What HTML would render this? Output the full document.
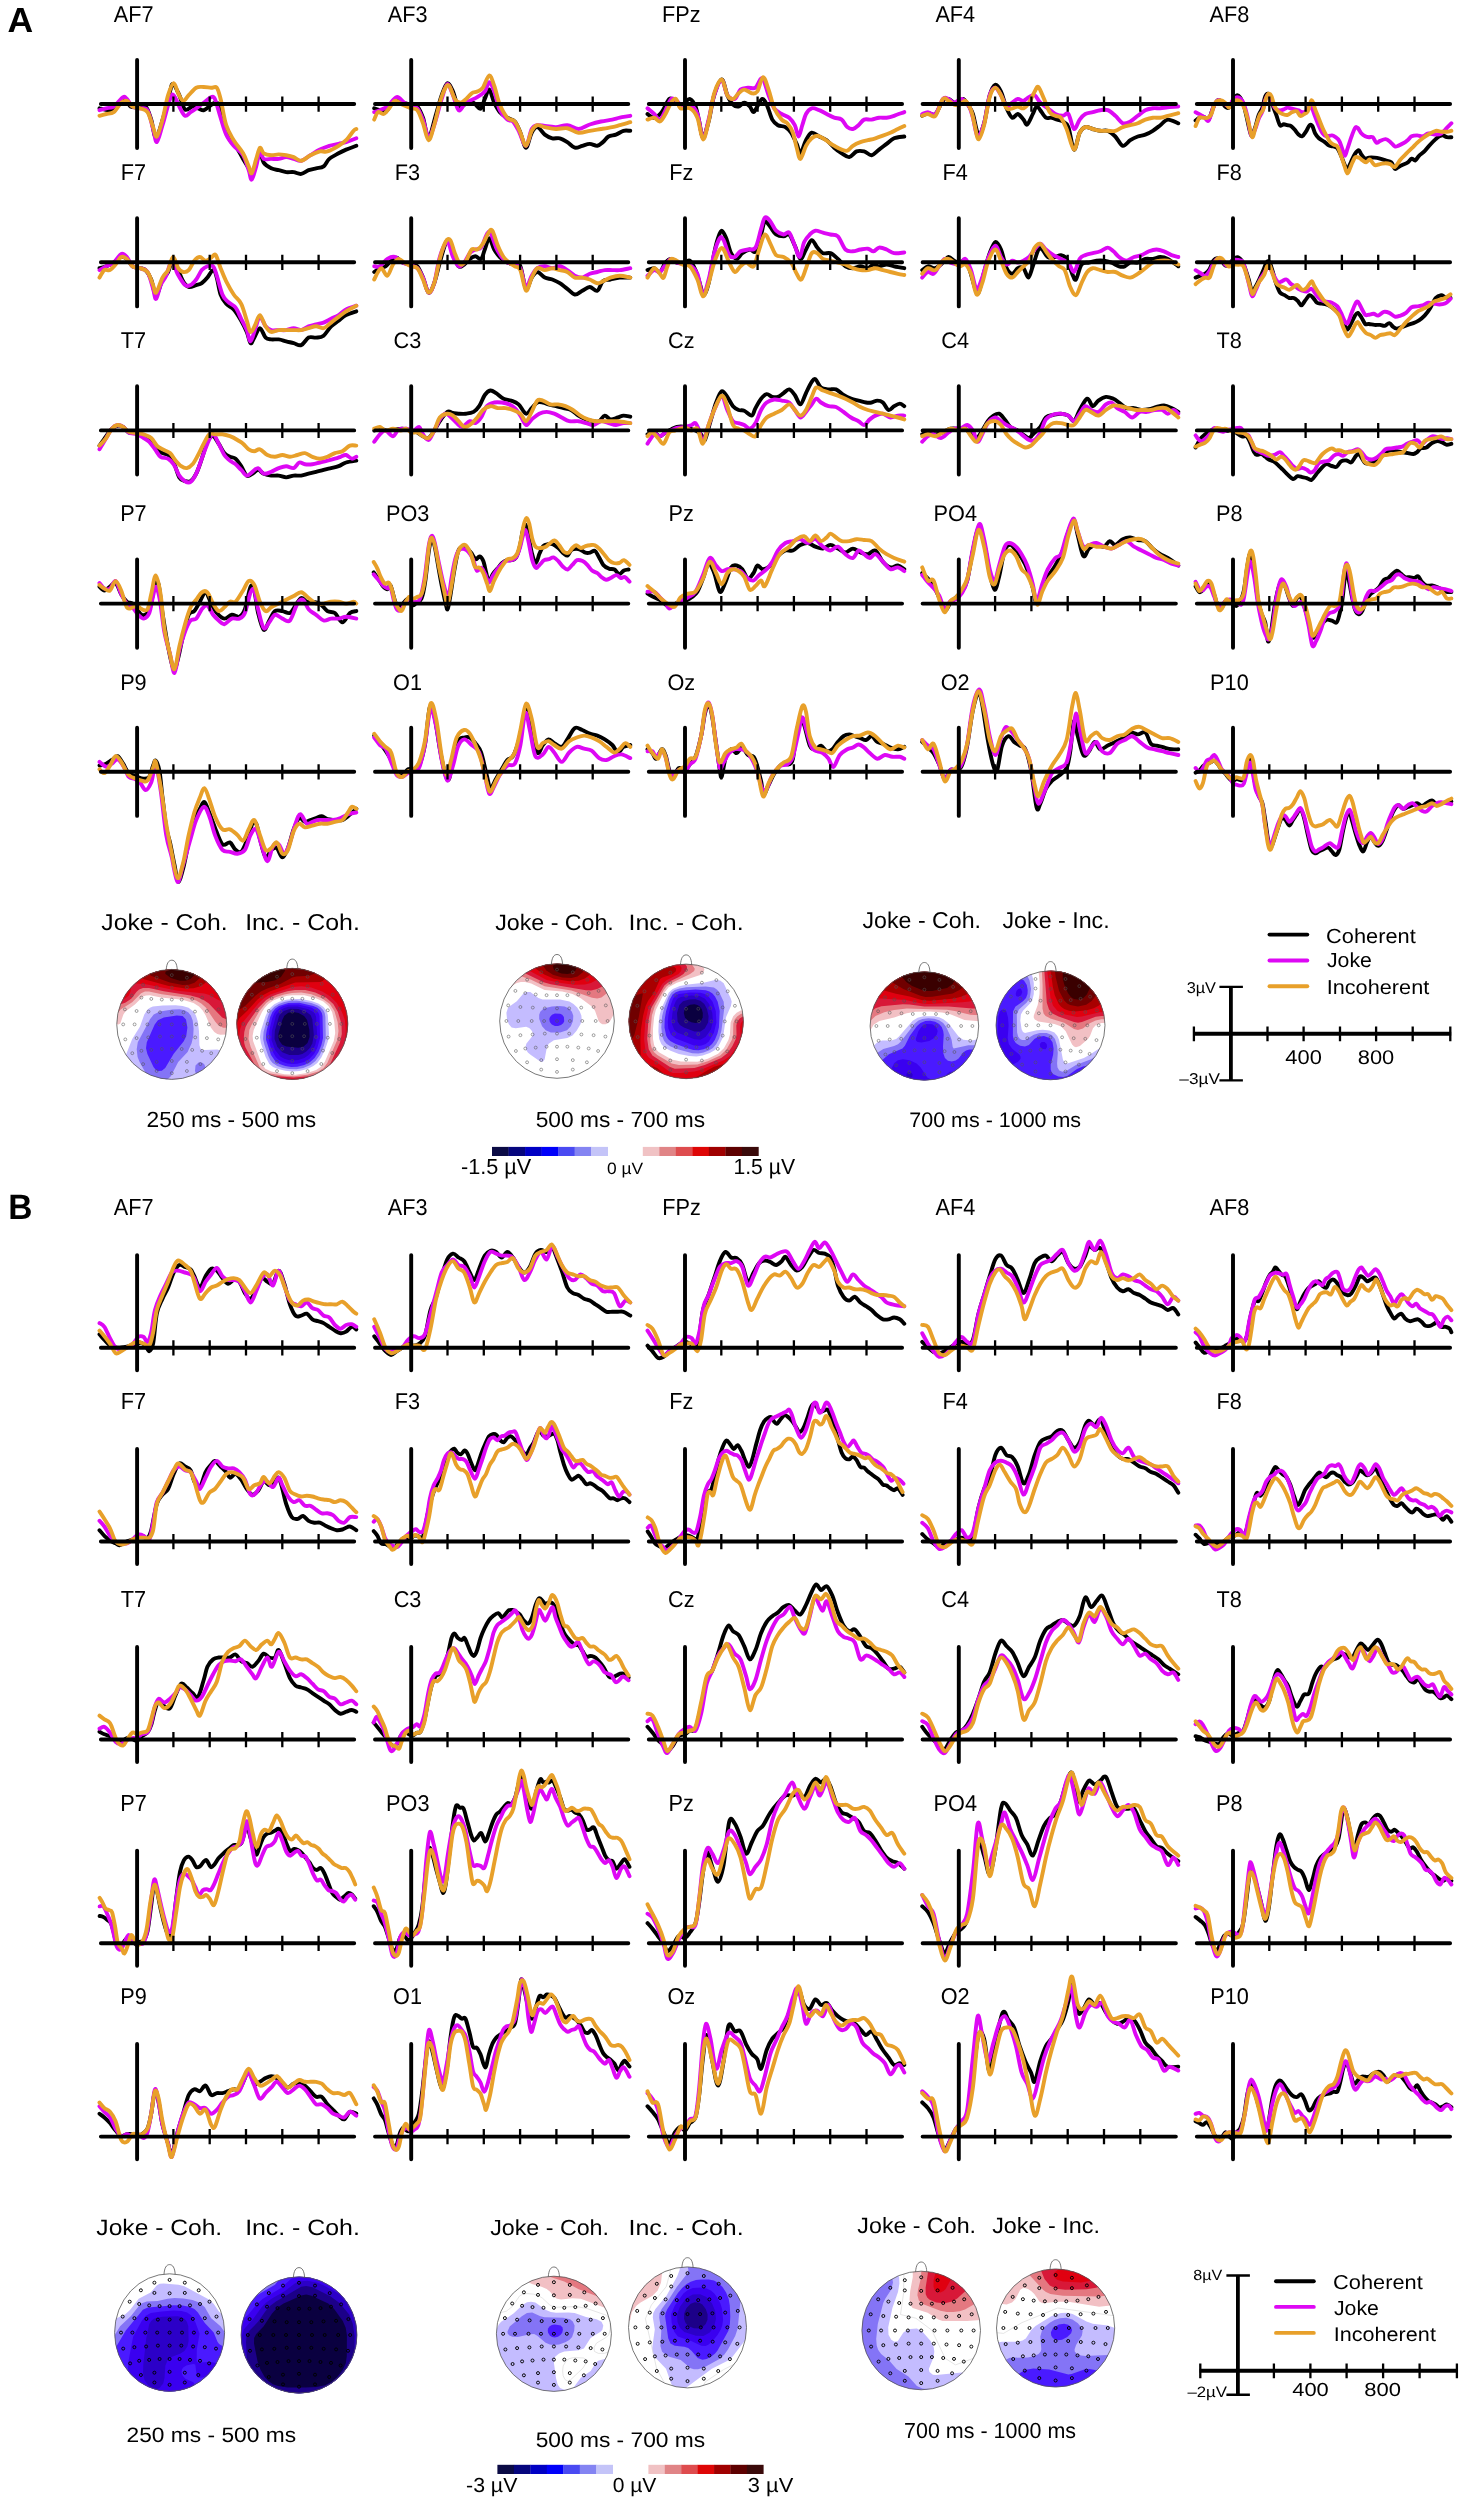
<!DOCTYPE html>
<html><head><meta charset="utf-8"><style>
html,body{margin:0;padding:0;background:#fff;}
svg{display:block;font-family:"Liberation Sans",sans-serif;}
svg{will-change:transform;}
text{text-rendering:geometricPrecision;}
</style></head><body>
<svg xmlns="http://www.w3.org/2000/svg" width="1462" height="2500" viewBox="0 0 1462 2500">
<text transform="matrix(0.3559 0 0 0.3478 7.48 32.00)" font-size="100" font-weight="bold">A</text><text transform="matrix(0.3345 0 0 0.3511 8.34 1219.42)" font-size="100" font-weight="bold">B</text><g fill="none" stroke-linejoin="round" stroke-linecap="round" stroke-width="3.9"><path d="M99.5,108.3c1.7,.4 7.5,2.4 10.5,1.9s5-2.8 7.5-4.5s5.3-5.7 7.5-5.6s3.6,5.2 5.6,6.4s3.9,.7 6.4,.7s6.2-2.8 8.6-.7s3.9,8 5.6,13.1s2.7,18.5 4.9,17.6s5.9-15.6 8.2-23.2s4.2-17.5 5.7-22.5s1.4-8.1 3-7.5s4.3,7 6.3,11.2s3.5,12.4 5.7,14.3s5.3-2.8 7.5-3s3.7,1.2 5.6,1.8s3.7,2.2 5.6,1.9s3.7-2.5 5.6-3.7s4-3.7 5.6-3.8s3-.7 4.5,3s3.2,13.8 4.9,19.5s3.8,11.6 5.6,15s3.5,2.5 5.7,5.6s5.3,9.4 7.5,13.1s4.1,6.9 5.6,9.4s1.7,6.6 3,5.6s3.1-7.5 4.5-11.2s2.5-11.3 3.7-11.3s1.9,8.5 3.8,11.3s5,4.4 7.5,5.6s5,1.3 7.5,1.9s5,1.5 7.5,1.9s5-.4 7.5,0s5,2.2 7.5,1.8s5-2.8 7.4-3.7s5-1.3 7.5-1.9s5.4-.3 7.5-1.9s3.2-5.3 5.7-7.5s6.5-4 9.3-5.6s4.6-2.5 7.5-3.7s8.5-3.1 10.2-3.8" stroke="#000000" /><path d="M99.5,110.2c1.1-.3 4.4-1.2 6.7-1.9s4.7,0 7.5-1.8s7.2-8.2 9.4-9.4s2.2,.3 3.8,1.9s3.4,5.9 5.6,7.5s5,1.2 7.5,1.8s5.3-1.5 7.5,1.9s4,13.5 5.6,18.8s2.2,13.7 3.7,13.1s3.5-9.7 5.7-16.9s5.6-21.2 7.5-26.2s2.1-5 3.7-3.8s3.8,7.8 5.6,11.3s3.8,8.4 5.7,9.3s3.7-2.5 5.6-3.7s3.4-2.2 5.6-3.8s5-3.7 7.5-5.6s5.6-5 7.5-5.6s2.2-1.6 3.7,1.9s3.8,12.8 5.7,18.7s3.4,12.2 5.6,16.9s4.7,7.8 7.5,11.2s6.9,5.3 9.4,9.4s4.1,10.9 5.6,15s1.7,10 3,9.4s3.1-8.5 4.5-13.2s2.5-13.7 3.7-15s1.9,6.3 3.8,7.5s5,0 7.5,0s5,.4 7.5,0s5-1.8 7.5-1.8s5,1.2 7.5,1.8s4.6,2.5 7.5,1.9s6.2-3.7 9.3-5.6s6.3-4.1 9.4-5.6s6.2-2.8 9.4-3.8s6.5-1.2 9.3-1.9s4.6-.9 7.5-1.8s8.5-3.1 10.2-3.8" stroke="#dd08f4" /><path d="M99.5,115.8c1.1-.3 4.4-1.2 6.7-1.8s5,0 7.5-1.9s5.4-7.5 7.5-9.4s3.8-2.5 5.7-1.9s3.4,4.4 5.6,5.7s5,.9 7.5,1.8s5.3,.7 7.5,3.8s4,10.9 5.6,15s2.2,10.6 3.7,9.4s3.8-10 5.7-16.9s3.7-18.3 5.6-24.4s3.9-11.7 5.6-12s2.9,7.2 4.5,10.1s3.1,7.2 4.9,7.5s3.4-3.4 5.6-5.6s5-6.1 7.5-7.5s5-.7 7.5-.7s5.3,.6 7.5,.7s4.1-1.8 5.6,0s2.2,5 3.8,11.3s3.4,19.3 5.6,26.2s4.7,10.3 7.5,15s6.9,8.7 9.4,13.1s4.1,9.8 5.6,13.1s1.7,8 3,6.8s3.1-10 4.5-14.3s2.5-10.3 3.7-11.2s1.9,4.4 3.8,5.6s5,1.7 7.5,1.9s5-.8 7.5-.8s5,.4 7.5,.8s5,.9 7.5,1.9s4.6,4 7.5,3.7s6.2-4 9.3-5.6s6.6-3.1 9.4-3.8s4.4,1 7.5,0s8.1-3.7 11.2-5.6s5-3.1 7.5-5.6s5.8-7.5 7.5-9.4s2.2-1.5 2.7-1.8" stroke="#e8a02a" /><path d="M374.2,108.3c1,.4 3.8,1.3 5.7,1.9s3.7,2.8 5.6,1.9s3.7-5.3 5.6-7.5s3.8-5.3 5.6-5.6s3.3,2.8 5.7,3.7s6.1,1.3 8.6,1.9s4.4-.3 6.4,1.9s3.7,6.1 5.6,11.2s3.4,20.1 5.6,19.5s5.3-16.2 7.5-23.2s3.7-13.7 5.6-18.8s3.8-11.3 5.6-12s3.8,4.1 5.7,8.3s3.7,14.7 5.6,16.8s3.7-2.9 5.6-3.7s4.1-.8 5.6-1.1s2.5-1.3 3.8-.8s2.5,2.8 3.7,3.8s2.5,3.1 3.8,1.8s2.3-6.2 3.7-9.3s3-10 4.5-9.4s3.1,9.4 4.9,13.1s3.4,6.9 5.6,9.4s5,4 7.5,5.6s5.3,1.3 7.5,3.8s3.8,6.8 5.6,11.2s3.8,15 5.6,15s3.8-11.6 5.7-15s3.4-5.9 5.6-5.6s5,5.6 7.5,7.5s5,3.1 7.5,3.7s5-.6 7.5,0s5,2.2 7.5,3.8s5,5 7.5,5.6s5-1.2 7.5-1.9s5-1.9 7.5-1.9s5.3,2.2 7.5,1.9s3.7-2.2 5.6-3.7s3.4-4.4 5.6-5.6s5-1 7.5-1.9s5.1-3.1 7.5-3.8s5.6,0 6.8,0" stroke="#000000" /><path d="M374.2,112.1c1-.3 3.5-.9 5.7-1.9s4.7-1.5 7.5-3.7s6.5-8.8 9.3-9.4s5.2,4.1 7.5,5.6s4.6,2.8 6.8,3.8s4.4-.3 6.4,1.8s3.7,6.5 5.6,11.3s3.7,16.7 5.6,17.6s3.4-5.6 5.6-12s5.3-19.4 7.5-26.2s3.8-14.4 5.6-15s3.8,6.8 5.7,11.2s3.7,13.5 5.6,15s3.7-4 5.6-5.6s3.4-2.5 5.6-3.8s5-2.1 7.5-3.7s5.5-3.1 7.5-5.6s3-9.4 4.5-9.4s3.1,4.7 4.9,9.4s3.4,14 5.6,18.7s5.3,7.5 7.5,9.4s3.8,0 5.6,1.9s3.5,5.3 5.7,9.3s5.3,15.3 7.4,15s3.8-13.4 5.7-16.8s3.4-3.3 5.6-3.8s4.4,.4 7.5,.8s7.5,1.2 11.2,1.1s7.5-2.2 11.3-1.9s7.5,3.9 11.2,3.8s7.5-3.3 11.3-4.5s7.5-2.2 11.2-3s8.1-1.3 11.3-1.9s4.5-1.3 7.5-1.9s8.7-1.5 10.5-1.9" stroke="#dd08f4" /><path d="M374.2,119.6c.7-1.3 2.2-6.6 3.8-7.5s3.7,2.5 5.6,1.9s3.8-3.5 5.6-5.7s3.5-6.8 5.7-7.5s4.8,2.6 7.5,3.8s6.1,2.8 8.6,3.7s4.4-.6 6.4,1.9s3.7,8.1 5.6,13.1s3.7,16.6 5.6,16.9s3.7-8.7 5.6-15s3.8-16.2 5.6-22.5s4.1-12.2 5.7-15s2.1-3.7 3.7-1.9s3.8,10.4 5.6,13.2s3.8,3.7 5.7,3.7s3.7-2.2 5.6-3.7s3.7-4.4 5.6-5.7s3.8-.9 5.6-1.8s3.7-1.1 5.6-3.8s4.5-12 6.4-12.3s3.1,5.6 4.9,10.4s3.4,13.5 5.6,18.8s5,10.3 7.5,13.1s5.3,1.3 7.5,3.8s3.8,7.1 5.6,11.2s3.8,13.4 5.6,13.1s3.8-11.5 5.7-15s3.4-5 5.6-5.6s4.4,1.3 7.5,1.9s7.5,1.7 11.2,1.9s7.5-1.4 11.3-.8s7.5,4.1 11.2,4.5s7.5-1.2 11.3-1.9s7.5-1.2 11.2-1.8s8.1-1.3 11.3-1.9s4.5-1.1 7.5-1.9s8.7-2.5 10.5-3" stroke="#e8a02a" /><path d="M647.5,114c1.1,.6 4.4,4 6.7,3.7s5-2.5 7.5-5.6s5.4-11.3 7.5-13.1s3.8,.6 5.7,1.8s3.9,5.4 5.6,5.7s2.9-2.5 4.5-3.8s3.1-4.4 4.9-3.7s4,3.7 5.6,7.5s2.5,9.8 3.7,15s2.2,15.7 3.8,15.7s3.7-8.7 5.6-15.7s3.4-19.3 5.6-26.3s5.3-15.7 7.5-15.7s3.8,11.5 5.6,15.7s3.8,7.5 5.7,9.4s3.7,2.2 5.6,1.9s3.7-3.8 5.6-3.8s4.1,2.2 5.6,3.8s2.5,5.6 3.8,5.6s2.3-3.4 3.7-5.6s3.3-7.2 4.9-7.5s2.8,2.2 4.5,5.6s3.7,11.6 5.6,15s3.5,4.4 5.6,5.6s5.4,.6 7.5,1.9s3.8,2.8 5.7,5.6s4,7.8 5.6,11.2s2.2,10 3.7,9.4s3.8-9.7 5.6-13.1s3.5-6.9 5.7-7.5s5,2.5 7.5,3.8s5,1.8 7.5,3.7s5,5.3 7.5,7.5s5,4.1 7.5,5.6s5,4.1 7.5,3.8s5-4.7 7.4-5.7s5-.6 7.5,0s5.1,4.1 7.5,3.8s5-3.8 7.5-5.6s5-3.8 7.5-5.7s4.6-4.3 7.5-5.6s8.5-1.5 10.2-1.8" stroke="#000000" /><path d="M647.5,108.3c1.1,1 4.7,3.8 6.7,5.7s3.8,6.2 5.7,5.6s3.7-5.9 5.6-9.4s3.7-9.7 5.6-11.2s3.8,.6 5.6,1.8s3.5,5 5.7,5.7s5-3.2 7.5-1.9s5.3,3.7 7.5,9.4s3.7,23.4 5.6,24.3s3.7-11.5 5.6-18.7s3.4-17.8 5.6-24.4s5.3-15 7.5-15s3.5,11.9 5.6,15s5.3,4.7 7.5,3.8s3.5-7.5 5.7-9.4s5-1.6 7.5-1.9s5.1,1.6 7.5,0s4.5-10.6 6.7-9.3s4.4,11.8 6.4,16.8s3.4,10 5.6,13.1s5,4.1 7.5,5.7s5.3,1.8 7.5,3.7s4,4.4 5.6,7.5s2.5,11.3 3.7,11.3s2.5-7.5 3.8-11.3s2.2-8.4 3.7-11.2s3.5-5 5.7-5.7s5,1 7.5,1.9s5,2.5 7.5,3.8s5,2.8 7.5,3.7s5.3,.3 7.5,1.9s3.7,5.9 5.6,7.5s3.7,2.2 5.6,1.9s3.8-2.2 5.6-3.8s3.5-4.7 5.6-5.6s5.1,.3 7.5,0s5-1.6 7.5-1.9s5,.3 7.5,0s4.6-.9 7.5-1.9s8.5-3.1 10.2-3.7" stroke="#dd08f4" /><path d="M647.5,119.6c1.1-.3 4.7-2.2 6.7-1.9s3.8,4.4 5.7,3.8s3.7-4.4 5.6-7.5s3.9-8.8 5.6-11.3s3.3-4.7 4.9-3.7s2.2,7.8 4.5,9.3s6.5-1.5 9.4,0s5.3,4.2 7.5,9.4s3.7,21.1 5.6,21.7s3.7-10.3 5.6-17.9s3.4-21.2 5.6-28.2s5.3-14.1 7.5-13.8s3.8,12.5 5.6,15.7s3.8,4.1 5.7,3.8s3.7-4.1 5.6-5.7s3.4-3.7 5.6-3.7s5.3,3.4 7.5,3.7s3.7,.9 5.6-1.8s3.8-14 5.7-14.3s3.7,7.2 5.6,12.4s3.4,13.7 5.6,18.7s5.3,8.8 7.5,11.3s3.7,1.6 5.6,3.7s4.1,5.4 5.6,9.4s2.5,10.6 3.8,15s2.2,11.6 3.7,11.2s3.8-9.6 5.6-13.1s3.8-5.8 5.7-7.5s3.7-2.6 5.6-2.6s3.7,1.6 5.6,2.6s3.8,2.5 5.6,3.8s3.5,2.5 5.7,3.7s5.3,3 7.5,3.8s3.7,1.7 5.6,1.1s3.4-3.4 5.6-4.9s5-2.8 7.5-3.7s5-1.3 7.5-1.9s5-1.1 7.5-1.9s5-1.7 7.5-2.6s5-1.9 7.5-3s5.2-2.6 7.5-3.7s5.3-2.5 6.4-3" stroke="#e8a02a" /><path d="M922.2,115.8c1-.4 3.5-2.3 5.7-2.6s5,2.8 7.5,.8s5.3-10.7 7.5-13.2s3.7-2.1 5.6-1.8s3.9,3.1 5.6,3.7s3.3,.6 4.9,0s2.8-4.4 4.5-3.7s4,5 5.6,7.5s2.2,2.8 3.8,7.5s3.7,19 5.6,20.6s3.7-4.7 5.6-11.3s3.7-21.6 5.6-28.1s3.8-9.8 5.6-10.5s3.8,2.8 5.7,6.8s3.7,12.5 5.6,16.8s3.7,8.5 5.6,9.4s3.8-4 5.6-3.7s4.1,3.8 5.7,5.6s2.1,5.8 3.7,4.9s4.1-7.5 5.6-10.5s2.5-6.9 3.8-7.5s2.2,1.8 3.7,3.7s3.8,6.3 5.6,7.5s3.8-.3 5.7,0s3.7,1.3 5.6,1.9s3.7,.6 5.6,1.9s3.8,.9 5.6,5.6s3.8,21.5 5.6,22.5s3.8-13.1 5.7-16.9s3.4-5 5.6-5.6s5,1.2 7.5,1.9s5,1.5 7.5,1.8s5-.9 7.5,0s5,3.2 7.5,5.7s5,8.7 7.5,9.3s5-4 7.5-5.6s5-2.8 7.5-3.7s5-1 7.5-1.9s5-2.2 7.5-3.8s5-3.7 7.5-5.6s4.5-5.3 7.5-5.6s8.7,3.1 10.5,3.7" stroke="#000000" /><path d="M922.2,114c1-.3 3.5-1.9 5.7-1.9s5,4.1 7.5,1.9s5.3-12.5 7.5-15s3.7-.7 5.6,0s3.4,3.7 5.6,3.7s5-4.4 7.5-3.7s5.6,4.3 7.5,7.5s2.3,6.2 3.8,11.2s2.9,17.8 4.8,18.8s4.4-6.3 6.4-13.2s3.7-22.1 5.6-28.1s3.8-7.5 5.6-7.5s3.8,4.4 5.7,7.5s3.7,10 5.6,11.3s3.7-2.5 5.6-3.8s3.8-3.4 5.6-3.7s3.8,2.2 5.7,1.8s3.7-2.8 5.6-3.7s3.7-2.8 5.6-1.9s3.4,5.3 5.6,7.5s5,3.8 7.5,5.6s5,4.4 7.5,5.7s5.3,1.8 7.5,1.8s3.8-4 5.6-1.8s3.8,14 5.6,15s3.8-6.9 5.7-9.4s3.4-4.4 5.6-5.6s5-1.3 7.5-1.9s5-1.6 7.5-1.9s5-.9 7.5,0s5,3.5 7.5,5.6s5,6.6 7.5,7.5s5-.6 7.5-1.8s5-3.8 7.5-5.7s5-4.3 7.5-5.6s5-1.5 7.5-1.9s5,.2 7.5,0s4.5-.8 7.5-1.1s8.7-.6 10.5-.7" stroke="#dd08f4" /><path d="M922.2,115.8c1-.3 3.5-1.8 5.7-1.8s5,4.3 7.5,1.8s5.3-14.3 7.5-16.8s3.7,.9 5.6,1.8s3.7,3.2 5.6,3.8s3.8,.6 5.6,0s3.8-4.7 5.7-3.8s4,5.4 5.6,9.4s2.5,10.1 3.7,15s2.2,14.2 3.8,14.2s3.7-7.1 5.6-14.2s3.7-21.9 5.6-28.1s3.8-9.1 5.6-9.4s3.8,4.1 5.7,7.5s3.7,11 5.6,13.1s3.7,.4 5.6,0s3.8-1.8 5.6-1.8s3.8,2.5 5.7,1.8s3.7-2.8 5.6-5.6s4-8.6 5.6-11.2s2.2-5.8 3.7-4.5s3.8,7.8 5.7,12s3.7,10.3 5.6,13.1s3.7,2.8 5.6,3.7s3.8-.3 5.6,1.9s3.5,6 5.7,11.3s5.3,19.9 7.4,20.6s3.8-13.1 5.7-16.9s3.4-5 5.6-5.6s5,1.2 7.5,1.9s5,1.5 7.5,1.8s5,0 7.5,0s5,.7 7.5,0s5-2.8 7.5-3.7s5-1.3 7.5-1.9s5-.9 7.5-1.9s5-2.8 7.5-3.7s5-1.6 7.5-1.9s5,.3 7.5,0s4.5-1.1 7.5-1.9s8.7-2.1 10.5-2.6" stroke="#e8a02a" /><path d="M1195.6,120.6c.6-.5 2.3-2.2 3.7-2.8s3.1-1.3 4.7-1s3.1,4.4 4.6,2.8s3.1-8.8 4.6-12s3.3-6.5 4.7-7.4s2.4,.7 3.7,1.8s2.5,3.7 3.7,4.7s2.5,1.7 3.7,.9s2.5-3.6 3.7-5.6s2.5-5.7 3.7-6.5s2.5,.2 3.7,1.9s2.6,5.1 3.7,8.3s1.6,6.2 2.8,11.1s3.2,16.7 4.6,18.6s2.5-4 3.8-7.4s2.4-9.6 3.7-13s2.6-4.3 3.7-7.4s1.8-8.8 2.8-11.1s1.8-3.1 2.7-2.8s1.9,2.3 2.8,4.6s1.9,6.5 2.8,9.3s1.7,4.5 2.8,7.4s2.4,8.6 3.7,10.2s2.4-.9 3.7-.9s2.5,.6 3.7,.9s2.5,.1 3.7,.9s2.5,2.3 3.7,3.7s2.5,3.6 3.7,4.7s2.5,2.3 3.7,1.8s2.5-2.8 3.7-4.6s2.6-5.6 3.7-6.5s1.9-.5 2.8,.9s1.7,5.4 2.8,7.4s2.2,3.3 3.7,4.7s3.9,2.4 5.6,3.7s3.1,2.9 4.6,3.7s3.2,.4 4.6,.9s2.5,.3 3.7,1.9s2.5,4.6 3.7,7.4s2.7,7.1 3.7,9.3s1.7,4.3 2.8,3.7s2.5-5 3.7-7.5s2.5-5.5 3.7-7.4s2.7-3.8 3.8-3.7s1.6,3.3 2.7,4.6s2.5,3.3 3.7,3.8s2.2-.8 3.8-1s3.7-.1 5.5,0s3.7,.5 5.6,1s3.7,1.2 5.5,1.8s4,.5 5.6,1.9s2.5,5.7 3.7,6.5s2.5-1.3 3.7-1.9s2.2-1.1 3.7-1.8s4-1.7 5.6-2.8s2.4-3.4 3.7-3.7s2.5,2.3 3.7,1.8s2.2-3.1 3.7-4.6s3.7-2.8 5.6-4.7s3.7-4.4 5.5-6.4s4-4.2 5.6-5.6s2.5-2.2 3.7-2.8s2.5-1.1 3.7-.9s2.3,1.5 3.7,1.8s3.9,0 4.6,0" stroke="#000000" /><path d="M1195.6,112.2c.6,.3 2.3,1.1 3.7,1.9s3.1,1.7 4.7,2.7s3.1,5.3 4.6,3.8s3.1-9.6 4.6-13s3.1-6.5 4.7-7.4s3.1,.9 4.6,1.8s3.4,3.1 4.7,3.7s1.8,1 2.7,0s1.7-4.1 2.8-5.5s2.5-2.5 3.7-2.8s2.5-.2 3.7,.9s2.5,2.5 3.7,5.6s2.5,7.7 3.7,12.9s2.5,16.4 3.7,18.6s2.5-2.8 3.8-5.6s2.4-8 3.7-11.1s2.6-4.3 3.7-7.4s1.8-8.3 2.8-11.1s1.8-5.1 2.7-5.6s1.9,.9 2.8,2.8s1.9,6.3 2.8,8.3s1.7,3 2.8,3.7s2.4,1 3.7,1s2.4-.5 3.7-1s2.5-1.7 3.7-1.8s2.5,.6 3.7,.9s2.5,.6 3.7,.9s2.5,.5 3.7,1s2.5,1.7 3.7,1.8s2.5,0 3.7-.9s2.6-4.3 3.7-4.6s1.9,1 2.8,2.7s1.7,4.7 2.8,7.4s2.5,6.5 3.7,9.3s2.5,5.7 3.7,7.4s2.2,2.5 3.7,2.8s4-1.1 5.6-.9s2.4,.9 3.7,1.8s2.6,1.9 3.7,3.7s1.8,5 2.8,7.5s1.8,7.4 2.7,7.4s1.7-4.3 2.8-7.4s2.5-7.8 3.7-11.2s2.7-7.7 3.7-9.2s1.8-1 2.8,0s2.5,4.1 3.7,5.5s2.5,2.2 3.7,2.8s2.5,.8 3.8,.9s2.4-.9 3.7,0s2.4,5 3.7,5.6s2.1-1.2 3.7-1.9s3.8-2 5.5-1.8s3.1,1.5 4.7,2.8s3.2,4 4.6,4.6s2.2-.3 3.7-.9s4-1.9 5.6-2.8s2.4-1.7 3.7-2.8s2.1-2.9 3.7-3.7s3.7-.9 5.5-.9s3.7,1.2 5.6,.9s3.4-2.5 5.6-2.8s5.2,1 7.4,1s3.7,.1 5.5-1s3.9-3.8 5.6-5.5s3.9-3.9 4.6-4.7" stroke="#dd08f4" /><path d="M1195.6,126.1c.6-1.4 2.5-6.9 3.7-8.3s2.4,0 3.7,0s3.3,.6 4.7,0s2.5-1.3 3.7-3.7s2.2-8.8 3.7-11.1s3.9-2.8 5.6-2.8s3.2,1.5 4.6,2.8s2.5,4.4 3.7,4.6s2.5-2.5 3.7-3.7s2.3-3.4 3.7-3.7s3.3,.3 4.6,1.8s2.5,4 3.8,7.4s2.4,8.4 3.7,13s2.4,14.2 3.7,14.8s2.4-7.4 3.7-11.1s2.4-8.3 3.7-11.1s2.6-2.8 3.7-5.6s1.8-8.5 2.8-11.1s1.8-4.3 2.7-4.6s1.9,.8 2.8,2.8s1.7,6.8 2.8,9.2s2.3,4.2 3.7,5.6s3.1,2.2 4.7,2.8s3,1.2 4.6,.9s3.1-2.2 4.6-2.8s3.3-1.5 4.7-.9s2.4,4.2 3.7,4.6s2.4-1.1 3.7-1.8s2.4-.5 3.7-2.8s2.5-10.8 3.7-11.1s2.5,6.1 3.7,9.2s2.5,6.2 3.7,9.3s2.5,6.5 3.7,9.3s2.5,5.1 3.7,7.4s2.5,4.9 3.7,6.5s2.5,2 3.7,2.8s2.5,0 3.7,1.8s2.5,5.9 3.7,9.3s2.7,8.2 3.7,11.1s1.7,6.8 2.8,6.5s2.5-5.7 3.7-8.3s2.5-6.2 3.7-7.5s2.5-.4 3.8,0s2.4,2 3.7,2.8s2.4,2 3.7,1.9s2.3-3.3 3.7-2.8s2.9,4.8 4.6,5.6s3.7-.7 5.6-1s3.8-.9 5.5-.9s3.1,.3 4.7,.9s2.9,3.6 4.6,2.8s3.7-5.2 5.6-7.4s3.7-3.7 5.5-5.6s3.7-3.7 5.6-5.5s3.7-3.9 5.5-5.6s3.7-3.2 5.6-4.6s3.4-2.5 5.6-3.7s5.2-3.3 7.4-3.7s3.7,.7 5.5,.9s3.9,.1 5.6,0s3.9-.8 4.6-.9" stroke="#e8a02a" /><path d="M99.5,268.2c1.1-.3 4.4-.9 6.7-1.9s5-2.1 7.5-3.7s5.4-5 7.5-5.6s3.8,.3 5.7,1.9s3.4,5.9 5.6,7.4s5.3,1.3 7.5,1.9s3.7,0 5.6,1.9s3.9,5.2 5.6,9.4s3,15.7 4.9,15.7s4.4-11.9 6.4-15.7s3.8-4.1 5.6-7.5s3.3-12.5 4.9-13.1s2.8,5.6 4.5,9.3s3.7,10 5.6,13.1s3.4,5 5.6,5.7s5.3-1.3 7.5-1.9s3.8-.6 5.6-1.9s3.8-3.4 5.6-5.6s4.1-7.5 5.7-7.5s2.5,3.4 3.7,7.5s2.2,12.5 3.8,16.9s3.4,6.8 5.6,9.3s5,2.8 7.5,5.6s5.3,7.5 7.5,11.3s4,7.5 5.6,11.2s2.5,10.3 3.8,11.3s2.1-3.1 3.7-5.6s3.7-9.4 5.6-9.4s3.8,7.5 5.7,9.4s3.4,1.5 5.6,1.8s5-.3 7.5,0s5,1.3 7.5,1.9s5,1.3 7.5,1.9s5,2.8 7.5,1.9s5-6.3 7.4-7.5s5,.3 7.5,0s5.1,0 7.5-1.9s5-6.9 7.5-9.4s5-3.7 7.5-5.6s4.6-4.1 7.5-5.6s8.5-3.2 10.2-3.8" stroke="#000000" /><path d="M99.5,270.1c1.1-.6 4.4-2.5 6.7-3.8s5-1.6 7.5-3.7s5.4-7.7 7.5-8.6s3.8,.9 5.7,3s3.4,7.5 5.6,9.3s5,1 7.5,1.9s5.3,.3 7.5,3.8s4.2,12.3 5.6,16.8s1.7,10.8 3,10.1s2.8-9.9 4.5-13.8s3.7-5.3 5.6-9.4s3.8-14.7 5.6-15s3.5,9.1 5.7,13.1s5.3,9.4 7.5,11.3s3.7,.9 5.6,0s3.7-3.1 5.6-5.6s3.8-7.2 5.6-9.4s3.8-3.1 5.6-3.8s4.1-1.5 5.7,0s2.2,4.7 3.7,9.4s3.8,14.4 5.6,18.8s3.5,5.3 5.7,7.4s5.3,2.9 7.5,5.7s3.7,7.5 5.6,11.2s4,7.5 5.6,11.3s2.3,11.5 3.8,11.2s3.3-9.1 4.8-13.1s2.8-10.9 4.5-11.3s3.8,7.2 5.7,9.4s3.4,3.1 5.6,3.8s5,0 7.5,0s5,.3 7.5,0s5-1.9 7.5-1.9s5,2.2 7.5,1.9s5-2.8 7.4-3.8s5-1.2 7.5-1.9s5.1-.9 7.5-1.8s5-2.5 7.5-3.8s5-2.2 7.5-3.7s4.6-4.1 7.5-5.7s8.5-3.1 10.2-3.7" stroke="#dd08f4" /><path d="M99.5,277.6c.8-1.3 3.1-6.3 4.9-7.5s3.7,.9 5.6,0s3.7-3.4 5.6-5.6s3.8-6.6 5.6-7.5s3.8,.3 5.7,1.9s3.4,5.9 5.6,7.4s5,1 7.5,1.9s5.3,1 7.5,3.8s4.2,9.6 5.6,13.1s1.4,8.7 3,7.5s4.4-11.3 6.4-15s3.8-4.1 5.6-7.5s3.2-12.8 4.9-13.1s3.5,8.7 5.2,11.2s3.1,3.5 4.9,3.8s3.7,0 5.6-1.9s3.8-7.2 5.6-9.4s3.8-3.7 5.6-3.7s3.8,3.6 5.7,3.7s3.9-2 5.6-3s2.9-4.4 4.5-2.6s3.1,8.7 4.9,13.1s3.4,8.8 5.6,13.1s5,9.4 7.5,13.2s5.3,5 7.5,9.3s4,12.2 5.6,16.9s2.3,10.6 3.8,11.2s3.3-4.6 4.8-7.5s2.8-9.6 4.5-9.3s3.8,8.4 5.7,11.2s3.4,5 5.6,5.6s5-1.5 7.5-1.8s5,0 7.5,0s5,0 7.5,0s5,.3 7.5,0s5-1.3 7.4-1.9s5-1.9 7.5-1.9s5.1,2.5 7.5,1.9s5-3.8 7.5-5.6s5-3.8 7.5-5.7s4.6-3.7 7.5-5.6s8.5-4.7 10.2-5.6" stroke="#e8a02a" /><path d="M374.2,272c1-.7 3.8-2.8 5.7-3.8s3.7-.6 5.6-1.9s3.7-4.1 5.6-5.6s3.8-3.3 5.6-3s3.3,3.8 5.7,4.9s6.1,1.2 8.6,1.9s4.4-.3 6.4,1.8s3.7,6.9 5.6,11.3s3.7,14 5.6,15s3.7-4.4 5.6-9.4s3.5-13.4 5.6-20.6s5.4-20.9 7.5-22.5s3.8,8.7 5.7,13.1s3.7,11.3 5.6,13.1s3.7-.6 5.6-1.8s3.8-4.3 5.6-5.6s3.8-2.7 5.6-2.7s4.1,3.8 5.7,2.7s2.3-6 3.7-9.4s3-11.3 4.5-11.3s3.1,8.2 4.9,11.3s3.4,5.3 5.6,7.5s5,4.4 7.5,5.6s5.3,1.2 7.5,1.9s3.8-2.2 5.6,1.8s3.8,20.7 5.6,22.5s3.8-8.4 5.7-11.2s3.4-5.6 5.6-5.6s5,4.3 7.5,5.6s5,.9 7.5,1.9s5,2.1 7.5,3.7s5,3.8 7.5,5.6s5,5.3 7.5,5.7s5-2.5 7.5-3.8s5-3.7 7.5-3.7s5.3,4.6 7.5,3.7s3.4-7.5 5.6-9.4s4.7-1.2 7.5-1.8s6-1.6 9.4-1.9s8.7,0 10.5,0" stroke="#000000" /><path d="M374.2,266.3c1,0 3.5,1.3 5.7,0s5-5.9 7.5-7.4s5-2.6 7.5-1.9s4.8,4.2 7.5,5.6s6.1,1.7 8.6,2.6s4.4,1 6.4,3s3.7,5.3 5.6,9.4s3.7,14 5.6,15s3.7-3.5 5.6-9.4s3.5-19.4 5.6-26.2s5.4-15 7.5-15s3.8,10.9 5.7,15s3.7,8.4 5.6,9.3s3.7-1.5 5.6-3.7s3.8-7.2 5.6-9.4s3.8-2.8 5.6-3.7s3.8,.6 5.7-1.9s4-10.6 5.6-13.1s2.2-4.1 3.7-1.9s3.8,10.9 5.7,15s3.7,6.9 5.6,9.4s3.4,4.4 5.6,5.6s5.3,.9 7.5,1.9s3.8,0 5.6,3.7s3.8,17.5 5.6,18.8s3.8-8.2 5.7-11.3s3.4-5.9 5.6-7.5s5-1.9 7.5-1.9s5,1.9 7.5,1.9s5-2.2 7.5-1.9s5,2.2 7.5,3.8s5,4.4 7.5,5.6s5,2.2 7.5,1.9s5-2.8 7.5-3.8s5-1.2 7.5-1.8s5-1.6 7.5-1.9s5,0 7.5,0s4.5,.3 7.5,0s8.7-1.6 10.5-1.9" stroke="#dd08f4" /><path d="M374.2,279.5c.7-1.3 2.6-5.7 3.8-7.5s2.2-4.4 3.7-3.8s3.8,8.1 5.7,7.5s3.7-8.4 5.6-11.2s3.7-5.3 5.6-5.6s3.6,2.5 5.6,3.7s4.6,2.8 6.8,3.7s4.4-.3 6.4,1.9s3.7,7.2 5.6,11.3s3.7,12.5 5.6,13.1s3.7-3.8 5.6-9.4s3.8-17.5 5.6-24.3s3.9-13.8 5.7-16.9s3.3-3.8 4.8-1.9s2.9,9.1 4.5,13.1s3.8,10 5.7,11.3s3.7-1.3 5.6-3.8s3.7-9.3 5.6-11.2s3.8,.9 5.6,0s3.8-2.8 5.6-5.7s4.1-9 5.7-11.2s2.2-4.1 3.7-1.9s3.8,10.7 5.6,15s3.8,8.5 5.7,11.3s3.7,4 5.6,5.6s3.7,2.5 5.6,3.7s3.8-.3 5.6,3.8s3.8,19.4 5.6,20.6s3.8-9.4 5.7-13.1s3.4-8.1 5.6-9.4s5,1.9 7.5,1.9s5-1.9 7.5-1.9s5,1.3 7.5,1.9s5,.6 7.5,1.9s5,4.7 7.5,5.6s5-.3 7.5,0s5,.9 7.5,1.9s5.3,3.4 7.5,3.7s3.4-.9 5.6-1.9s4.7-2.8 7.5-3.7s6-1.9 9.4-1.9s8.7,1.6 10.5,1.9" stroke="#e8a02a" /><path d="M647.5,270.1c1.1-.3 4.7-2.2 6.7-1.9s3.8,4.7 5.7,3.8s3.7-7.2 5.6-9.4s3.7-3.7 5.6-3.7s3.3,3.1 5.6,3.7s6.1,.3 8.3,0s3.1-3.1 4.9-1.9s4,6 5.6,9.4s2.3,7.1 3.7,11.2s3,13.6 4.5,13.9s3.2-5 4.9-12s4.1-22.5 5.6-30s2.5-11.2 3.8-15s2.3-7.5 3.7-7.5s2.9,3.8 4.5,7.5s3.1,11.6 4.9,15s3.7,5.7 5.6,5.7s3.4-4.1 5.6-5.7s5.3-3.4 7.5-3.7s3.8,4.3 5.7,1.8s4-11.8 5.6-16.8s2.2-11.9 3.7-13.1s3.8,3.4 5.6,5.6s3.5,5.9 5.7,7.5s5.3,1.9 7.5,1.9s3.7-3.5 5.6-1.9s3.7,7.2 5.6,11.2s3.8,12.5 5.6,13.2s3.8-6.3 5.6-9.4s3.8-9.1 5.7-9.4s3.7,5.3 5.6,7.5s3.4,4.7 5.6,5.6s5-.9 7.5,0s5,3.5 7.5,5.7s5,5.9 7.5,7.4s5,1.9 7.5,1.9s5-1.9 7.5-1.9s5.3,2.2 7.5,1.9s3.7-3.4 5.6-3.7s3.5,1.8 5.6,1.8s5-1.8 7.5-1.8s4.6,1.2 7.5,1.8s8.5,1.6 10.2,1.9" stroke="#000000" /><path d="M647.5,275.7c1.1-.9 4.7-5 6.7-5.6s3.8,2.8 5.7,1.9s3.7-5.3 5.6-7.5s3.7-5.3 5.6-5.6s3.3,2.8 5.6,3.7s5.8,1.2 8.3,1.9s4.7,.3 6.7,1.8s3.8,2.9 5.7,7.5s3.7,19.7 5.6,20.7s3.7-8.2 5.6-15s3.7-19.4 5.6-26.3s4.1-12.8 5.6-15s2.2-.9 3.8,1.9s3.7,12.2 5.6,15s3.8,2.5 5.6,1.9s3.5-4.4 5.7-5.7s5-1.2 7.5-1.8s5.3,1.5 7.5-1.9s4-13.7 5.6-18.7s2.2-10 3.7-11.3s3.8,1.6 5.6,3.8s3.5,7.1 5.7,9.3s5.3,3.5 7.5,3.8s3.7-3.8 5.6-1.9s3.9,9.1 5.6,13.1s3.3,11.9 4.9,11.3s2.8-11.3 4.5-15s3.7-5.6 5.6-7.5s3.4-3.5 5.6-3.8s5,1.3 7.5,1.9s5,1.3 7.5,1.9s5-.6 7.5,1.9s5,10.6 7.5,13.1s5,1.8 7.5,1.8s5-1.4 7.5-1.8s5.3-1.1 7.5-.8s3.7,2.8 5.6,2.6s3.5-3.4 5.6-3.7s5,.9 7.5,1.9s4.6,3.2 7.5,3.7s8.5-.6 10.2-.7" stroke="#dd08f4" /><path d="M647.5,277.6c1.1-1.6 4.7-8.8 6.7-9.4s4.1,4.1 5.7,5.6s2.5,5 3.7,3.8s2.5-8.1 3.8-11.3s2.1-6.5 3.7-7.4s3.8,.9 5.6,1.8s3.5,2.8 5.7,3.8s5-.7 7.5,1.8s5.3,8.2 7.5,13.2s3.7,16.2 5.6,16.8s3.7-7.5 5.6-13.1s3.7-15 5.6-20.6s4.1-10.9 5.6-13.1s2.2-2.2 3.8,0s3.7,9.4 5.6,13.1s3.8,8.7 5.6,9.4s3.8-4.1 5.7-5.7s3.4-3.7 5.6-3.7s5.3,5.9 7.5,3.7s3.7-11.5 5.6-16.8s3.7-14.1 5.6-15s3.8,5.9 5.6,9.3s3.5,9.1 5.7,11.3s5,.6 7.5,1.9s5.3,2.8 7.5,5.6s3.9,8.4 5.6,11.2s2.9,6.6 4.5,5.7s3.1-6.9 4.8-11.3s3.8-12.5 5.7-15s3.7-.9 5.6,0s3.4,4.4 5.6,5.7s5,1.2 7.5,1.8s5,1.3 7.5,1.9s5,.9 7.5,1.9s5,2.8 7.5,3.7s5,1.6 7.5,1.9s5,.3 7.5,0s5-1.9 7.5-1.9s5,1.3 7.5,1.9s5,1.2 7.5,1.9s5.2,1.3 7.5,1.8s5.3,1 6.4,1.2" stroke="#e8a02a" /><path d="M922.2,270.1c1-.6 3.5-3.4 5.7-3.8s5,2.5 7.5,1.9s5.3-3.7 7.5-5.6s3.7-5.3 5.6-5.6s3.9,2.8 5.6,3.7s3.1,1.9 4.9,1.9s3.9-2.8 5.6-1.9s2.8,3.1 4.5,7.5s4.1,14.7 5.6,18.8s2.2,8.1 3.8,5.6s3.7-14.1 5.6-20.6s3.7-13.8 5.6-18.8s3.8-10.6 5.6-11.2s3.8,3.1 5.7,7.5s3.7,14.7 5.6,18.7s3.7,5.6 5.6,5.6s3.8-4.6 5.6-5.6s3.9-1.5 5.7,0s3.3,9.7 4.8,9.4s2.8-6.6 4.5-11.3s4.1-14 5.6-16.8s2.2-1.3 3.8,0s3.4,6.2 5.6,7.5s5.3,.3 7.5,0s3.8-2.2 5.6-1.9s3.8,.6 5.7,3.8s4,11.5 5.6,14.9s2.2,7.2 3.7,5.7s3.5-12.2 5.6-15s5.1-1.3 7.5-1.9s5-1.6 7.5-1.9s5-.3 7.5,0s5,1 7.5,1.9s5.3,3.1 7.5,3.7s3.8,.7 5.7,0s3.4-3.1 5.6-3.7s5,.6 7.5,0s5-3.1 7.5-3.7s5,.3 7.5,0s5-1.9 7.5-1.9s4.5,.3 7.5,1.9s8.7,6.2 10.5,7.4" stroke="#000000" /><path d="M922.2,277.6c1-.9 3.8-5 5.7-5.6s3.7,2.8 5.6,1.8s3.7-5 5.6-7.5s3.8-6.8 5.6-7.4s3.3,2.8 5.7,3.7s6.1,2.5 8.6,1.9s4.4-6.6 6.4-5.6s3.7,6.2 5.6,11.2s3.7,17.5 5.6,18.7s3.7-6.2 5.6-11.2s3.5-13.4 5.6-18.7s5.4-12.9 7.5-13.2s3.8,8.1 5.7,11.3s3.7,6.8 5.6,7.5s3.7-3.5 5.6-3.8s3.8,1.9 5.6,1.9s3.8-.9 5.7-1.9s3.7-1.9 5.6-3.7s3.7-5.3 5.6-7.5s3.7-5.7 5.6-5.7s3.5,3.8 5.6,5.7s5,4 7.5,5.6s5,2.5 7.5,3.8s5.3,1.5 7.5,3.7s3.8,10 5.6,9.4s3.8-10.3 5.7-13.1s3.4-2.9 5.6-3.8s5-1.3 7.5-1.9s5-.9 7.5-1.9s5.3-3.7 7.5-3.7s3.7,2.2 5.6,3.7s3.4,4.1 5.6,5.7s5,3.7 7.5,3.7s5-2.8 7.5-3.7s5-1 7.5-1.9s5-2.8 7.5-3.8s5-1.8 7.5-1.8s5,.9 7.5,1.8s5.1,2.9 7.5,3.8s5.6,1.6 6.8,1.9" stroke="#dd08f4" /><path d="M922.2,273.8c1-.9 3.5-5 5.7-5.6s5,3.1 7.5,1.9s5.3-7.5 7.5-9.4s3.7-2.2 5.6-1.8s3.7,2.5 5.6,3.7s3.8,3.4 5.6,3.7s3.8-3.1 5.7-1.8s3.7,4.3 5.6,9.3s3.7,19.1 5.6,20.7s3.7-6 5.6-11.3s3.5-15 5.6-20.6s5.4-12.8 7.5-13.1s3.8,7.2 5.7,11.2s3.7,10.3 5.6,13.1s3.7,4.1 5.6,3.8s3.8-3.8 5.6-5.6s3.8-3.8 5.7-5.7s3.7-2.5 5.6-5.6s3.7-10.3 5.6-13.1s3.7-4.4 5.6-3.8s3.8,5 5.6,7.5s3.5,5.1 5.7,7.6s5.3,5.6 7.5,7.4s3.7,.4 5.6,3.8s3.7,12.7 5.6,16.9s3.8,8.8 5.6,8.2s3.8-8.1 5.6-12s3.8-8.7 5.7-11.2s3.4-3.5 5.6-3.8s5,1.3 7.5,1.9s5,1.6 7.5,1.9s5-.7 7.5,0s5,2.8 7.5,3.7s5,2.2 7.5,1.9s5-2.2 7.5-3.8s5-3.7 7.5-5.6s5-4.3 7.5-5.6s5-1.6 7.5-1.9s4.5-.6 7.5,0s8.7,3.1 10.5,3.8" stroke="#e8a02a" /><path d="M1195.6,277.6c.8-.3 3.1-1.2 4.7-1.8s3.1-.8 4.6-1.9s3.3-2.4 4.6-4.6s2.3-6.5 3.7-8.4s3.3-2.7 4.7-2.7s2.4,1.5 3.7,2.7s2.5,4.1 3.7,4.7s2.5,0 3.7-.9s2.3-3.4 3.7-4.7s3.1-2.9 4.6-2.8s3.4,2 4.7,3.7s1.7,3.6 2.8,6.5s2.4,7.1 3.7,11.2s2.4,11.7 3.7,12.9s2.4-3.4 3.7-5.5s2.4-4.8 3.7-7.4s2.5-5.6 3.7-8.4s2.6-7.1 3.7-8.3s1.9-.6 2.8,.9s1.7,4.8 2.8,8.3s2.4,9.5 3.7,13s2.3,6.5 3.7,8.4s3.1,1.8 4.6,2.7s3.1,2.4 4.6,2.8s3.3-.4 4.7,0s2.4,1.6 3.7,2.8s2.5,4.6 3.7,4.6s2.3-2.9 3.7-4.6s3.2-5.1 4.6-5.6s2.5,1.6 3.7,2.8s2.4,3.7 3.7,4.7s3.1,.6 4.7,.9s2.9,.3 4.6,.9s3.7,1.6 5.6,2.8s4,3.2 5.5,4.6s2.5,1.6 3.7,3.7s2.7,7 3.7,9.3s1.7,4.9 2.8,4.6s2.5-4.1 3.7-6.4s2.7-5.8 3.7-7.5s1.8-3.1 2.8-2.7s2.5,2.7 3.7,4.6s2.5,5.4 3.7,6.5s2.2-.2 3.8,0s3.7,.7 5.5,.9s3.9-.2 5.6,0s3.1,1.2 4.6,.9s3.2-2.9 4.6-2.7s2.5,2.7 3.7,3.7s2.2,1.8 3.8,1.8s3.7-1.2 5.5-1.8s3.7-1.3 5.6-1.9s3.7-1.1 5.5-1.8s3.7-1.6 5.6-2.8s3.7-2.7 5.6-4.7s3.7-4.4 5.5-7.4s3.7-8 5.6-10.2s4-2.6 5.5-2.8s2.2,1.4 3.8,1.9s4.6,.8 5.5,.9" stroke="#000000" /><path d="M1195.6,270.2c.8,.5 3.1,1.9 4.7,2.8s3.1,3.1 4.6,2.8s3.3-2.6 4.6-4.7s2.5-5.4 3.7-7.4s2.4-4 3.8-4.6s3.2,0 4.6,.9s2.5,3.7 3.7,4.7s2.3,1.7 3.7,.9s3.1-4.7 4.6-5.6s3.1-.3 4.7,0s3.4,0 4.6,1.9s1.7,5.2 2.8,9.2s2.6,10.7 3.7,14.9s1.7,9.6 2.8,10.2s2.3-3.6 3.7-6.5s3.2-8.4 4.6-11.1s2.5-3.6 3.7-5.6s2.6-5.9 3.7-6.5s1.7,1.1 2.8,2.8s2.5,5.2 3.7,7.4s2.5,4.8 3.7,5.6s2.3-.5 3.7-1s3.1-2.3 4.7-1.8s3.2,3.5 4.6,4.6s2.5,1.1 3.7,1.9s2.5,2 3.7,2.8s2.3,1.3 3.7,1.8s3.1,1.2 4.6,.9s3.3-3.1 4.7-2.7s2.5,3 3.7,4.6s2.5,3.4 3.7,4.6s2.5,2.2 3.7,2.8s2.2,.6 3.7,.9s3.7,.2 5.6,1s4,2 5.5,3.7s2.5,4 3.7,6.5s2.7,6.6 3.7,8.3s1.7,3.1 2.8,1.9s2.5-6.2 3.7-9.3s2.7-7.3 3.7-9.3s1.8-3.4 2.8-2.8s2.5,4.4 3.7,6.5s2.5,5.4 3.7,6.5s2.4,.2 3.8,0s3-1.1 4.6-.9s2.9,2.1 4.6,1.8s3.7-3.2 5.6-3.7s3.7,.2 5.5,1s3.7,3.2 5.6,3.7s3.7-.4 5.6-1s3.7-1.4 5.5-2.7s3.7-4.5 5.6-5.6s3.7-.6 5.5-.9s3.7-.3 5.6-1s3.7-2.4 5.6-2.7s3.7,.6 5.5,.9s3.7,.9 5.6,.9s3.7,0 5.6-.9s4.6-3.9 5.5-4.7" stroke="#dd08f4" /><path d="M1195.6,284.1c.8-.6 3.1-2.6 4.7-3.7s3.1-2.3 4.6-2.8s3.3,1.7 4.6,0s2.5-7.1 3.7-10.2s2.4-6.8 3.8-8.3s3.2-1.5 4.6-.9s2.5,3.2 3.7,4.6s2.3,3.4 3.7,3.7s3.1-1.5 4.6-1.8s3.1-.2 4.7,0s3.2-.8 4.6,.9s2.5,5.5 3.7,9.3s2.7,9.7 3.7,12.9s1.5,6.5 2.4,6.5s2-4.3 3.2-6.5s2.3-4.3 3.7-6.5s3.4-4 4.6-6.4s1.9-6.8 2.8-8.4s1.9-2.2 2.8-.9s1.7,5.4 2.8,8.3s2.4,7.3 3.7,9.3s2.3,2 3.7,2.8s3.1,1.2 4.6,1.8s3.1,2 4.6,1.9s3.3-2 4.7-2.8s2.3-2.3 3.7-1.8s3.1,4.1 4.6,4.6s3.1-.5 4.6-1.9s3.5-6.2 4.7-6.5s1.5,2.7 2.8,4.7s3.1,5.1 4.6,7.4s3.1,4.6 4.6,6.5s3,3.1 4.7,4.6s3.7,2.8 5.5,4.6s4,3.6 5.6,6.5s2.3,7.8 3.7,11.2s3.2,8.3 4.6,9.2s2.5-1.8 3.7-3.7s2.7-5.7 3.7-7.4s1.8-3.2 2.8-2.8s2.3,3.7 3.7,5.6s3.1,4.3 4.7,5.5s3.1,1.1 4.6,1.9s3.1,2.8 4.6,2.8s3-2.2 4.7-2.8s3.8-.6 5.5-.9s3.1-1.1 4.7-1s2.9,2.7 4.6,1.9s3.7-4.3 5.6-6.5s3.7-4.5 5.5-6.5s3.7-3.8 5.6-5.5s3.7-3.4 5.5-4.7s3.7-1.8 5.6-2.8s3.7-1.5 5.6-2.7s3.7-3.6 5.5-4.7s3.7-1.2 5.6-1.8s3.7-1 5.6-1.9s4.6-3.1 5.5-3.7" stroke="#e8a02a" /><path d="M99.5,445.6c1.1-1.6 4.7-6.6 6.7-9.4s3.8-5.7 5.7-7.5s3.7-2.7 5.6-3s3.7,0 5.6,1.2s3.3,4.5 5.6,5.6s5.8,.1 8.3,.7s4.4,1.6 6.7,3s5.3,3.5 7.5,5.6s3.8,5.7 5.6,7.5s3.8,2.8 5.7,3.8s3.7,.3 5.6,1.9s3.7,3.7 5.6,7.5s3.8,11.8 5.6,14.9s3.8,3.2 5.7,3.8s3.7,1.2 5.6,0s3.7-3.8 5.6-7.5s3.8-9.7 5.6-15s3.8-13.1 5.6-16.9s3.8-5.9 5.7-5.6s3.7,4.7 5.6,7.5s3.7,7.2 5.6,9.4s3.8,2.8 5.6,3.7s3.8,.3 5.7,1.9s3.7,4.7 5.6,7.5s3.7,8.1 5.6,9.4s3.8-1 5.6-1.9s3.8-3.8 5.7-3.8s3.4,2.9 5.6,3.8s5,1.6 7.5,1.9s5-.3 7.5,0s5,1.8 7.5,1.8s5-1.5 7.5-1.8s5,.3 7.5,0s5-1.3 7.4-1.9s5-1.2 7.5-1.9s5.1-1.2 7.5-1.9s5-1.2 7.5-1.8s5-1 7.5-1.9s4.6-2.8 7.5-3.7s8.5-1.6 10.2-1.9" stroke="#000000" /><path d="M99.5,449.3c1.1-1.8 4.7-7.8 6.7-11.2s3.8-7.2 5.7-9.4s3.7-3.4 5.6-3.7s3.7,.6 5.6,1.9s3.3,4.3 5.6,5.6s5.8,.9 8.3,1.8s4.7,2.5 6.7,3.8s3.8,1.9 5.6,3.7s3.8,5 5.7,7.5s3.4,6 5.6,7.5s5.3,.7 7.5,1.9s3.7,2.8 5.6,5.6s3.8,8.5 5.6,11.3s3.8,4.5 5.7,5.6s3.7,2 5.6,.7s3.7-4.3 5.6-8.2s3.8-10 5.6-15s3.8-10.9 5.6-15s3.8-9.4 5.7-9.4s3.7,6 5.6,9.4s3.7,8.4 5.6,11.3s3.8,4 5.6,5.6s3.8,2.2 5.7,3.7s3.7,3.8 5.6,5.6s3.7,5.4 5.6,5.7s3.8-2.5 5.6-3.8s3.8-4 5.7-3.7s3.4,5 5.6,5.6s5-.9 7.5-1.9s5-2.8 7.5-3.7s5-1.9 7.5-1.9s5.3,2.5 7.5,1.9s3.7-5 5.6-5.6s3.4,1.5 5.6,1.8s5,.3 7.5,0s5-1.2 7.5-1.8s5-1.3 7.5-1.9s5.3-1.3 7.5-1.9s3.7-1.2 5.6-1.9s3.8-2.2 5.6-1.8s4,3.4 5.7,3.7s3.7-1.6 4.5-1.9" stroke="#dd08f4" /><path d="M99.5,445.6c1.1-1.3 4.7-4.7 6.7-7.5s3.8-7.2 5.7-9.4s3.7-3.4 5.6-3.7s3.7,.7 5.6,1.9s3.3,3.8 5.6,4.8s5.8,1.1 8.3,1.5s4.4,.3 6.7,1.1s5.3,1.9 7.5,3.8s3.8,5.6 5.6,7.5s3.5,2.5 5.7,3.7s5.3,1.9 7.5,3.8s3.7,5.3 5.6,7.5s3.7,4.3 5.6,5.6s3.8,2.2 5.6,1.9s3.8-1.6 5.7-3.8s3.7-5.9 5.6-9.3s3.7-7.9 5.6-11.3s3.7-7.8 5.6-9.4s3.5,0 5.6,0s5-.3 7.5,0s5,1 7.5,1.9s5.4,2.5 7.5,3.8s3.8,2.1 5.7,3.7s3.7,4.4 5.6,5.6s3.7,1.9 5.6,1.9s3.4-2.5 5.6-1.9s5,4.4 7.5,5.7s5,1.8 7.5,1.8s5-1.8 7.5-1.8s5,1.8 7.5,1.8s5-1.2 7.5-1.8s5-2.2 7.5-1.9s5,2.8 7.5,3.7s5,1.9 7.5,1.9s5-.9 7.5-1.9s5-2.8 7.5-3.7s5-.6 7.5-1.9s5.2-4.7 7.5-5.6s5.3,0 6.4,0" stroke="#e8a02a" /><path d="M374.2,430.6c1-.3 3.5-1.9 5.7-1.9s5,1.8 7.5,1.9s5-.8 7.5-1.1s4.8-1 7.5-.8s6.1,1.3 8.6,1.9s4.4,.9 6.4,1.9s3.7,2.8 5.6,3.7s3.7,2.8 5.6,1.9s3.7-4.7 5.6-7.5s3.5-6.3 5.6-9.4s5.4-8 7.5-9.3s3.8,.8 5.7,1.1s3.4,.6 5.6,.7s5,.3 7.5,0s5.3-.6 7.5-1.8s3.7-2.9 5.6-5.7s3.7-8.6 5.6-11.2s3.8-4.2 5.6-4.5s3.5,1.2 5.7,2.6s5,4.4 7.5,5.6s5,1 7.5,1.9s5,1.6 7.5,3.8s5.3,8.7 7.4,9.3s3.8-3.7 5.7-5.6s3.7-4.7 5.6-5.6s3.7-.3 5.6,0s3.5,1.2 5.6,1.9s5,1.2 7.5,1.8s5,1.3 7.5,1.9s5,.6 7.5,1.9s5,4 7.5,5.6s5,2.8 7.5,3.8s5.3,1.5 7.5,1.8s3.8,1 5.6,0s3.8-5.3 5.7-5.6s3.4,3.4 5.6,3.8s5.3-1.3 7.5-1.9s3.5-1.8 5.6-1.9s5.6,.9 6.8,1.1" stroke="#000000" /><path d="M374.2,441.8c1-1.2 3.8-5.6 5.7-7.5s3.4-4 5.6-3.7s5.3,5.8 7.5,5.6s3.4-5.5 5.6-6.7s5-1 7.5-.8s5.3,2.2 7.5,1.9s4.1-4.4 5.6-3.7s2.2,5.3 3.8,7.4s3.7,6.3 5.6,5.7s3.7-6 5.6-9.4s3.8-8.4 5.6-11.2s3.8-5.4 5.7-5.7s3.7,2.2 5.6,3.8s3.7,4 5.6,5.6s3.4,4.1 5.6,3.8s5.3-5.1 7.5-5.7s3.8,2.5 5.6,1.9s3.8-2.8 5.7-5.6s3.4-8.8 5.6-11.3s5-3.1 7.5-3.7s5-.3 7.5,0s5.3,.9 7.5,1.9s3.7,1.8 5.6,3.7s3.8,4.7 5.6,7.5s3.8,8.7 5.6,9.4s3.5-3.8 5.7-5.6s5-4.4 7.5-5.7s5-1.8 7.5-1.8s5,.9 7.5,1.8s5,2.5 7.5,3.8s4.6,3.1 7.5,3.7s6.5-.3 9.3,0s5,1.3 7.5,1.9s5,2.2 7.5,1.9s5-3.5 7.5-3.8s5,1.3 7.5,1.9s5,1.9 7.5,1.9s5.1-1.6 7.5-1.9s5.6,0 6.8,0" stroke="#dd08f4" /><path d="M374.2,428.7c1-.3 3.8-2.2 5.7-1.8s3.4,3.4 5.6,3.7s5-1.9 7.5-1.9s5.3,1.9 7.5,1.9s3.9-2.2 5.6-1.9s3,3.1 4.9,3.8s4.4-.7 6.4,0s3.7,2.8 5.6,3.7s3.7,2.8 5.6,1.9s3.7-4.1 5.6-7.5s3.5-10.3 5.6-13.1s5.4-3.5 7.5-3.8s3.8,.7 5.7,1.9s3.7,3.7 5.6,5.6s3.7,5 5.6,5.7s3.4-.4 5.6-1.9s5.3-5 7.5-7.5s3.5-5.6 5.6-7.5s5-3.5 7.5-3.8s5,1.6 7.5,1.9s5-.3 7.5,0s5,.9 7.5,1.9s5.3,1.9 7.5,3.7s3.8,7.8 5.6,7.5s3.8-5.9 5.7-9.3s3.7-9.4 5.6-11.3s3.4-.6 5.6,0s5,3.1 7.5,3.8s5-.4 7.5,0s5,.9 7.5,1.8s5,2.2 7.5,3.8s5,4 7.5,5.6s5,2.8 7.5,3.8s5,1.5 7.5,1.8s5,0 7.5,0s5,0 7.5,0s4.2-.3 7.5,0s10.3,1.6 12.4,1.9" stroke="#e8a02a" /><path d="M647.5,434.3c1.1-.3 4.7-2.1 6.7-1.8s3.8,3.7 5.7,3.7s3.7-2.6 5.6-3.7s3.7-2.1 5.6-3s3.3-2.2 5.6-2.6s6.1-.4 8.3,0s3.1,1.2 4.9,1.8s3.7,1 5.6,1.9s4,2.2 5.6,3.7s2.2,7.9 3.8,5.7s3.7-12.5 5.6-18.8s3.7-13.7 5.6-18.7s3.7-10.3 5.6-11.3s3.8,3.2 5.6,5.7s3.8,7.1 5.7,9.3s3.7,3 5.6,3.8s3.4-.2 5.6,.7s5.6,5.3 7.5,4.9s2.2-4.7 3.8-7.5s3.7-7.1 5.6-9.4s3.7-4.1 5.6-4.5s3.7,2.2 5.6,2.7s3.8,.6 5.6,0s3.8-2.5 5.7-3.8s3.7-4.1 5.6-3.7s3.7,3.1 5.6,5.6s3.8,9.7 5.6,9.4s3.8-7.5 5.6-11.3s4.1-8.9 5.7-11.2s2.2-3.6 3.7-2.7s3.5,6.6 5.6,8.3s5,1.5 7.5,1.9s5-1 7.5,0s5,4 7.5,5.6s5,2.8 7.5,3.7s5,1.3 7.5,1.9s5.3,1.6 7.5,1.9s3.8,.3 5.6,0s3.8-1.9 5.7-1.9s3.7,.3 5.6,1.9s3.7,6.9 5.6,7.5s3.8-2.7 5.6-3.8s4-2.6 5.7-2.6s3.7,2.2 4.5,2.6" stroke="#000000" /><path d="M647.5,443.7c1.1-1.6 4.7-8.1 6.7-9.4s3.8,2.2 5.7,1.9s3.7-2.8 5.6-3.7s3.7-1.1 5.6-1.9s3.3-2 5.6-2.6s5.8-.6 8.3-1.1s5-1.3 6.7-1.9s2.5-2.8 3.8-1.9s2.5,4.4 3.7,7.5s2.2,12.2 3.8,11.2s3.7-11.5 5.6-16.8s3.4-10.3 5.6-15s5.3-13.1 7.5-13.1s3.8,9 5.6,13.1s3.8,9 5.7,11.2s3.7,1.3 5.6,1.9s3.7,.9 5.6,1.9s3.8,4 5.6,3.7s3.8-2.5 5.7-5.6s3.7-9.7 5.6-13.1s3.4-5.8 5.6-7.5s5-2.7 7.5-3s5,.6 7.5,1.1s5.3,.3 7.5,1.9s3.7,5 5.6,7.5s3.8,7.2 5.6,7.5s3.8-3.5 5.6-5.6s4-5.4 5.7-7.5s2.9-5.4 4.5-5.7s2.8,2.5 4.8,3.8s5,3 7.5,3.7s5-.2 7.5,.8s5,3.1 7.5,4.9s5,4 7.5,5.6s5.3,2.5 7.5,3.7s3.8,4.1 5.6,3.8s3.8-4.1 5.7-5.6s3.4-2.9 5.6-3.8s5-2.2 7.5-1.9s5,3.5 7.5,3.8s5.2-1.6 7.5-1.9s5.3,0 6.4,0" stroke="#dd08f4" /><path d="M647.5,436.2c.8-.6 3.1-4 4.9-3.7s3.7,3.7 5.6,5.6s3.7,6.5 5.6,5.6s3.8-9 5.6-11.2s3.8-1.3 5.7-1.9s3.7-1.4 5.6-1.9s3.7-1 5.6-.7s3.8,2.5 5.6,2.6s3.8-4.1 5.7-1.9s3.7,15.6 5.6,15s3.7-13.1 5.6-18.7s3.4-10.1 5.6-15s5.3-13.6 7.5-14.3s3.8,5.7 5.6,10.5s3.8,15 5.7,18.8s3.7,2.8 5.6,3.7s3.7,1 5.6,1.9s3.8,2.8 5.6,3.7s3.8,3.5 5.7,1.9s3.7-8.1 5.6-11.2s3.4-5.6 5.6-7.5s5-2.5 7.5-3.8s5-2.2 7.5-3.7s5.3-5.6 7.5-5.6s3.7,3.7 5.6,5.6s3.8,5.6 5.6,5.6s3.8-2.5 5.6-5.6s4-9.4 5.7-13.1s2.6-8.3 4.5-9.4s4.3,2.1 6.7,3s5,1.7 7.5,2.6s5,1.7 7.5,2.6s5,1.9 7.5,3s5,2.4 7.5,3.8s5,3.2 7.5,4.5s5,2.2 7.5,3s5,1.2 7.5,1.9s5,1.2 7.5,1.8s5,1.3 7.5,1.9s5.2,1.3 7.5,1.9s5.3,1.5 6.4,1.9" stroke="#e8a02a" /><path d="M922.2,434.3c1-.3 3.5-1.8 5.7-1.8s5,1.8 7.5,1.8s5-.9 7.5-1.8s4.8-3.2 7.5-3.8s6.1,0 8.6,0s4.4-.9 6.4,0s3.7,4.1 5.6,5.6s3.7,4.4 5.6,3.8s3.7-4.7 5.6-7.5s3.8-6.9 5.6-9.4s3.8-4.4 5.7-5.6s3.7-2.5 5.6-1.9s3.7,3.5 5.6,5.7s3.4,5.6 5.6,7.5s5,2.1 7.5,3.7s5.7,4.4 7.5,5.6s2.2,2.5 3.8,1.9s3.7-3.8 5.6-5.6s3.7-3.2 5.6-5.6s3.5-7.4 5.6-9.4s5-2 7.5-2.6s5-1.3 7.5-1.2s5.3,.7 7.5,1.9s3.8,6.6 5.6,5.6s3.5-7.5 5.7-11.2s5.3-10.6 7.5-11.3s3.7,7.2 5.6,7.5s3.4-4 5.6-5.6s5-3.4 7.5-3.7s5.3,.9 7.5,1.8s3.4,2.2 5.6,3.8s5,4.7 7.5,5.6s5-.3 7.5,0s5,1.7 7.5,1.9s5-.3 7.5-.8s5-1.6 7.5-2.2s5-1.7 7.5-1.5s5.1,1.5 7.5,2.6s5.6,3.1 6.8,3.8" stroke="#000000" /><path d="M922.2,441.8c1-.9 3.8-4.3 5.7-5.6s3.4-2.2 5.6-1.9s5,4.1 7.5,3.8s5.3-4.1 7.5-5.6s3.4-3 5.6-3.8s5.3-.1 7.5-.7s3.8-3.5 5.6-3s3.9,2.8 5.7,5.6s3.3,10.6 4.8,11.2s2.8-4.3 4.5-7.5s3.5-8.4 5.6-11.2s5.4-5.3 7.5-5.6s3.8,2.5 5.7,3.7s3.4,2.5 5.6,3.8s5,2.2 7.5,3.7s5,3.8 7.5,5.6s5.3,4.7 7.5,5.7s3.7,1.2 5.6,0s3.7-4.1 5.6-7.5s3.5-10.2 5.6-13.1s5-4 7.5-4.9s5-1 7.5-.8s5.3,.7 7.5,1.9s3.8,5.9 5.6,5.6s3.8-5 5.7-7.5s3.7-6.8 5.6-7.5s3.4,2.8 5.6,3.8s5,2.8 7.5,1.9s5.3-6 7.5-7.5s3.8-2.5 5.6-1.9s3.5,4 5.7,5.6s5,2.2 7.5,3.8s5,5.6 7.5,5.6s5-4.7 7.5-5.6s5,.3 7.5,0s4.9-1.6 7.4-1.9s5.4-.6 7.5,0s3.8,3.7 5.7,3.7s3.8-3.7 5.6-3.7s4,3.1 4.9,3.7" stroke="#dd08f4" /><path d="M922.2,436.2c1-.3 3.5-1.9 5.7-1.9s5,2.2 7.5,1.9s5-2.5 7.5-3.7s4.8-3.5 7.5-3.8s6.1,1.9 8.6,1.9s4.4-2.8 6.4-1.9s3.7,5.3 5.6,7.5s3.7,6.3 5.6,5.6s3.7-6.2 5.6-9.3s3.5-7.5 5.6-9.4s5.4-2.2 7.5-1.9s3.8,1.6 5.7,3.8s3.7,6.8 5.6,9.3s3.7,4.1 5.6,5.7s3.4,2.5 5.6,3.7s5.3,3.4 7.5,3.8s3.8-.7 5.7-1.9s3.7-3.8 5.6-5.6s3.7-3.5 5.6-5.7s3.7-5.6 5.6-7.4s3.5-3.2 5.6-3.8s5-.3 7.5,0s5.3,1.6 7.5,1.9s3.8,1.2 5.6,0s3.8-5 5.7-7.5s3.7-6.6 5.6-7.5s3.4,.9 5.6,1.9s5,4 7.5,3.7s5-3.9 7.5-5.6s5-3.9 7.5-4.5s5,.3 7.5,.7s5,1.3 7.5,1.9s5,1.6 7.5,1.9s5,0 7.5,0s5,.3 7.5,0s5-1.6 7.5-1.9s5.3-.6 7.5,0s3.5,2.2 5.6,3.8s5.6,4.6 6.8,5.6" stroke="#e8a02a" /><path d="M1195.6,447.5c.8-1.4 3.1-6.2 4.7-8.4s3.1-3.4 4.6-4.6s3.1-1.8 4.6-2.8s3.1-2.4 4.7-2.8s3.1,.7 4.6,1s3.1,.7 4.6,.9s3.1,.2 4.7,0s3.1-1.4 4.6-.9s3.1,2.6 4.6,3.7s3.1,2.3 4.7,2.8s3.2-1.1 4.6,0s2.5,3.8 3.7,6.5s2.6,7.2 3.7,9.2s1.6,2.5 2.8,2.8s3.2-1.2 4.6-.9s2.5,1.8 3.8,2.8s2.3,2 3.6,2.7s3.1,1 4.7,1.9s3.1,2.3 4.6,3.7s3.1,3.1 4.7,4.6s2.9,3.1 4.6,4.7s3.9,4.3 5.6,4.6s3-2.5 4.6-2.8s3.1,.6 4.6,.9s3.1,.5 4.6,1s3.1,2.4 4.7,1.8s3.1-3.7 4.6-5.5s3-3.9 4.7-5.6s3.7-4.2 5.5-4.6s3.9,1.4 5.6,1.8s3.1,1.7 4.6,.9s2.9-4.4 4.6-5.5s3.9-1.1 5.6-.9s3.1,2.6 4.6,1.8s3.4-5.1 4.7-6.5s1.8-2.1 2.8-1.8s1.6,2.1 2.7,3.7s2.3,4.6 3.7,5.5s3.1,.2 4.7,0s2.9,0 4.6-.9s3.7-2.9 5.6-4.6s3.7-4.3 5.5-5.6s3.7-1.7 5.6-1.8s3.7,.6 5.6,.9s3.7,.6 5.5,.9s3.7,.6 5.6,1s4,1 5.5,.9s2.5-1 3.7-1.9s2.2-2.9 3.7-3.7s3.8,0 5.6-.9s3.7-3.6 5.6-4.6s3.7-1.9 5.5-1.9s4,1.2 5.6,1.9s2.3,1.7 3.7,1.8s3.9-.8 4.6-.9" stroke="#000000" /><path d="M1195.6,435.4c.8,1 3.1,5 4.7,5.6s3.1-.8 4.6-1.9s3.1-2.7 4.6-4.6s3.1-5.9 4.7-6.5s3.1,2.2 4.6,2.8s3.1,1.1 4.6,.9s3.1-1.4 4.7-1.8s3.1-.6 4.6-1s3.2-.7 4.6-.9s2.5-.9 3.7,0s2.5,4.3 3.8,5.6s2.6,.6 3.7,1.8s1.7,3.3 2.7,5.6s2.4,6.5 3.8,8.3s3,2 4.6,2.8s3.1,1.3 4.6,1.9s3,1.7 4.6,1.8s3.8-.3 5.6-.9s4-2.9 5.6-2.8s2.4,2.5 3.7,3.7s2.3,2.2 3.7,3.7s3.1,4.1 4.6,5.6s3,3.2 4.7,3.7s3.8-1.1 5.5-.9s3.3,1.1 4.6,1.8s2.5,2.7 3.8,2.8s2.3-.3 3.7-1.8s2.9-5.9 4.6-7.5s3.9-1.3 5.6-1.8s3.1,0 4.6-.9s3.1-3.6 4.6-4.7s3.1-1.8 4.7-1.8s3.1,2.1 4.6,1.8s3.1-2.9 4.6-3.7s3-.4 4.7-.9s4-2 5.5-1.9s2.3,1.4 3.7,2.8s3,4.3 4.7,5.6s3.8,1.8 5.5,1.8s3.1-.9 4.7-1.8s3.1-2.3 4.6-3.7s2.9-3.7 4.6-4.7s3.7-.6 5.6-.9s3.7-.6 5.6-.9s3.8-.3 5.5-.9s3.1-2 4.7-2.8s2.9-1.3 4.6-1.9s3.8-2.1 5.5-1.8s3.1,3.7 4.7,3.7s2.9-2.5 4.6-3.7s3.7-3.3 5.6-3.7s3.7,.4 5.5,.9s4,1.7 5.6,1.8s2.3-.9 3.7-.9s3.9,.8 4.6,.9" stroke="#dd08f4" /><path d="M1195.6,446.6c.8-.3 3.1-1.3 4.7-1.9s3.1-.8 4.6-1.8s3.3-2.7 4.6-4.7s2.5-5.7 3.7-7.4s2.4-2.5 3.8-2.8s3,.8 4.6,.9s3.1-.3 4.6,0s3.1,1.4 4.6,1.9s3.1,.6 4.7,.9s3.1,.7 4.6,1s3.3,.3 4.7,.9s2.4,1.2 3.7,2.8s2.6,4.4 3.7,6.5s1.5,4.3 2.8,5.5s3.2,1.4 4.6,1.9s2.5,.4 3.7,.9s2.3,1.1 3.7,1.9s3.1,1.7 4.6,2.7s3.1,3.6 4.7,3.7s3.2-2.6 4.6-2.7s2.5,.7 3.7,1.8s2.5,3.1 3.7,4.6s2.5,3.6 3.7,4.7s2.5,2.1 3.7,1.8s2.5-2.1 3.7-3.7s2.5-4.6 3.7-5.5s2.4-.4 3.7,0s3.3,1.4 4.7,1.8s2.5,1.6 3.7,.9s2.5-3 3.7-4.6s2.3-3.2 3.7-4.6s3.1-2.8 4.6-3.7s3.3-1.9 4.7-1.9s2.3,1.6 3.7,1.9s3.1-.3 4.6,0s3,1.5 4.6,1.8s3.9,.2 5.6,0s3.3-.6 4.6-.9s2.7-1.4 3.8-.9s1.8,1.8 2.7,3.7s1.6,5.7 2.8,7.4s2.9,2.2 4.7,2.8s4,1.2 5.5,.9s2.3-1.2 3.7-2.8s3.1-5.2 4.6-6.5s3-.6 4.7-.9s3.7-.6 5.5-.9s3.9-.6 5.6-.9s3.2,.1 4.6-1s2.5-4 3.8-5.5s2.3-3.3 3.7-3.7s3,.1 4.6,.9s3.1,4.2 4.6,3.7s3-5.1 4.7-6.5s3.7-1.4 5.5-1.9s3.7-.4 5.6-.9s3.7-2 5.5-1.8s3.9,2.3 5.6,2.7s3.9,0 4.6,0" stroke="#e8a02a" /><path d="M99.5,586.7c.8,.6 3.1,3.8 4.9,3.8s3.7-2.5 5.6-3.8s3.7-5 5.6-3.7s3.8,8.1 5.6,11.2s3.8,5.9 5.7,7.5s3.9,.6 5.6,1.9s2.9,3.7 4.5,5.6s3.1,5 4.8,5.6s4.1,0 5.7-1.8s2.5-4.4 3.7-9.4s2.5-17.5 3.8-20.6s2.5-3.1 3.7,1.9s2.2,17.8 3.8,28.1s3.7,24.3 5.6,33.7s3.9,20.6 5.6,22.5s2.9-5.6 4.5-11.3s3.1-15.3 4.9-22.4s3.7-16.6 5.6-20.7s3.8-1.5 5.6-3.7s3.8-6.3 5.6-9.4s3.8-9.7 5.7-9.4s3.7,7.9 5.6,11.3s3.4,6.9 5.6,9.4s5,5.3 7.5,5.6s5-3.5 7.5-3.8s5.3,2.8 7.5,1.9s3.8-2.5 5.6-7.5s4.1-19.4 5.7-22.5s2.5-.6 3.7,3.8s2.2,15.9 3.8,22.5s3.7,15.6 5.6,16.8s3.7-6.2 5.6-9.3s3.4-7.9 5.6-9.4s5-.3 7.5,0s5.3,2.8 7.5,1.9s3.8-5 5.6-7.5s3.8-6.9 5.7-7.5s3.7,3.1 5.6,3.7s3.4-.3 5.6,0s5,.3 7.5,1.9s5,5.9 7.5,7.5s5,0 7.5,1.9s5,9.3 7.5,9.3s5.2-7.5 7.5-9.3s5.3-1.6 6.4-1.9" stroke="#000000" /><path d="M99.5,583c.8,.9 3.1,4.7 4.9,5.6s3.7,1.3 5.6,0s3.7-8.4 5.6-7.5s3.8,9.4 5.6,13.1s3.8,7.2 5.7,9.4s3.7,1.9 5.6,3.7s3.7,5.7 5.6,7.5s3.8,4.1 5.6,3.8s4.1-1.9 5.6-5.6s2.7-12.5 3.8-16.9s1.6-9.7 2.6-9.4s2.3,3.8 3.8,11.3s3.1,24.3 4.8,33.7s4,15.6 5.7,22.5s2.9,19.4 4.5,18.7s3.1-15.6 4.8-22.5s3.8-13.7 5.7-18.7s3.7-9.1 5.6-11.2s3.7,0 5.6-1.9s3.8-7.2 5.6-9.4s3.8-4.7 5.6-3.7s3.8,6.8 5.7,9.3s3.7,4.1 5.6,5.7s3.4,4 5.6,3.7s5-4.7 7.5-5.6s5.3,.9 7.5,0s3.8-1.3 5.6-5.6s4.1-16.9 5.7-20.7s2.5-4.6 3.7-1.8s2.2,12.5 3.8,18.7s3.7,16.6 5.6,18.8s3.7-3.5 5.6-5.7s3.4-6.8 5.6-7.5s5,2.8 7.5,3.8s5,4.4 7.5,1.9s5.3-13.5 7.5-16.9s3.8-4.7 5.6-3.8s3.5,6.9 5.6,9.4s5,3.8 7.5,5.6s5.1,5 7.5,5.7s5-1.6 7.5-1.9s5,.3 7.5,0s4.6-1.9 7.5-1.9s8.5,1.6 10.2,1.9" stroke="#dd08f4" /><path d="M99.5,584.9c.8,.6 3.1,2.8 4.9,3.7s3.7,3.1 5.6,1.9s3.7-9.4 5.6-9.4s3.8,5 5.6,9.4s3.8,14 5.7,16.8s3.9,.4 5.6,0s2.9-2.2 4.5-1.8s3.1,3.1 4.8,3.7s4.1,2.5 5.7,0s2.3-9.4 3.7-15s3-18.7 4.5-18.7s3.5,10 4.9,18.7s2.2,23.8 3.7,33.8s4,19.3 5.7,26.2s2.9,16.2 4.5,15s3.1-15 4.8-22.5s3.8-15.9 5.7-22.5s3.7-12.8 5.6-16.9s3.7-5 5.6-7.5s3.8-6.2 5.6-7.5s3.8-1.8 5.6,0s3.8,8.2 5.7,11.3s3.7,6.9 5.6,7.5s3.7-2.2 5.6-3.8s3.8-4.7 5.6-5.6s3.5,1.9 5.7,0s5.3-7.8 7.5-11.2s3.7-8.5 5.6-9.4s3.7,.3 5.6,3.8s3.7,12.4 5.6,16.8s3.8,8.4 5.7,9.4s3.4-2.5 5.6-3.8s5-2.5 7.5-3.7s5-2.5 7.5-3.8s5-2.5 7.5-3.7s5-4.1 7.5-3.8s5,3.8 7.4,5.7s5,4.7 7.5,5.6s5.1,.3 7.5,0s5-1.6 7.5-1.9s5-.3 7.5,0s5,1.9 7.5,1.9s5.8-1.9 7.5-1.9s2.2,1.6 2.7,1.9" stroke="#e8a02a" /><path d="M373.7,572.3c.8,1.1 3.1,4.3 4.7,6.6s3.1,5.8 4.7,7.5s3.4,3 4.6,2.8s1.8-5.3 2.9-3.7s2.5,9.3 3.7,13.1s2.5,8.3 3.8,9.4s2.5-1.6 3.7-2.9s2.5-3.5 3.8-4.6s2.4-2.7 3.7-1.9s2.5,5.9 3.7,6.5s2.4-1.7 3.8-2.8s3.3-.3 4.7-3.7s2.5-8.8 3.7-16.9s2.7-24.8 3.8-31.8s1.8-9.7 2.8-10.4s1.7,2.1 2.8,6.6s2.5,13.7 3.7,20.6s2.5,14.4 3.8,20.6s2.8,13.3 3.7,16.9s1.1,6.3 1.9,4.7s1.7-7.7 2.8-14.1s2.5-17.1 3.8-24.3s2.5-14.9 3.7-18.8s2.4-4 3.8-4.7s3.1,0 4.7,1s3.1,2.8 4.6,4.7s3.3,5.9 4.7,6.5s2.5-3.1 3.8-2.8s2.6,2 3.7,4.7s1.9,7.8 2.8,11.2s1.8,9.1 2.8,9.4s2.4-5.3 3.8-7.5s3.1-3.7 4.7-5.6s3.1-4.2 4.7-5.6s3.1-2.4 4.7-2.8s3.1,.4 4.6,0s3.3-.5 4.7-2.8s2.7-6.9 3.8-11.3s1.8-11.4 2.8-15s1.9-7.2 2.8-6.6s1.7,5.5 2.8,10.4s2.5,14 3.7,18.7s2.5,9.4 3.8,9.4s2.5-6.6 3.7-9.4s2.4-5.9 3.8-7.5s3.1-1.6 4.7-1.9s3-.6 4.7,0s3.7,2.2 5.6,3.8s4,4.4 5.6,5.6s2.5,2.5 3.8,1.9s2.3-4.6 3.7-5.6s3.1-1 4.7-1s3.1,.3 4.7,1s3.1,2.3 4.7,2.8s3.1,.3 4.6,0s3.3-2.5 4.7-1.9s2.4,3.3 3.8,5.6s3,6.4 4.7,8.5s3.7,2.9 5.6,3.7s3.9,0 5.6,.9s3.1,4.6 4.7,4.7s3.1-2.9 4.7-3.7s3.9-.8 4.7-1" stroke="#000000" /><path d="M373.7,574.2c.8,1 3.1,3.8 4.7,5.6s3.1,4.3 4.7,5.7s3.4,2.5 4.6,2.8s1.8-3.3 2.9-1s2.6,11.3 3.7,15s1.7,6.3 2.8,7.5s2.4,1.3 3.8,0s3.1-5.6 4.7-7.5s3.1-3.6 4.6-3.7s3.2,2.6 4.7,2.8s3.1,1.7 4.7-1.9s3.1-10.4 4.7-19.7s3.3-28.2 4.7-35.6s2.3-8.7 3.4-8.4s2,5.5 3.1,10.3s2.5,12.8 3.8,18.8s2.5,11.8 3.7,16.8s2.8,10.3 3.8,13.1s1.1,6.6 1.8,3.8s1.8-14.1 2.9-20.6s2.5-14.1 3.7-18.8s2.4-7.6 3.8-9.3s3.1-1.3 4.6-1s3.2,1.1 4.7,2.8s3.3,4.4 4.7,7.5s2.4,9.9 3.8,11.3s3.2-3.5 4.6-2.8s2.5,4 3.8,6.5s2.5,8.1 3.7,8.4s2.5-4.5 3.8-6.5s2.3-3.8 3.7-5.6s3.2-4.1 4.7-5.6s3-3 4.7-3.8s3.9-.3 5.6-.9s3.3-.8 4.7-2.8s2.7-6 3.8-9.4s1.8-8.3 2.8-11.3s1.9-7.1 2.8-6.5s1.7,5.4 2.8,10.3s2.5,14.2 3.7,18.7s2.5,7.5 3.8,8.5s2.3-1.6 3.7-2.8s3.2-3.8 4.7-4.7s3.2-.5 4.7-1s3.1-2.2 4.7-1.8s3.1,2.1 4.7,3.7s3.1,4.2 4.7,5.6s3.1,3.1 4.7,2.8s3.1-3.1 4.6-4.6s3-4.1 4.7-4.7s3.9,.1 5.6,.9s3.2,2.2 4.7,3.8s3,4.2 4.7,5.6s4.1,1.7 5.6,2.8s2.4,2.6 3.8,3.7s3.1,2.7 4.7,2.8s2.9-1 4.7-1.8s3.9-2.9 5.6-2.9s3.3,2.6 4.7,2.9s2.3-1.6 3.7-1s3.9,3.9 4.7,4.7" stroke="#dd08f4" /><path d="M373.7,562c.6,1.1 2.5,3.9 3.7,6.6s2.5,6.9 3.8,9.4s2.5,4.8 3.7,5.6s2.7-1.7 3.8-1s1.7,2.4 2.8,5.7s2.6,10.8 3.7,14s1.8,4.2 2.9,5.7s2.5,3.7 3.7,2.8s2.5-6.1 3.8-8.5s2.4-5 3.7-5.6s2.3,1.9 3.7,1.9s3.3-1.1 4.7-1.9s2.5,.3 3.8-2.8s2.5-8 3.7-15.9s2.7-25.2 3.8-31.9s1.7-8.7 2.8-8.4s2.5,5.1 3.7,10.3s2.5,14.4 3.8,20.6s2.6,11.9 3.7,16.9s2.1,10 2.8,13.1s1,7.8 1.9,5.6s2.5-11.9 3.8-18.7s2.5-16.6 3.7-22.5s2.5-10.2 3.8-13.1s2.5-4.1 3.7-4.7s2.4-.7 3.8,.9s3.2,5 4.6,8.4s2.4,10 3.8,12.2s3.3-.1 4.7,1s2.5,2.9 3.7,5.6s2.7,7.3 3.8,10.3s1.7,7.8 2.8,7.5s2.3-6.3 3.7-9.4s3.2-6.5 4.7-9.4s3.1-5.3 4.7-7.4s3.1-4.6 4.7-5.7s3.1,0 4.7-.9s3.3-1.7 4.7-4.7s2.6-8.4 3.7-13.1s1.9-11.3 2.8-15s1.9-7.2 2.8-7.5s1.9,2.3 2.8,5.6s1.8,10.2 2.8,14.1s2.4,7.6 3.8,9.3s3.1,1 4.7,1s3.1-.2 4.7-1s3.1-2.6 4.7-3.7s3.1-3.1 4.6-2.8s3.2,2.8 4.7,4.7s3.1,5.3 4.7,6.5s3.3,1.6 4.7,1s2.5-3.5 3.7-4.7s2.4-2.8 3.8-2.8s3.1,2.6 4.7,2.8s3.1-1.4 4.7-1.9s3.1-.8 4.6-.9s3.2-.7 4.7,0s3.2,2.2 4.7,3.7s3.1,3.8 4.7,5.6s3.1,4.3 4.7,5.7s3,2.3 4.7,2.8s3.9,.4 5.6,0s3-3.2 4.7-2.8s4.7,3.9 5.6,4.7" stroke="#e8a02a" /><path d="M647.5,593.6c1.1,.6 4.4,2.5 6.7,3.7s5,2.2 7.5,3.8s5,5.3 7.5,5.6s4.9-2.8 7.5-3.7s5.8-1 8.3-1.9s4.7-2.2 6.7-3.8s3.8-2.5 5.7-5.6s3.7-8.4 5.6-13.1s3.7-14.1 5.6-15s3.7,4.7 5.6,9.4s3.8,17.1 5.6,18.7s3.8-5.3 5.7-9.4s3.7-12.1 5.6-14.9s3.7-2.2 5.6-1.9s3.8,1.5 5.6,3.7s3.8,8.8 5.7,9.4s4-3.4 5.6-5.6s2.2-6.9 3.7-7.5s3.5,3.7 5.7,3.7s4.9-1.5 7.4-3.7s5-6.9 7.5-9.4s5-4.7 7.5-5.6s5,.9 7.5,0s5-4.4 7.5-5.6s5-2.2 7.5-1.9s5,2.8 7.5,3.7s5,2.2 7.5,1.9s5-3.7 7.5-3.7s5,2.5 7.5,3.7s5,3.8 7.5,3.8s5-3.8 7.5-3.8s5,2.8 7.5,3.8s5,2.1 7.5,1.8s5-5 7.5-3.7s5,8.4 7.5,11.2s5,5 7.5,5.7s5.2-2.2 7.5-1.9s5.3,3.1 6.4,3.7" stroke="#000000" /><path d="M647.5,591.7c1.1,0 4.7-.9 6.7,0s3.8,3.8 5.7,5.6s4,3.8 5.6,5.7s2.2,5.3 3.7,5.6s3.8-2.5 5.7-3.8s3.4-2.5 5.6-3.7s5-2.2 7.5-3.8s5-1.8 7.5-5.6s5.1-11.2 7.5-16.8s4.5-15.4 6.7-16.9s4.4,5.3 6.4,7.5s3.7,5 5.6,5.6s3.8-1.6 5.6-1.9s3.5-.3 5.7,0s5,.3 7.5,1.9s5.3,5.9 7.5,7.5s3.7,2.5 5.6,1.9s3.4-3.8 5.6-5.6s5.3-3.5 7.5-5.7s3.7-4.3 5.6-7.5s3.5-8.1 5.6-11.2s5-5.9 7.5-7.5s5-1.3 7.5-1.9s5-2.2 7.5-1.9s5,3.8 7.5,3.8s5-4.4 7.5-3.8s5,5.7 7.5,7.5s5,3.8 7.5,3.8s5-4.4 7.5-3.8s5,5.7 7.5,7.5s5.3,4.4 7.5,3.8s3.8-6.9 5.6-7.5s3.8,2.5 5.6,3.7s3.8,3.8 5.7,3.8s3.4-4.4 5.6-3.8s5,5 7.5,7.5s5,6.6 7.5,7.5s5.2-2.2 7.5-1.8s5.3,3.1 6.4,3.7" stroke="#dd08f4" /><path d="M647.5,586.1c1.1,.9 4.4,3.4 6.7,5.6s5,5.3 7.5,7.5s5.4,4.4 7.5,5.6s3.8,3.2 5.7,1.9s3.4-7.2 5.6-9.4s5-2.8 7.5-3.7s5,.6 7.5-1.9s5.1-8.1 7.5-13.1s4.5-15.9 6.7-16.9s4.4,7.5 6.4,11.3s3.7,11.2 5.6,11.2s3.8-8.7 5.6-11.2s3.8-3.5 5.7-3.8s3.7,.7 5.6,1.9s3.7,2.5 5.6,5.6s3.8,11.6 5.6,13.1s3.8-2.1 5.7-3.7s4-5.6 5.6-5.6s1.8,7.5 3.7,5.6s5-11.6 7.5-16.9s4.7-11.2 7.5-15s6.6-5 9.4-7.5s5-5.7 7.5-7.5s5.3-3.3 7.5-3s3.7,5 5.6,4.9s3.7-5.6 5.6-5.6s3.8,5.3 5.6,5.6s4.1-2.5 5.7-3.7s2.1-3.8 3.7-3.8s3.8,2.5 5.6,3.8s3.5,3.1 5.7,3.7s5,.3 7.5,0s5-1.7 7.4-1.9s5,.5 7.5,.8s5.1-.3 7.5,1.1s5,5.3 7.5,7.5s5,4.1 7.5,5.6s4.6,2.5 7.5,3.8s8.5,3.1 10.2,3.7" stroke="#e8a02a" /><path d="M922.2,573c1,.9 3.8,3.4 5.7,5.6s3.7,4.4 5.6,7.5s3.7,7.2 5.6,11.2s3.8,12.2 5.6,13.2s3.8-5.4 5.7-7.5s3.7-3.8 5.6-5.7s3.7-2.8 5.6-5.6s3.8-4.4 5.6-11.2s3.8-21.3 5.7-30s3.7-21.3 5.6-22.5s3.7,7.5 5.6,15s3.9,22.2 5.6,30s3.3,16.2 4.9,16.8s2.8-6.5 4.5-13.1s3.7-20.9 5.6-26.2s3.8-5.6 5.6-5.6s3.8,3.4 5.7,5.6s3.7,4.4 5.6,7.5s3.7,6.2 5.6,11.2s4.1,13.1 5.6,18.8s2.2,15 3.8,15s3.7-10.7 5.6-15s3.4-7.5 5.6-11.3s5-6.8 7.5-11.2s5.3-9.4 7.5-15s3.8-13.8 5.6-18.8s4.1-11.8 5.6-11.2s2.2,9.1 3.8,15s3.7,18.4 5.6,20.6s3.5-5.6 5.6-7.5s5-3.4 7.5-3.7s5.4,2.5 7.5,1.8s3.8-5.3 5.7-5.6s3.4,4.1 5.6,3.8s5-4.4 7.5-5.7s5-2 7.5-1.8s5,2 7.5,2.6s5-.3 7.5,1.1s5,5.3 7.5,7.5s5,4.1 7.5,5.6s4.5,1.9 7.5,3.8s8.7,6.2 10.5,7.5" stroke="#000000" /><path d="M922.2,574.9c1,1.2 3.8,5.3 5.7,7.4s3.7,3.5 5.6,5.7s3.7,4 5.6,7.5s3.8,12.1 5.6,13.1s3.8-6 5.7-7.5s3.7-.6 5.6-1.9s3.7-2.5 5.6-5.6s3.8-5.6 5.6-13.1s3.7-22.5 5.7-31.9s4.4-22.8 6.3-24.4s3.1,7.5 4.9,15s3.9,23.1 5.6,30s3.3,11.9 4.9,11.3s2.8-9.4 4.5-15s3.9-15 5.6-18.8s3-3.7 4.9-3.7s4.4,1.9 6.4,3.7s3.7,4.4 5.6,7.5s3.7,6.3 5.6,11.3s4.1,12.8 5.6,18.7s2.2,16.9 3.8,16.9s3.7-11.6 5.6-16.9s3.4-10.6 5.6-15s5.3-8.7 7.5-11.2s3.8,0 5.6-3.8s3.6-12.8 5.7-18.7s4.8-16.3 6.7-16.9s2.8,8.5 4.5,13.1s3.7,12.8 5.6,15s3.5-1.2 5.6-1.8s5-2.2 7.5-1.9s5,2.8 7.5,3.7s5,2.2 7.5,1.9s5-2.5 7.5-3.7s5-4.1 7.5-3.8s5,4.1 7.5,5.6s5,2.5 7.5,3.8s5,2.5 7.5,3.7s5,2.8 7.5,3.8s5,.9 7.5,1.9s5.1,2.8 7.5,3.7s5.6,1.6 6.8,1.9" stroke="#dd08f4" /><path d="M922.2,567.4c1,2.1 3.8,10.9 5.7,13.1s3.7-3.2 5.6,0s3.7,13.4 5.6,18.7s3.8,12.8 5.6,13.1s3.8-8.7 5.7-11.2s3.7-1.9 5.6-3.8s3.7-4.3 5.6-7.5s3.8-5.3 5.6-11.2s3.8-16.2 5.7-24.4s3.7-23.1 5.6-24.3s3.7,9 5.6,16.8s3.9,23.8 5.6,30s3.3,8.8 4.9,7.5s2.8-10 4.5-15s3.7-11.8 5.6-15s3.8-4 5.6-3.7s3.8,2.5 5.7,5.6s3.7,10 5.6,13.1s3.7,2.5 5.6,5.7s3.9,8.1 5.6,13.1s3,16.2 4.5,16.8s3.1-9 4.9-13.1s3.4-7.8 5.6-11.2s5-5.7 7.5-9.4s5.3-7.2 7.5-13.1s3.8-16.3 5.6-22.5s4.1-14.4 5.6-15s2.2,6.6 3.8,11.2s3.7,14.7 5.6,16.9s3.5-3.4 5.6-3.7s5,1.5 7.5,1.8s5-.3 7.5,0s5,2.2 7.5,1.9s5-2.5 7.5-3.7s5-2.9 7.5-3.8s5-1.5 7.5-1.9s5.3-.6 7.5,0s3.8,2.2 5.7,3.8s3.7,3.7 5.6,5.6s3.7,4.1 5.6,5.6s3.4,2.5 5.6,3.8s5.1,2.8 7.5,3.7s5.6,1.6 6.8,1.9" stroke="#e8a02a" /><path d="M1195.6,586.4c.6,.9 2.5,4.9 3.7,5.6s2.5-.5 3.7-1.9s2.5-5.7 3.8-6.5s2.4,0 3.7,1.9s2.4,5.8 3.7,9.2s2.4,9 3.7,11.2s2.4,2.6 3.7,1.8s2.5-5.2 3.7-6.5s2.5-1.4 3.7-.9s2.5,2.8 3.7,3.7s2.5,2.3 3.7,1.9s2.5-2.2 3.7-4.7s2.5-4.2 3.7-10.2s2.7-19.8 3.7-25.9s1.7-11.8 2.8-11.1s2.5,7.4 3.7,14.8s2.5,22.2 3.7,29.6s2.5,10.9 3.7,14.9s2.7,4.6 3.8,9.2s1.8,16.7 2.7,18.6s1.7-1.9 2.8-7.4s2.5-18.6 3.7-26s2.5-14.1 3.7-18.5s2.5-8.1 3.7-8.4s2.5,3.6 3.7,6.5s2.5,8.1 3.7,11.1s2.5,7.5 3.8,7.5s2.4-5.9 3.7-7.5s2.4-3.1 3.7-1.8s2.4,5.5 3.7,9.3s2.4,8 3.7,12.9s2.6,13.6 3.7,16.7s1.7,2.5 2.8,1.9s2.4-3.4 3.7-5.6s2.3-5.4 3.7-7.4s2.9-4 4.6-4.6s3.9,.4 5.6,.9s3.4,2.8 4.6,1.8s1.9-4 2.8-7.4s1.8-6.8 2.8-13s2-19.1 2.7-24.1s1.1-6.4 1.9-5.5s1.9,6.8 2.8,11.1s1.8,10.5 2.8,14.8s1.7,8.5 2.7,11.2s2.5,4.4 3.8,4.6s2.4-1.4 3.7-3.7s2.4-7.6 3.7-10.2s2.3-4 3.7-5.6s3.1-2.4 4.6-3.7s3.1-1.8 4.6-3.7s3.1-5.9 4.7-7.4s3.2-.9 4.6-1.9s2.3-2.4 3.7-3.7s3.3-3.5 4.7-3.7s2.3,1.7 3.7,2.8s3,3.1 4.6,3.7s3.1-.1 4.6,0s3.3,1.1 4.7,.9s2.4-2.4 3.7-1.8s2.3,4 3.7,5.6s2.9,3 4.6,3.7s3.7-.3 5.6,0s3.7,1 5.5,1.8s4,2 5.6,2.8s2.3,1.5 3.7,1.9s3.9,0 4.6,0" stroke="#000000" /><path d="M1195.6,581.8c.6,1.2 2.5,6 3.7,7.4s2.5,1.4 3.7,.9s2.5-3.2 3.8-3.7s2.4-.8 3.7,.9s2.4,6.2 3.7,9.3s2.4,7.7 3.7,9.3s2.4,.7 3.7,0s2.3-3.6 3.7-4.7s2.9-1.8 4.6-1.8s3.7,.9 5.6,1.8s4.2,4.2 5.5,3.7s1.7-1.4 2.8-6.5s2.7-17.9 3.7-24.1s1.7-13.2 2.8-12.9s2.5,8 3.7,14.8s2.5,18.5 3.7,25.9s2.5,13.3 3.7,18.6s2.5,9.9 3.8,13s2.4,6.8 3.6,5.5s2.5-6.2 3.8-13s2.4-20.3 3.7-27.8s2.6-13.5 3.7-16.6s1.7-2.8 2.8-1.9s2.4,4 3.7,7.4s2.4,9.9 3.7,13s2.4,4.9 3.7,5.6s2.4-1.3 3.7-1.9s2.5-2.8 3.7-1.9s2.5,3.4 3.7,7.5s2.5,10.6 3.7,16.6s2.5,17 3.7,19.5s2.3-2 3.7-4.6s3.3-7.4 4.7-11.1s2.3-8.4 3.7-11.2s2.9-4.3 4.6-5.5s3.9-.7 5.6-1.9s3.4-2.5 4.6-5.5s2-7.8 2.8-13s1.1-13.6 1.8-18.6s1.7-10.5 2.4-11.1s1.4,3.1 2.3,7.4s1.8,12.7 2.7,18.6s1.7,12.8 2.8,16.7s2.5,5.8 3.7,6.4s2.3-.1 3.7-2.7s3.3-9.9 4.7-13s2.3-4.7 3.7-5.6s3.2,.3 4.6,0s2.3-.9 3.7-1.8s3.1-2.5 4.6-3.7s3.1-2.8 4.7-3.7s3.2-.8 4.6-1.9s2.5-3.7 3.7-4.6s2.3-1.4 3.7-1s3.1,2.8 4.7,3.7s3.1,1.4 4.6,1.9s2.9,.6 4.6,.9s3.9,.2 5.6,1s3.1,2.4 4.6,3.7s3,3.4 4.7,3.7s3.7-1.7 5.5-1.9s3.7,.6 5.6,.9s3.5,.5 5.6,1s5.4,1.5 6.4,1.8" stroke="#dd08f4" /><path d="M1195.6,583.6c.6,1.2 2.5,6.8 3.7,7.4s2.4-2 3.7-3.7s3.3-5.9 4.7-6.5s2.5,.2 3.7,2.8s2.5,8.7 3.7,13s2.5,11.1 3.7,13s2.5-.2 3.7-1.9s2.5-7.3 3.7-8.3s2.2,1.7 3.7,1.8s3.9-.6 5.6-.9s3.2,.3 4.6-.9s2.6-1.4 3.7-6.5s1.7-17.2 2.8-24.1s2.6-15.5 3.7-17.6s1.9,.4 2.8,4.6s1.9,12.7 2.8,20.4s1.7,19.5 2.8,25.9s2.4,8.7 3.7,13s2.4,9 3.7,13s2.6,10.5 3.7,11.1s1.7-2.5 2.8-7.4s2.4-15.4 3.7-22.2s2.6-14.3 3.7-18.6s1.8-6.8 2.8-7.4s1.6,1.6 2.7,3.7s2.5,6.8 3.7,9.3s2.5,5.4 3.8,5.5s2.4-3.4 3.7-4.6s2.6-2.9 3.7-2.8s1.8,1.6 2.7,3.7s1.7,5.3 2.8,9.3s2.6,10.2 3.7,14.8s1.7,11.5 2.8,13s2.3-1.5 3.7-3.7s3.1-6.2 4.7-9.3s3-6.5 4.6-9.2s3.1-6.2 4.6-7.4s3.1,.6 4.7,0s3.4-.4 4.6-3.8s1.8-11.1 2.8-16.6s1.8-13.3 2.7-16.7s1.9-4.7 2.8-3.7s1.9,4.9 2.8,9.2s1.9,11.8 2.8,16.7s1.7,9.9 2.8,13s2.4,4.9 3.7,5.6s2.5-.5 3.7-1.9s2.3-5.1 3.7-6.5s3.1-1.4 4.6-1.8s3.3,0 4.7-1s2.3-3.5 3.7-4.6s3.1-1.4 4.6-1.8s3.1-.2 4.6-1s3.1-3.1 4.7-3.7s3.1,.2 4.6,0s3.1-.4 4.6-.9s3.1-1.4 4.7-1.9s3.1-.9 4.6-.9s2.9,.3 4.6,.9s3.7,2.4 5.6,2.8s3.9-.6 5.6,0s3.1,2.6 4.6,3.7s3.1,2.6 4.6,2.8s3.1-2.6 4.7-1.8s3.1,5.4 4.6,6.4s3.9,0 4.6,0" stroke="#e8a02a" /><path d="M99.5,765.6c1.1-.3 4.7-.9 6.7-1.9s3.8-2.5 5.7-3.7s3.7-4.4 5.6-3.8s3.7,4.7 5.6,7.5s3.3,7.2 5.6,9.4s5.8,2.8 8.3,3.7s4.7,1.9 6.7,1.9s4.1,.3 5.6-1.9s2.7-8.5 3.8-11.2s1.6-5.8 2.6-4.9s2.6,4.4 3.8,10.5s1.8,16.9 3,26.3s2.5,22.4 3.7,29.9s2.4,8.8 3.8,15s3.1,16 4.5,22.5s2.3,16.3 3.7,16.9s3.1-6.6 4.9-13.1s3.7-18.1 5.6-26.3s3.8-16.8 5.6-22.4s4-8.3 5.6-11.3s3-7.4 4.5-6.7s3.2,6.2 4.9,10.5s3.5,9.6 5.6,14.9s5,14.4 7.5,16.9s5.4-2.8 7.5-1.9s3.8,6 5.7,7.5s3.7,3.5 5.6,1.9s3.7-6.6 5.6-11.2s4.1-14.1 5.6-16.9s2.5-2.5 3.8,0s2.2,9.4 3.7,15s3.8,16.9 5.7,18.7s3.7-5.9 5.6-7.5s3.7-3.1 5.6-1.8s3.7,9.3 5.6,9.3s3.8-4.7 5.6-9.3s3.8-13.8 5.7-18.8s3.7-10 5.6-11.2s3.7,3.4 5.6,3.7s3.8-1.2 5.6-1.8s3.8-1.3 5.6-1.9s3.8-2.1 5.7-1.9s3.4,2.4 5.6,3s5,.6 7.5,.8s5.3,.6 7.5,0s3.3-1.9 5.6-3.8s6.9-6.2 8.3-7.5" stroke="#000000" /><path d="M99.5,761.9c1.1,.8 4.7,4.5 6.7,4.8s3.8-1.7 5.7-3s3.7-4.8 5.6-4.5s3.7,3.5 5.6,6.4s3.8,9.1 5.6,11.2s3.8,1 5.7,1.9s3.7,1.9 5.6,3.8s3.7,7.5 5.6,7.5s3.9-3.5 5.6-7.5s3-18.1 4.5-16.9s3.1,12.8 4.9,24.4s3.7,33.7 5.6,44.9s3.8,14.7 5.6,22.5s3.8,23.1 5.7,24.4s3.4-9.7 5.6-16.9s5.3-18.7 7.5-26.2s3.4-13.4 5.6-18.7s5.3-12.5 7.5-13.2s3.7,4.7 5.6,9.4s3.5,13.1 5.6,18.7s5,12.2 7.5,15s5,1.3 7.5,1.9s5,2.2 7.5,1.9s5.3-.6 7.5-3.8s3.8-11.5 5.7-15s3.7-7.5 5.6-5.6s3.7,11.6 5.6,16.9s3.7,15 5.6,15s3.8-12.2 5.6-15s3.8-3.1 5.7-1.9s3.7,9.7 5.6,9.4s3.7-6.3 5.6-11.3s3.9-14 5.6-18.7s3-9.4 4.9-9.4s4.4,8.1 6.4,9.4s3.7-1.3 5.6-1.9s3.4-1.5 5.6-1.8s5,0 7.5,0s5,.3 7.5,0s5-1 7.5-1.9s4.9-2.8 7.5-3.8s6.9-1.5 8.3-1.8" stroke="#dd08f4" /><path d="M99.5,769.3c.8,.7 3.1,4.4 4.9,3.8s3.7-4.7 5.6-7.5s3.7-8.8 5.6-9.4s3.5,2.5 5.6,5.7s5,10.3 7.5,13.1s5.3,2.8 7.5,3.7s3.8,1.6 5.6,1.9s3.8,2.2 5.7,0s4.2-10 5.6-13.1s1.4-8.8 2.6-5.6s3.1,14 4.9,24.3s3.7,26.2 5.6,37.5s3.8,20.9 5.6,30s3.8,22.8 5.7,24.3s3.7-7.8 5.6-15s3.7-19.6 5.6-28.1s3.8-16.2 5.6-22.4s4-11 5.6-15s3-9.7 4.5-9.4s3.2,6.5 4.9,11.2s3.5,11.9 5.6,16.9s5,10.9 7.5,13.1s5-.9 7.5,0s5.4,3.8 7.5,5.6s3.8,6.6 5.7,5.7s3.7-7.8 5.6-11.3s3.7-10.3 5.6-9.3s3.7,9.9 5.6,14.9s3.8,12.8 5.7,15s3.7-.6 5.6-1.8s3.7-6.6 5.6-5.7s3.7,10 5.6,11.3s3.8,0 5.6-3.8s3.8-14.3 5.7-18.7s3.7-6.9 5.6-7.5s3.4,3.4 5.6,3.7s5-1.2 7.5-1.8s5-1.6 7.5-1.9s5,.3 7.5,0s5-1.3 7.5-1.9s5.3-.3 7.5-1.8s4-5.4 5.6-7.5s2.4-5 3.8-5.7s3.7,1.6 4.5,1.9" stroke="#e8a02a" /><path d="M374.2,735.6c1,1.3 3.8,5 5.7,7.5s3.7,4.7 5.6,7.5s3.7,5.6 5.6,9.4s3.8,10.6 5.6,13.1s3.8,2.5 5.7,1.9s3.7-4.7 5.6-5.7s3.7,.7 5.6,0s3.8,.4 5.6-3.7s3.9-10.9 5.7-20.6s3.3-32.5 4.8-37.5s2.8,.6 4.5,7.5s3.8,23.7 5.6,33.7s4.1,21.3 5.7,26.3s2.5,6.2 3.7,3.7s2.3-12.5 3.8-18.7s3-15 4.8-18.8s4.4-3.1 6.4-3.7s3.8-1 5.6,0s3.8,3.1 5.6,5.6s3.8,4.1 5.7,9.4s4,16.5 5.6,22.5s2.2,12.5 3.7,13.1s3.8-6.3 5.7-9.4s3.7-6.2 5.6-9.4s3.7-7.1 5.6-9.3s3.8-.7 5.6-3.8s3.8-8.1 5.7-15s4.2-20.3 5.6-26.2s1.3-11.3 2.6-9.4s3.1,12.8 4.9,20.6s3.7,23.2 5.6,26.3s3.7-5.3 5.6-7.5s3.8-5.3 5.6-5.6s3.5,2.5 5.7,3.7s5.3,4.4 7.5,3.8s3.4-4.4 5.6-7.5s5-9.7 7.5-11.3s5,1 7.5,1.9s5,2.8 7.5,3.7s5,1 7.5,1.9s5,2.2 7.5,3.8s5.3,3.4 7.5,5.6s3.7,7.2 5.6,7.5s3.5-4.4 5.6-5.6s5.6-1.6 6.8-1.9" stroke="#000000" /><path d="M374.2,737.5c1,1.2 3.8,5.6 5.7,7.5s3.7,.9 5.6,3.7s3.7,8.8 5.6,13.2s3.8,10.6 5.6,13.1s3.8,2.2 5.7,1.8s3.7-2.8 5.6-3.7s3.7-.9 5.6-1.9s3.8,.6 5.6-3.7s3.8-12.8 5.7-22.5s3.7-32.5 5.6-35.6s3.7,8.4 5.6,16.8s3.7,24.7 5.6,33.8s3.8,19.7 5.6,20.6s3.9-9.4 5.7-15s3-14.4 4.8-18.7s4.1-7.2 6.4-7.5s5,3.4 7.5,5.6s5.3,2.5 7.5,7.5s3.9,15.6 5.6,22.5s3,16.8 4.5,18.7s3.1-4.4 4.9-7.5s3.4-7.8 5.6-11.2s5-7.5 7.5-9.4s5.3,1.6 7.5-1.9s3.9-10.3 5.6-18.7s3.3-29.4 4.9-31.9s2.8,9.7 4.5,16.9s3.4,22.2 5.6,26.2s5.3-.3 7.5-1.8s3.8-7.2 5.6-7.5s3.5,3.1 5.7,5.6s5,9.4 7.5,9.4s5-6.9 7.5-9.4s5-5 7.5-5.6s5,1.2 7.4,1.8s5,.3 7.5,1.9s5.1,5.9 7.5,7.5s5,2.2 7.5,1.9s5-2.8 7.5-3.8s4.8-2.2 7.5-1.8s7.2,3.1 8.7,3.7" stroke="#dd08f4" /><path d="M374.2,733.7c1,1.3 3.8,5.3 5.7,7.5s3.7,3.8 5.6,5.7s3.7,1.2 5.6,5.6s3.8,16.5 5.6,20.6s3.8,4.1 5.7,3.7s3.7-4.3 5.6-5.6s3.7-.3 5.6-1.9s3.8-2.8 5.6-7.4s3.8-11 5.7-20.7s3.7-33.7 5.6-37.4s3.7,6.2 5.6,14.9s3.9,28.1 5.6,37.5s3.3,18.1 4.9,18.8s2.8-8.8 4.5-15s3.4-17.5 5.6-22.5s5.3-6.9 7.5-7.5s3.8,1.2 5.6,3.7s3.8,6.9 5.6,11.3s3.8,8.7 5.7,15s4,17.2 5.6,22.5s2.2,9.6 3.7,9.3s3.8-7.8 5.7-11.2s3.7-6.3 5.6-9.4s3.4-6.2 5.6-9.3s5.3-4.1 7.5-9.4s3.8-14.4 5.6-22.5s3.8-24.4 5.6-26.2s3.8,7.8 5.7,14.9s3.7,24.1 5.6,28.2s3.7-2.9 5.6-3.8s3.8-2.2 5.6-1.9s3.5,2.5 5.7,3.8s5,4.4 7.5,3.7s5-5.6 7.5-7.5s5-2.8 7.5-3.7s5-1.9 7.4-1.9s5,.9 7.5,1.9s5.1,2.2 7.5,3.7s5,3.8 7.5,5.7s5.4,5.3 7.5,5.6s3.8-2.2 5.7-3.8s3.8-5.3 5.6-5.6s4,3.1 4.9,3.8" stroke="#e8a02a" /><path d="M647.5,749.3c.8,.7 3.4,2.2 4.9,3.8s2.2,6.2 3.7,5.6s4.1-8.7 5.6-9.4s2.5,2.2 3.8,5.7s2.5,11.2 3.7,15s2.2,7.8 3.8,7.5s3.6-8.2 5.6-9.4s4.5,2.5 6.4,1.9s3.1-3.5 4.9-5.7s3.7-2.8 5.6-7.5s4-13.4 5.6-20.6s2.5-17.2 3.8-22.5s2.5-10 3.7-9.3s2.5,6.5 3.7,13.1s2.5,17.5 3.8,26.2s2.8,20.8 3.7,26.3s1,8.6 1.9,6.7s2.2-13.4 3.8-18s3.7-8.4 5.6-9.4s3.7,4.1 5.6,3.8s3.8-5.9 5.6-5.6s3.8,5.9 5.7,7.5s4,0 5.6,1.8s2.5,5.4 3.7,9.4s2.7,10.3 3.8,15s1.3,12.5 2.6,13.1s3.1-5.9 4.9-9.3s3.4-7.9 5.6-11.3s5-7.8 7.5-9.4s5.6,1 7.5,0s2.5-.3 3.7-5.6s2.5-19.3 3.8-26.2s2.5-13.8 3.7-15s2.2,2.8 3.8,7.5s3.7,16.5 5.6,20.6s3.7,3.7 5.6,3.7s3.8-4 5.6-3.7s3.8,5 5.7,5.6s3.7-.3 5.6-1.9s3.7-5.3 5.6-7.4s3.8-4.4 5.6-5.7s3.8-1.8 5.7-1.8s3.7,1.2 5.6,1.8s3.7,1.3 5.6,1.9s3.7,2.2 5.6,1.9s3.8-4.1 5.6-3.8s3.8,4.4 5.7,5.7s3.4,.9 5.6,1.8s5,2.8 7.5,3.8s5.2,2 7.5,1.8s5.3-2.1 6.4-2.6" stroke="#000000" /><path d="M647.5,751.2c.8,0 3.4-.9 4.9,0s2.2,5.6 3.7,5.6s4.1-5.6 5.6-5.6s2.5,2.2 3.8,5.6s2.5,11.9 3.7,15s2.2,4.1 3.8,3.8s3.6-5 5.6-5.6s4.5,2.8 6.4,1.8s3.1-5.3 4.9-7.5s3.7-.9 5.6-5.6s4-14.7 5.6-22.5s2.5-18.7 3.8-24.3s2.5-10 3.7-9.4s2.5,6.2 3.7,13.1s2.5,19.4 3.8,28.1s2.5,21.3 3.7,24.4s2.2-3.1 3.8-5.6s3.7-7.2 5.6-9.4s3.8-3.1 5.6-3.8s3.8-.3 5.7,0s3.7,.4 5.6,1.9s3.7,4.1 5.6,7.5s3.9,8.1 5.6,13.1s3.3,14.1 4.9,16.9s2.8,2.2 4.5,0s3.4-9.4 5.6-13.1s5-7.5 7.5-9.4s5.3-.3 7.5-1.9s3.8-2.1 5.6-7.5s4.1-17.8 5.6-24.3s2.5-14.4 3.8-15s2.2,6.2 3.7,11.2s3.8,15 5.7,18.8s3.7,2.8 5.6,3.7s3.7,.6 5.6,1.9s3.9,3.3 5.6,5.6s3,8.9 4.9,8.3s4.1-9.1 6.4-12s5.3-4.4 7.5-5.7s3.7-1 5.6-1.8s3.8-3 5.6-3s3.8,1.5 5.6,3s3.5,3.7 5.7,5.6s5,5.3 7.5,5.6s5-3.4 7.5-3.7s5,1.5 7.5,1.8s5.5-.3 7.5,0s3.7,1.6 4.5,1.9" stroke="#dd08f4" /><path d="M647.5,745.6c.8,1.2 3.1,5.3 4.9,7.5s4,6.2 5.6,5.6s2.5-9 3.7-9.4s2.5,3.5 3.8,7.5s2.5,13.2 3.7,16.9s2.2,6.3 3.8,5.6s3.6-7.2 5.6-9.3s4.5-1.9 6.4-3.8s3.1-5.9 4.9-7.5s3.7,1.9 5.6-1.9s4-12.8 5.6-20.6s2.5-20.7 3.8-26.2s2.5-7.7 3.7-6.8s2.5,5.3 3.7,12.4s2.5,22.2 3.8,30s2.2,15.6 3.7,16.9s3.8-7.2 5.7-9.4s3.7-2.8 5.6-3.8s3.9-.9 5.6-1.8s2.9-4.4 4.5-3.8s3.1,5.3 4.9,7.5s3.7,2.5 5.6,5.6s3.7,6.6 5.6,13.2s3.8,24 5.7,26.2s3.4-8.7 5.6-13.1s5-9.7 7.5-13.1s5-5.4 7.5-7.5s5.3,0 7.5-5.7s3.7-19.6 5.6-28.1s4-19.6 5.6-22.5s2.5,.7 3.7,5.7s2.2,18.4 3.8,24.3s3.7,9.1 5.6,11.3s3.8,1.2 5.6,1.8s3.8,1.3 5.7,1.9s3.7,2.8 5.6,1.9s3.4-5.3 5.6-7.5s5-4.1 7.5-5.6s5-3 7.5-3.8s5-.1 7.5-.7s5-3.1 7.5-3s5,1.8 7.5,3.7s5,5.3 7.5,7.5s5,5.3 7.5,5.6s5.2-3.4 7.5-3.7s5.3,1.6 6.4,1.9" stroke="#e8a02a" /><path d="M922.2,741.9c1,.9 3.8,3.7 5.7,5.6s3.7,2.8 5.6,5.6s3.7,6.9 5.6,11.2s3.8,14.1 5.6,15s3.8-7.8 5.7-9.3s3.7,.6 5.6,0s3.7,.3 5.6-3.8s3.8-11.2 5.6-20.6s3.8-26.9 5.7-35.6s4-15.9 5.6-16.9s2.2,3.5 3.7,11.3s3.8,25.3 5.6,35.6s4.1,21.2 5.7,26.2s2.3,7.2 3.7,3.8s3-18.8 4.9-24.4s4.4-8.8 6.4-9.4s3.7,4.1 5.6,5.7s3.7,2.5 5.6,3.7s3.8-.3 5.6,3.7s3.8,11 5.7,20.7s4,31.8 5.6,37.4s2.2-.6 3.7-3.7s3.8-11.3 5.6-15s3.5-5.3 5.7-7.5s5-3.4 7.5-5.6s5.6-3.5 7.5-7.5s2.5-9.1 3.7-16.9s2.5-27.5 3.7-30s2.2,9.4 3.8,15s3.7,16.3 5.6,18.8s3.8-1.6 5.6-3.8s3.8-9 5.7-9.3s3.4,6.8 5.6,7.4s5-2.5 7.5-3.7s5-2.5 7.5-3.7s5-2.2 7.5-3.8s5-5 7.5-5.6s5,1.9 7.5,1.9s5.3-3.5 7.5-1.9s3.7,9 5.6,11.2s3.4,1.3 5.6,1.9s5,1.2 7.5,1.9s5.1,1.5 7.5,1.8s5.6,0 6.8,0" stroke="#000000" /><path d="M922.2,740c1,.9 3.8,4 5.7,5.6s3.7,.6 5.6,3.7s3.7,10 5.6,15s3.8,14.1 5.6,15s3.8-7.8 5.7-9.3s3.7,.9 5.6,0s3.7-1.3 5.6-5.7s3.8-10.9 5.6-20.6s3.7-28.4 5.7-37.5s4.4-16.8 6.3-16.8s3.1,9 4.9,16.8s3.7,21.9 5.6,30s3.8,18.5 5.6,18.8s3.9-12.2 5.7-16.9s3-10.3 4.8-11.2s4.4,3.4 6.4,5.6s3.8,5 5.6,7.5s3.8,4.3 5.7,7.5s3.7,4.3 5.6,11.2s4,22.5 5.6,30s2.2,14.4 3.7,15s3.5-6.3 5.7-11.2s5-14.7 7.5-18.8s5-3.7 7.5-5.6s5.3-.3 7.5-5.6s4-18.2 5.6-26.3s2.5-21.2 3.7-22.5s2.2,8.5 3.8,15s3.7,21.3 5.6,24.4s3.7-3.8 5.6-5.6s3.8-6.3 5.6-5.6s3.5,7.4 5.7,9.3s5,3.1 7.5,1.9s5-7.2 7.5-9.4s5-2.5 7.5-3.7s5-4.1 7.5-3.8s5,3.8 7.5,5.7s5,4.3 7.5,5.6s4.9,1.2 7.4,1.8s5,1.3 7.5,1.9s4.8,1.3 7.5,1.9s7.2,1.6 8.7,1.9" stroke="#dd08f4" /><path d="M922.2,740c1,1.5 3.8,8.7 5.7,9.3s3.7-7.5 5.6-5.6s3.7,10.6 5.6,16.9s3.8,18.7 5.6,20.6s3.8-7.2 5.7-9.4s3.7-1.8 5.6-3.7s3.7-3.4 5.6-7.5s3.8-8.4 5.6-16.9s3.8-25 5.7-33.7s3.7-18.8 5.6-18.8s3.7,10.7 5.6,18.8s3.7,23.1 5.6,30s3.8,11.8 5.6,11.2s3.8-11.5 5.7-15s3.7-4.4 5.6-5.6s3.7-3.4 5.6-1.9s3.8,8.1 5.6,11.3s3.8,4.3 5.7,7.5s3.7,5 5.6,11.2s4,20 5.6,26.3s2.2,11.8 3.7,11.2s3.5-10 5.7-15s5-10.6 7.5-15s5-6.9 7.5-11.2s5.3-6.9 7.5-15s4-26 5.6-33.8s2.5-13.7 3.7-13.1s2.2,9.1 3.8,16.9s3.7,25.6 5.6,30s3.7-2.5 5.6-3.8s3.8-4 5.6-3.7s3.5,4.4 5.7,5.6s5,2.2 7.5,1.9s5-2.8 7.5-3.8s5-.6 7.5-1.8s5-4.4 7.5-5.7s5-2.2 7.5-1.8s5,2.5 7.5,3.7s4.9,2.5 7.4,3.8s5,3.1 7.5,3.7s4.8-.6 7.5,0s7.2,3.1 8.7,3.8" stroke="#e8a02a" /><path d="M1195.6,772.7c.6-.4 2.5-.8 3.7-1.9s2.5-3.4 3.7-4.6s2.5-2.2 3.8-2.8s2.4-.5 3.7-.9s2.4-2.2 3.7-1.9s2.4,2.2 3.7,3.7s2.4,4 3.7,5.6s2.5,2.3 3.7,3.7s2.5,3.4 3.7,4.6s2.5,2.6 3.7,2.8s2.5-1.7 3.7-1.9s2.5,1 3.7,1s2.6,1.1 3.7-1s1.9-7.7 2.8-11.1s1.9-8.6 2.8-9.2s1.8,1.5 2.8,5.5s1.7,13.3 2.8,18.6s2.4,9.5 3.7,12.9s2.6,3.4 3.7,7.4s1.8,10.8 2.8,16.7s1.8,13.9 2.7,18.6s1.7,9.2 2.8,9.2s2.5-5.8 3.7-9.2s2.5-7.8 3.7-11.2s2.5-8 3.7-9.2s2.5,.6 3.7,1.8s2.5,5.6 3.7,5.6s2.5-3.7 3.8-5.6s2.4-3.7 3.7-5.5s2.4-6.2 3.7-5.6s2.4,4.9 3.7,9.3s2.4,11.4 3.7,16.7s2.5,11.7 3.7,14.8s2.5,3.4 3.7,3.7s2.5-1.2 3.7-1.9s2.2-1.2 3.7-1.8s4-2.2 5.6-1.9s2.4,2.5 3.7,3.7s2.4,4.1 3.7,3.7s2.5-1.5 3.7-5.5s2.5-13 3.7-18.6s2.6-11.7 3.7-14.8s1.9-4.6 2.8-3.7s1.7,5.6 2.8,9.3s2.4,8.9 3.7,13s2.4,8.3 3.7,11.1s2.5,6.2 3.7,5.5s2.5-6.8 3.7-9.2s2.5-5.6 3.7-5.6s2.5,4 3.7,5.6s2.3,4 3.7,3.7s3.1-2.5 4.6-5.6s3.3-8.9 4.7-13s2.5-8 3.7-11.1s2.5-5.5 3.7-7.4s2.3-3.7 3.7-3.7s3.1,3.4 4.6,3.7s3.1-1.2 4.7-1.8s3.1-1.3 4.6-1.9s3.1-2 4.6-1.9s3.1,2.8 4.7,2.8s2.9-1.8 4.6-2.8s3.9-2.9 5.6-2.7s3.1,3.2 4.6,3.7s3.1-.7 4.6-1s3-.6 4.7-.9s4.6-.8 5.5-.9" stroke="#000000" /><path d="M1195.6,768c.6,.6 2.5,3.7 3.7,3.7s2.5-1.8 3.7-3.7s2.5-5.8 3.8-7.4s2.4-.9 3.7-1.8s2.4-4.1 3.7-3.8s2.4,3.3 3.7,5.6s2.4,6.3 3.7,8.4s2.5,2.4 3.7,3.7s2.5,2 3.7,3.7s2.5,5.1 3.7,6.5s2.5,1.3 3.7,1.8s2.5,1.1 3.7,.9s2.5,.8 3.7-1.8s2.7-10.4 3.7-13.9s1.9-8.4 2.8-7.4s1.9,8.3 2.8,12.9s1.7,11.2 2.8,14.9s2.6,4.9 3.7,7.4s1.8,2.8 2.8,7.4s1.8,14.5 2.8,20.4s1.8,11.4 2.7,14.8s1.7,6.5 2.8,5.6s2.5-7.4 3.7-11.1s2.5-8.1 3.7-11.2s2.5-6.1 3.7-7.4s2.5-.9 3.7,0s2.5,5.3 3.7,5.6s2.5-2.2 3.8-3.7s2.4-3.9 3.7-5.6s2.4-5.2 3.7-4.6s2.4,4.5 3.7,8.3s2.4,9.9 3.7,14.8s2.5,11.5 3.7,14.9s2.5,4.9 3.7,5.5s2.5-1.2 3.7-1.8s2.5-1.1 3.7-1.9s2.5-2 3.7-2.7s2.5-2.1 3.7-1.9s2.3,2.2 3.7,2.8s3.3,3.4 4.7,.9s2.4-10.7 3.7-15.8s2.4-11.2 3.7-14.8s2.6-6.5 3.7-6.5s1.7,3 2.8,6.5s2.4,10.8 3.7,14.8s2.4,7.3 3.7,9.3s2.5,3.4 3.7,2.8s2.5-4.8 3.7-6.5s2.5-3.9 3.7-3.7s2.5,2.8 3.7,4.6s2.3,6.4 3.7,6.5s3.1-2.1 4.6-5.5s3.3-10.9 4.7-14.9s2.5-6.5 3.7-9.2s2.5-5.9 3.7-7.4s2.3-2.2 3.7-1.9s3.1,3.7 4.6,3.7s3.1-2.8 4.7-3.7s3.1-2.2 4.6-1.9s3.1,2.5 4.6,3.8s3.1,2.9 4.7,3.7s2.9,1.7 4.6,.9s3.9-4.2 5.6-5.6s3.1-2.1 4.6-2.8s3.1-.9 4.6-.9s3,.6 4.7,.9s4.6,.8 5.5,1" stroke="#dd08f4" /><path d="M1195.6,781c.6,1.2 2.5,7.1 3.7,7.4s2.5-1.8 3.7-5.5s2.5-13.3 3.8-16.7s2.4-2.8 3.7-3.7s2.4-2.2 3.7-1.9s2.4,2.2 3.7,3.7s2.4,4.2 3.7,5.6s2.5,1.5 3.7,2.8s2.5,3.5 3.7,4.6s2.5,1.8 3.7,1.8s2.5-1.7 3.7-1.8s2.5,.9 3.7,.9s2.6,1.7 3.7-.9s1.8-11.1 2.8-14.8s2.3-7.1 3.4-7.5s2.1,1.6 3.1,5.6s1.7,13 2.8,18.5s2.6,10.5 3.7,14.9s1.8,5.8 2.8,11.1s1.8,13.9 2.8,20.4s1.8,14.5 2.7,18.5s1.7,6.5 2.8,5.6s2.5-7.4 3.7-11.1s2.5-7.1 3.7-11.2s2.5-9.8 3.7-12.9s2.5-4.5 3.7-5.6s2.5-.1 3.7-.9s2.5-2 3.8-3.7s2.4-4.4 3.7-6.5s2.4-6.5 3.7-6.5s2.4,2.9 3.7,6.5s2.4,10.5 3.7,14.8s2.5,8.8 3.7,11.1s2.5,2.5 3.7,2.8s2.5-.6 3.7-.9s2.5-.3 3.7-.9s2.5-2 3.7-2.8s2.5-2.2 3.7-1.9s2.5,2.6 3.7,3.7s2.5,4 3.7,2.8s2.4-6 3.7-10.2s3.3-11.4 4.7-14.8s2.6-5.6 3.7-5.6s1.7,2.2 2.8,5.6s2.4,9.9 3.7,14.8s2.4,10.5 3.7,14.8s2.5,9.6 3.7,11.2s2.5-1 3.7-1.9s2.5-4 3.7-3.7s2.5,4.5 3.7,5.6s2.3,2.1 3.7,.9s3.1-5.7 4.6-8.3s3.3-5.3 4.7-7.5s2.5-4 3.7-5.5s2.5-2.8 3.7-3.7s2.3-1.3 3.7-1.9s3.1-1.2 4.6-1.8s3.1-1.3 4.7-1.9s3.1-1.2 4.6-1.8s3.1-1.3 4.6-1.9s3.1-1.4 4.7-1.8s2.9-.4 4.6-1s3.9-2.8 5.6-2.8s3.1,2.7 4.6,2.8s3.1-1.1 4.6-1.8s3-1.9 4.7-2.8s4.6-2.3 5.5-2.8" stroke="#e8a02a" /></g><g stroke="#000" fill="none"><path d="M100.9,104.0H354.2M137.1,59.9V148.1" stroke-width="3.9" stroke-linecap="round"/><path d="M173.4,96.5V111.7M209.7,96.5V111.7M246.0,96.5V111.7M282.3,96.5V111.7M318.6,96.5V111.7" stroke-width="2.3"/><path d="M375.0,104.0H628.3M411.2,59.9V148.1" stroke-width="3.9" stroke-linecap="round"/><path d="M447.5,96.5V111.7M483.8,96.5V111.7M520.1,96.5V111.7M556.4,96.5V111.7M592.7,96.5V111.7" stroke-width="2.3"/><path d="M648.8,104.0H902.1M685.0,59.9V148.1" stroke-width="3.9" stroke-linecap="round"/><path d="M721.3,96.5V111.7M757.6,96.5V111.7M793.9,96.5V111.7M830.2,96.5V111.7M866.5,96.5V111.7" stroke-width="2.3"/><path d="M922.6,104.0H1175.9M958.8,59.9V148.1" stroke-width="3.9" stroke-linecap="round"/><path d="M995.1,96.5V111.7M1031.4,96.5V111.7M1067.7,96.5V111.7M1104.0,96.5V111.7M1140.3,96.5V111.7" stroke-width="2.3"/><path d="M1196.8,104.0H1450.1M1233.0,59.9V148.1" stroke-width="3.9" stroke-linecap="round"/><path d="M1269.3,96.5V111.7M1305.6,96.5V111.7M1341.9,96.5V111.7M1378.2,96.5V111.7M1414.5,96.5V111.7" stroke-width="2.3"/><path d="M100.9,262.3H354.2M137.1,218.2V306.4" stroke-width="3.9" stroke-linecap="round"/><path d="M173.4,254.8V270.0M209.7,254.8V270.0M246.0,254.8V270.0M282.3,254.8V270.0M318.6,254.8V270.0" stroke-width="2.3"/><path d="M375.0,262.3H628.3M411.2,218.2V306.4" stroke-width="3.9" stroke-linecap="round"/><path d="M447.5,254.8V270.0M483.8,254.8V270.0M520.1,254.8V270.0M556.4,254.8V270.0M592.7,254.8V270.0" stroke-width="2.3"/><path d="M648.8,262.3H902.1M685.0,218.2V306.4" stroke-width="3.9" stroke-linecap="round"/><path d="M721.3,254.8V270.0M757.6,254.8V270.0M793.9,254.8V270.0M830.2,254.8V270.0M866.5,254.8V270.0" stroke-width="2.3"/><path d="M922.6,262.3H1175.9M958.8,218.2V306.4" stroke-width="3.9" stroke-linecap="round"/><path d="M995.1,254.8V270.0M1031.4,254.8V270.0M1067.7,254.8V270.0M1104.0,254.8V270.0M1140.3,254.8V270.0" stroke-width="2.3"/><path d="M1196.8,262.3H1450.1M1233.0,218.2V306.4" stroke-width="3.9" stroke-linecap="round"/><path d="M1269.3,254.8V270.0M1305.6,254.8V270.0M1341.9,254.8V270.0M1378.2,254.8V270.0M1414.5,254.8V270.0" stroke-width="2.3"/><path d="M100.9,430.4H354.2M137.1,386.3V474.5" stroke-width="3.9" stroke-linecap="round"/><path d="M173.4,422.9V438.1M209.7,422.9V438.1M246.0,422.9V438.1M282.3,422.9V438.1M318.6,422.9V438.1" stroke-width="2.3"/><path d="M375.0,430.4H628.3M411.2,386.3V474.5" stroke-width="3.9" stroke-linecap="round"/><path d="M447.5,422.9V438.1M483.8,422.9V438.1M520.1,422.9V438.1M556.4,422.9V438.1M592.7,422.9V438.1" stroke-width="2.3"/><path d="M648.8,430.4H902.1M685.0,386.3V474.5" stroke-width="3.9" stroke-linecap="round"/><path d="M721.3,422.9V438.1M757.6,422.9V438.1M793.9,422.9V438.1M830.2,422.9V438.1M866.5,422.9V438.1" stroke-width="2.3"/><path d="M922.6,430.4H1175.9M958.8,386.3V474.5" stroke-width="3.9" stroke-linecap="round"/><path d="M995.1,422.9V438.1M1031.4,422.9V438.1M1067.7,422.9V438.1M1104.0,422.9V438.1M1140.3,422.9V438.1" stroke-width="2.3"/><path d="M1196.8,430.4H1450.1M1233.0,386.3V474.5" stroke-width="3.9" stroke-linecap="round"/><path d="M1269.3,422.9V438.1M1305.6,422.9V438.1M1341.9,422.9V438.1M1378.2,422.9V438.1M1414.5,422.9V438.1" stroke-width="2.3"/><path d="M100.9,603.6H354.2M137.1,559.5V647.7" stroke-width="3.9" stroke-linecap="round"/><path d="M173.4,596.1V611.3M209.7,596.1V611.3M246.0,596.1V611.3M282.3,596.1V611.3M318.6,596.1V611.3" stroke-width="2.3"/><path d="M375.0,603.6H628.3M411.2,559.5V647.7" stroke-width="3.9" stroke-linecap="round"/><path d="M447.5,596.1V611.3M483.8,596.1V611.3M520.1,596.1V611.3M556.4,596.1V611.3M592.7,596.1V611.3" stroke-width="2.3"/><path d="M648.8,603.6H902.1M685.0,559.5V647.7" stroke-width="3.9" stroke-linecap="round"/><path d="M721.3,596.1V611.3M757.6,596.1V611.3M793.9,596.1V611.3M830.2,596.1V611.3M866.5,596.1V611.3" stroke-width="2.3"/><path d="M922.6,603.6H1175.9M958.8,559.5V647.7" stroke-width="3.9" stroke-linecap="round"/><path d="M995.1,596.1V611.3M1031.4,596.1V611.3M1067.7,596.1V611.3M1104.0,596.1V611.3M1140.3,596.1V611.3" stroke-width="2.3"/><path d="M1196.8,603.6H1450.1M1233.0,559.5V647.7" stroke-width="3.9" stroke-linecap="round"/><path d="M1269.3,596.1V611.3M1305.6,596.1V611.3M1341.9,596.1V611.3M1378.2,596.1V611.3M1414.5,596.1V611.3" stroke-width="2.3"/><path d="M100.9,771.8H354.2M137.1,727.7V815.9" stroke-width="3.9" stroke-linecap="round"/><path d="M173.4,764.3V779.5M209.7,764.3V779.5M246.0,764.3V779.5M282.3,764.3V779.5M318.6,764.3V779.5" stroke-width="2.3"/><path d="M375.0,771.8H628.3M411.2,727.7V815.9" stroke-width="3.9" stroke-linecap="round"/><path d="M447.5,764.3V779.5M483.8,764.3V779.5M520.1,764.3V779.5M556.4,764.3V779.5M592.7,764.3V779.5" stroke-width="2.3"/><path d="M648.8,771.8H902.1M685.0,727.7V815.9" stroke-width="3.9" stroke-linecap="round"/><path d="M721.3,764.3V779.5M757.6,764.3V779.5M793.9,764.3V779.5M830.2,764.3V779.5M866.5,764.3V779.5" stroke-width="2.3"/><path d="M922.6,771.8H1175.9M958.8,727.7V815.9" stroke-width="3.9" stroke-linecap="round"/><path d="M995.1,764.3V779.5M1031.4,764.3V779.5M1067.7,764.3V779.5M1104.0,764.3V779.5M1140.3,764.3V779.5" stroke-width="2.3"/><path d="M1196.8,771.8H1450.1M1233.0,727.7V815.9" stroke-width="3.9" stroke-linecap="round"/><path d="M1269.3,764.3V779.5M1305.6,764.3V779.5M1341.9,764.3V779.5M1378.2,764.3V779.5M1414.5,764.3V779.5" stroke-width="2.3"/></g><text transform="matrix(0.2169 0 0 0.2277 113.68 21.88)" font-size="100">AF7</text><text transform="matrix(0.2169 0 0 0.2244 387.78 21.88)" font-size="100">AF3</text><text transform="matrix(0.2169 0 0 0.2277 662.11 21.88)" font-size="100">FPz</text><text transform="matrix(0.2169 0 0 0.2277 935.38 21.88)" font-size="100">AF4</text><text transform="matrix(0.2169 0 0 0.2244 1209.58 21.88)" font-size="100">AF8</text><text transform="matrix(0.2169 0 0 0.2277 120.68 180.18)" font-size="100">F7</text><text transform="matrix(0.2169 0 0 0.2244 394.78 180.18)" font-size="100">F3</text><text transform="matrix(0.2169 0 0 0.2277 669.22 180.18)" font-size="100">Fz</text><text transform="matrix(0.2169 0 0 0.2277 942.38 180.18)" font-size="100">F4</text><text transform="matrix(0.2169 0 0 0.2244 1216.58 180.18)" font-size="100">F8</text><text transform="matrix(0.2169 0 0 0.2277 120.68 348.28)" font-size="100">T7</text><text transform="matrix(0.2169 0 0 0.2244 393.62 348.28)" font-size="100">C3</text><text transform="matrix(0.2169 0 0 0.2244 668.05 348.28)" font-size="100">Cz</text><text transform="matrix(0.2169 0 0 0.2244 941.22 348.28)" font-size="100">C4</text><text transform="matrix(0.2169 0 0 0.2244 1216.58 348.28)" font-size="100">T8</text><text transform="matrix(0.2169 0 0 0.2277 120.15 521.48)" font-size="100">P7</text><text transform="matrix(0.2169 0 0 0.2244 385.98 521.48)" font-size="100">PO3</text><text transform="matrix(0.2169 0 0 0.2277 668.58 521.48)" font-size="100">Pz</text><text transform="matrix(0.2169 0 0 0.2244 933.58 521.48)" font-size="100">PO4</text><text transform="matrix(0.2169 0 0 0.2244 1216.05 521.48)" font-size="100">P8</text><text transform="matrix(0.2169 0 0 0.2244 120.15 689.68)" font-size="100">P9</text><text transform="matrix(0.2169 0 0 0.2244 393.09 689.68)" font-size="100">O1</text><text transform="matrix(0.2169 0 0 0.2244 667.42 689.68)" font-size="100">Oz</text><text transform="matrix(0.2169 0 0 0.2244 940.69 689.68)" font-size="100">O2</text><text transform="matrix(0.2169 0 0 0.2244 1210.11 689.68)" font-size="100">P10</text><g fill="none" stroke-linejoin="round" stroke-linecap="round" stroke-width="3.9"><path d="M99.5,1334.3c.8,1 3.1,3.8 4.9,5.7s3.7,4.3 5.6,5.6s3.7,1.5 5.6,1.9s3.8,.1 5.6,0s3.8-.4 5.7-.8s3.9-1.4 5.6-1.9s2.9-.8 4.5-1.1s3.4-1.1 4.8-.7s2.5,1.2 3.8,2.6s2.5,5.9 3.7,5.6s2.5-1.3 3.8-7.5s2.2-22.5 3.7-30s3.8-10.6 5.7-15s3.7-6.8 5.6-11.2s3.7-11.3 5.6-15s3.8-6.6 5.6-7.5s3.8,1.1 5.7,1.9s4,1 5.6,2.6s2.2,3.7 3.7,6.7s3.8,11.3 5.6,11.3s3.8-8.1 5.7-11.3s3.7-6.5 5.6-7.5s3.7,.3 5.6,1.9s3.8,5.3 5.6,7.5s3.8,5.3 5.7,5.6s3.7-3.4 5.6-3.7s3.7-.3 5.6,1.8s3.8,8.5 5.6,11.3s3.8,6.2 5.7,5.6s3.7-5.9 5.6-9.4s3.7-9.9 5.6-11.2s3.7,2.8 5.6,3.7s3.8,3.8 5.6,1.9s3.8-13.1 5.7-13.1s3.7,7.5 5.6,13.1s3.7,15.3 5.6,20.6s3.8,9.4 5.6,11.3s3.8,.3 5.7,0s3.7-2.5 5.6-1.9s3.7,4.4 5.6,5.6s3.7,1.3 5.6,1.9s3.8,.9 5.6,1.9s3.8,2.5 5.7,3.7s3.7,2.7 5.6,3.8s3.7,2.4 5.6,2.6s3.8-.4 5.6-1.5s4-4.5 5.7-4.9s3.7,2.2 4.5,2.7" stroke="#000000" /><path d="M99.5,1323.1c.8,.6 3.1,1.2 4.9,3.7s3.7,7.8 5.6,11.3s3.7,7.5 5.6,9.4s3.8,1.8 5.6,1.8s3.8-1.1 5.7-1.8s3.7-.9 5.6-2.7s3.7-6.5 5.6-7.8s4.1-.9 5.6,0s2.5,5.6 3.8,4.8s2.5-4 3.7-9.3s2.2-16.3 3.8-22.5s3.7-10.7 5.6-15s3.7-7.5 5.6-11.3s3.8-9 5.6-11.2s3.5-1.9 5.7-1.9s5.3,1.3 7.5,1.9s4,.9 5.6,1.9s2.2,.9 3.7,3.7s3.8,12.5 5.6,13.1s3.8-6.5 5.7-9.4s3.7-5.1 5.6-7.4s3.7-6.7 5.6-6.4s3.8,6.2 5.6,8.2s3.8,3.2 5.7,3.8s3.7-.3 5.6,0s3.7,0 5.6,1.8s3.8,6 5.6,9.4s3.8,11.3 5.7,11.3s3.7-7.2 5.6-11.3s3.7-10.3 5.6-13.1s3.7-5 5.6-3.7s3.8,11.8 5.6,11.2s3.8-15 5.7-15s3.7,10 5.6,15s3.7,11.9 5.6,15s3.8,2.8 5.6,3.7s3.8,2.2 5.7,1.9s3.7-4 5.6-3.7s3.7,4.3 5.6,5.6s3.7,.6 5.6,1.9s3.8,4.3 5.6,5.6s3.8,.3 5.7,1.9s3.7,5.6 5.6,7.5s3.7,3.7 5.6,3.7s3.8-3 5.6-3.7s4-1.1 5.7-.8s3.7,2.2 4.5,2.6" stroke="#dd08f4" /><path d="M99.5,1330.6c.8,.9 3.1,3.4 4.9,5.6s3.7,4.7 5.6,7.5s3.7,8.1 5.6,9.4s3.8-1 5.6-1.9s3.8-2.5 5.7-3.7s3.7-2.9 5.6-3.8s3.7-1.9 5.6-1.9s3.8,1.3 5.6,1.9s4.1,3.7 5.6,1.9s2.5-7.2 3.8-13.1s2.2-16.3 3.7-22.5s3.8-10.3 5.7-15s3.7-8.5 5.6-13.2s3.9-11.4 5.6-14.9s2.6-6.1 4.5-6.4s4.7,2.8 6.8,4.5s4,2.8 5.6,5.6s2.2,6.6 3.7,11.2s3.8,15 5.6,16.9s3.8-3.7 5.7-5.6s3.7-4.4 5.6-5.6s3.7-1 5.6-1.9s3.8-2.7 5.6-3.8s3.8-1.9 5.7-2.6s3.7-1.2 5.6-1.1s3.7,.3 5.6,1.9s3.8,5.3 5.6,7.5s3.8,5.9 5.7,5.6s3.4-4.1 5.6-7.5s5.3-11.6 7.5-13.1s3.7,4 5.6,3.7s3.7-5.6 5.6-5.6s3.8,2.2 5.6,5.6s3.8,10.6 5.7,15s3.7,8.9 5.6,11.3s3.7,3.3 5.6,3s3.8-3.9 5.6-4.9s3.8-1.3 5.6-1.1s3.8,1.6 5.7,2.2s3.7,1.1 5.6,1.5s3.7,1 5.6,1.1s3.8,0 5.6,0s3.8,.5 5.7,0s3.7-2.9 5.6-2.6s3.7,2.8 5.6,4.5s4.3,4.4 5.6,5.6s2.2,1.6 2.7,1.9" stroke="#e8a02a" /><path d="M374.2,1336.2c1,1.3 3.8,5 5.7,7.5s3.7,5.6 5.6,7.5s3.7,3.8 5.6,3.8s3.8-2.5 5.6-3.8s3.8-2.5 5.7-3.7s3.7-3.5 5.6-3.8s3.7,1.9 5.6,1.9s3.8-.3 5.6-1.9s3.8-1.9 5.7-7.5s3.7-19.7 5.6-26.2s3.7-7.5 5.6-13.2s3.7-14.3 5.6-20.6s3.8-13.1 5.6-16.8s3.8-5.3 5.7-5.7s3.7,2.5 5.6,3.8s3.7,1.2 5.6,3.7s3.9,8.2 5.6,11.3s3,8.1 4.5,7.5s3.2-7.2 4.9-11.3s3.7-10.1 5.6-13.1s3.8-4.2 5.6-4.9s3.8,0 5.7,1.2s3.7,5.6 5.6,5.6s3.7-5.6 5.6-5.6s3.8,3.1 5.6,5.6s3.8,6.9 5.7,9.4s3.7,5.6 5.6,5.6s3.7-2.5 5.6-5.6s3.7-10.3 5.6-13.2s3.8-3.4 5.6-3.7s3.9,2.6 5.7,1.9s3.3-7 4.8-6.4s2.9,5.9 4.5,10.1s3.8,9.7 5.7,15s3.7,13.1 5.6,16.9s3.7,4.4 5.6,5.6s3.8,.9 5.6,1.9s3.8,2.8 5.6,3.7s3.8,1 5.7,1.9s3.7,2.5 5.6,3.7s3.7,2.5 5.6,3.8s3.8,3.1 5.6,3.7s3.8,0 5.7,0s3.7,0 5.6,0s3.5-.6 5.6,0s5.6,3.2 6.8,3.8" stroke="#000000" /><path d="M374.2,1326.8c1,1.9 3.8,7.5 5.7,11.3s3.7,9 5.6,11.2s3.7,1.9 5.6,1.9s3.8-1.3 5.6-1.9s3.8-.3 5.7-1.8s3.7-5.7 5.6-7.5s3.7-3.5 5.6-3.8s3.8,2.2 5.6,1.9s3.8,.3 5.7-3.8s3.7-13.7 5.6-20.6s3.7-13.7 5.6-20.6s3.7-15.9 5.6-20.6s3.8-5.3 5.6-7.5s3.8-5.6 5.7-5.6s3.7,4.3 5.6,5.6s3.7,0 5.6,1.9s3.9,5.9 5.6,9.3s3,11.3 4.5,11.3s3.2-6.9 4.9-11.3s3.7-10.9 5.6-15s3.8-8.1 5.6-9.3s3.8,1.2 5.7,1.8s3.7,1.6 5.6,1.9s3.7-.3 5.6,0s3.8,0 5.6,1.9s3.8,5.6 5.7,9.4s3.7,12.1 5.6,13.1s3.7-4.1 5.6-7.5s3.7-9.7 5.6-13.1s3.8-7.5 5.6-7.5s3.8,8.4 5.7,7.5s3.7-12.8 5.6-13.2s3.7,7.5 5.6,11.3s3.8,7.8 5.6,11.2s3.8,7.5 5.7,9.4s3.7,2.5 5.6,1.9s3.7-5.3 5.6-5.6s3.8,2.1 5.6,3.7s3.8,4.4 5.6,5.6s3.8,.7 5.7,1.9s3.7,4.7 5.6,5.6s3.7-.3 5.6,0s3.8-.6 5.6,1.9s3.8,11.9 5.7,13.1s3.8-5 5.6-5.6s4,1.6 4.9,1.9" stroke="#dd08f4" /><path d="M374.2,1319.3c1,2.2 3.8,8.5 5.7,13.2s3.7,11.5 5.6,15s3.7,4.9 5.6,5.6s3.8-1 5.6-1.9s3.8-2.6 5.7-3.7s3.7-2.7 5.6-3s3.7,.9 5.6,1.1s3.8-.7 5.6,0s3.8,6.5 5.7,3.7s3.7-12.2 5.6-20.6s3.7-21.9 5.6-30s3.7-13.4 5.6-18.7s3.8-10 5.6-13.1s3.8-6 5.7-5.7s3.7,5.7 5.6,7.5s3.7,.7 5.6,3.8s3.9,10 5.6,15s3,14 4.5,15s3.2-6 4.9-9.4s3.7-7.8 5.6-11.3s3.8-6.5 5.6-9.3s3.8-5.9 5.7-7.5s3.7-1.4 5.6-1.9s3.7-.3 5.6-1.1s3.8-4.9 5.6-3.8s3.8,8.2 5.7,10.5s3.7,3.8 5.6,3.8s3.7-1 5.6-3.8s3.7-10.3 5.6-13.1s3.8-2.8 5.6-3.7s3.9-.7 5.7-1.9s3.3-5.9 4.8-5.6s2.9,4 4.5,7.5s3.8,9.7 5.7,13.1s3.7,5.9 5.6,7.5s3.7,1.2 5.6,1.9s3.8,1.5 5.6,1.8s3.8-.6 5.6,0s3.8,2.8 5.7,3.8s3.7,.9 5.6,1.8s3.7,2.9 5.6,3.8s3.8,1.6 5.6,1.9s3.8,0 5.7,0s3.7-1.3 5.6,0s3.5,5 5.6,7.5s5.6,6.2 6.8,7.5" stroke="#e8a02a" /><path d="M647.5,1345.6c.8,.9 3.1,3.5 4.9,5.6s3.7,5.8 5.6,6.7s3.7,0 5.6-1.1s3.8-4 5.6-5.6s3.8-2.5 5.7-3.7s3.9-2.9 5.6-3.8s2.9-1.9 4.5-1.9s3.1,1.3 4.9,1.9s4,3.1 5.6,1.9s2.5-3.5 3.7-9.4s2.2-19.4 3.8-26.2s3.7-9.7 5.6-15s3.7-11.3 5.6-16.9s3.8-12.5 5.6-16.9s3.8-8.7 5.7-9.3s3.7,4.5 5.6,5.6s3.7-.5 5.6,.7s3.8,2.9 5.6,6.8s3.8,15.6 5.7,16.8s3.7-6.2 5.6-9.3s3.7-7.4 5.6-9.4s3.7-2.4 5.6-2.6s3.8,.7 5.6,1.5s3.8,3.1 5.7,3s4-2.4 5.6-3.8s2.2-5.1 3.7-4.5s3.8,6 5.7,8.3s3.7,5.3 5.6,5.6s3.7-1.6 5.6-3.7s3.7-6.6 5.6-9.4s3.8-6.8 5.6-7.5s3.8,2.4 5.7,3s3.7,0 5.6,.7s4,1.3 5.6,3.8s2.5,6.5 3.8,11.2s2.1,12.2 3.7,16.9s3.8,8.7 5.6,11.2s3.8,3.8 5.7,3.8s3.7-4.1 5.6-3.8s3.7,4.1 5.6,5.7s3.7,2.5 5.6,3.7s3.8,2.2 5.6,3.8s3.8,4 5.7,5.6s3.7,3.1 5.6,3.7s3.7,.4 5.6,0s3.8-1.8 5.6-1.8s4,.8 5.7,1.8s3.7,3.8 4.5,4.5" stroke="#000000" /><path d="M647.5,1330.6c.8,1.2 3.1,4.7 4.9,7.5s3.7,6.5 5.6,9.4s3.7,6.8 5.6,7.5s3.8-2.5 5.6-3.8s3.8-2.5 5.7-3.7s3.7-2 5.6-3.8s3.7-5.8 5.6-6.7s4.1,0 5.6,1.1s2.5,6.5 3.8,5.6s2.3-5 3.7-11.2s3-20 4.5-26.3s3.2-6.9 4.9-11.2s3.7-10.3 5.6-15s3.8-10.3 5.6-13.1s3.8-3.2 5.7-3.8s3.7,.3 5.6,0s3.7-2.5 5.6-1.9s3.8,1.6 5.6,5.7s3.8,17.1 5.7,18.7s3.7-5.6 5.6-9.4s3.7-9.8 5.6-13.1s3.7-5.4 5.6-6.4s3.8,1.2 5.6,.8s3.8-2.1 5.7-3s3.7-2.2 5.6-2.6s3.7-1.6 5.6,0s3.8,6.5 5.6,9.3s3.8,7.5 5.6,7.5s3.8-4.3 5.7-7.5s3.9-8 5.6-11.2s3.3-7.9 4.9-8.2s2.8,6.2 4.5,6.3s3.7-5.9 5.6-5.6s3.7,4.4 5.6,7.5s3.8,7.5 5.6,11.2s3.8,7.8 5.7,11.3s3.7,9 5.6,9.3s3.7-7.1 5.6-7.4s3.8,3.7 5.6,5.6s3.8,4 5.6,5.6s3.8,2.5 5.7,3.7s3.7,2.5 5.6,3.8s3.7,2.2 5.6,3.7s3.8,4.4 5.6,5.7s3.8,1.3 5.7,1.8s3.6,.9 5.6,1.2s5.3,.6 6.4,.7" stroke="#dd08f4" /><path d="M647.5,1325c.8,.6 3.1,1.2 4.9,3.7s3.7,6.9 5.6,11.3s3.7,12.8 5.6,15s3.8-1 5.6-1.9s3.8-2.3 5.7-3.8s3.7-3.9 5.6-4.8s3.7-.7 5.6-.8s3.8-1.2 5.6,0s4.1,8.1 5.7,7.5s2.5-5 3.7-11.2s2.2-19.7 3.8-26.3s3.7-8.7 5.6-13.1s3.7-8.1 5.6-13.1s3.9-13 5.6-16.9s2.9-6 4.5-6.4s3.1,3.7 4.9,4.5s3.7-1.4 5.6,.8s3.8,6.9 5.6,12.3s4.1,16 5.7,20.7s2.1,8.1 3.7,7.5s3.7-7.5 5.6-11.3s3.8-8 5.7-11.2s3.7-6.1 5.6-8.3s3.7-4.2 5.6-4.8s3.7,1.5 5.6,1.1s3.8-4.2 5.6-3.8s3.8,3.8 5.7,6.4s3.7,8.4 5.6,9.4s3.7-1.3 5.6-3.8s3.7-8.1 5.6-11.2s3.8-6.6 5.6-7.5s3.8,2.5 5.7,1.9s4-4.4 5.6-5.7s2.2-3.4 3.7-1.8s4.1,7.5 5.7,11.2s2.1,8.4 3.7,11.2s3.8,4.7 5.6,5.7s3.8-.3 5.7,0s3.7,1.5 5.6,1.8s3.7-.1 5.6,0s3.7,.5 5.6,1.2s3.8,1.8 5.6,2.6s3.8,1.6 5.7,1.9s3.7-.2 5.6,0s3.7,.4 5.6,.7s3.8,0 5.6,1.1s4,4.1 5.7,5.7s3.7,3.1 4.5,3.7" stroke="#e8a02a" /><path d="M922.2,1341.8c1,1 3.8,4 5.7,5.7s3.7,3.5 5.6,4.5s3.7,1.2 5.6,1.1s3.8-1 5.6-1.9s3.8-2.5 5.7-3.7s3.7-2.9 5.6-3.8s3.7-1.9 5.6-1.9s3.8,2.2 5.6,1.9s3.8,1.2 5.7-3.7s3.7-18.8 5.6-26.3s3.7-12.5 5.6-18.7s3.7-12.8 5.6-18.8s3.8-13.4 5.6-16.8s3.8-4.7 5.7-3.8s3.7,7.2 5.6,9.4s3.7,1.2 5.6,3.7s3.8,7.2 5.6,11.3s3.8,13.1 5.7,13.1s3.7-8.1 5.6-13.1s3.7-13.1 5.6-16.9s3.7-4.4 5.6-5.6s3.8-2.5 5.6-1.9s3.8,5.6 5.7,5.6s3.7-4 5.6-5.6s3.7-5 5.6-3.7s3.8,8.4 5.6,11.2s3.8,5 5.6,5.6s3.8,.3 5.7-1.8s4-7.8 5.6-11.3s2.2-8.4 3.7-9.4s3.8,3.5 5.7,3.8s3.7-3.8 5.6-1.9s3.7,8.1 5.6,13.1s3.8,12.5 5.6,16.9s3.8,7.2 5.7,9.4s3.7,3.4 5.6,3.7s3.7-2.2 5.6-1.9s3.8,2.9 5.6,3.8s3.8,.9 5.7,1.9s3.7,2.5 5.6,3.7s3.7,2.8 5.6,3.8s3.7,1.2 5.6,1.8s3.8,1 5.6,1.9s3.8,3.5 5.7,3.8s3.8-2.7 5.6-1.9s4,5.3 4.9,6.4" stroke="#000000" /><path d="M922.2,1333.2c1,1.8 3.8,7.5 5.7,10.5s3.7,5.3 5.6,7.5s3.7,5 5.6,5.6s3.8-.6 5.6-1.8s3.8-3.5 5.7-5.7s3.7-5.4 5.6-7.5s3.7-4.8 5.6-4.8s3.8,4 5.6,4.8s3.8,4.7 5.7,0s3.7-20.3 5.6-28.1s3.7-12.8 5.6-18.7s3.7-12.8 5.6-16.9s3.8-5.9 5.6-7.5s3.8-2.2 5.7-1.9s3.7,2.5 5.6,3.8s3.7,1.2 5.6,3.7s3.8,6.9 5.6,11.3s3.8,14.3 5.7,15s3.7-6.9 5.6-11.3s3.7-10.6 5.6-15s3.7-8.8 5.6-11.2s3.8-2.1 5.6-3s3.8-1.3 5.7-2.6s3.7-4.1 5.6-5.7s3.7-5.3 5.6-3.7s3.8,9.7 5.6,13.1s3.8,6.9 5.6,7.5s3.8-.6 5.7-3.7s4-10.8 5.6-15s2.2-9.8 3.7-10.1s3.8,8.4 5.7,8.2s3.7-10 5.6-9.4s3.7,7.8 5.6,13.1s3.8,14.7 5.6,18.8s3.8,5.3 5.7,5.6s3.7-3.4 5.6-3.7s3.7,.9 5.6,1.8s3.8,2.8 5.6,3.8s3.8,.9 5.7,1.8s3.7,2.5 5.6,3.8s3.7,2.8 5.6,3.7s3.7,.7 5.6,1.9s3.8,3.5 5.6,5.6s3.8,7.5 5.7,7.5s3.8-6.8 5.6-7.5s4,3.2 4.9,3.8" stroke="#dd08f4" /><path d="M922.2,1325c1,.3 3.8-.7 5.7,1.8s3.7,8.8 5.6,13.2s3.7,10.6 5.6,13.1s3.8,2.2 5.6,1.9s3.8-2.5 5.7-3.8s3.7-2.8 5.6-3.7s3.7-1.9 5.6-1.9s3.8,1.2 5.6,1.9s3.8,5.6 5.7,1.8s3.7-16.5 5.6-24.3s3.7-15.7 5.6-22.5s3.7-13.8 5.6-18.8s4-8.8 5.6-11.2s3-3.6 4.5-3s3.2,4.7 4.9,6.7s3.8,3.2 5.6,5.6s3.8,5.4 5.7,9.4s4.1,10.3 5.6,15s1.7,12.5 3,13.1s2.8-5.3 4.5-9.3s3.7-10.7 5.6-15s3.7-8.1 5.6-11.3s3.8-5.6 5.6-7.5s3.8-2.8 5.7-3.7s3.7-1.3 5.6-1.9s3.7-3.4 5.6-1.9s3.8,8.2 5.6,11.3s3.8,6.9 5.6,7.5s3.8-.6 5.7-3.8s3.7-11.2 5.6-15s3.7-6.5 5.6-7.5s4,3.5 5.6,1.9s3-11.2 4.5-11.2s3.2,7.1 4.9,11.2s3.8,10.3 5.6,13.1s3.8,3.5 5.7,3.8s3.7-1.9 5.6-1.9s3.7,1.9 5.6,1.9s3.8-1 5.6-1.9s3.8-4.1 5.7-3.7s3.7,4 5.6,5.6s3.7,2.2 5.6,3.7s3.7,5.3 5.6,5.6s3.8-3.7 5.6-3.7s3.8,1.9 5.7,3.7s3.8,5.7 5.6,7.5s4,3.2 4.9,3.8" stroke="#e8a02a" /><path d="M1195.6,1342.5c.6,.8 2.3,2.9 3.7,4.6s3,5 4.7,5.6s3.7-1.4 5.5-1.9s3.7-.4 5.6-.9s3.7-1.1 5.6-1.8s3.8-1.9 5.5-2.8s3.1-1.7 4.6-2.8s3.3-3.1 4.7-3.7s2.5-.5 3.7,0s2.5,3.1 3.7,2.8s2.6-1.4 3.7-4.6s1.9-10.2 2.8-14.9s1.8-9.4 2.8-12.9s1.7-7 2.8-8.4s2.4,1.4 3.7,0s2.4-5.3 3.7-8.3s2.4-7.3 3.7-10.2s2.6-5.8 3.7-7.5s1.8-1.5 2.8-2.7s1.8-4.4 2.7-4.7s1.7,1.6 2.8,2.8s2.5,3.6 3.7,4.6s2.5-.1 3.7,1.9s2.5,6.5 3.7,10.2s2.5,8.3 3.8,12.1s2.4,9.7 3.7,10.2s2.4-5 3.7-7.5s2.4-5.2 3.7-7.4s2.4-4.1 3.7-5.5s2.5-2.1 3.7-2.8s2.5-1.1 3.7-1.9s2.5-3.1 3.7-2.8s2.5,3.6 3.7,4.7s2.6,2.4 3.7,1.8s1.7-4.1 2.8-5.5s2.5-2.8 3.7-2.8s2.6,1.5 3.7,2.8s1.7,2.9 2.8,4.6s2.3,4.2 3.7,5.6s3.2,2.6 4.6,2.7s2.3-.1 3.7-1.8s3.3-5.6 4.7-8.4s2.4-7.1 3.7-8.3s2.5,.2 3.7,.9s2.5,3.4 3.7,3.7s2.3-1.2 3.7-1.8s3.2-2.6 4.6-1.9s2.5,3.7 3.7,6.5s2.5,6.7 3.7,10.2s2.5,8.1 3.8,11.1s2.4,5.3 3.7,7.4s2.4,5.1 3.7,5.6s2.4-2 3.7-2.8s2.5-2.3 3.7-1.8s2.3,3.4 3.7,4.6s3.2,2.5 4.6,2.8s2.4-.6 3.7-.9s3.3-1.3 4.7-1s2.4,1.7 3.7,2.8s2.3,3.1 3.7,3.7s3.2,.3 4.6,0s2.5-1.2 3.7-1.8s2.5-2.3 3.7-1.9s2.3,3.9 3.7,4.7s3.3-.4 4.7,0s2.8,.9 3.7,1.8s1.5,3.1 1.8,3.7" stroke="#000000" /><path d="M1195.6,1332.3c.6,.6 2.3,1.4 3.7,3.7s3,7.4 4.7,10.2s3.7,5 5.5,6.5s3.7,2.8 5.6,2.8s3.9-1.9 5.6-2.8s3.2-1.5 4.6-2.8s2.6-2.6 3.7-4.6s1.5-5.7 2.8-7.4s3.2-2.6 4.6-2.8s2.5,.6 3.7,1.9s2.6,5.7 3.7,5.5s1.9-2.8 2.8-6.5s1.9-11.3 2.8-15.7s1.8-7.6 2.8-11.1s1.7-8.2 2.8-10.2s2.4-.5 3.7-1.9s2.4-4.2 3.7-6.5s2.4-4.9 3.7-7.4s2.3-5.7 3.7-7.4s3.2-2.3 4.6-2.8s2.3-.3 3.7,0s3.3,1.7 4.7,1.8s2.6-2.3 3.7-.9s1.7,5.6 2.7,9.3s2.5,9 3.8,13s2.4,9.7 3.7,11.1s2.4-1.4 3.7-2.8s2.4-3.2 3.7-5.5s2.4-5.9 3.7-8.4s2.5-4.9 3.7-6.5s2.5-2.6 3.7-2.8s2.5,1.3 3.7,1.9s2.6,2.5 3.7,1.8s1.7-4.1 2.8-5.5s2.5-1.7 3.7-2.8s2.3-2.9 3.7-3.7s3.4-2 4.6-.9s1.9,4.6 2.8,7.4s1.6,7.4 2.8,9.3s3.2,2.1 4.6,1.8s2.5-1.5 3.7-3.7s2.5-6.3 3.7-9.3s2.7-6.6 3.8-8.3s1.8-2.2 2.7-1.9s1.7,2.4 2.8,3.8s2.5,4.3 3.7,4.6s2.5-1.7 3.7-2.8s2.5-3.7 3.7-3.7s2.5,1.7 3.7,3.7s2.5,5.4 3.7,8.3s2.5,6.8 3.8,9.3s2.4,3.4 3.7,5.6s2.4,7.1 3.7,7.4s2.4-4 3.7-5.6s2.5-3.7 3.7-3.7s2.5,2.2 3.7,3.7s2.5,4.2 3.7,5.6s2.5,2.8 3.7,2.8s2.5-3.1 3.7-2.8s2.3,3.4 3.7,4.6s3.1,1.9 4.7,2.8s3.2,2.2 4.6,2.8s2.5-.2 3.7,.9s2.5,3.6 3.7,5.6s2.5,6.6 3.7,6.5s2.5-5.8 3.7-7.5s2.5-2.9 3.7-2.7s3.1,3.1 3.7,3.7" stroke="#dd08f4" /><path d="M1195.6,1328.6c.6,.6 2.3,2 3.7,3.7s3,3.9 4.7,6.5s3.7,7.1 5.5,9.3s3.7,3.2 5.6,3.7s3.7-.3 5.6-1s3.8-1.6 5.5-2.7s3.3-2.8 4.6-3.7s2.5-1.4 3.8-1.9s2.4-.6 3.7-.9s2.4-2.2 3.7-.9s2.6,7.4 3.7,8.3s1.8,.2 2.8-2.8s1.8-9.2 2.7-14.8s1.9-14.5 2.8-18.6s1.7-4.7 2.8-5.5s2.5,2.3 3.7,.9s2.5-6.3 3.7-9.2s2.5-5.6 3.7-8.4s2.5-6 3.7-8.3s2.7-5.1 3.7-5.6s1.9,1.4 2.8,2.8s1.7,3.7 2.8,5.5s2.5,4.1 3.7,5.6s2.5,1.2 3.7,3.7s2.5,6.8 3.7,11.1s2.6,11.2 3.7,14.9s1.9,7.1 2.8,7.4s1.7-3.4 2.8-5.6s2.5-5.1 3.7-7.4s2.5-4.8 3.7-6.5s2.5-2.5 3.7-3.7s2.5-2 3.7-3.7s2.5-5.1 3.7-6.5s2.5-1.5 3.7-1.8s2.5-.3 3.7,0s2.5,2.7 3.8,1.8s2.4-6.8 3.7-7.4s2.4,1.9 3.7,3.7s2.3,4.9 3.7,7.4s3.2,6.8 4.6,7.4s2.5-2.6 3.7-3.7s2.5-1.1 3.7-2.7s2.5-5.1 3.7-7.5s2.5-6 3.7-6.5s2.5,2.8 3.7,3.8s2.5,2.3 3.8,1.8s2.5-2.8 3.7-4.6s2.2-6.4 3.3-6.5s2,3.1 3.1,5.5s2.5,6.5 3.7,9.3s2.5,5.6 3.8,7.4s2.4,3.3 3.7,3.7s2.4-1 3.7-.9s2.4,2.6 3.7,1.9s2.5-5.1 3.7-6.5s2.5-1.7 3.7-1.9s2.3,1.9 3.7,1s3.2-5 4.6-6.5s2.5-2.7 3.7-2.8s2.5,1.1 3.7,1.8s2.5,2.4 3.8,2.8s2.4-.9 3.7,0s2.4,5.3 3.7,5.6s2.4-3.3 3.7-3.7s2.5,.4 3.7,.9s2.5,.6 3.7,1.9s2.3,3.7 3.7,5.5s3.9,4.6 4.6,5.6" stroke="#e8a02a" /><path d="M99.5,1530.2c.8,.9 3.1,3.9 4.9,5.6s3.7,3.7 5.6,4.9s4.1,1.9 5.6,2.6s2.2,2.1 3.8,1.9s3.4-2.1 5.6-3s5.5-1.9 7.5-2.6s2.9-1.3 4.5-1.9s3.1-1.9 4.8-1.9s4.1,2.8 5.7,1.9s2.2-1.9 3.7-7.5s3.8-20.3 5.6-26.2s3.8-6.9 5.7-9.4s3.7-2.2 5.6-5.6s3.7-10.8 5.6-15s3.8-9.3 5.6-10.5s3.8,1.9 5.7,3s4,1.2 5.6,3.7s2.2,8.5 3.7,11.3s3.8,7.2 5.6,5.6s3.8-11.2 5.7-15s4-5.6 5.6-7.5s2.2-4.1 3.7-3.7s3.8,3.7 5.7,5.6s4,3.7 5.6,5.6s2.2,5.3 3.7,5.6s3.8-4 5.7-3.7s3.7,3.1 5.6,5.6s3.7,6.9 5.6,9.4s3.8,5.3 5.6,5.6s3.8-1.6 5.7-3.8s3.7-8.4 5.6-9.3s3.7,3.7 5.6,3.7s4.1-2.5 5.6-3.7s2.5-5 3.8-3.8s2.5,6.9 3.7,11.3s2.2,10.3 3.8,15s3.7,10.6 5.6,13.1s3.7,2 5.6,1.9s3.8-3.4 5.6-3s3.8,3.7 5.6,4.8s3.8,1.6 5.7,1.9s3.7-.5 5.6,0s3.7,2.1 5.6,3s3.8,1.9 5.6,2.6s3.8,1.7 5.7,1.9s3.4-.1 5.6-.7s5.2-3.2 7.5-3s5.3,3.1 6.4,3.7" stroke="#000000" /><path d="M99.5,1520.8c.8,1 3.1,3.2 4.9,5.7s3.7,6.8 5.6,9.3s3.7,4.4 5.6,5.7s3.8,1.5 5.6,1.8s3.8,.6 5.7,0s3.7-2.3 5.6-3.7s3.7-4.3 5.6-4.9s3.8,.3 5.6,1.1s4.1,6 5.6,3.8s2.5-10.6 3.8-16.9s2.2-15.6 3.7-20.6s3.8-5.9 5.7-9.4s3.7-7.5 5.6-11.2s3.7-8.8 5.6-11.3s3.8-3.7 5.6-3.7s3.8,2.8 5.7,3.7s3.7,0 5.6,1.9s4,6.6 5.6,9.4s2.2,8.1 3.7,7.5s3.8-7.5 5.7-11.3s3.7-8.4 5.6-11.2s3.7-5.6 5.6-5.6s3.8,4.3 5.6,5.6s3.8,1.5 5.7,1.9s3.7-.7 5.6,0s3.7,1.8 5.6,3.7s3.8,3.8 5.6,7.5s3.8,12.8 5.7,15s3.7,0 5.6-1.9s3.7-7.5 5.6-9.4s3.7-2.4 5.6-1.8s3.8,6.2 5.6,5.6s4.1-9.1 5.7-9.4s2.1,4.4 3.7,7.5s3.8,8.5 5.6,11.3s3.8,5 5.7,5.6s3.7-2.5 5.6-1.9s3.7,4.7 5.6,5.6s3.8-.6 5.6,0s3.8,2.5 5.6,3.8s3.8,3.1 5.7,3.7s3.7-.3 5.6,0s3.7,.7 5.6,1.9s3.8,4.4 5.6,5.6s3.8,2.5 5.7,1.9s3.6-4.7 5.6-5.6s5.3,0 6.4,0" stroke="#dd08f4" /><path d="M99.5,1511.5c.8,1.2 3.1,4.6 4.9,7.5s3.7,5.6 5.6,9.3s3.7,10.5 5.6,13.2s3.8,2.6 5.6,3s3.8-.4 5.7-1.2s3.7-2.8 5.6-3.7s3.7-1.6 5.6-1.9s3.8,0 5.6,0s4.1,1.3 5.6,0s2.5-1.9 3.8-7.5s2.2-20 3.7-26.2s3.8-7.5 5.7-11.3s3.7-7.5 5.6-11.2s3.9-8.3 5.6-11.3s2.6-6.6 4.5-6.7s4.7,4.5 6.8,6s4,.6 5.6,2.6s2.2,4.7 3.7,9.4s4.1,15.3 5.6,18.7s2.2,3.1 3.8,1.9s3.7-7.2 5.6-9.4s3.8-1.9 5.6-3.7s3.8-5 5.7-7.5s3.7-6 5.6-7.5s3.7-1.9 5.6-1.9s3.8,.9 5.6,1.9s3.8,1.2 5.7,3.7s3.7,10 5.6,11.3s3.7-2.8 5.6-3.8s4.1-.5 5.6-1.9s2.2-6.3 3.8-6.3s3.7,6.5 5.6,6.3s4.1-5.6 5.6-7.5s2.2-4 3.8-3.7s3.7,2.5 5.6,5.6s3.7,10.3 5.6,13.1s3.8,2.9 5.6,3.8s3.8,1.7 5.7,1.9s3.7-.8 5.6-.8s3.7,.3 5.6,.8s3.7,1.3 5.6,1.8s3.8,.9 5.6,1.2s3.8,.3 5.7,.7s3.7,1.9 5.6,1.9s3.7-1.9 5.6-1.9s3.8,.6 5.6,1.9s4,3.9 5.7,5.6s3.7,3.8 4.5,4.5" stroke="#e8a02a" /><path d="M373.7,1531.1c.6,.8 2.5,2.7 3.7,4.7s2.4,6.1 3.8,7.5s3.1,.3 4.7,.9s3.2,2.2 4.7,2.9s2.5,1.5 3.7,.9s2.3-3.1 3.8-4.7s3.2-3.7 4.6-4.7s2.5-.9 3.8-.9s2.5,1.2 3.7,.9s2.5-2.3 3.8-2.8s2.3-.3 3.7,0s3.5,3.5 4.7,1.9s1.7-6.3 2.8-11.2s2.5-13.5 3.8-18.8s2.5-9.4 3.7-13.1s2.5-6.6 3.8-9.4s2.5-4.4 3.7-7.5s2.5-7.5 3.8-11.2s2.5-8.6 3.7-11.3s2.7-3.6 3.8-4.7s1.8-2.1 2.8-1.8s1.7,2.8 2.8,3.7s2.5,2.2 3.7,1.9s2.7-3.6 3.8-3.8s1.7,.8 2.8,2.9s2.5,6.5 3.7,9.3s2.7,7.2 3.8,7.5s1.7-2.8 2.8-5.6s2.5-7.8 3.7-11.2s2.5-6.6 3.8-9.4s2.5-5.9 3.7-7.5s2.5-2 3.8-2.3s2.5-.2 3.7,.8s2.5,4.1 3.8,5.2s2.5,2.4 3.7,1.9s2.5-3.7 3.8-4.7s2.5-1.4 3.7-.9s2.5,2.2 3.8,3.7s2.5,3.8 3.7,5.7s2.5,4.2 3.8,5.6s2.5,3.4 3.7,2.8s2.5-4.5 3.8-6.6s2.5-3.1 3.7-5.6s2.7-7.6 3.8-9.4s1.8-1.4 2.8-.9s1.7,3 2.8,3.7s2.5,1.1 3.7,1s2.5-1.4 3.8-1.9s2.6-1.9 3.7-.9s1.9,3.6 2.9,6.5s1.7,7.2 2.8,11.3s2.5,9.4 3.7,13.1s2.5,6.9 3.8,9.4s2.5,5 3.7,5.6s2.5-1.3 3.8-1.9s2.5-2.2 3.7-1.9s2.5,2.4 3.7,3.8s2.5,4.1 3.8,4.7s2.5-1.1 3.7-1s2.5,1.1 3.8,1.9s2.3,1.9 3.7,2.8s3.3,1.7 4.7,2.8s2.5,2.5 3.8,3.8s2.5,3.1 3.7,3.7s2.5-.3 3.8,0s2.5,1.9 3.7,1.9s2.5-1.5 3.8-1.9s2.3-.6 3.7,0s3.9,3.2 4.7,3.8" stroke="#000000" /><path d="M373.7,1521.8c.6-.5 2.5-3.6 3.7-2.8s2.5,4.3 3.8,7.5s2.5,8.4 3.7,11.2s2.4,4.2 3.8,5.6s3.3,2.2 4.7,2.8s2.5,1.4 3.7,1s2.5-2.2 3.8-3.8s2.5-4 3.7-5.6s2.5-2.7 3.8-3.7s2.5-2.1 3.7-2.9s2.5-2 3.8-1.8s2.5,2.6 3.7,2.8s2.5,.9 3.8-1.9s2.6-9.7 3.7-15s1.7-11.9 2.8-16.9s2.5-9.8 3.8-13.1s2.5-4 3.7-6.5s2.7-5.4 3.7-8.5s1.8-7.5 2.9-10.3s2.5-5.3 3.7-6.5s2.5-1.4 3.8-1s2.5,2.7 3.7,3.8s2.5,2.3 3.8,2.8s2.5-.5 3.7,0s2.5,.9 3.8,2.8s2.3,5.6 3.7,8.4s3.3,8.5 4.7,8.5s2.5-5.2 3.7-8.5s2.5-7.5 3.8-11.2s2.5-8 3.7-11.3s2.5-6.7 3.8-8.4s2.5-2 3.7-1.9s2.5,3 3.8,2.8s2.5-2.9 3.7-3.7s2.5-.3 3.8-1s2.5-2.1 3.7-2.8s2.7-.7 3.8-.9s1.8-1.1 2.8,0s1.7,3.7 2.8,6.6s2.3,6.7 3.7,10.3s3.3,10.3 4.7,11.2s2.5-3 3.8-5.6s2.5-6.7 3.7-10.3s2.7-8.6 3.8-11.3s1.8-5 2.8-4.6s1.9,4.8 2.8,6.5s1.9,3.8 2.8,3.8s1.9-1.8 2.8-3.8s1.9-7.8 2.8-8.4s1.7,2.3 2.8,4.7s2.5,6.2 3.8,9.3s2.5,7.1 3.7,9.4s2.5,2.8 3.8,4.7s2.5,4.4 3.7,6.5s2.5,6.1 3.8,6.6s2.5-3.1 3.7-3.7s2.5-.8 3.8,0s2.5,3.2 3.7,4.6s2.4,3.3 3.8,3.8s3.3-1.6 4.7-.9s2.5,3.4 3.7,4.6s2.5,1.9 3.8,2.9s2.5,1.8 3.7,2.8s2.5,2.6 3.8,2.8s2.5-3 3.7-1.9s2.5,6.1 3.8,8.4s2.5,5.5 3.7,5.7s2.5-3.9 3.8-4.7s2.6-.5 3.7,0s2.3,2.3 2.8,2.8" stroke="#dd08f4" /><path d="M373.7,1516.1c.6,.5 2.5,1.1 3.7,2.9s2.5,4 3.8,7.5s2.5,9.9 3.7,13.1s2.5,3.9 3.8,5.6s2.5,4.4 3.7,4.7s2.5-1.4 3.8-2.8s2.5-4.1 3.7-5.7s2.5-2.8 3.8-3.7s2.5-1.9 3.7-1.9s2.5,2 3.8,1.9s2.5-2.7 3.7-2.8s2.5,.6 3.8,1.9s2.6,6 3.7,5.6s1.7-4.2 2.8-8.4s2.5-10.4 3.8-16.9s2.6-17.8 3.7-22.5s1.7-4.8 2.8-5.6s2.5,2.8 3.8,.9s2.5-8 3.7-12.2s2.5-9 3.8-13.1s2.6-10 3.7-11.2s1.9,1.8 2.8,3.7s1.8,5.5 2.8,7.5s2.6,3.8 3.8,4.7s2.5,.1 3.7,.9s2.5,1.3 3.8,3.8s2.5,7.5 3.7,11.2s2.5,10.6 3.8,11.3s2.5-4.7 3.7-7.5s2.5-6.9 3.8-9.4s2.5-3.1 3.7-5.6s2.5-6.9 3.8-9.4s2.5-3.4 3.7-5.6s2.5-6 3.8-7.5s2.5-1.4 3.7-1.9s2.5-.5 3.8-.9s2.5-1.1 3.7-1.9s2.5-2.5 3.8-2.8s2.5,.1 3.7,.9s2.5,2.1 3.8,3.8s2.6,4.8 3.7,6.5s1.7,3.9 2.8,3.8s2.5-2.5 3.8-4.7s2.5-5 3.7-8.4s2.8-9.3 3.8-12.2s1.4-5 2.2-5.6s1.6,1.1 2.5,1.8s1.8,3.3 2.8,2.8s1.8-3.9 2.8-5.6s1.9-4 2.8-4.7s1.9-.1 2.8,1s1.7,3.1 2.8,5.6s2.5,6.2 3.8,9.4s2.5,7.1 3.7,9.3s2.5,2.4 3.8,3.8s2.5,3.1 3.7,4.7s2.5,3.9 3.8,4.6s2.5,.2 3.7,0s2.5-1.3 3.7-.9s2.5,2.8 3.8,3.8s2.5,1.1 3.7,1.8s2.5,1.9 3.8,2.8s2.5,1.8 3.7,2.9s2.5,2.9 3.8,3.7s2.5,.5 3.7,.9s2.5,1.6 3.8,1.9s2.5,.2 3.7,0s2.5-1.5 3.8-.9s2.5,3 3.7,4.7s2.2,3.4 3.8,5.6s4.7,6.2 5.6,7.5" stroke="#e8a02a" /><path d="M647.7,1531.4c.6,1 2.5,3.6 3.7,5.7s2.4,5 3.8,6.5s3.1,2.1 4.7,2.8s3.1,2.2 4.6,1.9s3.2-2.5 4.7-3.7s3.2-2.7 4.7-3.8s3.3-2 4.7-2.8s2.5-1.4 3.8-1.9s2.5-.9 3.7-.9s2.5,.5 3.8,.9s2.5,1.4 3.7,1.9s2.7,3.3 3.8,.9s1.7-8.7 2.8-14.9s2.5-17.2 3.7-22.5s2.5-7.4 3.8-9.4s2.5,0 3.7-2.8s2.5-8.9 3.7-14.1s2.5-12.2 3.8-16.9s2.5-8.2 3.7-11.2s2.5-6.1 3.8-6.6s2.5,2.4 3.7,3.8s2.6,4.5 3.8,4.7s2.5-4.1 3.7-3.8s2.5,3.2 3.8,5.6s2.5,6.8 3.7,9.4s2.5,6.9 3.8,6.6s2.5-4.5 3.7-8.5s2.5-10.3 3.8-14.9s2.5-9.6 3.7-13.2s2.5-6.4 3.8-8.4s2.5-3 3.7-3.7s2.7-1.6 3.8-1s1.9,3.6 2.8,4.7s1.7,2.3 2.8,1.9s2.5-3.3 3.8-4.7s2.4-3.4 3.7-3.8s2.5,1 3.7,1.9s2.5,2.2 3.8,3.8s2.5,3.7 3.7,5.6s2.5,5.3 3.8,5.6s2.5-1.6 3.7-3.7s2.5-6 3.8-9.4s2.6-8.8 3.7-11.2s1.9-3.6 2.8-3.8s1.8,1.6 2.9,2.8s2.5,4.1 3.7,4.7s2.5-.6 3.8-.9s2.6-1.8 3.7-1s1.7,2.8 2.8,5.6s2.5,7.2 3.8,11.3s2.5,8.7 3.7,13.1s2.5,10 3.8,13.1s2.5,4.6 3.7,5.6s2.5,1.3 3.8,1s2.5-3 3.7-2.8s2.5,2 3.7,3.7s2.5,5.3 3.8,6.6s2.5,.1 3.7,.9s2.5,2.7 3.8,3.8s2.5,1.8 3.7,2.8s2.5,1.9 3.8,2.8s2.5,1.6 3.7,2.8s2.5,3.8 3.8,4.7s2.5,.3 3.7,.9s2.5,2.1 3.8,2.8s2.5,1.9 3.7,1.9s2.4-2.6 3.8-1.9s3.9,5.5 4.7,6.6" stroke="#000000" /><path d="M647.7,1527.7c.6-.3 2.5-3.1 3.7-1.9s2.5,6.6 3.8,9.4s2.5,5.6 3.7,7.5s2.5,2.5 3.8,3.7s2.5,3.5 3.7,3.8s2.5-1 3.8-1.9s2.5-2.5 3.7-3.7s2.5-2.2 3.8-3.8s2.5-3.9 3.7-5.6s2.5-3.8 3.8-4.7s2.5-1.2 3.7-.9s2.5,2.5 3.8,2.8s2.5,1.7 3.7-1s2.5-9 3.8-14.9s2.5-15.4 3.7-20.7s2.5-8.4 3.8-11.2s2.5-3.1 3.7-5.6s2.5-6 3.7-9.4s2.5-8.4 3.8-11.3s2.5-4.3 3.7-5.6s2.5-1.9 3.8-1.9s2.5,1.3 3.7,1.9s2.6,1.4 3.8,1.9s2.5,0 3.7,.9s2.5,2.2 3.8,4.7s2.5,7 3.7,10.3s2.5,9.2 3.8,9.4s2.5-4.8 3.7-8.4s2.5-9.1 3.8-13.2s2.5-7.4 3.7-11.2s2.5-7.6 3.8-11.2s2.5-7.5 3.7-10.4s2.5-5.1 3.8-6.5s2.5-1.3 3.7-1.9s2.5-1.2 3.8-1.9s2.5-1.2 3.7-1.8s2.7-1.3 3.8-1.9s1.8-2.5 2.8-1.9s1.9,3.1 2.8,5.6s1.7,6.3 2.8,9.4s2.7,7.2 3.7,9.4s1.8,4 2.9,3.7s2.5-2.8 3.7-5.6s2.7-7.6 3.8-11.2s2-7.5 2.8-10.3s1.1-5.4 1.8-6.6s1.9-2.3 2.9-.9s1.7,8.2 2.8,9.3s2.6-1.2 3.7-2.8s1.9-5.6 2.8-6.5s1.7-.7 2.8,.9s2.5,5.3 3.8,8.4s2.5,7.1 3.7,10.3s2.5,6.3 3.8,9.4s2.5,6.9 3.7,9.4s2.5,5.3 3.8,5.6s2.6-2.6 3.7-3.7s1.7-3.5 2.8-2.9s2.5,4.6 3.8,6.6s2.5,4.5 3.7,5.6s2.5,.5 3.8,1s2.5,.9 3.7,1.8s2.5,2.9 3.8,3.8s2.5,1.1 3.7,1.9s2.5,1.7 3.8,2.8s2.5,1.8 3.7,3.7s2.5,5.3 3.8,7.5s2.5,5.2 3.7,5.6s2.4-2.6 3.8-2.8s3.3,1 4.7,1.9s3.1,3.1 3.7,3.8" stroke="#dd08f4" /><path d="M647.7,1517.4c.6,.5 2.5,1.1 3.7,2.8s2.5,4.1 3.8,7.5s2.6,9.7 3.7,13.1s1.7,5.5 2.8,7.5s2.5,4.4 3.8,4.7s2.5-1.7 3.7-2.8s2.5-2.4 3.8-3.8s2.5-3.2 3.7-4.6s2.5-3 3.8-3.8s2.5-.8 3.7-.9s2.5-.2 3.8,0s2.5,.3 3.7,.9s2.7,1.6 3.8,2.8s1.9,5.6 2.8,4.7s1.7-4.8 2.8-10.3s2.7-15.6 3.8-22.5s1.8-15.3 2.8-18.7s1.8-2.1 2.8-1.9s1.7,5 2.8,2.8s2.3-10.5 3.7-15.9s3.3-13 4.7-16.9s2.5-7.2 3.8-6.6s2.5,6.8 3.7,10.3s2.5,8.8 3.8,11.3s2.5,2.5 3.7,3.7s2.5,1.3 3.8,3.8s2.5,7.5 3.7,11.2s2.7,9.1 3.8,11.3s1.7,3.7 2.8,1.9s2.5-9.1 3.7-13.2s2.5-7.8 3.8-11.2s2.5-6.3 3.7-9.4s2.5-6.5 3.8-9.4s2.5-5 3.7-7.5s2.5-5.9 3.7-7.5s2.6-1 3.8-1.8s2.5-1.6 3.8-2.8s2.4-3.5 3.7-4.7s2.5-2.5 3.7-2.8s2.5,0 3.8,.9s2.5,2.5 3.7,4.7s2.7,6.9 3.8,8.4s1.7,1.6 2.8,1s2.5-2.1 3.7-4.7s2.5-6.9 3.8-11.3s2.7-12.2 3.7-15s1.8-2.1 2.9-1.8s2.6,3.4 3.7,3.7s1.9-.5 2.8-1.9s1.9-5.9 2.8-6.5s1.9,1.1 2.8,2.8s1.8,5 2.9,7.5s2.5,4.8 3.7,7.5s2.5,6.5 3.8,8.4s2.5,1.7 3.7,2.8s2.5,2.5 3.7,3.8s2.5,3 3.8,3.7s2.5,.6 3.7,1s2.5,.4 3.8,.9s2.5,1.3 3.7,1.9s2.5,1.7 3.8,1.8s2.5-1.5 3.7-.9s2.5,3.3 3.8,4.7s2.5,2.8 3.7,3.7s2.5,1.1 3.8,1.9s2.5,1.9 3.7,2.8s2.5,2.2 3.8,2.8s2.5,.2 3.7,1s2.5,2 3.8,3.7s2.5,4.2 3.7,6.6s3.1,6.2 3.8,7.5" stroke="#e8a02a" /><path d="M922.2,1534c1,.9 3.8,4 5.7,5.6s3.7,2.5 5.6,3.7s3.7,3.8 5.6,3.8s3.8-2.8 5.6-3.8s3.8-1.2 5.7-1.9s3.7-1.2 5.6-1.8s3.7-1.9 5.6-1.9s3.8,2.2 5.6,1.9s3.8,1.5 5.7-3.8s3.7-20.3 5.6-28.1s3.7-13.7 5.6-18.7s3.7-5.7 5.6-11.3s3.8-17.5 5.6-22.5s3.8-7.5 5.7-7.5s3.7,6 5.6,7.5s3.7,0 5.6,1.9s3.8,5 5.6,9.4s3.8,15.6 5.7,16.8s3.7-4.6 5.6-9.3s3.7-13.5 5.6-18.8s3.7-10.3 5.6-13.1s3.8-2.8 5.6-3.7s3.8-.7 5.7-1.9s3.7-4.7 5.6-5.6s3.7-1.6 5.6,0s3.8,6.5 5.6,9.3s3.8,7.2 5.6,7.5s3.8-1.8 5.7-5.6s4-13.3 5.6-16.9s2.2-4.4 3.7-4.4s3.8,4.6 5.7,4.4s3.7-6.8 5.6-5.6s3.7,8.5 5.6,13.1s3.8,11.3 5.6,15s3.8,5.7 5.7,7.5s3.7,3.2 5.6,3.8s3.7-.6 5.6,0s3.8,2.5 5.6,3.7s3.8,2.8 5.7,3.8s3.7,.9 5.6,1.8s3.7,2.9 5.6,3.8s3.7,.9 5.6,1.9s3.8,2.5 5.6,3.7s3.8,2.5 5.7,3.8s3.8,1.8 5.6,3.7s4,6.3 4.9,7.5" stroke="#000000" /><path d="M922.2,1522.7c1,.9 3.8,2.5 5.7,5.6s3.7,9.7 5.6,13.1s3.7,6.6 5.6,7.5s3.8-.6 5.6-1.8s3.8-3.5 5.7-5.7s3.7-5.6 5.6-7.4s3.7-4.4 5.6-3.8s3.8,7.2 5.6,7.5s3.8-.6 5.7-5.6s3.7-17.2 5.6-24.4s3.7-12.5 5.6-18.7s3.7-14.4 5.6-18.8s3.8-5.9 5.6-7.5s3.8-1.9 5.7-1.9s3.7,1 5.6,1.9s3.7,1.3 5.6,3.8s3.8,6.5 5.6,11.2s3.8,16.3 5.7,16.9s3.7-8.4 5.6-13.1s3.7-9.4 5.6-15s3.7-15 5.6-18.8s3.8-2.5 5.6-3.7s3.8-2.2 5.7-3.8s3.7-4.3 5.6-5.6s3.7-2.8 5.6-1.9s3.8,4.4 5.6,7.5s3.8,10.3 5.6,11.3s3.8-1.9 5.7-5.6s3.7-13.2 5.6-16.9s3.7-5.3 5.6-5.6s4,4.7 5.6,3.7s3-9 4.5-9.3s3.2,3.7 4.9,7.4s3.8,11 5.6,15s3.8,7.2 5.7,9.4s3.7,4.1 5.6,3.8s3.7-6.3 5.6-5.7s3.8,7.2 5.6,9.4s3.8,2.8 5.7,3.7s3.7,1.3 5.6,1.9s3.7,1 5.6,1.9s3.7,2.5 5.6,3.7s3.8,2.5 5.6,3.8s3.8,2.5 5.7,3.7s3.8,2.6 5.6,3.8s4,3.1 4.9,3.7" stroke="#dd08f4" /><path d="M922.2,1515.2c1,.6 3.8,1.3 5.7,3.8s3.7,6.8 5.6,11.2s3.7,12.2 5.6,15s3.8,2.2 5.6,1.9s3.8-2.5 5.7-3.8s3.7-3.1 5.6-3.7s3.7-.3 5.6,0s3.8,1.2 5.6,1.8s3.8,5.7 5.7,1.9s3.7-16.5 5.6-24.3s3.7-16.9 5.6-22.5s3.7-6.9 5.6-11.3s4-11.5 5.6-15s3-5.9 4.5-5.6s3.2,4.7 4.9,7.5s3.8,6.6 5.6,9.4s4.1,3.7 5.7,7.5s2.3,11.1 3.7,15s3.3,7.9 4.9,8.2s2.8-2.5 4.5-6.4s3.7-11.5 5.6-16.8s3.7-10.7 5.6-15s3.8-8.8 5.6-11.3s3.8-2.5 5.7-3.7s3.7-1.9 5.6-3.8s3.7-7.5 5.6-7.5s3.8,4.4 5.6,7.5s3.8,10.7 5.6,11.3s3.8-3.1 5.7-7.5s3.7-15 5.6-18.8s3.7-2.8 5.6-3.7s4.1-.6 5.6-1.9s2.2-6.2 3.8-5.6s3.7,5.9 5.6,9.4s3.8,8.4 5.6,11.2s3.8,4.1 5.7,5.6s3.7,2.8 5.6,3.8s3.7,1.8 5.6,1.8s3.8-1.2 5.6-1.8s3.8-2.2 5.7-1.9s3.7,2.5 5.6,3.7s3.7,2.9 5.6,3.8s3.7,1.6 5.6,1.9s3.8,0 5.6,0s3.8-1.6 5.7,0s3.8,6.9 5.6,9.3s4,4.7 4.9,5.7" stroke="#e8a02a" /><path d="M1195.6,1534.7c.6,.6 2.3,2.1 3.7,3.7s3,4.7 4.7,5.5s3.7-1.1 5.5-.9s3.7,1.7 5.6,1.8s3.9-.1 5.6-.9s3-2.4 4.6-3.7s3.1-2.9 4.6-3.7s3.1-.3 4.7-.9s3-2.6 4.6-2.8s3.4,2.5 4.6,1.9s1.7-2.2 2.8-5.6s2.5-10.2 3.7-14.8s2.6-9.5 3.7-13s1.7-7.4 2.8-8.3s2.5,3.2 3.7,2.7s2.5-3.2 3.7-5.5s2.5-5.6 3.7-8.4s2.5-5.8 3.7-8.3s2.5-6 3.7-6.5s2.5,2.5 3.7,3.7s2.5,2.6 3.8,3.7s2.4,1.1 3.7,2.8s2.4,4.3 3.7,7.4s2.4,7.7 3.7,11.1s2.4,8.7 3.7,9.3s2.5-3.1 3.7-5.6s2.3-6.6 3.7-9.2s3.1-4.5 4.6-6.5s3.1-3.7 4.7-5.6s3.2-5.1 4.6-5.5s2.5,2 3.7,2.7s2.5,2.2 3.7,1.9s2.5-2.9 3.7-3.7s2.5-1.2 3.7-.9s2.5,2 3.7,2.7s2.5,.8 3.7,1.9s2.5,3.4 3.7,4.6s2.5,2.7 3.8,2.8s2.4-.6 3.7-1.8s2.4-3.6 3.7-5.6s2.4-5.7 3.7-6.5s2.5,1.1 3.7,1.9s2.5,2.6 3.7,2.7s2.3-.7 3.7-1.8s3.2-5 4.6-4.7s2.5,3.9 3.7,6.5s2.5,6.5 3.7,9.3s2.5,4.9 3.8,7.4s2.4,5.3 3.7,7.4s2.4,4.5 3.7,5.6s2.4,1.2 3.7,.9s2.5-2.9 3.7-2.7s2.5,2.4 3.7,3.6s2.5,2.8 3.7,3.8s2.5,2.1 3.7,1.8s2.5-3.4 3.7-3.7s2.5,.9 3.7,1.9s2.5,2.7 3.7,3.7s2.3,1.7 3.7,1.8s3.1-.6 4.7-.9s3.2-1.2 4.6-.9s2.6,1.8 3.7,2.7s1.7,3 2.8,2.8s2.3-4 3.7-3.7s3.9,4.7 4.6,5.6" stroke="#000000" /><path d="M1195.6,1525.4c.6,0 2.5-.8 3.7,0s2.5,2.5 3.7,4.6s2.5,6 3.8,8.4s2.3,3.7 3.7,5.5s3.1,5 4.6,5.6s3.1-.9 4.6-1.9s3.1-1.8 4.7-3.7s3.2-5.4 4.6-7.4s2.5-3.4 3.7-4.6s2.5-2.5 3.7-2.8s2.3,0 3.7,.9s3.4,5.7 4.7,4.7s1.7-6.8 2.7-11.2s2.5-10.5 3.7-14.8s2.5-8.8 3.8-11.1s2.4-1.7 3.7-2.8s2.4-1.5 3.7-3.7s2.4-7 3.7-9.3s2.4-3.5 3.7-4.6s2.5-.9 3.7-1.9s2.5-2.9 3.7-3.7s2.5-1.2 3.7-.9s2.5,1.1 3.7,2.8s2.5,4.3 3.7,7.4s2.5,6.8 3.7,11.1s2.6,11.8 3.7,14.8s1.7,3.8 2.8,3.8s2.5-2.4 3.7-3.8s2.5-2.3 3.7-4.6s2.5-6.5 3.7-9.2s2.5-5.1 3.7-7.5s2.5-4.9 3.7-6.5s2.5-1.8 3.8-2.7s2.4-1.3 3.7-2.8s2.4-5.1 3.7-6.5s2.4-1.7 3.7-1.8s2.6,1 3.7,.9s1.8-2.2 2.8-1.9s1.8,1.9 2.7,3.7s1.7,5.3 2.8,7.4s2.5,4.4 3.7,5.6s2.5,2.8 3.7,1.9s2.7-5 3.7-7.5s1.9-5.5 2.8-7.4s1.7-3.7 2.8-3.7s2.5,2 3.7,3.7s2.5,6 3.7,6.5s2.5-2 3.7-3.7s2.5-6 3.7-6.5s2.5,1.6 3.7,3.7s2.5,6.7 3.7,9.3s2.5,4.3 3.8,6.5s2.4,4.6 3.7,6.5s2.4,4.3 3.7,4.6s2.4-1.7 3.7-2.8s2.5-3.8 3.7-3.7s2.5,3 3.7,4.7s2.5,4.3 3.7,5.5s2.5,1.6 3.7,1.9s2.5-.5 3.7,0s2.3,2 3.7,2.8s3.3,1 4.7,1.8s2.4,2.5 3.7,2.8s2.4-1.3 3.7-1s2.4,1.3 3.7,2.8s2.5,6.1 3.7,6.5s2.5-2.8 3.7-3.7s2.3-1.8 3.7-1.8s3.9,1.5 4.6,1.8" stroke="#dd08f4" /><path d="M1195.6,1526.3c.6,.3 2.5,.6 3.7,1.9s2.4,3.8 3.7,5.5s3.1,3 4.7,4.7s3.1,4.1 4.6,5.5s3.1,2.8 4.7,2.8s3-1.5 4.6-2.8s3.2-3.4 4.6-4.6s2.3-2.2 3.7-2.8s3.3-.6 4.7-.9s2.4-.9 3.7-.9s2.3,.3 3.7,.9s3.4,4.2 4.6,2.8s1.9-6.8 2.8-11.2s1.8-10.8 2.8-14.8s1.8-7.7 2.8-9.2s1.8-.7 2.7,0s1.7,4.3 2.8,3.6s2.5-4.6 3.7-7.4s2.5-6.4 3.7-9.2s2.5-5.4 3.7-7.4s2.5-4.4 3.7-4.7s2.5,1.4 3.7,2.8s2.5,3.4 3.8,5.6s2.4,4.6 3.7,7.4s2.4,5.5 3.7,9.3s2.4,8.9 3.7,12.9s2.6,9.3 3.7,11.1s1.7,1.3 2.8,0s2.4-5.4 3.7-7.4s2.4-3.2 3.7-4.6s2.5-2 3.7-3.7s2.5-3.9 3.7-6.5s2.5-6.5 3.7-9.3s2.5-5.8 3.7-7.4s2.5-1.2 3.7-1.8s2.5-1.3 3.7-1.9s2.5-1.2 3.7-1.8s2.5-2.2 3.7-1.9s2.5,2 3.7,3.7s2.5,4.8 3.7,6.5s2.5,3.2 3.8,3.7s2.4,.2 3.7-.9s2.4-3.6 3.7-5.6s2.4-5.9 3.7-6.5s2.5,1.7 3.7,2.8s2.5,3.7 3.7,3.7s2.3-1.8 3.7-3.7s3.2-6.8 4.6-7.4s2.5,1.8 3.7,3.7s2.5,4.9 3.7,7.4s2.5,5.7 3.8,7.4s2.4,2.2 3.7,2.8s2.4,.6 3.7,.9s2.4,1.6 3.7,1s2.5-3.4 3.7-4.7s2.5-2.1 3.7-2.7s2.5-.5 3.7-1s2.5-1.2 3.7-1.8s2.5-1.9 3.7-1.9s2.5,1.1 3.7,1.9s2.5,2.1 3.7,2.8s2.5,.4 3.7,.9s2.5,1.8 3.7,1.8s2.5-1.7 3.8-1.8s2.4,.3 3.7,.9s2.3,1.7 3.7,2.8s3.1,2.3 4.6,3.7s3.9,3.9 4.6,4.6" stroke="#e8a02a" /><path d="M99.5,1731.7c.8,.4 3.1,1.9 4.9,2.6s3.7,1 5.6,1.9s3.7,2.8 5.6,3.8s3.8,2.1 5.6,1.8s3.8-3.3 5.7-3.7s3.9,.7 5.6,1.1s2.9,2 4.5,1.5s3.1-3.1 4.8-4.5s4.1-1.9 5.7-3.7s2.5-3.8 3.7-7.5s2.5-11 3.8-15s2.2-8.8 3.7-9.4s3.8,4.4 5.6,5.6s3.8,3.8 5.7,1.9s3.7-9.1 5.6-13.1s3.7-10 5.6-11.3s3.8,2.2 5.6,3.8s3.8,4 5.7,5.6s3.7,5.9 5.6,3.7s4-11.8 5.6-16.8s2.2-9.7 3.7-13.2s3.8-5.9 5.7-7.4s3.7-1.6 5.6-1.9s3.7,0 5.6,0s3.8,.5 5.6,0s3.8-3.6 5.7-3s3.7,5.3 5.6,6.7s3.7,1 5.6,1.9s3.8,4.1 5.6,3.7s3.8-3.4 5.7-5.6s3.7-6.8 5.6-7.5s3.7,3.2 5.6,3.8s4.1,1.2 5.6,0s2.2-8.4 3.8-7.5s3.7,8.4 5.6,13.1s3.7,11.3 5.6,15s3.8,5.9 5.6,7.5s3.8,1.2 5.7,1.9s3.7,.9 5.6,1.8s3.7,2.5 5.6,3.8s3.7,2.5 5.6,3.7s3.8,2.5 5.6,3.8s3.8,2.2 5.7,3.7s3.7,4.1 5.6,5.7s3.7,3.4 5.6,3.7s3.8-1.2 5.6-1.9s4-1.8 5.7-1.8s3.7,1.5 4.5,1.8" stroke="#000000" /><path d="M99.5,1728.7c.8-.3 3.1-2.5 4.9-1.9s3.7,3.2 5.6,5.7s3.7,7.4 5.6,9.3s3.8,2.2 5.6,1.9s3.8-2.8 5.7-3.7s3.9-1.6 5.6-1.9s2.9,.6 4.5,0s3.1-2.8 4.8-3.8s4.1,0 5.7-1.8s2.5-5 3.7-9.4s2.5-12.8 3.8-16.9s2.2-6.9 3.7-7.5s3.8,3.8 5.6,3.8s3.8-2.2 5.7-3.8s4-3.7 5.6-5.6s2.2-5 3.7-5.6s3.8,.6 5.7,1.8s3.7,3.8 5.6,5.7s3.7,5.3 5.6,5.6s3.8-1.3 5.6-3.8s3.8-7.5 5.6-11.2s3.8-7.8 5.7-11.3s3.7-7.1 5.6-9.3s3.7-3 5.6-3.8s3.8-.7 5.6-.7s3.8,.9 5.7,.7s3.7-2.8 5.6-1.8s3.7,5 5.6,7.4s4.1,5.7 5.6,7.5s2.2,5 3.8,3.8s3.7-7.8 5.6-11.3s3.9-9.3 5.6-9.3s2.6,10.3 4.5,9.3s4.7-14 6.8-14.9s3.7,6.2 5.6,9.3s3.7,6.9 5.6,9.4s3.8,5 5.6,5.6s3.8-2.2 5.7-1.9s3.7,2.2 5.6,3.8s3.7,3.7 5.6,5.6s3.7,4.4 5.6,5.6s3.8,.7 5.6,1.9s3.8,4.4 5.7,5.6s3.7,.7 5.6,1.9s3.7,5 5.6,5.6s3.8-1.2 5.6-1.8s4-2.2 5.7-1.9s3.7,3.1 4.5,3.7" stroke="#dd08f4" /><path d="M99.5,1715.6c.8,.6 3.1,2.5 4.9,3.7s4,1.6 5.6,3.8s2.5,6.2 3.7,9.4s2.2,7.1 3.8,9.3s4,4.1 5.6,3.8s2.2-3.5 3.8-5.6s3.9-6.6 5.6-7.5s2.9,1.8 4.5,1.8s3.1-1.2 4.8-1.8s4.1,.3 5.7-1.9s2.5-7.2 3.7-11.3s2.5-10.3 3.8-13.1s2.2-4.1 3.7-3.7s3.8,5.3 5.6,5.6s3.8-1.3 5.7-3.8s4-8.1 5.6-11.2s2.2-6.9 3.7-7.5s3.8,1.6 5.7,3.7s3.7,6 5.6,9.4s4,8.4 5.6,11.3s2.2,7.1 3.7,5.6s3.8-11 5.7-15s3.7-6.3 5.6-9.4s3.7-4.4 5.6-9.4s3.8-15.6 5.6-20.6s3.8-7.2 5.7-9.3s3.7-2.9 5.6-3.8s3.7-.6 5.6-1.9s3.8-5.6 5.6-5.6s3.8,4.1 5.7,5.6s3.7,4.1 5.6,3.8s3.7-4.1 5.6-5.6s4.1-3.8 5.6-3.8s2.5,4.1 3.8,3.8s2.5-3.8 3.7-5.7s2.2-6.2 3.8-5.6s3.7,5.3 5.6,9.4s3.7,12.5 5.6,15s3.8-.3 5.6,0s3.8,1.5 5.7,1.9s3.7-.7 5.6,0s3.7,2.5 5.6,3.7s3.7,2.2 5.6,3.7s3.8,4.1 5.6,5.7s3.8,2.8 5.7,3.7s3.7,1.8 5.6,1.9s3.7-1.4 5.6-1.1s3.8,1.5 5.6,3s4,3.7 5.7,5.6s3.7,4.7 4.5,5.6" stroke="#e8a02a" /><path d="M373.7,1722.5c.6,.7 2.5,3.1 3.7,4.6s2.4,3 3.8,4.7s3.3,3.8 4.7,5.6s2.5,4.3 3.7,5.7s2.5,2.6 3.8,2.8s2.5-.2 3.7-1.9s2.4-6.4 3.8-8.4s3.2-3.6 4.7-3.8s2.4,2.2 3.7,2.8s2.5,1.3 3.7,1s2.5-2.2 3.8-2.8s2.5,1.1 3.7-1s2.5-6.2 3.8-11.2s2.5-12.8 3.7-18.8s2.5-12.6 3.8-16.8s2.3-6.6 3.7-8.5s3.3-1.1 4.7-2.8s2.5-4.4 3.8-7.5s2.5-6.5 3.7-11.2s2.7-13.3 3.8-16.9s1.7-4.7 2.8-4.7s2.5,3.6 3.7,4.7s2.7,1.9 3.8,1.9s1.7-3 2.8-1.9s2.6,5.9 3.7,8.4s1.9,5 2.8,6.6s1.9,3.1 2.8,2.8s1.8-1.7 2.9-4.7s2.5-9.3 3.7-13.1s2.4-6.4 3.8-9.4s3.1-6.2 4.6-8.4s3.2-3.5 4.7-4.7s3.3-2.7 4.7-2.4s2.7,4 3.8,4.3s1.7-1.6 2.8-2.8s2.5-3.5 3.7-4.3s2.5-.6 3.8-.4s2.5,1.1 3.7,1.9s2.5,1.4 3.8,2.8s2.3,4.1 3.7,5.6s3.3,3.7 4.7,3.2s2.5-2.8 3.7-6s2.6-9.9 3.8-13.1s2.3-5.6 3.4-6.2s2.2,1.5 3.2,2.4s1.7,2.9 2.8,3.2s2.5-1.2 3.7-1.3s2.5-.3 3.8,.9s2.5,3.3 3.7,6.6s2.5,9.4 3.8,13.1s2.5,6.9 3.7,9.4s2.5,4 3.8,5.6s2.5,2.7 3.7,3.8s2.5,2.1 3.8,2.8s2.5-.2 3.7,.9s2.5,3.8 3.7,5.6s2.5,4.9 3.8,5.6s2.5-.9 3.7-.9s2.5,.3 3.8,.9s2.5,1.6 3.7,2.9s2.5,2.9 3.8,4.6s2.5,3.6 3.7,5.7s2.5,5.3 3.8,6.5s2.5,1.1 3.7,1s2.5-1.3 3.8-1.9s2.5-1.6 3.7-1.9s2.4-.6 3.8,0s3.9,3.1 4.7,3.8" stroke="#000000" /><path d="M373.7,1722.5c.5-1 1.9-5.4 2.8-5.7s1.7,1.9 2.8,3.8s2.5,4.3 3.8,7.5s2.5,7.5 3.7,11.2s2.5,9.7 3.8,11.3s2.5-.3 3.7-1.9s2.5-5 3.8-7.5s2.5-5.6 3.7-7.5s2.5-2.8 3.8-3.7s2.4-1.5 3.7-1.9s2.5-.3 3.7-1s2.5-2.6 3.8-2.8s2.5,3.5 3.7,1.9s2.5-5.9 3.8-11.2s2.5-14.7 3.7-20.7s2.5-11.5 3.8-15s2.5-4.5 3.7-5.6s2.5,.3 3.8-.9s2.5-3.9 3.7-6.6s2.5-6.7 3.8-9.4s2.5-5.1 3.7-6.5s2.5-2.3 3.8-1.9s2.5,3 3.7,4.7s2.5,3.9 3.8,5.6s2.5,2.8 3.7,4.7s2.7,4.4 3.8,6.6s1.8,4.2 2.8,6.5s1.7,7.7 2.8,7.5s2.5-5.7 3.7-8.4s2.5-5 3.8-7.5s2.5-4.1 3.7-7.5s2.5-8.4 3.8-13.1s2.5-11.3 3.7-15s2.5-5.8 3.8-7.5s2.5-1.9 3.7-2.8s2.5-1.9 3.8-2.8s2.5-1.7 3.7-2.8s2.7-2.8 3.8-3.8s1.7-3.2 2.8-2.4s2.5,3.7 3.7,7.1s2.5,9.8 3.8,13.1s2.6,5.3 3.7,6.6s1.9,1.8 2.8,1.3s1.9-1.9 2.8-4.1s1.8-5.4 2.9-9.4s2.6-12.8 3.7-14.6s1.7,1.6 2.8,3.4s2.5,6.9 3.8,6.9s2.5-4.7 3.7-6.9s2.7-7.2 3.8-6.6s1.7,7 2.8,10.3s2.5,6.2 3.7,9.4s2.5,6.8 3.8,9.3s2.5,3.9 3.7,5.7s2.5,4 3.8,4.6s2.5-.1 3.7-.9s2.5-4.4 3.8-3.7s2.5,4.6 3.7,7.5s2.5,6.8 3.8,9.3s2.5,5.2 3.7,5.6s2.5-2.4 3.8-2.8s2.5,.2 3.7,1s2.5,2.2 3.8,3.7s2.5,4.4 3.7,5.6s2.5,1.3 3.8,1.9s2.5,.5 3.7,1.9s2.5,5.8 3.8,6.6s2.5-1 3.7-1.9s2.2-3.8 3.8-3.8s4.6,3.2 5.6,3.8" stroke="#dd08f4" /><path d="M373.7,1706.5c.6,.8 2.5,2.5 3.7,4.7s2.5,5.6 3.8,8.4s2.6,5.5 3.7,8.5s1.7,6.5 2.8,9.3s2.5,6.1 3.8,7.5s2.5,.4 3.7,1s2.7,3.6 3.8,2.8s1.7-4.9 2.8-7.5s2.5-6.7 3.8-8.4s2.4-2.2 3.7-1.9s2.5,3.4 3.7,3.7s2.5-1.4 3.8-1.8s2.5,.7 3.7-1s2.7-5.3 3.8-9.3s1.7-9.4 2.8-15s2.7-14.4 3.8-18.8s1.7-6.2 2.8-7.5s2.5,.6 3.7,0s2.5-1.9 3.7-3.7s2.5-4.4 3.8-7.5s2.5-7.7 3.7-11.3s2.5-9.3 3.8-10.3s2.7,2.7 3.7,4.7s1.8,5.6 2.9,7.5s2.5,2.2 3.7,3.7s2.5,2.5 3.8,5.7s2.6,8.7 3.7,13.1s2,10 2.8,13.1s1,6.3 1.9,5.6s2.5-6.7 3.7-9.3s2.5-4.9 3.8-6.6s2.5-1.4 3.7-3.7s2.5-6.1 3.8-10.4s2.5-10 3.7-15s2.5-11 3.8-14.9s2.5-6.4 3.7-8.5s2.5-2.8 3.8-3.7s2.5-1 3.7-1.9s2.5-2.5 3.8-3.7s2.6-2.6 3.7-3.8s1.7-3.8 2.8-3.4s2.5,4.3 3.8,6.2s2.6,4.5 3.7,5.6s1.7,2 2.8,1.3s2.7-1.7 3.8-5s1.9-10.8 2.8-15s1.9-9 2.8-9.9s1.7,2.9 2.8,4.3s2.5,4.4 3.8,4.1s2.6-3.8 3.7-6s1.9-6.2 2.8-7.1s1.9,.1 2.8,1.5s1.9,3.7 2.9,6.5s1.7,6.8 2.8,10.4s2.5,9 3.7,11.2s2.5,.6 3.8,1.9s2.5,3.7 3.7,5.6s2.5,4.5 3.8,5.6s2.5,.9 3.7,.9s2.5-1.5 3.7-.9s2.5,3.3 3.8,4.7s2.5,3.1 3.7,3.7s2.5-.4 3.8,0s2.5,1.9 3.7,2.9s2.5,1.8 3.8,2.8s2.5,1.5 3.7,2.8s2.5,4 3.8,4.7s2.5-.3 3.7-1s2.5-3.1 3.8-2.8s2.5,2.7 3.7,4.7s2.4,5 3.8,7.5s3.9,6.2 4.7,7.5" stroke="#e8a02a" /><path d="M647.5,1726.8c.8,.9 3.1,3.5 4.9,5.6s3.7,5.3 5.6,7.5s4.1,3.8 5.6,5.6s2.2,5.7 3.8,5.7s3.7-3.2 5.6-5.7s3.6-7.4 5.6-9.3s4.5-1 6.4-1.9s3.1-2.8 4.9-3.7s3.7,2.2 5.6-1.9s3.7-14.4 5.6-22.5s3.7-20.3 5.6-26.2s3.8-5 5.6-9.4s3.8-10.9 5.7-16.9s3.8-14 5.6-18.7s3.3-8.8 4.9-9.4s2.8,4.1 4.5,5.6s3.7,1.3 5.6,3.8s3.7,7.2 5.6,11.2s3.8,12.5 5.6,13.1s3.8-5 5.7-9.3s3.7-12.2 5.6-16.9s3.7-8.4 5.6-11.2s3.7-4.1 5.6-5.7s3.8-2.1 5.6-3.7s3.8-4.4 5.7-5.6s3.7-2.5 5.6-1.9s3.7,4.1 5.6,5.6s3.8,4.7 5.6,3.8s3.8-5.7 5.6-9.4s4-9.7 5.7-13.1s2.9-7.2 4.5-7.5s3.1,5.3 4.8,5.6s3.8-4.7 5.7-3.8s3.7,5 5.6,9.4s3.7,11.9 5.6,16.9s3.8,10 5.6,13.1s3.8,5 5.7,5.6s3.7-2.8 5.6-1.8s3.7,4.6 5.6,7.4s3.7,7.5 5.6,9.4s3.8,.6 5.6,1.9s3.8,3.4 5.7,5.6s3.7,5 5.6,7.5s3.7,6.3 5.6,7.5s3.8,.3 5.6,0s4-2.5 5.7-1.9s3.7,4.7 4.5,5.7" stroke="#000000" /><path d="M647.5,1721.2c.8-.3 3.1-4.1 4.9-1.9s3.7,10.3 5.6,15s4.1,10 5.6,13.1s2.2,6.3 3.8,5.6s3.7-6.2 5.6-9.3s3.6-6.9 5.6-9.4s4.5-4.4 6.4-5.6s3.1-2.2 4.9-1.9s3.7,5.9 5.6,3.8s3.7-9.1 5.6-16.9s3.7-22.8 5.6-30s3.8-8.4 5.6-13.1s3.8-11.3 5.7-15s3.8-5.6 5.6-7.5s3-4.7 4.9-3.8s4.3,6.9 6.3,9.4s3.8,1.9 5.7,5.6s4,11.9 5.6,16.9s2.2,12.5 3.7,13.1s3.8-4.3 5.7-9.3s3.7-14.1 5.6-20.7s3.7-13.4 5.6-18.7s3.7-9.4 5.6-13.1s3.8-7.2 5.6-9.4s3.7-1.9 5.7-3.7s4.5-8.2 6.3-7.5s3.2,7.5 4.9,11.2s3.9,8.8 5.6,11.3s3,5.9 4.5,3.7s3.3-10.9 4.9-16.9s3.3-16.8 4.9-18.7s3.1,5.3 4.5,7.5s2.5,6.2 3.7,5.6s2.2-10.3 3.8-9.4s3.7,10 5.6,15s3.7,11.6 5.6,15s3.8,4.4 5.6,5.6s3.8,1 5.7,1.9s3.7,.3 5.6,3.8s3.7,14.7 5.6,16.8s3.7-3.4 5.6-3.7s3.8,.9 5.6,1.9s3.8,2.5 5.7,3.7s3.7,2.5 5.6,3.8s3.7,2.1 5.6,3.7s3.8,5 5.6,5.6s4-2.3 5.7-1.8s3.7,3.7 4.5,4.5" stroke="#dd08f4" /><path d="M647.5,1713.7c.8,.3 3.1-.3 4.9,1.9s3.7,6.8 5.6,11.2s4.1,10.9 5.6,15s2.2,9.1 3.8,9.4s3.7-4.7 5.6-7.5s3.6-7.5 5.6-9.4s4.5-1.2 6.4-1.9s3.1-.9 4.9-1.8s3.7,.9 5.6-3.8s3.7-15.9 5.6-24.3s3.7-21 5.6-26.3s3.8-2.5 5.6-5.6s3.8-9.4 5.7-13.1s4-7.2 5.6-9.4s2.2-5.3 3.7-3.8s3.8,9.4 5.7,13.2s3.7,4.3 5.6,9.3s3.7,13.5 5.6,20.7s3.8,21.2 5.6,22.5s3.8-11.3 5.7-15s3.7-3.2 5.6-7.5s3.7-11.9 5.6-18.8s3.7-16.9 5.6-22.5s3.8-8.1 5.6-11.2s3.8-5.3 5.7-7.5s3.7-4.1 5.6-5.6s3.7-4.7 5.6-3.8s3.8,7.8 5.6,9.4s3.8,3.4 5.6,0s4.1-15.3 5.7-20.6s2.2-10 3.7-11.3s3.9,4.1 5.6,3.8s3.4-6 4.9-5.6s2.8,3.1 4.5,7.4s3.8,14.7 5.6,18.8s3.8,3.7 5.7,5.6s3.7,4.1 5.6,5.6s3.7,2.5 5.6,3.8s3.8,3.1 5.6,3.7s3.8-.6 5.6,0s3.8,2.2 5.7,3.8s3.7,4.4 5.6,5.6s3.7,1.2 5.6,1.9s3.8,.9 5.6,1.8s3.8,1.6 5.7,3.8s3.6,6.6 5.6,9.4s5.3,6.2 6.4,7.5" stroke="#e8a02a" /><path d="M922.2,1726.8c1,1.3 3.8,5.3 5.7,7.5s3.7,3.8 5.6,5.6s3.7,4.1 5.6,5.6s3.8,4.7 5.6,3.8s3.8-6.6 5.7-9.4s3.7-5.9 5.6-7.5s3.7-.6 5.6-1.8s3.8-2.8 5.6-5.7s3.8-6.8 5.7-11.2s3.7-9.7 5.6-15s3.7-12.5 5.6-16.9s3.7-4.7 5.6-9.3s3.8-13.5 5.6-18.8s3.8-11.9 5.7-13.1s3.7,3.7 5.6,5.6s3.7,2.8 5.6,5.6s3.8,7.2 5.6,11.3s3.8,12.5 5.7,13.1s3.7-6.2 5.6-9.4s3.7-5 5.6-9.3s3.7-12.2 5.6-16.9s3.8-8.7 5.6-11.2s3.8-2.5 5.7-3.8s3.7-2.8 5.6-3.7s3.7-2.2 5.6-1.9s3.8,2.8 5.6,3.7s3.8,3.2 5.6,1.9s3.8-4.7 5.7-9.4s3.7-17.1 5.6-18.7s3.7,8.7 5.6,9.4s3.8-3.8 5.6-5.7s3.8-6.8 5.7-5.6s3.7,8.5 5.6,13.1s3.7,11.3 5.6,15s3.8,5.7 5.6,7.5s3.8,2.2 5.7,3.8s3.7,4 5.6,5.6s3.7,2.5 5.6,3.7s3.7,2.5 5.6,3.8s3.8,2.5 5.7,3.7s3.7,2.6 5.6,3.8s3.7,2.2 5.6,3.7s3.7,4.1 5.6,5.7s3.3,2.1 5.6,3.7s7.2,4.7 8.7,5.6" stroke="#000000" /><path d="M922.2,1721.2c1,.6 3.8,.9 5.7,3.7s3.7,9.1 5.6,13.2s3.7,8.7 5.6,11.2s3.8,4.7 5.6,3.7s3.8-6.2 5.7-9.3s3.7-7.2 5.6-9.4s3.7-2.5 5.6-3.7s3.8-1.6 5.6-3.8s3.8-4.7 5.7-9.4s3.7-13.4 5.6-18.7s3.7-10 5.6-13.1s3.7-2.8 5.6-5.6s3.8-7.2 5.6-11.3s3.8-11.5 5.7-13.1s3.7,1.9 5.6,3.7s3.7,4.1 5.6,7.5s3.8,7.9 5.6,13.2s3.8,16.5 5.7,18.7s3.7-2.5 5.6-5.6s3.7-7.8 5.6-13.1s3.7-12.5 5.6-18.8s3.8-13.7 5.6-18.7s3.8-8.5 5.7-11.3s3.7-3.7 5.6-5.6s3.7-5.3 5.6-5.6s3.8,1.5 5.6,3.7s3.9,6.3 5.6,9.4s3.4,10.3 4.9,9.4s2.8-10.3 4.5-15s3.8-12.2 5.6-13.1s3.8,8.4 5.7,7.5s3.7-12.2 5.6-13.2s3.7,3.8 5.6,7.5s3.8,11.3 5.6,15s3.8,5.3 5.7,7.5s3.7,5.6 5.6,5.6s3.7-5.9 5.6-5.6s3.8,4.7 5.6,7.5s3.8,8.1 5.7,9.4s3.7-2.5 5.6-1.9s3.7,4.1 5.6,5.6s3.7,1.9 5.6,3.8s3.8,5.6 5.6,7.5s3.8,3.4 5.7,3.7s3.8-2.8 5.6-1.8s4,6.2 4.9,7.5" stroke="#dd08f4" /><path d="M922.2,1713.7c1,.6 3.8,1.2 5.7,3.7s3.7,7.2 5.6,11.3s3.7,9.4 5.6,13.1s3.8,8.8 5.6,9.4s3.8-3.2 5.7-5.7s3.7-7.1 5.6-9.3s3.7-2.8 5.6-3.8s3.8-.3 5.6-1.8s3.8-2.9 5.7-7.5s3.7-15 5.6-20.6s3.7-10 5.6-13.2s3.7-1.8 5.6-5.6s3.8-12.5 5.6-16.9s3.8-8.7 5.7-9.3s3.7,2.8 5.6,5.6s3.7,6.6 5.6,11.2s3.8,9.4 5.6,16.9s3.8,25 5.7,28.1s3.7-6.5 5.6-9.3s3.7-3.2 5.6-7.5s3.7-11.9 5.6-18.8s3.8-16.5 5.6-22.5s3.8-9.7 5.7-13.1s3.7-5.3 5.6-7.5s3.7-3.4 5.6-5.6s3.8-7.5 5.6-7.5s3.9,5.3 5.6,7.5s3.4,7.5 4.9,5.6s2.8-12.2 4.5-16.9s3.8-10 5.6-11.2s3.8,4.7 5.7,3.7s3.7-9 5.6-9.3s3.7,4.6 5.6,7.5s3.8,7.1 5.6,9.3s3.8,2.2 5.7,3.8s3.7,5 5.6,5.6s3.7-1.2 5.6-1.9s3.8-2.2 5.6-1.8s3.8,2.1 5.7,3.7s3.7,3.8 5.6,5.6s3.7,4.4 5.6,5.6s3.7,1.6 5.6,1.9s3.8-1.5 5.6,0s3.8,6.6 5.7,9.4s3.8,5.3 5.6,7.5s4,4.7 4.9,5.6" stroke="#e8a02a" /><path d="M1195.6,1736.2c.6,.2 2.3,.3 3.7,.9s3,2 4.7,2.8s3.7,1.3 5.5,1.9s3.9,1.5 5.6,1.8s3.2,1.1 4.6,0s2.4-4.8 3.7-6.5s3.3-3.4 4.7-3.7s2.4,1.7 3.7,1.9s2.5-.5 3.7-.9s2.5-1.4 3.7-1.9s2.5,.9 3.7-.9s2.5-6.3 3.7-10.2s2.3-9.1 3.7-13s3.3-9.3 4.7-10.2s2.4,3.3 3.7,4.6s2.4,3.1 3.7,3.8s2.4,1.2 3.7,0s2.4-3.1 3.7-7.4s2.5-13.8 3.7-18.6s2.5-9.1 3.7-10.2s2.5,2 3.7,3.7s2.5,4.5 3.7,6.5s2.5,2.8 3.7,5.6s2.3,7.7 3.7,11.1s3.3,8.6 4.7,9.3s2.4-3.6 3.7-5.6s2.3-5.3 3.7-6.5s3.2,1.1 4.6-.9s2.5-7.7 3.7-11.1s2.3-6.7 3.7-9.3s3.3-5.6 4.7-6.5s2.3,1.7 3.7,.9s3.1-4.1 4.6-5.5s3.1-2 4.6-2.8s3.3-.9 4.7-1.9s2.4-3.2 3.7-3.7s2.4,.3 3.7,1s2.4,2.4 3.7,2.7s2.5,.5 3.7-.9s2.5-5.2 3.7-7.4s2.5-5.1 3.7-5.6s2.5,1.7 3.7,2.8s2.5,3.7 3.7,3.7s2.2-2 3.7-3.7s4-6 5.6-6.5s2.5,1.6 3.7,3.7s2.5,6.2 3.7,9.3s2.5,7.3 3.7,9.3s2.5,2.3 3.7,2.7s2.5-.4 3.7,0s2.5,1.7 3.7,2.8s2.5,2.2 3.7,3.7s2.5,3.9 3.8,5.6s2.4,3.7 3.7,4.6s2.4,1.4 3.7,1s2.4-4 3.7-3.7s2.4,3.7 3.7,5.5s2.4,4.3 3.7,5.6s2.5,1.5 3.7,1.8s2.5-.4 3.7,0s2.5,1.7 3.7,2.8s2.5,3.3 3.7,3.7s2.6-.4 3.7-.9s1.6-2.2 2.8-1.9s3.9,3.1 4.6,3.8" stroke="#000000" /><path d="M1195.6,1724.2c.6-.5 2.5-3 3.7-2.8s2.4,1.5 3.7,3.7s3.1,5.9 4.7,9.3s3.2,8.3 4.6,11.1s2.3,5.2 3.7,5.5s3.3-1.8 4.7-3.7s2.3-4.6 3.7-7.4s3.1-7.2 4.6-9.2s3.1-2.5 4.6-2.8s3.1,.3 4.7,.9s3.2,4 4.6,2.8s2.5-6 3.7-10.2s2.5-10.7 3.7-14.8s2.5-8.8 3.7-10.2s2.5,.9 3.7,1.8s2.5,3.6 3.7,3.7s2.5-1.4 3.8-2.7s2.3-2.5 3.6-5.6s3.3-9.7 4.7-13s2.5-5.7 3.7-6.5s2.5,.6 3.7,1.9s2.5,3.2 3.7,5.5s2.5,4.8 3.7,8.4s2.5,8 3.7,12.9s2.5,14.4 3.7,16.7s2.5-1.8 3.7-2.7s2.5-2.7 3.7-2.8s2.5,3.1 3.7,1.8s2.5-5.5 3.8-9.2s2.3-8.7 3.7-13s3.1-8.8 4.6-13s3.1-9 4.6-12s3.1-4.8 4.7-6.5s3.1-2.5 4.6-3.7s3.2-2.7 4.6-3.7s2.5-3.1 3.7-2.8s2.5,2.8 3.7,4.6s2.5,4.5 3.8,6.5s2.4,6 3.7,5.6s2.4-5.1 3.7-8.4s2.4-9.6 3.7-11.1s2.5,.3 3.7,1.9s2.6,5.7 3.7,7.4s1.7,3.2 2.8,2.8s2.4-3.5 3.7-5.6s2.5-7.1 3.7-7.4s2.5,3.5 3.7,5.5s2.5,4.5 3.7,6.5s2.5,3.6 3.7,5.6s2.5,5.4 3.7,6.5s2.5,.6 3.7,0s2.5-2.8 3.7-3.7s2.5-2.7 3.7-1.9s2.5,4.3 3.8,6.5s2.4,5.7 3.7,6.5s2.4-1.4 3.7-1.9s2.4-1.5 3.7-.9s2.4,3.3 3.7,4.6s2.4,3 3.7,3.7s2.5,1.1 3.7,1s2.5-2.8 3.7-1.9s2.5,5.4 3.7,7.4s2.5,5.4 3.7,4.7s2.5-8.4 3.7-9.3s2.5,2.5 3.7,3.7s3.1,3.1 3.7,3.7" stroke="#dd08f4" /><path d="M1195.6,1721.4c.6,.8 2.5,3.1 3.7,4.6s2.4,3.3 3.7,4.7s3.3,2.1 4.7,3.7s2.5,3.7 3.7,5.5s2.3,4.5 3.7,5.6s3.2,1.7 4.6,.9s2.5-3.5 3.7-5.6s2.5-5 3.8-6.4s2.4-2.2 3.6-1.9s2.5,3.3 3.8,3.7s2.3-.3 3.7-.9s3.2-1.1 4.6-2.8s2.5-4.3 3.7-7.4s2.5-7.7 3.7-11.1s2.6-7.4 3.7-9.3s1.7-2.6 2.8-1.9s2.5,5.3 3.7,6.5s2.3,2.1 3.7,1s3.3-4.1 4.6-7.5s2.5-8.9 3.8-12.9s2.6-10.2 4-11.1s3,3.4 4.3,5.5s2.5,4.3 3.7,7.4s2.5,6.5 3.7,11.1s2.6,12.4 3.7,16.7s1.9,7.1 2.8,9.3s1.9,4 2.8,3.7s1.8-3.7 2.8-5.5s1.7-4.5 2.7-5.6s2.5-.3 3.7-.9s2.5-.2 3.8-2.8s2.3-7.4 3.7-13s3.1-14.7 4.6-20.4s3.1-10.5 4.6-13.9s3.1-4.6 4.7-6.5s3.1-2.4 4.6-4.6s3.2-6.5 4.6-8.3s2.5-2.4 3.7-2.8s2.5-.8 3.7,0s2.4,2.6 3.8,4.6s3.2,7.6 4.6,7.4s2.5-6.2 3.7-8.3s2.5-5.1 3.7-4.7s2.6,5.5 3.7,7.5s1.7,4.9 2.8,4.6s2.3-4.5 3.7-6.5s3.2-5.3 4.6-5.6s2.5,2 3.7,3.8s2.5,4.3 3.7,6.4s2.5,5.4 3.8,6.5s2.4-.1 3.7,0s2.4,0 3.7,.9s2.4,4.4 3.7,4.7s2.1-.9 3.7-2.8s4-7.4 5.6-8.3s2.4,2.1 3.7,2.8s2.4-.1 3.7,.9s2.4,3.4 3.7,4.6s2.4,2.3 3.7,2.8s2.4-.6 3.7,0s2.5,2.9 3.7,3.7s2.5,.9 3.7,.9s2.5-.6 3.7-.9s2.5-2.2 3.7-.9s2.5,6.3 3.7,8.3s2.5,2.3 3.7,3.7s3.1,3.9 3.7,4.7" stroke="#e8a02a" /><path d="M99.6,1916c.6,.1 2.5,.3 3.8,.9s2.6,1.8 3.8,2.9s2.8,1.6 3.9,3.8s1.9,6.1 2.8,9.6s1.8,9 2.9,11.5s2.6,4.5 3.8,3.8s2.6-5.7 3.9-7.6s2.5-3.5 3.8-3.9s2.6,.7 3.8,2s2.6,5.2 3.9,5.7s2.5-2.2 3.8-2.9s2.6,.8 3.8-.9s2.6-3.5 3.9-9.6s2.7-18.8 3.8-26.8s1.9-18.8 2.9-21.1s1.7,3.2 2.8,7.7s2.6,13.4 3.9,19.1s2.5,11.2 3.8,15.3s2.5,8.7 3.8,9.6s2.6,2.3 3.8-3.8s2.6-22.7 3.9-32.6s2.5-20.4 3.8-26.8s2.4-8.9 3.8-11.5s3.4-3.8 4.8-3.8s2.6,2.1 3.9,3.8s2.5,5.8 3.8,6.7s2.5,0 3.8-.9s2.7-3.8 3.8-4.8s1.8-1.9 2.9-1s2.6,6.1 3.9,6.7s2.5-1.4 3.8-2.8s2.5-4.2 3.8-5.8s2.6-2.5 3.9-3.8s2.5-2.7 3.8-3.8s2.5-2 3.8-2.9s2.6-2.4 3.8-2.9s2.6,.3 3.9,0s2.7,0 3.8-1.9s2-6.4 2.9-9.6s1.5-9.9 2.5-9.6s2,7.4 3.2,11.5s2.7,10.3 3.9,13.5s1.9,6 2.8,5.7s1.8-4.8 2.9-7.7s2.5-7.3 3.8-9.5s2.6-3.1 3.8-3.9s2.6-.4 3.9-.9s2.5-1.3 3.8-1.9s2.6-2.3 3.8-2s2.6,1.5 3.9,3.9s2.5,7.5 3.8,10.5s2.6,6.7 3.8,7.7s2.6-1.8 3.9-1.9s2.5,.3 3.8,.9s2.6,1.6 3.8,2.9s2.6,3.2 3.9,4.8s2.5,3 3.8,4.7s2.5,4.5 3.8,5.8s2.6,1.9 3.8,1.9s2.6-2.5 3.9-1.9s2.5,3.2 3.8,5.7s2.6,6.4 3.8,9.6s2.6,7.4 3.9,9.6s2.5,2.7 3.8,3.8s2.6,2.9 3.8,2.9s2.4-1.8 3.9-2.9s3.3-3.5 4.8-3.8s2.7,1 3.8,1.9s2.4,3.2 2.8,3.8" stroke="#000000" /><path d="M99.6,1906.4c.6,0 2.5-1.3 3.8,0s2.6,4.8 3.8,7.7s2.8,6 3.9,9.5s1.9,7.7 2.8,11.5s1.8,9.1 2.9,11.5s2.6,3.5 3.8,2.9s2.6-4.3 3.9-6.7s2.5-7 3.8-7.7s2.6,2.4 3.8,3.9s2.6,4 3.9,4.8s2.5,.1 3.8,0s2.6,1.4 3.8-1s2.6-6.1 3.9-13.4s2.7-22.4 3.8-30.7s1.9-17.2 2.9-19.1s1.7,3.5 2.8,7.6s2.6,11.9 3.9,17.3s2.5,10.8 3.8,15.3s2.5,10.2 3.8,11.5s2.6,1.6 3.8-3.8s2.6-20.8 3.9-28.8s2.5-15 3.8-19.1s2.6-5.1 3.8-5.8s2.6,1 3.9,2s2.5,1.9 3.8,3.8s2.6,5.1 3.8,7.6s2.6,7.2 3.9,7.7s2.5-3.8 3.8-4.8s2.6-.9 3.8-.9s2.6,1.9 3.9,.9s2.5-4 3.8-6.7s2.5-6.4 3.8-9.6s2.6-6.7 3.9-9.5s2.5-5.5 3.8-7.7s2.5-4.1 3.8-5.7s2.6-3.1 3.8-3.9s2.4,0 3.9-.9s3.5-2.1 4.8-4.8s2-8.2 2.8-11.5s1.2-9.3 2-8.6s1.9,7.5 2.8,12.4s1.9,12.2 2.9,17.3s1.9,11.1 2.9,13.4s1.7,1.6 2.8,0s2.6-6.7 3.9-9.6s2.4-6.1 3.8-7.7s3.3-.9 4.8-1.9s2.5-1.7 3.8-3.8s2.6-8.6 3.8-8.6s2.6,5.4 3.9,8.6s2.5,8.1 3.8,10.5s2.6,3.7 3.8,3.9s2.6-2.1 3.9-2.9s2.5-2.4 3.8-1.9s2.6,3.8 3.8,4.8s2.6-.5 3.9,.9s2.5,4.8 3.8,7.7s2.5,6.8 3.8,9.5s2.6,5.8 3.8,6.7s2.6-1.7 3.9-.9s2.5,4 3.8,5.7s2.6,3.9 3.8,4.8s2.6,.5 3.9,1s2.5,.6 3.8,1.9s2.6,4.3 3.8,5.7s2.6,3.2 3.9,2.9s2.5-3.7 3.8-4.8s2.5-2.4 3.8-1.9s3.2,4 3.8,4.8" stroke="#dd08f4" /><path d="M99.6,1897.8c.5,.8 1.9,3 2.9,4.8s1.7,4.4 2.8,5.7s2.7,1.3 3.9,1.9s1.9-.6 2.8,2s1.9,8.2 2.9,13.3s1.8,13.5 2.9,17.3s2.7,4 3.8,5.7s1.8,5.6 2.9,4.8s2.7-6.5 3.8-9.5s1.9-7.9 2.9-8.7s1.7,2.3 2.9,3.9s2.3,5.4 3.8,5.7s3.3-1.3 4.8-3.8s2.5-5.1 3.8-11.5s2.6-19.5 3.8-26.8s2.7-15.3 3.9-17.3s1.7,1.9 2.8,5.8s2.6,11.8 3.9,17.2s2.5,10.2 3.8,15.3s2.5,13.1 3.8,15.4s2.6,2.5 3.8-2s2.6-16.5 3.9-24.8s2.5-18.6 3.8-25s2.6-10.3 3.8-13.4s2.6-5.4 3.9-4.7s2.5,4.9 3.8,8.6s2.6,10.2 3.8,13.4s2.6,4.8 3.9,5.7s2.7,.3 3.8,0s1.8-2.2 2.9-1.9s2.5,2.1 3.8,3.8s2.7,6.7 3.8,6.7s1.8-3 2.9-6.7s2.6-9.9 3.8-15.3s2.6-12.1 3.9-17.2s2.5-10.5 3.8-13.4s2.5-3.1 3.8-3.8s2.6,.3 3.9-1s2.7-3 3.8-6.7s1.7-10.4 2.9-15.3s2.7-12.8 3.8-14.4s1.7,1.1 2.9,4.8s2.5,12.1 3.8,17.2s2.5,13.1 3.8,13.4s2.6-8.6 3.8-11.5s2.4-4.9 3.9-5.7s3.3,2.1 4.8,1s2.5-5.2 3.8-7.7s2.6-7.4 3.8-7.7s2.6,3.2 3.9,5.8s2.5,6.8 3.8,9.6s2.5,5.2 3.8,6.7s2.6,2.2 3.9,1.9s2.5-3.9 3.8-3.9s2.5,2.6 3.8,3.9s2.6,3.3 3.8,3.8s2.6-1.3 3.9-1s2.5,2.3 3.8,2.9s2.6,.3 3.8,1s2.6,1.6 3.9,2.9s2.5,3.5 3.8,4.7s2.6,1.8 3.8,2.9s2.6,2.6 3.9,3.8s2.5,2.9 3.8,3.9s2.5,1.2 3.8,1.9s2.6,1.6 3.9,1.9s2.5-.6 3.8,0s2.7,2.2 3.8,3.8s1.9,3.7 2.9,5.8s2.4,5.6 2.8,6.7" stroke="#e8a02a" /><path d="M373.7,1906.2c.6,.9 2.5,3.1 3.7,5.6s2.5,6.9 3.8,9.4s2.5,2.8 3.7,5.6s2.5,7.5 3.8,11.3s2.5,9.3 3.7,11.2s2.5,1.9 3.8,0s2.5-8.7 3.7-11.2s2.5-4.1 3.8-3.8s2.5,5 3.7,5.6s2.5-.6 3.8-1.8s2.5-3.5 3.7-5.7s2.5-3.1 3.8-7.5s2.5-9.3 3.7-18.7s2.7-27.8 3.8-37.5s1.7-18.4 2.8-20.6s2.5,3.8 3.7,7.5s2.5,10.3 3.8,15s2.6,9.4 3.7,13.1s1.9,9.4 2.8,9.4s1.7-2.5 2.8-9.4s2.5-21.2 3.8-31.9s2.6-24.2 3.7-31.8s1.8-12 2.8-14.1s2.6,1.4 3.8,1.9s2.5-1.4 3.7,.9s2.5,8.8 3.8,13.2s2.6,10 3.7,13.1s1.8,5.3 2.8,5.6s2.5-2.5 3.8-3.8s2.5-4.5 3.7-3.7s2.5,8.4 3.8,8.4s2.5-5.1 3.7-8.4s2.5-8.1 3.8-11.2s2.5-5.8 3.7-7.5s2.5-1.6 3.8-2.9s2.5-3.2 3.7-4.6s2.5-3.3 3.8-3.8s2.5,1.9 3.7,1s2.5-3 3.8-6.6s2.7-11.5 3.7-15s1.3-6.8 2.3-6.2s2.2,6.1 3.3,9.9s2.7,9.4 3.8,13.2s1.9,9 2.8,9.3s1.7-3.7 2.8-7.5s2.7-11.3 3.8-15s1.8-6.4 2.8-7.1s1.9,3 2.8,3.4s1.9-.9 2.8-.9s1.7,1.1 2.8,.9s2.5-2.8 3.8-1.9s2.5,4.7 3.7,7.5s2.5,6 3.8,9.4s2.5,9.1 3.7,11.2s2.5,1.8 3.8,1.9s2.5-1.2 3.7-.9s2.5,2 3.8,2.8s2.5,.6 3.7,1.9s2.5,3.1 3.7,5.6s2.5,7.8 3.8,9.4s2.5,.3 3.7,0s2.5-3.2 3.8-1.9s2.5,6.2 3.7,9.3s2.5,6.3 3.8,9.4s2.5,7.1 3.7,9.4s2.5,3.7 3.8,4.7s2.5-.5 3.7,.9s2.4,7.2 3.8,7.5s3.3-4 4.7-5.6s2.3-4.4 3.7-3.8s3.9,6.3 4.7,7.5" stroke="#000000" /><path d="M373.7,1900.6c.6,.3 2.5-.3 3.7,1.9s2.5,7.8 3.8,11.2s2.5,5.3 3.7,9.4s2.5,9.7 3.8,15s2.5,14 3.7,16.8s2.5,2.8 3.8,0s2.5-13.1 3.7-16.8s2.5-5 3.8-5.7s2.5,1.3 3.7,1.9s2.5,1.9 3.8,1.9s2.5-1 3.7-1.9s2.5,.3 3.8-3.7s2.5-9.1 3.7-20.6s2.5-35.8 3.8-48.8s2.5-26.2 3.7-29s2.5,7.3 3.8,12.1s2.5,11.3 3.7,16.9s2.7,13.8 3.7,16.9s1.8,5.6 2.9,1.9s2.5-16.6 3.7-24.4s2.5-16.6 3.8-22.5s2.5-10.3 3.7-13.1s2.3-3.8 3.4-3.8s2,1.3 3.2,3.8s2.5,6.2 3.7,11.2s2.5,13.1 3.8,18.8s2.5,12.5 3.7,15s2.5-.2 3.8,0s2.5,.4 3.7,.9s2.5,3.6 3.8,1.9s2.5-7.7 3.7-12.2s2.4-10 3.8-15s3.2-11.2 4.6-15s2.5-5 3.8-7.5s2.5-5.5 3.7-7.5s2.5-3.7 3.8-4.7s2.5,.5 3.7-.9s2.5-4.7 3.8-7.5s2.6-6.6 3.7-9.4s1.9-8 2.8-7.1s1.9,7.8 2.8,12.8s1.9,12.1 2.9,16.8s1.8,10.6 2.8,11.3s1.7-3.5 2.8-7.5s2.5-12.8 3.7-16.9s2.5-7.2 3.8-7.5s2.6,4.1 3.7,5.6s1.9,4.4 2.8,3.8s2-5.8 2.9-7.5s1.5-3.8 2.4-2.8s1.9,5.4 3.2,8.4s3.3,5.9 4.7,9.4s2.5,8.1 3.7,11.2s2.5,6.7 3.8,7.5s2.5-1.9 3.7-2.8s2.5-2 3.8-2.8s2.5-3.1 3.7-1.9s2.5,5.9 3.7,9.4s2.5,8.1 3.8,11.2s2.5,6.1 3.7,7.5s2.5-.1 3.8,1s2.5,3.6 3.7,5.6s2.5,4.8 3.8,6.5s2.5,3.6 3.7,3.8s2.5-3.4 3.8-2.8s2.5,3.6 3.7,6.5s2.4,11 3.8,11.3s3.3-7.5 4.7-9.4s2.3-3.1 3.7-1.9s3.9,7.8 4.7,9.4" stroke="#dd08f4" /><path d="M373.7,1887.5c.6,1.5 2.5,5.6 3.7,9.3s2.5,10.5 3.8,13.2s2.5-.7 3.7,2.8s2.5,11.4 3.8,17.8s2.5,16.4 3.7,20.6s2.7,4.5 3.8,4.7s1.9-1.1 2.8-3.8s1.7-8.3 2.8-12.2s2.5-10 3.8-11.2s2.4,2.6 3.7,3.7s2.5,3.2 3.7,2.8s2.5-2.9 3.8-4.6s2.5,.3 3.7-5.7s2.5-19.3 3.8-29.9s2.6-26.3 3.7-33.8s1.8-10.9 2.9-11.2s2.5,5 3.7,9.3s2.5,11.9 3.7,16.9s2.7,11.3 3.8,13.1s1.7,2.2 2.8-1.8s2.5-13.8 3.7-22.5s2.7-23.5 3.8-30s1.7-7.5 2.8-9.4s2.5-2.2 3.8-1.9s2.5,.7 3.7,3.8s2.5,8.1 3.8,15s2.6,19.3 3.7,26.2s1.7,13 2.8,15s2.5-2.5 3.8-2.8s2.5,.1 3.7,.9s2.7,2.2 3.8,3.8s1.7,6.5 2.8,5.6s2.5-6.2 3.7-11.2s2.5-12.5 3.8-18.8s2.5-13.1 3.7-18.7s2.5-11.3 3.8-15s2.5-5.6 3.7-7.5s2.5-1.9 3.8-3.8s2.5-3.1 3.7-7.5s2.8-13.7 3.8-18.7s1.1-8 1.8-11.2s1.5-7.5 2.3-8.1s1.5,1.4 2.4,4.3s1.7,8.8 2.8,13.1s2.8,10.4 3.8,13.1s1.3,4.8 2.2,3.2s2.4-9.5 3.4-12.5s1.7-4.9 2.8-5.7s2.5,1.5 3.8,1s2.5-2 3.7-3.8s2.7-5.2 3.8-6.5s1.5-2.5 2.4-1.5s2.2,4.7 3.2,7.1s1.9,4.4 2.8,7.5s1.7,7.8 2.8,11.2s2.5,8 3.8,9.4s2.5-.4 3.7-.9s2.5-2.1 3.7-1.9s2.5,2.3 3.8,2.8s2.5,.3 3.7,0s2.5-1.5 3.8-1.9s2.5-.1 3.7,0s2.5-.3 3.8,1s2.5,4.2 3.7,6.5s2.5,5.8 3.8,7.5s2.5,1.4 3.7,2.8s2.5,4 3.8,5.7s2.5,3.7 3.7,4.6s2.5,.8 3.8,1s2.5-.5 3.7,0s2.5,1.1 3.8,2.8s2.3,4.4 3.7,7.5s3.9,9.4 4.7,11.2" stroke="#e8a02a" /><path d="M647.5,1923.1c.8,.9 3.1,3.4 4.9,5.6s3.7,5 5.6,7.5s4.1,5 5.6,7.5s2.2,7.2 3.8,7.5s3.7-3.2 5.6-5.7s3.6-8.1 5.6-9.3s4.5,2.5 6.4,1.8s3.1-3.1 4.9-5.6s4-4.3 5.6-9.3s2.5-12.2 3.7-20.7s2.5-21.5 3.8-29.9s2.2-19.7 3.7-20.7s3.8,10 5.6,15s3.8,15.3 5.7,15s3.7-6.8 5.6-16.8s3.7-36.3 5.6-43.2s3.8-.6 5.6,1.9s3.8,8.2 5.7,13.1s3.7,16 5.6,16.9s3.7-7.5 5.6-11.2s3.7-8.5 5.6-11.3s3.5-2.5 5.7-5.6s4.9-9.4 7.4-13.1s5-6.6 7.5-9.4s5-6.2 7.5-7.5s5.3,.6 7.5,0s3.8-4 5.6-3.7s3.8,6.5 5.7,5.6s3.7-8.1 5.6-11.3s3.7-6.8 5.6-7.4s3.9,3.7 5.6,3.7s3.4-4.4 4.9-3.7s2.8,3.4 4.5,7.4s3.8,12.5 5.6,16.9s3.8,7.5 5.7,9.4s3.7,.9 5.6,1.9s3.7,2.5 5.6,3.7s3.8,1.6 5.6,3.7s3.8,7.5 5.6,9.4s3.8,.3 5.7,1.9s3.7,4.7 5.6,7.5s3.7,6.6 5.6,9.4s3.8,5.6 5.6,7.5s3.8,2.8 5.7,3.7s3.6,.6 5.6,1.9s5.3,4.7 6.4,5.6" stroke="#000000" /><path d="M647.5,1913.7c.8,.6 3.1,1.2 4.9,3.7s3.7,6.9 5.6,11.3s4.1,10 5.6,15s2.2,13.4 3.8,15s3.7-2.5 5.6-5.7s3.6-9 5.6-13.1s4.5-9 6.4-11.2s3.1-1.3 4.9-1.9s4,2.8 5.6-1.9s2.5-16.2 3.7-26.2s2.4-25.3 3.8-33.7s2.9-15 4.5-16.9s3.1,3.1 4.8,5.6s3.8,10 5.7,9.4s3.7-7.8 5.6-13.1s3.7-16.3 5.6-18.8s3.8,1 5.6,3.8s3.8,8.4 5.7,13.1s4,10.6 5.6,15s2.2,10.6 3.7,11.2s3.8-5 5.7-7.5s3.7-3.7 5.6-7.5s3.7-8.4 5.6-15s3.7-17.8 5.6-24.3s3.5-10.6 5.6-15s5.2-7.5 7.5-11.3s4.9-11.2 6.8-11.2s2.5,6.9 4.5,11.2s5.3,14.4 7.5,15s3.7-7.5 5.6-11.2s3.9-10.9 5.6-11.3s2.6,10 4.5,9.4s4.7-13.4 6.8-13.1s3.7,10 5.6,15s3.7,11.2 5.6,15s3.8,5.9 5.6,7.5s3.8,2.2 5.7,1.8s3.7-5.3 5.6-3.7s3.7,10.3 5.6,13.1s3.7,2.2 5.6,3.8s3.8,3.4 5.6,5.6s3.8,5 5.7,7.5s3.7,5 5.6,7.5s3.7,5.6 5.6,7.5s3.8,3.7 5.6,3.7s4-4 5.7-3.7s3.7,4.7 4.5,5.6" stroke="#dd08f4" /><path d="M647.5,1904.3c.8,1.6 3.1,6 4.9,9.4s3.7,6.9 5.6,11.2s4.1,10 5.6,15s2.2,13.1 3.8,15s3.7-.6 5.6-3.7s3.6-11.3 5.6-15s4.5-6 6.4-7.5s3.1-1 4.9-1.9s4,.9 5.6-3.7s2.5-16 3.7-24.4s2.4-19.7 3.8-26.2s2.9-12.5 4.5-13.2s3.1,6.9 4.8,9.4s3.8,7.8 5.7,5.6s3.8-12.8 5.6-18.7s3-15 4.9-16.9s4.3,2.5 6.3,5.6s3.8,6.6 5.7,13.2s4,19.3 5.6,26.2s2.2,14.1 3.7,15s3.8-7.5 5.7-9.4s3.7,2.2 5.6-1.8s3.7-14.4 5.6-22.5s3.7-18.8 5.6-26.3s3.5-13.7 5.6-18.7s5-6.9 7.5-11.3s5.3-11.8 7.5-15s3.8-4.6 5.6-3.7s3.8,8.7 5.7,9.4s3.7-2.9 5.6-5.7s3.7-10.6 5.6-11.2s3.9,8.4 5.6,7.5s3.4-12.8 4.9-13.1s2.8,6.8 4.5,11.2s3.8,12.2 5.6,15s3.8,1.6 5.7,1.9s3.7-.6 5.6,0s3.7,3.1 5.6,3.7s3.8,.3 5.6,0s3.8-2.2 5.6-1.8s3.8,1.5 5.7,3.7s3.7,6.6 5.6,9.4s3.7,5 5.6,7.5s3.8,6.5 5.6,7.5s3.8-3.5 5.7-1.9s3.6,7.8 5.6,11.2s5.3,7.8 6.4,9.4" stroke="#e8a02a" /><path d="M922.2,1906.2c1,.9 3.8,2.8 5.7,5.6s3.7,6.6 5.6,11.3s3.7,11.8 5.6,16.8s3.8,12.8 5.6,13.1s3.8-7.8 5.7-11.2s3.7-7.2 5.6-9.4s3.7-1.5 5.6-3.7s3.8-1.9 5.6-9.4s3.8-22.8 5.7-35.6s3.7-36.5 5.6-41.2s3.7,7.8 5.6,13.1s3.7,19.7 5.6,18.7s3.8-13.4 5.6-24.3s4.1-33.5 5.7-41.3s2.1-5.9 3.7-5.6s3.8,5 5.6,7.5s3.8,3.4 5.7,7.5s3.7,12.5 5.6,16.9s3.7,5.9 5.6,9.3s3.7,11.9 5.6,11.3s3.8-10 5.6-15s3.8-11.3 5.7-15s3.7-5.6 5.6-7.5s3.7-.9 5.6-3.7s3.8-7.9 5.6-13.2s3.8-14 5.7-18.7s3.7-12.5 5.6-9.4s3.7,25.3 5.6,28.1s3.7-7.8 5.6-11.2s3.8-8.4 5.6-9.4s3.8,3.8 5.7,3.8s3.7-2.5 5.6-3.8s3.7-5.6 5.6-3.7s3.8,10 5.6,15s3.8,12.1 5.7,15s3.7,1.5 5.6,1.8s3.7,0 5.6,0s3.8-1.8 5.6,0s3.8,7.5 5.7,11.3s3.7,8.1 5.6,11.2s3.7,5 5.6,7.5s3.7,6 5.6,7.5s3.8,.6 5.6,1.9s3,3.4 5.7,5.6s8.7,6.3 10.5,7.5" stroke="#000000" /><path d="M922.2,1895c1,1.8 3.8,8.1 5.7,11.2s3.7,1.9 5.6,7.5s3.7,18.7 5.6,26.2s3.8,17.8 5.6,18.8s3.8-8.8 5.7-13.2s3.7-9.6 5.6-13.1s3.7-4.3 5.6-7.5s3.8-2.5 5.6-11.2s3.9-26.2 5.7-41.2s3.3-43.1 4.8-48.8s2.8,8.1 4.5,15s3.8,24.4 5.6,26.3s3.5-8.2 5.7-15s5.6-20 7.5-26.3s2.1-12.2 3.7-11.2s3.8,12.2 5.6,16.8s3.8,7.6 5.7,11.3s3.7,7.2 5.6,11.2s3.7,8.5 5.6,13.2s3.7,15.6 5.6,15s3.8-12.2 5.6-18.8s3.8-14 5.7-20.6s3.7-13.4 5.6-18.8s3.7-9.6 5.6-13.1s3.8-2.8 5.6-7.5s4.1-16.5 5.7-20.6s2.1-7.2 3.7-3.7s4.1,18.1 5.6,24.3s2.2,13.8 3.8,13.2s4-12.5 5.6-16.9s2.2-8.8 3.7-9.4s3.8,6.6 5.7,5.6s3.7-11.2 5.6-11.2s3.7,7.2 5.6,11.2s3.8,9.4 5.6,13.2s3.8,8.7 5.7,9.3s3.7-3.7 5.6-5.6s3.7-5.9 5.6-5.6s3.8,3.4 5.6,7.5s3.8,12.8 5.7,16.8s3.7,5.1 5.6,7.5s3.7,5.7 5.6,7.5s3.7,2.5 5.6,3.8s3.8,.9 5.6,3.7s3.8,12.2 5.7,13.2s3.8-7.5 5.6-7.5s4,6.2 4.9,7.5" stroke="#dd08f4" /><path d="M922.2,1895c1,1.2 3.8,3.7 5.7,7.4s3.7,8.2 5.6,15s3.7,19.1 5.6,26.3s3.8,16.2 5.6,16.8s3.8-8.1 5.7-13.1s3.7-13.1 5.6-16.9s3.7-4 5.6-5.6s3.8,.7 5.6-3.7s3.8-9.4 5.7-22.5s3.7-47.5 5.6-56.2s3.7-1.9 5.6,3.7s3.7,29.4 5.6,30s3.8-17.8 5.6-26.2s3.8-21 5.7-24.4s3.7,1.6 5.6,3.7s3.7,4.7 5.6,9.4s3.8,11.3 5.6,18.8s3.8,20.9 5.7,26.2s3.7,1.9 5.6,5.6s3.7,17.8 5.6,16.9s3.7-14.4 5.6-22.5s3.8-18.1 5.6-26.2s3.8-15.7 5.7-22.5s3.7-13.1 5.6-18.8s3.7-8.7 5.6-15s4.1-17.8 5.6-22.4s2.2-7.5 3.8-5.7s4,11.6 5.6,16.9s2.2,14.7 3.7,15s3.8-11.3 5.7-13.1s3.7,3.4 5.6,1.8s3.7-10.9 5.6-11.2s3.5,5.6 5.6,9.4s5.4,10 7.5,13.1s3.8,5.3 5.7,5.6s3.7-3.1 5.6-3.7s3.7,.3 5.6,0s3.8-1.9 5.6-1.9s3.8-.6 5.7,1.9s3.7,10.3 5.6,13.1s3.7,1.2 5.6,3.7s3.7,9.1 5.6,11.3s3.8,0 5.6,1.8s3,6.3 5.7,9.4s8.7,7.8 10.5,9.4" stroke="#e8a02a" /><path d="M1195.6,1917c.8,.6 3.1,2.3 4.7,3.7s3.2,2.4 4.6,4.6s2.5,5.1 3.7,8.3s2.3,8.4 3.7,11.2s3.3,5.8 4.7,5.5s2.4-4.9 3.7-7.4s2.4-5.9 3.7-7.4s2.4-1.9 3.7-1.9s2.4,1.6 3.7,1.9s2.5,.6 3.7,0s2.5-1.9 3.7-3.7s2.5-1.9 3.7-7.4s2.5-17 3.7-26s2.5-24.1 3.7-27.8s2.5,2.5 3.7,5.6s2.5,8.3 3.7,13s2.5,9.5 3.7,14.8s2.5,16 3.8,16.7s2.4-5.6 3.6-13s2.5-21.3 3.8-31.5s2.5-22.7 3.7-29.7s2.2-10.8 3.3-12s2,2 3.2,4.6s2.4,7.4 3.7,11.1s2.4,8.4 3.7,11.1s2.4,4.2 3.7,5.6s2.4,2 3.7,2.8s2.5,.3 3.7,1.8s2.5,4.4 3.7,7.5s2.5,10.9 3.7,11.1s2.5-6.2 3.7-10.2s2.5-10.4 3.7-13.9s2.5-5.6 3.7-7.4s2.5-2.7 3.7-3.8s2.5-2 3.7-2.7s2.5-1.1 3.8-1.9s2.4-.9 3.7-2.8s2.6-4.1 3.7-8.3s1.9-11.6 2.7-16.7s1.3-12.7 2.3-13.9s2.1,2.3 3.3,6.5s2.5,12.7 3.7,18.5s2.5,16.4 3.7,16.7s2.5-10.5 3.7-14.8s2.5-9 3.7-11.1s2.5-1.9 3.7-1.9s2.5,2.5 3.8,1.9s2.4-4 3.7-5.6s2.4-3.2 3.7-3.7s2.4-.3 3.7,.9s2.4,4.2 3.7,6.5s2.4,5.9 3.7,7.4s2.5,1.9 3.7,1.9s2.5-2.2 3.7-1.9s2.5,2.5 3.7,3.7s2.5,2.2 3.7,3.7s2.5,3.7 3.7,5.6s2.5,4.8 3.7,5.6s2.5-1.6 3.7-1s2.5,2.7 3.7,4.7s2.5,5.2 3.7,7.4s2.5,3.9 3.8,5.5s2.4,3.3 3.7,4.7s2.4,2.6 3.7,3.7s2.4,1.8 3.7,2.8s2.5,2 3.7,2.8s2.5,1.8 3.7,1.8s2.3-1.8 3.7-1.8s3.9,1.5 4.6,1.8" stroke="#000000" /><path d="M1195.6,1908.6c.8-.1 3.3-1.4 4.7-.9s2.4,1.2 3.7,3.7s2.4,6.2 3.7,11.1s2.3,13 3.7,18.5s3.2,13 4.6,14.9s2.5-.9 3.7-3.7s2.5-9.9 3.7-13s2.5-4.3 3.8-5.6s2.4-1.7 3.6-1.8s2.5,.4 3.8,.9s2.4,2.3 3.7,1.9s2.4,1.3 3.7-4.7s2.4-21 3.7-31.5s2.8-25.6 3.7-31.5s.9-5.3 1.8-3.7s2.5,8 3.8,13s2.4,11.4 3.7,16.6s2.4,11.2 3.7,14.9s2.4,9.6 3.7,7.4s2.4-12.7 3.7-20.4s2.5-18.2 3.7-25.9s2.6-16.1 3.7-20.4s1.7-6.2 2.8-5.6s2.4,5.6 3.7,9.3s2.5,8.6 3.7,12.9s2.5,9.2 3.7,13s2.5,8.1 3.7,10.2s2.5,1.4 3.7,2.8s2.5,2.8 3.7,5.6s2.6,8.3 3.7,11.1s1.7,7.4 2.8,5.5s2.5-10.8 3.7-16.6s2.5-13 3.7-18.6s2.5-11.1 3.7-14.8s2.5-5.4 3.7-7.4s2.5-3.1 3.7-4.6s2.5-3.3 3.8-4.7s2.4-1.5 3.7-3.7s2.6-4.6 3.7-9.3s1.8-14.2 2.7-18.5s1.7-8.3 2.8-7.4s2.5,7.1 3.7,13s2.7,16 3.7,22.2s1.7,14.8 2.8,14.8s2.5-10.8 3.7-14.8s2.5-6.8 3.7-9.3s2.5-4 3.7-5.5s2.5-2.5 3.8-3.7s2.6-2.8 3.7-3.7s1.7-2.2 2.7-1.9s2.5,2.2 3.7,3.7s2.5,3.7 3.7,5.6s2.5,3.7 3.8,5.5s2.4,4.4 3.7,5.6s2.4,2.5 3.7,1.9s2.4-4.4 3.7-5.6s2.6-1.9 3.7-1.9s1.8,.3 2.8,1.9s1.7,4.3 2.8,7.4s2.4,8.8 3.7,11.1s2.4,1.9 3.7,2.8s2.4,1.7 3.7,2.8s2.4,2 3.7,3.7s2.4,5.2 3.7,6.5s2.5,.1 3.7,.9s2.5,1.9 3.7,3.7s2.5,5.7 3.7,7.4s2.5,3.4 3.7,2.8s2.5-5.7 3.7-6.5s2.5,.8 3.7,1.9s3.1,3.8 3.7,4.6" stroke="#dd08f4" /><path d="M1195.6,1905.8c.8,.3 3.3,1.1 4.7,1.9s2.4,1.5 3.7,2.8s2.4,.4 3.7,4.6s2.5,14.5 3.7,20.4s2.5,11.7 3.7,14.8s2.5,4.6 3.7,3.7s2.5-5.9 3.7-9.2s2.5-9.3 3.7-11.2s2.5-.6 3.7,0s2.5,3.1 3.7,3.7s2.5,.7 3.7,0s2.5,.7 3.7-3.7s2.7-14.5 3.8-22.2s1.8-17.6 2.7-24.1s1.7-13.3 2.8-14.8s2.5,2.1 3.7,5.5s2.5,9.9 3.7,14.8s2.5,10.6 3.7,14.9s2.5,11.4 3.8,11.1s2.4-6.2 3.6-13s2.5-20.1 3.8-27.8s2.4-14.5 3.7-18.5s2.4-5.3 3.7-5.6s2.4,1 3.7,3.7s2.5,7.8 3.7,13s2.5,13.3 3.7,18.6s2.5,10.3 3.7,12.9s2.5,1.9 3.7,2.8s2.5,.5 3.7,2.8s2.6,8 3.7,11.1s2.1,8.3 3.2,7.4s2.1-7.7 3.3-13s2.5-12.3 3.7-18.5s2.5-13.3 3.7-18.5s2.5-9.6 3.7-13s2.5-5.9 3.7-7.4s2.5-.8 3.8-1.9s2.4-.6 3.7-4.6s2.6-13.1 3.7-19.5s1.8-14.8 2.7-18.5s1.7-4.9 2.8-3.7s2.5,6.5 3.7,11.1s2.6,11.4 3.7,16.7s2.1,13.6 3.2,14.8s2.2-4.9 3.3-7.4s2.5-5.9 3.7-7.4s2.5-1.2 3.7-1.9s2.5-.6 3.8-1.8s2.6-4 3.7-5.6s1.7-3.7 2.7-3.7s2.5,1.9 3.7,3.7s2.5,5.1 3.7,7.4s2.5,5.6 3.8,6.5s2.4-.3 3.7-.9s2.4-3.1 3.7-2.8s2.4,3.7 3.7,4.7s2.5,1.2 3.7,.9s2.5-2 3.7-2.8s2.5-1.7 3.7-1.9s2.5,.2 3.7,1s2.5,2 3.7,3.7s2.5,4.8 3.7,6.5s2.5,3.1 3.7,3.7s2.5-.8 3.7,0s2.5,3.2 3.7,4.6s2.5,3.2 3.8,3.7s2.4-1.4 3.7-.9s2.4,1.5 3.7,3.7s2.1,6.8 3.7,9.3s4.6,4.6 5.5,5.5" stroke="#e8a02a" /><path d="M99.5,2113.7c.8,.6 3.1,2.2 4.9,3.7s3.7,3.5 5.6,5.7s3.7,5.3 5.6,7.5s3.8,5 5.6,5.6s3.8-1.6 5.7-1.9s3.9-.3 5.6,0s2.9,1.9 4.5,1.9s3.1-.6 4.8-1.9s4.1-2.2 5.7-5.6s2.5-8.8 3.7-15s2.5-20.6 3.8-22.5s2.5,5.6 3.7,11.3s2.2,15.6 3.8,22.4s4,13.8 5.6,18.8s2.2,13.1 3.7,11.2s3.8-15.6 5.7-22.5s3.7-12.5 5.6-18.7s3.7-14.7 5.6-18.7s3.8-5 5.6-5.7s3.8,2.5 5.6,1.9s3.8-6.2 5.7-5.6s3.7,8.1 5.6,9.4s3.7-1.6 5.6-1.9s3.8,.3 5.6,0s3.8-1.3 5.7-1.9s3.7-1.5 5.6-1.9s3.7,1.9 5.6,0s4.1-8.1 5.6-11.2s2.2-8.4 3.8-7.5s3.7,11.2 5.6,13.1s3.7-.9 5.6-1.9s3.8-2.8 5.7-3.7s3.7-1.9 5.6-1.9s3.7,.6 5.6,1.9s3.7,4 5.6,5.6s3.8,3.8 5.6,3.8s3.8-3.2 5.7-3.8s3.7-.3 5.6,0s3.7,.6 5.6,1.9s3.8,3.7 5.6,5.6s3.8,4.7 5.6,5.6s3.8-1.2 5.7,0s3.7,5.3 5.6,7.5s3.7,3.8 5.6,5.6s3.8,4.1 5.6,5.7s3.8,4.3 5.7,3.7s3.6-6.5 5.6-7.5s5.3,1.6 6.4,1.9" stroke="#000000" /><path d="M99.5,2106.2c.8,.9 3.1,3.8 4.9,5.6s3.7,2.8 5.6,5.6s3.7,8.2 5.6,11.3s3.8,6.6 5.6,7.5s3.8-1.9 5.7-1.9s3.7,1.9 5.6,1.9s3.7-2.2 5.6-1.9s4.1,4.1 5.6,3.8s2.5-1.6 3.8-5.7s2.5-11.5 3.7-18.7s2.5-22.5 3.8-24.4s2.5,7.2 3.7,13.2s2.2,15.6 3.8,22.4s4,13.5 5.6,18.8s2.2,15 3.7,13.1s3.8-17.2 5.7-24.4s3.7-13.7 5.6-18.7s3.7-9.7 5.6-11.2s3.8,.9 5.6,1.8s3.8,3.2 5.6,3.8s3.8-1 5.7,0s3.7,5.3 5.6,5.6s3.7-1.9 5.6-3.8s3.8-5.3 5.6-7.4s3.8-4.4 5.7-5.7s3.7-.9 5.6-1.8s3.7-1 5.6-3.8s4.1-10 5.6-13.1s2.2-6.9 3.8-5.6s3.7,8.7 5.6,13.1s3.7,11.9 5.6,13.1s3.8-3.7 5.7-5.6s3.7-3.8 5.6-5.6s3.7-5.7 5.6-5.7s3.7,3.8 5.6,5.7s3.8,5.3 5.6,5.6s3.8-2.5 5.7-3.8s3.7-3.7 5.6-3.7s3.7,1.9 5.6,3.7s3.8,5 5.6,7.5s3.8,6.3 5.6,7.5s3.8-.6 5.7,0s3.7,2.2 5.6,3.8s3.7,4.4 5.6,5.6s3.8,1.2 5.6,1.9s3.8,2.5 5.7,1.8s3.6-5.3 5.6-5.6s5.3,3.1 6.4,3.8" stroke="#dd08f4" /><path d="M99.5,2102.5c.8,.9 3.1,4 4.9,5.6s3.7,1.5 5.6,3.7s3.7,4.7 5.6,9.4s3.8,15.3 5.6,18.7s3.8,2.8 5.7,1.9s3.9-6.2 5.6-7.5s2.9,0 4.5,0s3.1,1 4.8,0s4.1-2.2 5.7-5.6s2.5-8.8 3.7-15s2.5-20 3.8-22.5s2.5,2.5 3.7,7.5s2.2,14.7 3.8,22.5s4,18.4 5.6,24.4s2.2,12.8 3.7,11.2s3.8-14 5.7-20.6s3.7-13.4 5.6-18.8s3.7-11.2 5.6-13.1s3.8,.3 5.6,1.9s3.8,6.9 5.6,7.5s3.8-5.6 5.7-3.8s4,12.2 5.6,15s2.2,4.4 3.7,1.9s3.8-11.9 5.7-16.9s3.7-9.6 5.6-13.1s3.7-6.2 5.6-7.5s3.8,1.9 5.6,0s3.8-7.8 5.7-11.2s3.7-9.4 5.6-9.4s3.7,6.6 5.6,9.4s3.7,6.6 5.6,7.5s3.8-1 5.7-1.9s3.7-2.5 5.6-3.7s3.7-4.1 5.6-3.8s3.7,3.8 5.6,5.6s3.8,5.3 5.6,5.7s3.8-2.5 5.7-3.8s3.7-3.4 5.6-3.7s3.7,1.5 5.6,1.8s3.8,0 5.6,0s3.8-.3 5.6,0s3.8,.7 5.7,1.9s3.7,4.1 5.6,5.6s3.7,3.2 5.6,3.8s3.8-.3 5.6,0s3.8,1.9 5.7,1.9s3.6-3.5 5.6-1.9s5.3,9.4 6.4,11.2" stroke="#e8a02a" /><path d="M373.7,2098.4c.6,1.1 2.5,3.9 3.7,6.5s2.5,6.9 3.8,9.4s2.5,2.5 3.7,5.6s2.5,9.1 3.8,13.2s2.5,9 3.7,11.2s2.5,3.8 3.8,1.9s2.5-10 3.7-13.1s2.5-5.3 3.8-5.7s2.5,3.5 3.7,3.8s2.5-.3 3.8-1.9s2.5-5 3.7-7.5s2.5-2.2 3.8-7.5s2.5-14.7 3.7-24.4s2.7-25.6 3.8-33.7s1.7-14.4 2.8-15s2.5,6.6 3.7,11.3s2.5,11.5 3.8,16.8s2.6,11.9 3.7,15s1.7,6.3 2.8,3.8s2.5-10.3 3.8-18.8s2.5-23.1 3.7-31.8s2.5-17 3.8-20.6s2.5-1.3 3.7-1s2.5,2.4 3.8,2.8s2.5-2.2 3.7,0s2.5,8.5 3.8,13.1s2.5,12.4 3.7,15s2.5-.3 3.8,1s2.3,3.3 3.7,6.5s3.3,13.2 4.7,13.2s2.5-9.1 3.7-13.2s2.5-8.4 3.8-11.2s2.5-4.2 3.7-5.6s2.5-1.9 3.8-2.8s2.5-2.1 3.7-2.9s2.5-1 3.8-1.8s2.5-1.6 3.7-2.8s2.5,.1 3.8-4.7s2.7-17.2 3.7-24.4s1.3-17.5 2.3-18.7s2.2,6.5 3.3,11.2s2.5,12.2 3.8,16.9s2.5,11.2 3.7,11.2s2.5-7.5 3.8-11.2s2.5-9.5 3.7-11.3s2.6,1.3 3.8,1s2.5-2.5 3.7-2.8s2.5,.3 3.8,.9s2.5,1.1 3.7,2.8s2.5,5 3.8,7.5s2.5,5.5 3.7,7.5s2.5,4.2 3.8,4.7s2.5-1.9 3.7-1.9s2.5,1.1 3.8,1.9s2.5,1.6 3.7,2.8s2.5,2.8 3.8,4.7s2.5,5.3 3.7,6.5s2.5,1.3 3.8,1s2.5-3.3 3.7-2.8s2.5,3.1 3.8,5.6s2.5,6.4 3.7,9.4s2.5,6.4 3.8,8.4s2.5,2.7 3.7,3.8s2.5,1.7 3.8,2.8s2.5,2 3.7,3.7s2.5,6.6 3.8,6.6s2.6-5 3.7-6.6s1.6-3.3 2.8-2.8s3.9,4.7 4.7,5.6" stroke="#000000" /><path d="M373.7,2087.1c.6,.7 2.5,1.4 3.7,3.8s2.5,7 3.8,10.3s2.5,4.4 3.7,9.4s2.5,14.6 3.8,20.6s2.5,12 3.7,15s2.5,4.4 3.8,2.8s2.5-8.9 3.7-12.2s2.5-6.1 3.8-7.5s2.5-1.2 3.7-.9s2.5,2.6 3.8,2.8s2.5-.6 3.7-1.9s2.5-.3 3.8-5.6s2.5-14.4 3.7-26.3s2.7-33.7 3.8-44.9s1.7-20.6 2.8-22.5s2.5,6.2 3.7,11.2s2.5,13.1 3.8,18.8s2.6,11.2 3.7,15s1.7,9.3 2.8,7.5s2.5-11.9 3.8-18.8s2.5-16.5 3.7-22.5s2.5-10.4 3.8-13.1s2.5-3.1 3.7-2.8s2.5,3 3.8,4.7s2.5,2.2 3.7,5.6s2.5,9.1 3.8,15s2.5,16.2 3.7,20.6s2.5,3.8 3.8,5.6s2.5,3.2 3.7,5.7s2.5,9.3 3.8,9.3s2.5-5.3 3.7-9.3s2.5-10 3.8-15s2.5-10.7 3.7-15s2.5-7.5 3.7-11.3s2.6-8.7 3.8-11.2s2.5-3 3.8-3.8s2.3,.3 3.7-.9s3.3-1.7 4.7-6.6s2.6-15.9 3.7-22.5s1.7-16.2 2.8-16.8s2.7,6.9 3.8,13.1s1.9,17.8 2.8,24.4s1.9,13.7 2.8,14.9s1.7-4 2.8-7.4s2.5-10.7 3.8-13.2s2.5-2.2 3.7-1.8s2.5,3.7 3.8,3.7s2.5-2.6 3.7-3.7s2.5-3.8 3.8-2.9s2.5,5.5 3.7,8.5s2.5,7 3.8,9.4s2.5,3.4 3.7,4.6s2.5,2.7 3.8,2.8s2.5-1.4 3.7-1.8s2.5-.3 3.8-1s2.5-3.9 3.7-2.8s2.5,6.3 3.7,9.4s2.5,7 3.8,9.4s2.5,3.6 3.7,4.7s2.5,.7 3.8,1.8s2.5,3.2 3.7,4.7s2.5,3.5 3.8,4.7s2.5,3 3.7,2.8s2.5-4.5 3.8-3.7s2.5,5.4 3.7,8.4s2.5,8.9 3.8,9.4s2.5-4.9 3.7-6.6s2.2-4.7 3.8-3.7s4.7,7.8 5.6,9.3" stroke="#dd08f4" /><path d="M373.7,2085.3c.6,1.1 2.5,3.7 3.7,6.5s2.5,8.5 3.8,10.3s2.5-2.6 3.7,1s2.5,13.7 3.8,20.6s2.5,16.2 3.7,20.6s2.7,5.3 3.8,5.6s1.9-.9 2.8-3.7s1.7-9.4 2.8-13.1s2.5-8.8 3.8-9.4s2.4,5 3.7,5.6s2.5-.9 3.7-1.9s2.5-1.8 3.8-3.7s2.5,0 3.7-7.5s2.5-25.6 3.8-37.5s2.5-28.4 3.7-33.7s2.5-1.3 3.8,1.8s2.5,11.3 3.7,16.9s2.5,12.5 3.8,16.9s2.5,10.6 3.7,9.3s2.5-9.3 3.8-16.8s2.5-21.4 3.7-28.1s2.5-9.9 3.8-12.2s2.5-1.7 3.7-1.9s2.5-.8 3.8,.9s2.5,4.1 3.7,9.4s2.5,15 3.8,22.5s2.5,18.1 3.7,22.5s2.5,2.5 3.8,3.7s2.5,1.3 3.7,3.8s2.8,8.6 3.8,11.2s.9,6.3 1.8,4.7s2.5-8.3 3.8-14s2.5-14.1 3.7-20.6s2.5-13.5 3.8-18.8s2.5-9.8 3.7-13.1s2.5-4.7 3.8-6.6s2.5-2.3 3.7-4.7s2.4-4 3.8-9.3s3.4-16 4.7-22.5s1.7-13.7 2.8-16.9s2.5-3.7 3.7-1.9s2.4,7.5 3.8,13.2s3.2,18.6 4.6,20.6s2.5-6.4 3.8-8.5s2.5-3.2 3.7-3.7s2.6,1.6 3.8,.9s2.5-3.1 3.7-4.6s2.5-4.6 3.8-4.7s2.5,1.5 3.7,3.7s2.5,6 3.8,9.4s2.5,8.7 3.7,11.2s2.5,3.8 3.8,3.8s2.5-2.7 3.7-3.8s2.5-3.1 3.8-2.8s2.5,3.8 3.7,4.7s2.5,1.1 3.8,.9s2.5-1.4 3.7-1.8s2.5-1 3.8-1s2.5-.3 3.7,1s2.5,4.7 3.8,6.5s2.5,3.3 3.7,4.7s2.5,2.4 3.8,3.8s2.5,2.9 3.7,4.6s2.5,4.6 3.8,5.7s2.5,.9 3.7,.9s2.5-1.1 3.8-.9s2.5,.6 3.7,1.8s2.5,3.5 3.8,5.7s3.1,6.2 3.7,7.5" stroke="#e8a02a" /><path d="M647.5,2106.2c.8,.9 3.1,3.4 4.9,5.6s3.7,4.1 5.6,7.5s3.7,9.1 5.6,13.1s3.8,11.3 5.6,11.3s3.8-8.5 5.7-11.3s3.9-5.3 5.6-5.6s2.9,4.4 4.5,3.8s3.1-5.4 4.9-7.5s4-1 5.6-5.7s2.5-12.5 3.7-22.5s2.5-27.4 3.8-37.4s2.2-23.2 3.7-22.5s3.8,17.8 5.6,26.2s3.8,24.4 5.7,24.4s3.8-14.4 5.6-24.4s3-30.6 4.9-35.6s4.3,4.7 6.3,5.6s3.8-2.2 5.7,0s3.7,9.4 5.6,13.1s3.7,6.9 5.6,9.4s4.1,3.1 5.6,5.6s2.2,11 3.8,9.4s3.7-13.7 5.6-18.7s3.7-8.5 5.6-11.3s3.8-3.7 5.6-5.6s3.8-2.2 5.7-5.6s3.7-10 5.6-15s4-11 5.6-15s2.2-10.6 3.7-9.4s3.8,13.5 5.7,16.9s3.7,4.7 5.6,3.7s3.7-8.7 5.6-9.3s3.8,5 5.6,5.6s3.8-2.8 5.7-1.9s3.7,5.3 5.6,7.5s3.7,4.1 5.6,5.6s3.8,2.8 5.6,3.8s3.8,1.2 5.7,1.8s3.7,.7 5.6,1.9s3.7,3.8 5.6,5.6s3.7,5.4 5.6,5.7s3.8-4.7 5.6-3.8s3.8,6.3 5.7,9.4s3.7,6.6 5.6,9.4s3.7,5 5.6,7.5s3.8,6.5 5.6,7.5s4-1.9 5.7-1.9s3.7,1.5 4.5,1.9" stroke="#000000" /><path d="M647.5,2093.1c.8,.9 3.1,2.8 4.9,5.6s3.7,5 5.6,11.2s3.7,20 5.6,26.3s3.8,11.2 5.6,11.2s3.8-8.1 5.7-11.2s3.9-6 5.6-7.5s2.9-.3 4.5-1.9s3.1-5.6 4.9-7.5s4,1.6 5.6-3.7s2.5-16 3.7-28.2s2.6-34.3 3.8-44.9s1.7-18.1 3-18.8s2.8,7.5 4.5,15s3.7,28.1 5.6,30s3.5-12.8 5.6-18.7s4.6-14.7 6.8-16.9s4.3,2.2 6.3,3.7s4.1,2.5 5.7,5.7s2.1,7.2 3.7,13.1s3.8,17.5 5.6,22.5s4,5.3 5.7,7.5s2.9,7.2 4.5,5.6s3.1-8.8 4.8-15s3.8-16.6 5.6-22.5s3.8-8.7 5.7-13.1s3.7-9.1 5.6-13.1s3.7-6.3 5.6-11.3s3.9-14 5.6-18.7s3-10.6 4.5-9.4s3.5,11 4.9,16.9s2.2,17.5 3.7,18.7s3.8-9 5.7-11.2s3.7-2.5 5.6-1.9s3.7,6.6 5.6,5.6s3.8-11.8 5.6-11.2s3.8,10.9 5.7,15s3.7,7.8 5.6,9.3s3.7,1 5.6,0s3.8-5.3 5.6-5.6s3.8,.7 5.6,3.8s3.8,11.5 5.7,15s3.7,3.7 5.6,5.6s3.7,4 5.6,5.6s3.8,2.2 5.6,3.8s3.8,2.8 5.7,5.6s3.7,10.6 5.6,11.2s4-5.9 5.6-7.5s2.4-2.8 3.8-1.8s3.7,6.2 4.5,7.5" stroke="#dd08f4" /><path d="M647.5,2091.2c.8,1.9 3.1,9.1 4.9,11.2s3.7-3.1 5.6,1.9s3.7,20.6 5.6,28.1s3.8,15.7 5.6,16.9s3.8-5.6 5.7-9.4s3.9-11.2 5.6-13.1s2.9,2.8 4.5,1.9s3.1-5.6 4.9-7.5s4,.6 5.6-3.8s2.5-11.8 3.7-22.5s2.5-31.8 3.8-41.2s2.2-16.2 3.7-15s3.8,15 5.6,22.5s3.8,22.5 5.7,22.5s3.8-15.3 5.6-22.5s3-17.5 4.9-20.6s4.3,.6 6.3,1.9s4.1,2.2 5.7,5.6s2.1,7.8 3.7,15s3.8,22.8 5.6,28.1s3.8,0 5.7,3.7s3.7,20 5.6,18.8s3.7-18.8 5.6-26.3s3.7-12.4 5.6-18.7s3.8-13.1 5.6-18.7s3.8-10.7 5.7-15s3.9-6.3 5.6-11.3s2.9-12.5 4.5-18.7s3.1-19.1 4.8-18.8s3.8,15.7 5.7,20.7s3.7,8.7 5.6,9.3s3.7-5.3 5.6-5.6s3.9,4.7 5.6,3.8s3.4-9.1 4.9-9.4s2.8,4.7 4.5,7.5s3.8,7.2 5.6,9.3s3.8,3.8 5.7,3.8s3.7-2.8 5.6-3.8s3.7-1.5 5.6-1.8s3.8,.3 5.6,0s3.8-2.5 5.6-1.9s3.8,3.1 5.7,5.6s3.7,7.5 5.6,9.4s3.7,0 5.6,1.9s3.8,7.5 5.6,9.3s3.8,1 5.7,1.9s3.6,1 5.6,3.8s5.3,10.9 6.4,13.1" stroke="#e8a02a" /><path d="M922.2,2102.4c1,1 3.8,3.2 5.7,5.7s3.7,4.7 5.6,9.3s3.7,13.5 5.6,18.8s3.8,12.5 5.6,13.1s3.8-5.9 5.7-9.4s3.7-8.4 5.6-11.2s3.7-3.1 5.6-5.6s3.8-1.6 5.6-9.4s3.8-24.4 5.7-37.5s3.7-35 5.6-41.2s3.7-2.5 5.6,3.7s3.7,33.1 5.6,33.8s3.5-20 5.6-30s5.4-26.3 7.5-30s3.8,5 5.7,7.5s3.7,3.1 5.6,7.5s3.7,13.1 5.6,18.7s3.8,10.6 5.6,15s4.1,7.8 5.7,11.3s2.1,11.2 3.7,9.3s3.7-14.7 5.6-20.6s3.8-11.2 5.6-15s3.8-4.7 5.7-7.5s3.7-6.2 5.6-9.4s3.7-4.6 5.6-9.3s4.1-12.8 5.6-18.8s2.2-18.7 3.8-16.8s3.7,24 5.6,28.1s3.7-1.6 5.6-3.8s3.8-8.7 5.6-9.3s3.8,5 5.7,5.6s3.7-3.1 5.6-1.9s3.7,6.6 5.6,9.4s3.8,5.6 5.6,7.5s3.8,3.4 5.7,3.7s3.7-.9 5.6-1.9s3.7-3.4 5.6-3.7s3.8,0 5.6,1.9s3.8,5.6 5.7,9.3s3.7,10 5.6,13.2s3.7,3.4 5.6,5.6s3.7,5.3 5.6,7.5s3.8,3.7 5.6,5.6s3,4.7 5.7,5.6s8.7,0 10.5,0" stroke="#000000" /><path d="M922.2,2091.2c1,.9 3.8,3.1 5.7,5.6s3.7,2.8 5.6,9.4s3.7,22.5 5.6,30s3.8,14.3 5.6,15s3.8-7.5 5.7-11.3s3.7-8.1 5.6-11.2s3.7-4.4 5.6-7.5s3.8-.6 5.6-11.3s3.9-36.8 5.7-52.4s3.3-37.5 4.8-41.3s2.8,11.3 4.5,18.8s3.8,25 5.6,26.2s3.8-12.5 5.7-18.7s3.7-14.4 5.6-18.8s3.7-8.1 5.6-7.5s3.8,6.3 5.6,11.3s3.8,11.2 5.7,18.7s3.7,20 5.6,26.3s3.7,6.8 5.6,11.2s3.7,15.6 5.6,15s3.8-11.9 5.6-18.8s3.8-16.2 5.7-22.4s3.7-10.7 5.6-15s3.7-7.5 5.6-11.3s3.8-6.2 5.6-11.2s4-13.1 5.7-18.8s2.9-17.5 4.4-15s3.5,23.2 4.9,30s2.2,11.9 3.8,11.3s3.7-11.3 5.6-15s3.7-6.6 5.6-7.5s3.8,2.2 5.6,1.9s3.8-5.4 5.7-3.8s3.7,10 5.6,13.1s3.7,4.4 5.6,5.6s3.8,1 5.6,1.9s3.8,4.4 5.7,3.8s3.7-8.8 5.6-7.5s3.7,10.6 5.6,15s3.7,8.7 5.6,11.2s3.8,1.9 5.7,3.8s3.7,5.9 5.6,7.5s3.7-.3 5.6,1.8s3.7,10 5.6,11.3s3.3-3.8 5.6-3.8s7.2,3.2 8.7,3.8" stroke="#dd08f4" /><path d="M922.2,2093.1c1,.9 3.8,4.3 5.7,5.6s3.7-3.1 5.6,1.9s3.7,19.6 5.6,28.1s3.8,20.3 5.6,22.5s3.8-5.7 5.7-9.4s3.7-10.3 5.6-13.1s3.7-1.9 5.6-3.8s3.8-1.2 5.6-7.5s3.8-16.2 5.7-30s3.7-44.9 5.6-52.4s3.7,.9 5.6,7.5s3.7,30 5.6,31.8s3.8-13.4 5.6-20.6s3.8-18.1 5.7-22.5s3.7-3.4 5.6-3.7s3.7-.6 5.6,1.8s3.8,7.9 5.6,13.2s3.8,11.2 5.7,18.7s3.7,17.2 5.6,26.2s3.7,26.3 5.6,28.2s3.7-9.7 5.6-16.9s3.8-18.1 5.6-26.2s3.8-15.7 5.7-22.5s3.7-13.2 5.6-18.8s3.7-8.1 5.6-15s4.1-19.7 5.6-26.2s2.2-15.6 3.8-13.1s3.7,22.8 5.6,28.1s3.7,4.4 5.6,3.7s3.8-6.8 5.6-7.5s3.8,4.7 5.7,3.8s3.7-9.7 5.6-9.4s3.7,7.5 5.6,11.3s3.8,9.3 5.6,11.2s3.8,.3 5.7,0s3.7-1.6 5.6-1.9s3.7-.3 5.6,0s3.8,2.2 5.6,1.9s3.8-5.3 5.7-3.7s3.7,10.3 5.6,13.1s3.7,1.2 5.6,3.7s3.7,10 5.6,11.3s3.8-4.1 5.6-3.8s3,2.8 5.7,5.6s8.7,9.4 10.5,11.3" stroke="#e8a02a" /><path d="M1195.6,2121.2c.6,.3 2.5,1.3 3.7,1.9s2.5,2 3.7,1.8s2.5-3.1 3.8-2.8s2.4,2.7 3.7,4.7s2.4,5.2 3.7,7.4s2.4,4.9 3.7,5.6s2.4-.7 3.7-1.9s2.5-5.3 3.7-5.6s2.5,2.7 3.7,3.8s2.5,3.3 3.7,2.7s2.5-4.8 3.7-6.5s2.5-1.2 3.7-3.7s2.5-5.2 3.7-11.1s2.5-18.5 3.7-24.1s2.5-9.2 3.7-9.2s2.5,5.5 3.8,9.2s2.4,8.7 3.7,13s2.4,8.9 3.7,13s2.6,10.8 3.7,11.1s1.7-3.7 2.7-9.3s2.5-17.9 3.8-24.1s2.4-10.2 3.7-12.9s2.4-3.8 3.7-3.8s2.4,2.2 3.7,3.8s2.3,3.7 3.7,5.5s3.1,4.3 4.6,5.6s3.1,2 4.7,1.8s3.2-3.4 4.6-2.8s2.5,3.9 3.7,6.5s2.5,8.1 3.7,9.3s2.5-.3 3.7-1.9s2.3-5.4 3.7-7.4s3.1-3.5 4.7-4.6s3-1.4 4.6-1.9s3.2-.4 4.6-.9s2.5-1.5 3.7-1.8s2.7,1.5 3.7,0s1.9-5.6 2.8-9.3s1.9-9.6 2.8-13s1.9-7.1 2.8-7.4s1.8,3.1 2.8,5.6s1.8,6.4 2.7,9.2s1.7,6.8 2.8,7.5s2.5-2.5 3.7-3.8s2.5-3.1 3.7-3.7s2.5,0 3.7,0s2.5,.5 3.8,0s2.4-2 3.7-2.8s2.4-1.5 3.7-1.8s2.4-.6 3.7,0s2.4,2.2 3.7,3.7s2.4,5.1 3.7,5.6s2.5-2 3.7-2.8s2.5-1.1 3.7-1.9s2.5-2.9 3.7-2.8s2.5,2.4 3.7,3.8s2.5,2.9 3.7,4.6s2.5,4.3 3.7,5.5s2.5,2.4 3.7,1.9s2.5-4.9 3.7-4.6s2.5,4.5 3.7,6.5s2.5,4 3.8,5.5s2.4,2.8 3.7,3.7s2.4,1.3 3.7,1.9s2.4,1.1 3.7,1.8s2.5,2.5 3.7,2.8s2.5-.4 3.7-.9s2.3-2 3.7-1.9s3.9,2.4 4.6,2.8" stroke="#000000" /><path d="M1195.6,2113.8c.6-.2 2.5-1.2 3.7-.9s2.4,2 3.7,2.8s3.3,.3 4.7,1.8s2.5,4 3.7,7.4s2.5,10.2 3.7,13s2.5,3.7 3.7,3.7s2.5-2.3 3.7-3.7s2.5-3.7 3.7-4.6s2.5-.8 3.7-1s2.5,0 3.7,0s2.5,.5 3.7,0s2.5,.4 3.7-2.7s2.5-8.8 3.8-15.8s2.6-20.2 3.7-26s1.7-8 2.7-8.3s2.5,3.6 3.8,6.5s2.4,6.5 3.7,11.1s2.4,11.1 3.7,16.7s2.6,15.5 3.7,16.7s1.7-4.6 2.7-9.3s2.5-13.3 3.8-18.5s2.4-9.9 3.7-13s2.4-5.5 3.7-5.5s2.4,3 3.7,5.5s2.5,6.5 3.7,9.3s2.5,5.1 3.7,7.4s2.5,5.7 3.7,6.5s2.5-2.3 3.7-1.9s2.5,3.3 3.7,4.7s2.5,2.1 3.7,3.7s2.5,5.8 3.7,5.5s2.5-4.3 3.7-7.4s2.5-7.7 3.7-11.1s2.4-7 3.8-9.3s3-3.4 4.6-4.6s3.1-1.9 4.6-2.8s3.3-1.5 4.7-2.8s2.6-2.3 3.7-4.6s1.7-5.9 2.7-9.3s2.7-9.6 3.7-11.1s1.9-.3 2.8,1.9s1.9,7.4 2.8,11.1s1.9,8.6 2.8,11.1s1.7,4 2.8,3.7s2.4-4 3.7-5.5s2.5-3.3 3.7-3.8s2.5,1 3.7,1s2.5-.2 3.7-1s2.5-3.2 3.7-3.7s2.5,.5 3.7,1s2.5,1.7 3.7,1.8s2.5-1.1 3.7-.9s2.5,1.8 3.7,1.8s2.5-.9 3.7-1.8s2.5-2.8 3.8-3.7s2.4-1.9 3.7-1.9s2.4,.3 3.7,1.9s2.4,5.2 3.7,7.4s2.4,4 3.7,5.5s2.5,2.5 3.7,3.8s2.5,2.3 3.7,3.7s2.5,3.4 3.7,4.6s2.5,2.5 3.7,2.8s2.5-1.3 3.7-.9s2.5,1.6 3.7,2.7s2.5,2.8 3.7,3.7s2.5,2.2 3.7,1.9s2.5-2.9 3.8-3.7s2.6-1.4 3.7-.9s2.3,3.1 2.7,3.7" stroke="#dd08f4" /><path d="M1195.6,2119.4c.6,.1 2.5,1.4 3.7,.9s2.5-3.3 3.7-3.7s2.5-.2 3.8,.9s2.4,2.8 3.7,5.6s2.4,8.3 3.7,11.1s2.4,4.6 3.7,5.6s2.4,.9 3.7,0s2.5-4.4 3.7-5.6s2.5-1.7 3.7-1.9s2.5,.8 3.7,1s2.3,.1 3.7,0s3.3,2.3 4.6-1s2.5-12 3.8-18.5s2.6-16.1 3.7-20.4s1.7-5.9 2.7-5.6s2.5,4.1 3.8,7.5s2.4,8 3.7,12.9s2.4,11.5 3.7,16.7s2.6,12.1 3.7,14.9s1.7,4.9 2.7,1.8s2.5-14.2 3.8-20.4s2.4-12.3 3.7-16.7s2.4-7.4 3.7-9.2s2.4-2.5 3.7-1.9s2.5,2.8 3.7,5.6s2.5,7.5 3.7,11.1s2.5,8.6 3.7,10.2s2.5-.6 3.7-.9s2.5-1.9 3.7-1s2.5,4.2 3.7,6.5s2.5,7.4 3.7,7.4s2.5-4.3 3.7-7.4s2.5-7.1 3.7-11.1s2.5-9.3 3.8-13s2.3-6.8 3.7-9.2s3.1-4.4 4.6-5.6s3.2-.3 4.6-1.8s2.5-3.8 3.7-7.5s2.5-10.5 3.7-14.8s2.7-9.6 3.7-11.1s1.9,0 2.8,1.8s1.9,6.2 2.8,9.3s1.7,7 2.8,9.3s2.5,3.5 3.7,4.6s2.5,1.2 3.7,1.9s2.5,1.3 3.7,1.8s2.5,1.7 3.7,.9s2.5-4.1 3.7-5.5s2.5-2.6 3.7-2.8s2.5,.9 3.7,1.8s2.5,2.4 3.7,3.8s2.5,4.4 3.8,4.6s2.4-2.5 3.7-3.7s2.4-3.3 3.7-3.7s2.4,.7 3.7,.9s2.5,.3 3.7,0s2.5-1.5 3.7-1.9s2.5,.2 3.7,0s2.5-.7 3.7-.9s2.5-.6 3.7,0s2.5,2.6 3.7,3.7s2.5,2.5 3.7,2.8s2.5-1.2 3.7-.9s2.5,1.8 3.7,2.8s2.5,2.3 3.8,2.8s2.4,0 3.7,0s2.4-.7 3.7,0s2.4,2.4 3.7,3.6s2.8,2.8 3.7,3.8s1.5,1.5 1.8,1.8" stroke="#e8a02a" /></g><g stroke="#000" fill="none"><path d="M100.9,1347.7H354.2M137.1,1255.1V1370.3" stroke-width="3.9" stroke-linecap="round"/><path d="M173.4,1340.2V1355.4M209.7,1340.2V1355.4M246.0,1340.2V1355.4M282.3,1340.2V1355.4M318.6,1340.2V1355.4" stroke-width="2.3"/><path d="M375.0,1347.7H628.3M411.2,1255.1V1370.3" stroke-width="3.9" stroke-linecap="round"/><path d="M447.5,1340.2V1355.4M483.8,1340.2V1355.4M520.1,1340.2V1355.4M556.4,1340.2V1355.4M592.7,1340.2V1355.4" stroke-width="2.3"/><path d="M648.8,1347.7H902.1M685.0,1255.1V1370.3" stroke-width="3.9" stroke-linecap="round"/><path d="M721.3,1340.2V1355.4M757.6,1340.2V1355.4M793.9,1340.2V1355.4M830.2,1340.2V1355.4M866.5,1340.2V1355.4" stroke-width="2.3"/><path d="M922.6,1347.7H1175.9M958.8,1255.1V1370.3" stroke-width="3.9" stroke-linecap="round"/><path d="M995.1,1340.2V1355.4M1031.4,1340.2V1355.4M1067.7,1340.2V1355.4M1104.0,1340.2V1355.4M1140.3,1340.2V1355.4" stroke-width="2.3"/><path d="M1196.8,1347.7H1450.1M1233.0,1255.1V1370.3" stroke-width="3.9" stroke-linecap="round"/><path d="M1269.3,1340.2V1355.4M1305.6,1340.2V1355.4M1341.9,1340.2V1355.4M1378.2,1340.2V1355.4M1414.5,1340.2V1355.4" stroke-width="2.3"/><path d="M100.9,1541.5H354.2M137.1,1448.9V1564.1" stroke-width="3.9" stroke-linecap="round"/><path d="M173.4,1534.0V1549.2M209.7,1534.0V1549.2M246.0,1534.0V1549.2M282.3,1534.0V1549.2M318.6,1534.0V1549.2" stroke-width="2.3"/><path d="M375.0,1541.5H628.3M411.2,1448.9V1564.1" stroke-width="3.9" stroke-linecap="round"/><path d="M447.5,1534.0V1549.2M483.8,1534.0V1549.2M520.1,1534.0V1549.2M556.4,1534.0V1549.2M592.7,1534.0V1549.2" stroke-width="2.3"/><path d="M648.8,1541.5H902.1M685.0,1448.9V1564.1" stroke-width="3.9" stroke-linecap="round"/><path d="M721.3,1534.0V1549.2M757.6,1534.0V1549.2M793.9,1534.0V1549.2M830.2,1534.0V1549.2M866.5,1534.0V1549.2" stroke-width="2.3"/><path d="M922.6,1541.5H1175.9M958.8,1448.9V1564.1" stroke-width="3.9" stroke-linecap="round"/><path d="M995.1,1534.0V1549.2M1031.4,1534.0V1549.2M1067.7,1534.0V1549.2M1104.0,1534.0V1549.2M1140.3,1534.0V1549.2" stroke-width="2.3"/><path d="M1196.8,1541.5H1450.1M1233.0,1448.9V1564.1" stroke-width="3.9" stroke-linecap="round"/><path d="M1269.3,1534.0V1549.2M1305.6,1534.0V1549.2M1341.9,1534.0V1549.2M1378.2,1534.0V1549.2M1414.5,1534.0V1549.2" stroke-width="2.3"/><path d="M100.9,1739.5H354.2M137.1,1646.9V1762.1" stroke-width="3.9" stroke-linecap="round"/><path d="M173.4,1732.0V1747.2M209.7,1732.0V1747.2M246.0,1732.0V1747.2M282.3,1732.0V1747.2M318.6,1732.0V1747.2" stroke-width="2.3"/><path d="M375.0,1739.5H628.3M411.2,1646.9V1762.1" stroke-width="3.9" stroke-linecap="round"/><path d="M447.5,1732.0V1747.2M483.8,1732.0V1747.2M520.1,1732.0V1747.2M556.4,1732.0V1747.2M592.7,1732.0V1747.2" stroke-width="2.3"/><path d="M648.8,1739.5H902.1M685.0,1646.9V1762.1" stroke-width="3.9" stroke-linecap="round"/><path d="M721.3,1732.0V1747.2M757.6,1732.0V1747.2M793.9,1732.0V1747.2M830.2,1732.0V1747.2M866.5,1732.0V1747.2" stroke-width="2.3"/><path d="M922.6,1739.5H1175.9M958.8,1646.9V1762.1" stroke-width="3.9" stroke-linecap="round"/><path d="M995.1,1732.0V1747.2M1031.4,1732.0V1747.2M1067.7,1732.0V1747.2M1104.0,1732.0V1747.2M1140.3,1732.0V1747.2" stroke-width="2.3"/><path d="M1196.8,1739.5H1450.1M1233.0,1646.9V1762.1" stroke-width="3.9" stroke-linecap="round"/><path d="M1269.3,1732.0V1747.2M1305.6,1732.0V1747.2M1341.9,1732.0V1747.2M1378.2,1732.0V1747.2M1414.5,1732.0V1747.2" stroke-width="2.3"/><path d="M100.9,1943.2H354.2M137.1,1850.6V1965.8" stroke-width="3.9" stroke-linecap="round"/><path d="M173.4,1935.7V1950.9M209.7,1935.7V1950.9M246.0,1935.7V1950.9M282.3,1935.7V1950.9M318.6,1935.7V1950.9" stroke-width="2.3"/><path d="M375.0,1943.2H628.3M411.2,1850.6V1965.8" stroke-width="3.9" stroke-linecap="round"/><path d="M447.5,1935.7V1950.9M483.8,1935.7V1950.9M520.1,1935.7V1950.9M556.4,1935.7V1950.9M592.7,1935.7V1950.9" stroke-width="2.3"/><path d="M648.8,1943.2H902.1M685.0,1850.6V1965.8" stroke-width="3.9" stroke-linecap="round"/><path d="M721.3,1935.7V1950.9M757.6,1935.7V1950.9M793.9,1935.7V1950.9M830.2,1935.7V1950.9M866.5,1935.7V1950.9" stroke-width="2.3"/><path d="M922.6,1943.2H1175.9M958.8,1850.6V1965.8" stroke-width="3.9" stroke-linecap="round"/><path d="M995.1,1935.7V1950.9M1031.4,1935.7V1950.9M1067.7,1935.7V1950.9M1104.0,1935.7V1950.9M1140.3,1935.7V1950.9" stroke-width="2.3"/><path d="M1196.8,1943.2H1450.1M1233.0,1850.6V1965.8" stroke-width="3.9" stroke-linecap="round"/><path d="M1269.3,1935.7V1950.9M1305.6,1935.7V1950.9M1341.9,1935.7V1950.9M1378.2,1935.7V1950.9M1414.5,1935.7V1950.9" stroke-width="2.3"/><path d="M100.9,2136.6H354.2M137.1,2044.0V2159.2" stroke-width="3.9" stroke-linecap="round"/><path d="M173.4,2129.1V2144.3M209.7,2129.1V2144.3M246.0,2129.1V2144.3M282.3,2129.1V2144.3M318.6,2129.1V2144.3" stroke-width="2.3"/><path d="M375.0,2136.6H628.3M411.2,2044.0V2159.2" stroke-width="3.9" stroke-linecap="round"/><path d="M447.5,2129.1V2144.3M483.8,2129.1V2144.3M520.1,2129.1V2144.3M556.4,2129.1V2144.3M592.7,2129.1V2144.3" stroke-width="2.3"/><path d="M648.8,2136.6H902.1M685.0,2044.0V2159.2" stroke-width="3.9" stroke-linecap="round"/><path d="M721.3,2129.1V2144.3M757.6,2129.1V2144.3M793.9,2129.1V2144.3M830.2,2129.1V2144.3M866.5,2129.1V2144.3" stroke-width="2.3"/><path d="M922.6,2136.6H1175.9M958.8,2044.0V2159.2" stroke-width="3.9" stroke-linecap="round"/><path d="M995.1,2129.1V2144.3M1031.4,2129.1V2144.3M1067.7,2129.1V2144.3M1104.0,2129.1V2144.3M1140.3,2129.1V2144.3" stroke-width="2.3"/><path d="M1196.8,2136.6H1450.1M1233.0,2044.0V2159.2" stroke-width="3.9" stroke-linecap="round"/><path d="M1269.3,2129.1V2144.3M1305.6,2129.1V2144.3M1341.9,2129.1V2144.3M1378.2,2129.1V2144.3M1414.5,2129.1V2144.3" stroke-width="2.3"/></g><text transform="matrix(0.2171 0 0 0.2317 113.72 1215.00)" font-size="100">AF7</text><text transform="matrix(0.2171 0 0 0.2284 387.82 1215.00)" font-size="100">AF3</text><text transform="matrix(0.2171 0 0 0.2317 662.15 1215.00)" font-size="100">FPz</text><text transform="matrix(0.2171 0 0 0.2317 935.42 1215.00)" font-size="100">AF4</text><text transform="matrix(0.2171 0 0 0.2284 1209.62 1215.00)" font-size="100">AF8</text><text transform="matrix(0.2171 0 0 0.2317 120.71 1408.80)" font-size="100">F7</text><text transform="matrix(0.2171 0 0 0.2284 394.81 1408.80)" font-size="100">F3</text><text transform="matrix(0.2171 0 0 0.2317 669.25 1408.80)" font-size="100">Fz</text><text transform="matrix(0.2171 0 0 0.2317 942.41 1408.80)" font-size="100">F4</text><text transform="matrix(0.2171 0 0 0.2284 1216.61 1408.80)" font-size="100">F8</text><text transform="matrix(0.2171 0 0 0.2317 120.71 1606.80)" font-size="100">T7</text><text transform="matrix(0.2171 0 0 0.2284 393.65 1606.80)" font-size="100">C3</text><text transform="matrix(0.2171 0 0 0.2284 668.08 1606.80)" font-size="100">Cz</text><text transform="matrix(0.2171 0 0 0.2284 941.25 1606.80)" font-size="100">C4</text><text transform="matrix(0.2171 0 0 0.2284 1216.61 1606.80)" font-size="100">T8</text><text transform="matrix(0.2171 0 0 0.2317 120.18 1810.50)" font-size="100">P7</text><text transform="matrix(0.2171 0 0 0.2284 386.02 1810.50)" font-size="100">PO3</text><text transform="matrix(0.2171 0 0 0.2317 668.61 1810.50)" font-size="100">Pz</text><text transform="matrix(0.2171 0 0 0.2284 933.62 1810.50)" font-size="100">PO4</text><text transform="matrix(0.2171 0 0 0.2284 1216.08 1810.50)" font-size="100">P8</text><text transform="matrix(0.2171 0 0 0.2284 120.18 2003.90)" font-size="100">P9</text><text transform="matrix(0.2171 0 0 0.2284 393.12 2003.90)" font-size="100">O1</text><text transform="matrix(0.2171 0 0 0.2284 667.45 2003.90)" font-size="100">Oz</text><text transform="matrix(0.2171 0 0 0.2284 940.72 2003.90)" font-size="100">O2</text><text transform="matrix(0.2171 0 0 0.2284 1210.15 2003.90)" font-size="100">P10</text><text transform="matrix(0.2472 0 0 0.2292 101.32 929.82)" font-size="100">Joke - Coh.</text><text transform="matrix(0.2486 0 0 0.2296 245.14 929.84)" font-size="100">Inc. - Coh.</text><text transform="matrix(0.2277 0 0 0.2192 146.62 1126.56)" font-size="100">250 ms - 500 ms</text><text transform="matrix(0.2320 0 0 0.2226 495.19 929.54)" font-size="100">Joke - Coh.</text><text transform="matrix(0.2496 0 0 0.2227 628.53 929.54)" font-size="100">Inc. - Coh.</text><text transform="matrix(0.2275 0 0 0.2192 535.65 1126.56)" font-size="100">500 ms - 700 ms</text><text transform="matrix(0.2318 0 0 0.2292 862.52 927.58)" font-size="100">Joke - Coh.</text><text transform="matrix(0.2322 0 0 0.2293 1002.51 927.58)" font-size="100">Joke - Inc.</text><text transform="matrix(0.2146 0 0 0.2101 909.35 1127.39)" font-size="100">700 ms - 1000 ms</text><text transform="matrix(0.2182 0 0 0.2038 1326.05 942.52)" font-size="100">Coherent</text><text transform="matrix(0.2131 0 0 0.2041 1326.94 967.32)" font-size="100">Joke</text><text transform="matrix(0.2172 0 0 0.2024 1326.65 993.53)" font-size="100">Incoherent</text><text transform="matrix(0.2183 0 0 0.1995 1285.37 1063.89)" font-size="100">400</text><text transform="matrix(0.2191 0 0 0.1979 1357.70 1063.85)" font-size="100">800</text><text transform="matrix(0.2461 0 0 0.2224 96.36 2235.33)" font-size="100">Joke - Coh.</text><text transform="matrix(0.2486 0 0 0.2229 245.14 2235.37)" font-size="100">Inc. - Coh.</text><text transform="matrix(0.2276 0 0 0.2092 126.52 2442.09)" font-size="100">250 ms - 500 ms</text><text transform="matrix(0.2322 0 0 0.2189 490.24 2235.09)" font-size="100">Joke - Coh.</text><text transform="matrix(0.2496 0 0 0.2187 628.51 2235.07)" font-size="100">Inc. - Coh.</text><text transform="matrix(0.2275 0 0 0.2113 535.67 2447.09)" font-size="100">500 ms - 700 ms</text><text transform="matrix(0.2321 0 0 0.2210 857.37 2233.08)" font-size="100">Joke - Coh.</text><text transform="matrix(0.2337 0 0 0.2213 992.13 2233.10)" font-size="100">Joke - Inc.</text><text transform="matrix(0.2150 0 0 0.2177 904.00 2438.38)" font-size="100">700 ms - 1000 ms</text><text transform="matrix(0.2180 0 0 0.1996 1333.08 2288.55)" font-size="100">Coherent</text><text transform="matrix(0.2131 0 0 0.2041 1333.94 2314.55)" font-size="100">Joke</text><text transform="matrix(0.2163 0 0 0.1983 1333.68 2340.50)" font-size="100">Incoherent</text><text transform="matrix(0.2183 0 0 0.1891 1292.30 2395.61)" font-size="100">400</text><text transform="matrix(0.2199 0 0 0.1887 1364.18 2395.57)" font-size="100">800</text><g stroke="#000" fill="none"><path d="M1193.0,1033.8H1451.2" stroke-width="4.1"/><path d="M1230.9,986.9V1080.4" stroke-width="3.8"/><path d="M1219.4,986.9H1242.9M1219.4,1080.4H1242.9" stroke-width="2.4"/><path d="M1193.9,1026.6V1041.3M1267.5,1026.6V1041.3M1303.6,1026.6V1041.3M1340.0,1026.6V1041.3M1376.1,1026.6V1041.3M1412.7,1026.6V1041.3M1450.3,1026.6V1041.3" stroke-width="2.3"/></g><g stroke="#000" fill="none"><path d="M1199.6,2370.8H1457.8" stroke-width="4.1"/><path d="M1237.9,2275.5V2394.8" stroke-width="3.8"/><path d="M1226.4,2275.5H1249.9M1226.4,2394.8H1249.9" stroke-width="2.4"/><path d="M1200.3,2363.6V2378.3M1273.9,2363.6V2378.3M1310.4,2363.6V2378.3M1346.6,2363.6V2378.3M1383.1,2363.6V2378.3M1419.6,2363.6V2378.3M1456.9,2363.6V2378.3" stroke-width="2.3"/></g><text transform="matrix(0.1630 0 0 0.1571 1186.66 993.07)" font-size="100">3µV</text><text transform="matrix(0.1722 0 0 0.1571 1179.36 1083.68)" font-size="100">–3µV</text><text transform="matrix(0.1612 0 0 0.1471 1193.29 2280.30)" font-size="100">8µV</text><text transform="matrix(0.1678 0 0 0.1514 1187.41 2397.09)" font-size="100">–2µV</text><g fill="none" stroke-width="3.9" stroke-linecap="round"><path d="M1269.5,934.6H1307.3" stroke="#000000"/><path d="M1269.5,960.5H1307.3" stroke="#dd08f4"/><path d="M1269.5,986.3H1307.3" stroke="#e8a02a"/></g><g fill="none" stroke-width="3.9" stroke-linecap="round"><path d="M1276.0,2281.3H1313.8" stroke="#000000"/><path d="M1276.0,2306.9H1313.8" stroke="#dd08f4"/><path d="M1276.0,2332.9H1313.8" stroke="#e8a02a"/></g><rect x="492.00" y="1146.9" width="16.83" height="9.1" fill="#0b0b45"/><rect x="508.53" y="1146.9" width="16.83" height="9.1" fill="#06067e"/><rect x="525.06" y="1146.9" width="16.83" height="9.1" fill="#0000c4"/><rect x="541.59" y="1146.9" width="16.83" height="9.1" fill="#0000fa"/><rect x="558.11" y="1146.9" width="16.83" height="9.1" fill="#4a4af2"/><rect x="574.64" y="1146.9" width="16.83" height="9.1" fill="#8484f2"/><rect x="591.17" y="1146.9" width="16.83" height="9.1" fill="#c4c4f8"/><rect x="642.80" y="1146.9" width="16.81" height="9.1" fill="#f0c2c4"/><rect x="659.31" y="1146.9" width="16.81" height="9.1" fill="#e08486"/><rect x="675.83" y="1146.9" width="16.81" height="9.1" fill="#de4c4e"/><rect x="692.34" y="1146.9" width="16.81" height="9.1" fill="#de0606"/><rect x="708.86" y="1146.9" width="16.81" height="9.1" fill="#a00000"/><rect x="725.37" y="1146.9" width="16.81" height="9.1" fill="#5e0000"/><rect x="741.89" y="1146.9" width="16.81" height="9.1" fill="#3a0a0a"/><rect x="497.40" y="2464.8" width="16.77" height="9.2" fill="#0b0b45"/><rect x="513.87" y="2464.8" width="16.77" height="9.2" fill="#06067e"/><rect x="530.34" y="2464.8" width="16.77" height="9.2" fill="#0000c4"/><rect x="546.81" y="2464.8" width="16.77" height="9.2" fill="#0000fa"/><rect x="563.29" y="2464.8" width="16.77" height="9.2" fill="#4a4af2"/><rect x="579.76" y="2464.8" width="16.77" height="9.2" fill="#8484f2"/><rect x="596.23" y="2464.8" width="16.77" height="9.2" fill="#c4c4f8"/><rect x="648.40" y="2464.8" width="16.71" height="9.2" fill="#f0c2c4"/><rect x="664.81" y="2464.8" width="16.71" height="9.2" fill="#e08486"/><rect x="681.23" y="2464.8" width="16.71" height="9.2" fill="#de4c4e"/><rect x="697.64" y="2464.8" width="16.71" height="9.2" fill="#de0606"/><rect x="714.06" y="2464.8" width="16.71" height="9.2" fill="#a00000"/><rect x="730.47" y="2464.8" width="16.71" height="9.2" fill="#5e0000"/><rect x="746.89" y="2464.8" width="16.71" height="9.2" fill="#3a0a0a"/><text transform="matrix(0.2167 0 0 0.2174 461.01 1174.00)" font-size="100">-1.5 µV</text><text transform="matrix(0.1743 0 0 0.1643 607.02 1174.11)" font-size="100">0 µV</text><text transform="matrix(0.2120 0 0 0.2174 733.41 1174.00)" font-size="100">1.5 µV</text><text transform="matrix(0.2127 0 0 0.2029 466.05 2492.06)" font-size="100">-3 µV</text><text transform="matrix(0.2105 0 0 0.2029 612.63 2492.07)" font-size="100">0 µV</text><text transform="matrix(0.2192 0 0 0.2029 747.81 2492.04)" font-size="100">3 µV</text><clipPath id="cpA1"><ellipse cx="171.75" cy="1024.4" rx="55.0" ry="55.0"/></clipPath><g clip-path="url(#cpA1)"><path d="M113.3,965l117.9,0l0,69.5l-10.9,.2l-3-.8l-3-1.8l-3.5-4.7l-5.1-11.9l-3-5l-3.7-3.9l-5.5-3.5l-10.9-3.4l-21.7-2.3l-10.9-2.2l-4,.2l-3,1.2l-8.1,8l-9.5,6.9l-2,3l-3.1,8.9l-2,1l-5.9,0l0-59.4l.9,0z" fill="#f2c0c4"/><path d="M162.8,1005.6l12.9-.4l6.9,.7l6,1.9l4.8,3.7l2.5,4l1.9,5.9l1.2,9.9l.4,13.9l1.1,3.2l1.9,1.4l2,.3l12.9-.7l3,1.2l1.8,2.5l.3,3l-.8,2l-4.9,4.9l-2.2,4l-1.1,4.9l.3,4l1.6,1.8l2,.6l8.4,.6l1.5-13.2l4,0l0,18.1l-118.8,0l0-25.6l8.9-.2l2.9-1.5l2-2.2l5.9-15.1l7.9-12.8l4.3-11.9l3.3-4.9l2.4-1.9l2.9-1.1l9.9-1z" fill="#c4bcff"/><path d="M113.3,965l117.9,0l0,63l-8-.3l-4.6-2.3l-3.3-3.6l-9.5-14.2l-4.5-4l-5.2-3l-10.5-3.1l-23.8-3.3l-12.8-2.7l-4,.1l-3.9,1.6l-8.9,9.1l-11.6,7.3l-4.3,5.5l-3.9,0l0-50.1l.9,0z" fill="#e47880"/><path d="M172.7,1009.5l7-.2l4.9,1l3.8,2.2l2.4,3l1.9,4.9l.9,8l-.4,7.9l-1.6,6.9l-4,8.9l-9.4,9.9l-7.4,14.2l-3.7,3.6l0,4l-17.7,0l0-4l-9.8-17.8l-2-4.9l-.9-7.9l1.1-7l12.2-22.9l3.7-4.8l6.2-3.1l12.8-1.9zM198.5,1062.6l2-.3l2.3,.7l1.6,1.5l1,2.5l-.5,4.9l-1.4,2l-2.1,1.1l-3.9-.4l-1.8-1.7l-.7-2l.5-5.4l3-2.9z" fill="#8474f6"/><path d="M113.3,965l117.9,0l0,54.4l-5-.1l-4-1.7l-13.4-14l-4.4-3.2l-5.6-2.7l-8.2-2.2l-26.8-4.2l-14.8-3.2l-6,0l-3.9,1.4l-2.5,2.2l-5.4,7.1l-6,4l-6.9,2.1l-5.9,.2l0-40.1l.9,0z" fill="#d81838"/><path d="M176.7,1015.4l5.9,.7l3.4,3.3l1.4,8l-1.2,8.9l-2.6,5.3l-9.9,12.2l-8.5,14.2l-3.4,2.7l-3.9,.4l-2-1.2l-2.4-2.9l-6.1-12.9l-1.4-5.9l.8-6l7.9-17.8l3.2-4.1l5.9-2.8l12.9-2.1z" fill="#4a1aff"/><path d="M113.3,965l117.9,0l0,31.9l-4,0l-4,3.7l-2,.3l-2.9-.9l-8.9-4.9l-5-1.5l-26.7-2.9l-31.7-6.5l-13.8-.9l-1.7,8.4l-1.9,4l-3.4,2.8l-3.9,.6l-2-1.4l-.8-2l-.8-11.9l-1.4-.6l-3.9,0l0-18.2l.9,0zM121.3,974.9l-2.4,4l-.3,2.9l.7,.8l12.1,.2l-.9-4.9l-2.3-2.8l-4-1l-2.9,.8z" fill="#e00010"/><path d="M113.3,965l3,0l0,4l-3.9,0l0-4l.9,0zM131.2,965l96,0l0,4l-2.1,1.9l-12,5l-8.8,7.9l-3.8,2.4l-7,2l-7.9,.4l-16.8-2.6l-24.8-6.8l-3.4-2.3l-4.5-6l-5.6-1.9l0-4l.7,0z" fill="#a80000"/><path d="M151,965l62,0l0,4l-7.6,4.2l-10.9,9.6l-5.7,2l-6.2,.3l-12.8-2.5l-18.8-6.9l-2.6-2.8l.7-2l1.8-1.9l.1-4z" fill="#700000"/><path d="M172.7,965l26.5,0l0,4l-5.7,7l-3.1,2.9l-4.8,1.8l-5.9,0l-8.9-2.8l-5.3-4l-.3-1l.6-1.3l6-2.6l0-4l.9,0z" fill="#3a0000"/></g><ellipse cx="171.75" cy="1024.4" rx="55.0" ry="55.0" fill="none" stroke="#555" stroke-width="0.8"/><path d="M166.2,970.0C166.6,963.4 168.6,960.2 171.8,960.2S176.9,963.4 177.3,970.0" fill="none" stroke="#555" stroke-width="0.8"/><g fill="none" stroke="#555" stroke-width="0.55"><circle cx="171.8" cy="975.1" r="1.45"/><circle cx="156.6" cy="977.7" r="1.45"/><circle cx="186.9" cy="977.7" r="1.45"/><circle cx="143.1" cy="984.8" r="1.45"/><circle cx="200.8" cy="984.8" r="1.45"/><circle cx="156.6" cy="987.2" r="1.45"/><circle cx="171.8" cy="987.7" r="1.45"/><circle cx="186.9" cy="987.2" r="1.45"/><circle cx="131.8" cy="995.5" r="1.45"/><circle cx="211.7" cy="995.5" r="1.45"/><circle cx="141.4" cy="997.6" r="1.45"/><circle cx="202.1" cy="997.6" r="1.45"/><circle cx="151.3" cy="998.9" r="1.45"/><circle cx="192.2" cy="998.9" r="1.45"/><circle cx="161.8" cy="999.6" r="1.45"/><circle cx="181.7" cy="999.6" r="1.45"/><circle cx="171.8" cy="999.6" r="1.45"/><circle cx="124.9" cy="1009.4" r="1.45"/><circle cx="218.6" cy="1009.4" r="1.45"/><circle cx="136.6" cy="1011" r="1.45"/><circle cx="206.9" cy="1011" r="1.45"/><circle cx="148.5" cy="1011.6" r="1.45"/><circle cx="195" cy="1011.6" r="1.45"/><circle cx="160" cy="1012.3" r="1.45"/><circle cx="183.5" cy="1012.3" r="1.45"/><circle cx="171.8" cy="1012.3" r="1.45"/><circle cx="123.2" cy="1024.4" r="1.45"/><circle cx="220.3" cy="1024.4" r="1.45"/><circle cx="134.6" cy="1024.4" r="1.45"/><circle cx="208.9" cy="1024.4" r="1.45"/><circle cx="147.4" cy="1024.4" r="1.45"/><circle cx="196.1" cy="1024.4" r="1.45"/><circle cx="159.4" cy="1024.4" r="1.45"/><circle cx="184.1" cy="1024.4" r="1.45"/><circle cx="171.8" cy="1024.4" r="1.45"/><circle cx="125.3" cy="1039.4" r="1.45"/><circle cx="218.2" cy="1039.4" r="1.45"/><circle cx="136.6" cy="1038.1" r="1.45"/><circle cx="206.9" cy="1038.1" r="1.45"/><circle cx="148.3" cy="1037.4" r="1.45"/><circle cx="195.2" cy="1037.4" r="1.45"/><circle cx="160" cy="1036.5" r="1.45"/><circle cx="183.5" cy="1036.5" r="1.45"/><circle cx="171.8" cy="1036.5" r="1.45"/><circle cx="132.3" cy="1053.2" r="1.45"/><circle cx="211.2" cy="1053.2" r="1.45"/><circle cx="141.4" cy="1050.8" r="1.45"/><circle cx="202.1" cy="1050.8" r="1.45"/><circle cx="151.3" cy="1049.9" r="1.45"/><circle cx="192.2" cy="1049.9" r="1.45"/><circle cx="161.8" cy="1049" r="1.45"/><circle cx="181.7" cy="1049" r="1.45"/><circle cx="171.8" cy="1049" r="1.45"/><circle cx="143.1" cy="1064.1" r="1.45"/><circle cx="200.4" cy="1064.1" r="1.45"/><circle cx="156.6" cy="1061.9" r="1.45"/><circle cx="186.9" cy="1061.9" r="1.45"/><circle cx="171.8" cy="1061" r="1.45"/><circle cx="156.6" cy="1071" r="1.45"/><circle cx="186.9" cy="1071" r="1.45"/><circle cx="171.8" cy="1073.2" r="1.45"/></g><clipPath id="cpA2"><ellipse cx="292.3" cy="1023.9" rx="55.6" ry="55.6"/></clipPath><g clip-path="url(#cpA2)"><path d="M233.3,963.9l119,0l0,120l-120,0l0-120l1,0zM295,994.9l-7.7,.9l-8,2.1l-6,2.6l-5,3.4l-3.7,4l-2.6,4l-8.3,18l-1.1,6l.5,5l8.1,22l4.1,5.8l6,2.9l13,2.6l11,.5l12-1.6l8.8-3.2l4.5-3l4.1-5l9.1-21l1.4-8l-.9-11l-2.2-10l-3.6-6l-5.2-4.3l-8-3.6l-11-2.7l-9.3-.4z" fill="#f2c0c4"/><path d="M293.3,998.9l8,.2l10,2l7,2.4l5.2,3.4l2.8,3.7l1.5,4.3l1.2,19l-1,7l-3.1,9l-3.6,7.7l-4,5.3l-4,3.2l-6,2.8l-8,2l-7,.5l-7-.7l-7.3-1.8l-4.9-2l-3.8-2.9l-3.7-7.1l-4.7-14l-1-6l.9-6l4.8-15l2.3-5l2.2-3l4.2-3.6l5-2.6l7-2l7-.8z" fill="#c4bcff"/><path d="M233.3,963.9l119,0l0,120l-120,0l0-120l1,0zM292,992.9l-7.7,1.5l-8,2.5l-5,2.3l-5.1,3.7l-6.7,8l-8,14l-2.2,5l-.8,9l2.2,8l8.9,20l3.7,4l4.4,2l14.6,2.6l12,.7l13-1.4l11-3.3l5.3-3.6l3.7-4.9l9.9-23.1l1.3-9l-.9-9l-3.2-11l-4.6-7l-7.5-5.4l-11-4.2l-10-1.8l-9.3,.4z" fill="#e47880"/><path d="M290.3,1000.8l6-.2l7,.8l8,1.7l6,2.2l3,1.7l2.9,2.9l1.5,3l.7,4l.4,21l-2,8l-3.9,9l-4.4,6l-5.1,4l-7.1,3l-7,1.3l-7-.1l-6.4-1.2l-5.7-2l-4.6-3l-2.4-3l-1.9-4l-3.8-11l-1.4-6l.5-7l3.6-13l1.7-5l2.3-4l3.1-3.2l4.5-2.8l5.5-2l6-1.1z" fill="#8474f6"/><path d="M233.3,963.9l119,0l0,120l-120,0l0-120l1,0zM295,989.9l-7.7,1.4l-10,2.9l-6,2.6l-5.1,3.1l-7.9,8l-10.6,15l-2.1,4l-1.3,5l-.4,5l.3,6l1.1,4l11.5,22l2.7,3l3.6,2l11.2,2.2l19,1.5l16-1.4l11-2.9l5-2.9l4-4.5l10.5-23l2-9l-.3-10l-3.6-12l-4.6-8l-7-6.1l-11-5.2l-10-2.5l-10.3-.2z" fill="#d81838"/><path d="M288.3,1002.9l11-.2l14,3.2l4,1.9l2.7,2.1l1.8,3l.7,3l.5,22l-1.6,7l-2.9,7l-3.9,6l-4.5,4l-5.8,3.1l-7,1.7l-6,.2l-6-.9l-5.8-2.1l-4.2-2.7l-4.3-6.3l-4.9-15l-.1-5l.8-5l3.4-13l2.2-5l2.9-3.4l3.6-2.6l9.4-3z" fill="#4a1aff"/><path d="M233.3,963.9l119,0l0,87.9l-4,0l0,1.1l0,1.2l4,0l0,29.8l-120,0l0-31.7l4,0l8,4.7l4,4.6l6.7,11.4l2.8,2l3.5,1.2l20,2.3l14,.4l20-1.8l10.8-3.1l3.2-2l3.4-4l6.6-14l4.8-8l1.1-5l.5-12l-.8-9l-3-8l-5.1-9l-6.5-6.5l-8-5l-11-3.8l-10-1.3l-9,.8l-22,7.4l-6,3.5l-6,5.4l-16,19.6l-2.1,5.9l-2.9,20.3l-1,2.6l-4,0l0-87.9l1,0z" fill="#e00010"/><path d="M288.3,1004.7l10-.2l13,3.1l5.7,3.3l1.5,2l1,3l.6,22l-2.8,10.2l-3.3,5.8l-4.7,5l-5.2,3l-6.8,1.9l-5,.3l-5-.7l-5-1.6l-4-2.3l-2.5-2.6l-2.5-4.1l-2.9-6.9l-1.6-6l.4-9l3.1-12.8l2-4.9l2-2.7l3.1-2.6l3.9-1.9l5-1.3z" fill="#3a00f0"/><path d="M233.3,963.9l119,0l0,8.8l-10-1.1l-8,.9l-5.8,2.4l-5.8,6l-2.4,1.2l-25,.3l-25,8.9l-7,3.6l-6,4.8l-10,11l-7.7,7.2l-3.3,6l-4,0l0-60l1,0zM241.3,1066.5l2.3,.4l2.5,3l1.4,4l-.3,3l-6.9,.8l-3-.7l1.3-7.1l2.7-3.4zM342.3,1067.7l2,.7l4,4l4,0l0,11.5l-46.1,0l0-4l25.1-3.4l4.9-2.6l6.1-6.2zM233.3,1078.8l3,0l0,5.1l-4,0l0-5.1l1,0zM252.3,1078.7l14,0l12.1,1.2l0,4l-27.8,0l0-4l1.7-1.2z" fill="#a80000"/><path d="M288.3,1006.7l9-.2l11,2.8l5,2.7l1.7,1.9l1.1,3l1.1,19l-1.9,9.2l-3,5.7l-4,4.5l-4,2.7l-6,2l-5,.5l-5-.6l-4-1.2l-4-2.3l-5.1-6.5l-3.7-10l.4-9l4.3-16l4.3-5l3.7-2l4.1-1.2z" fill="#2c00c8"/><path d="M233.3,963.9l100.7,0l0,4l-11.7,2.5l-13,5.3l-13,.9l-4,.9l-12,6.4l-13,4.5l-6,2.8l-6,4.6l-10,10l-4,2.8l-4,1.4l-5,0l0-46.1l1,0z" fill="#700000"/><path d="M290.3,1008.7l8,.4l8.2,2.8l4,3l1.8,4.3l1.5,15.7l-1.5,8.5l-2.5,4.5l-3.5,3.7l-4,2.3l-4,1.2l-9-.1l-7-2.7l-5-5.6l-2.8-7.8l.3-8l4.3-15l2.1-3l2.6-2l6.5-2.2z" fill="#1c0088"/><path d="M233.3,963.9l17.3,0l0,4l-18.3,0l0-4l1,0zM265.3,963.9l13.1,0l0,4l5.9,.6l.9,1.4l-.3,1l-4,6l-5.6,3.3l-8,1.7l-16.7,1l2.9-14l.8-.9l10.2-.1l0-4l.8,0zM293.3,963.9l12.9,0l0,4l-4.9,.6l-9-.6l0-4l1,0zM233.3,982.2l16,1l.7,.7l-3.3,8l-4.4,5l-3,.6l-3-1.4l-4,0l0-13.9l1,0z" fill="#3a0000"/><path d="M288.3,1012.8l5-.9l5.3,1l5.5,3l3,4l2.3,10l.2,7l-2.1,6l-4.2,3.8l-5,1l-12-1.2l-4-1.8l-3-3.9l-1-3.9l.1-3l3.9-14l2-4.1l4-3z" fill="#0a0040"/></g><ellipse cx="292.3" cy="1023.9" rx="55.6" ry="55.6" fill="none" stroke="#555" stroke-width="0.8"/><path d="M286.7,968.9C287.1,962.3 289.1,959.1 292.3,959.1S297.5,962.3 297.9,968.9" fill="none" stroke="#555" stroke-width="0.8"/><g fill="none" stroke="#555" stroke-width="0.55"><circle cx="292.3" cy="974.1" r="1.45"/><circle cx="277" cy="976.7" r="1.45"/><circle cx="307.6" cy="976.7" r="1.45"/><circle cx="263.3" cy="983.9" r="1.45"/><circle cx="321.7" cy="983.9" r="1.45"/><circle cx="277" cy="986.3" r="1.45"/><circle cx="292.3" cy="986.8" r="1.45"/><circle cx="307.6" cy="986.3" r="1.45"/><circle cx="251.9" cy="994.7" r="1.45"/><circle cx="332.7" cy="994.7" r="1.45"/><circle cx="261.6" cy="996.8" r="1.45"/><circle cx="323" cy="996.8" r="1.45"/><circle cx="271.7" cy="998.2" r="1.45"/><circle cx="312.9" cy="998.2" r="1.45"/><circle cx="282.2" cy="998.8" r="1.45"/><circle cx="302.4" cy="998.8" r="1.45"/><circle cx="292.3" cy="998.8" r="1.45"/><circle cx="244.9" cy="1008.7" r="1.45"/><circle cx="339.7" cy="1008.7" r="1.45"/><circle cx="256.8" cy="1010.3" r="1.45"/><circle cx="327.8" cy="1010.3" r="1.45"/><circle cx="268.8" cy="1010.9" r="1.45"/><circle cx="315.8" cy="1010.9" r="1.45"/><circle cx="280.5" cy="1011.6" r="1.45"/><circle cx="304.1" cy="1011.6" r="1.45"/><circle cx="292.3" cy="1011.6" r="1.45"/><circle cx="243.2" cy="1023.9" r="1.45"/><circle cx="341.4" cy="1023.9" r="1.45"/><circle cx="254.7" cy="1023.9" r="1.45"/><circle cx="329.9" cy="1023.9" r="1.45"/><circle cx="267.7" cy="1023.9" r="1.45"/><circle cx="316.9" cy="1023.9" r="1.45"/><circle cx="279.8" cy="1023.9" r="1.45"/><circle cx="304.8" cy="1023.9" r="1.45"/><circle cx="292.3" cy="1023.9" r="1.45"/><circle cx="245.4" cy="1039" r="1.45"/><circle cx="339.2" cy="1039" r="1.45"/><circle cx="256.8" cy="1037.7" r="1.45"/><circle cx="327.8" cy="1037.7" r="1.45"/><circle cx="268.6" cy="1037" r="1.45"/><circle cx="316" cy="1037" r="1.45"/><circle cx="280.5" cy="1036.2" r="1.45"/><circle cx="304.1" cy="1036.2" r="1.45"/><circle cx="292.3" cy="1036.2" r="1.45"/><circle cx="252.4" cy="1053" r="1.45"/><circle cx="332.2" cy="1053" r="1.45"/><circle cx="261.6" cy="1050.6" r="1.45"/><circle cx="323" cy="1050.6" r="1.45"/><circle cx="271.7" cy="1049.7" r="1.45"/><circle cx="312.9" cy="1049.7" r="1.45"/><circle cx="282.2" cy="1048.8" r="1.45"/><circle cx="302.4" cy="1048.8" r="1.45"/><circle cx="292.3" cy="1048.8" r="1.45"/><circle cx="263.3" cy="1064" r="1.45"/><circle cx="321.3" cy="1064" r="1.45"/><circle cx="277" cy="1061.8" r="1.45"/><circle cx="307.6" cy="1061.8" r="1.45"/><circle cx="292.3" cy="1060.9" r="1.45"/><circle cx="277" cy="1071.1" r="1.45"/><circle cx="307.6" cy="1071.1" r="1.45"/><circle cx="292.3" cy="1073.2" r="1.45"/></g><clipPath id="cpA3"><ellipse cx="557.0" cy="1021.0" rx="57.3" ry="57.3"/></clipPath><g clip-path="url(#cpA3)"><path d="M496.1,959.1l122.8,0l0,53.2l-4.1,0l-4.2,7.9l-2.3,2.9l-2.8,1.2l-3.1-.1l-2.1-1.1l-1.7-2.1l-3.6-10.3l-3.1-4.1l-11.1-8.3l-8.3-4.2l-10.3-2.5l-17.6-1.6l-13.4-6.5l-6.2-1.5l-4.1,0l-4.1,.9l-3.1,1.8l-4.1,4l-3.1,.7l-1.3-1.4l-2.2-6.2l-1.7-2.5l-2.1-1.3l-4.1,0l0-18.9l1,0z" fill="#f2c0c4"/><path d="M526.1,991.9l4.2,.2l8.1,5.8l4.2,1.7l17.5,0l9.3,2l4.1,2.4l3.7,3.6l2.7,4.1l1.5,4.1l.3,4.2l-1.1,4.1l-4,6.6l-4.1,4.7l-5.2,2.5l-13.4,2.4l-5.2,3.4l-1.9,4.1l-2.2,11.7l-2,2.4l-3.1-1l-8.6-5.9l-2.8-2.3l-2-2.8l-.5-3.1l.7-3.1l6.5-8.3l-.2-3.1l-1.4-2.4l-2-2l-3.1-1.2l-10.4,1.5l-4.1-.8l-2.9-3.3l-1.7-5.2l-.6-6.2l1.7-5.1l8.7-6.4l6.2-7.2l3.1-2.1zM604.4,1061.1l5.2-.5l9.3,.7l0,21.6l-33.2,0l.3-5.2l6.5-10.3l5.2-4.1l6.7-2.2z" fill="#c4bcff"/><path d="M496.1,959.1l122.8,0l0,28.6l-5.2,.3l-12.3,9.6l-4.2,.9l-5.1-.7l-20.7-7.3l-26.8-4.2l-13.4-6.5l-12.4-4.2l-11.3-5.8l-4.1-.4l-4.2,.9l-4.1,0l0-11.2l1,0z" fill="#e47880"/><path d="M551.8,1006.5l7.3-.6l5.5,.7l4.5,2l2.8,3.1l1.4,4.1l-.3,5.2l-2.2,5.2l-3.8,4.1l-6.9,2.3l-9.3-.1l-5.1-2.2l-3.6-4.1l-2.9-7.3l0-4.1l1.1-3.1l3.3-3.1l8.2-2.1zM606.5,1070.3l3.1,.1l1.2,2.2l-2.2,1.4l-3.2-.4l-.8-1l.2-1.1l1.7-1.2z" fill="#8474f6"/><path d="M496.1,959.1l122.8,0l0,22.1l-4.1,0l-4.2,1l-13.4,6.7l-6.2,1.5l-5.1-.2l-35.1-5.9l-7.2-2l-17.5-8.5l-12.4-7.8l-13.4-2.6l-5.2-.2l0-4.1l1,0z" fill="#d81838"/><path d="M554.9,1013.6l5.2,.2l2.1,1l1.7,2.1l.3,4.3l-1,2l-2.2,1.9l-3,1l-3.1-.1l-3.1-1.5l-2-2.5l-.5-3.1l.7-2l2-2.1l2.9-1.2z" fill="#4a1aff"/><path d="M523,959.1l95.9,0l0,15l-6.2,.1l-6.2,1.1l-5.1,2l-10.4,5.6l-6.2,1.7l-10.3,.1l-13.4-1.6l-14.4-3.2l-15.9-8.4l-4.2-3.1l-3.7-4.1l-.6-5.2l.7,0z" fill="#e00010"/><path d="M533.3,959.1l66.7,0l0,4.1l-3.6,5.2l-7.5,7.2l-4.1,2.9l-6.1,2.3l-9.3,.5l-15.5-2.5l-9.6-4.2l-7.5-5.2l-3-3.1l-.5-7.2z" fill="#a80000"/><path d="M543.6,959.1l42.1,0l-.2,7.2l-3,6.2l-4.9,3.9l-6.2,1.6l-9.2-.5l-9.3-2.7l-6.5-4.3l-3.7-5.2l0-6.2l.9,0z" fill="#700000"/><path d="M557,959.1l14.3,0l0,4.1l4.7,3.1l.4,2.1l-.8,2.1l-3.1,2.5l-5.2,1.1l-5.7-.5l-5.3-2.1l-2.5-2.1l-1-3.1l1.1-1.4l3.1-1.7l0-4.1z" fill="#3a0000"/></g><ellipse cx="557.0" cy="1021.0" rx="57.3" ry="57.3" fill="none" stroke="#555" stroke-width="0.8"/><path d="M551.4,964.3C551.8,957.7 553.8,954.5 557.0,954.5S562.2,957.7 562.6,964.3" fill="none" stroke="#555" stroke-width="0.8"/><g fill="none" stroke="#555" stroke-width="0.55"><circle cx="557" cy="969.6" r="1.45"/><circle cx="541.2" cy="972.3" r="1.45"/><circle cx="572.8" cy="972.3" r="1.45"/><circle cx="527.1" cy="979.7" r="1.45"/><circle cx="587.3" cy="979.7" r="1.45"/><circle cx="541.2" cy="982.3" r="1.45"/><circle cx="557" cy="982.7" r="1.45"/><circle cx="572.8" cy="982.3" r="1.45"/><circle cx="515.4" cy="990.9" r="1.45"/><circle cx="598.6" cy="990.9" r="1.45"/><circle cx="525.3" cy="993.1" r="1.45"/><circle cx="588.7" cy="993.1" r="1.45"/><circle cx="535.7" cy="994.5" r="1.45"/><circle cx="578.3" cy="994.5" r="1.45"/><circle cx="546.6" cy="995.2" r="1.45"/><circle cx="567.4" cy="995.2" r="1.45"/><circle cx="557" cy="995.2" r="1.45"/><circle cx="508.2" cy="1005.4" r="1.45"/><circle cx="605.8" cy="1005.4" r="1.45"/><circle cx="520.4" cy="1007" r="1.45"/><circle cx="593.6" cy="1007" r="1.45"/><circle cx="532.8" cy="1007.6" r="1.45"/><circle cx="581.2" cy="1007.6" r="1.45"/><circle cx="544.8" cy="1008.4" r="1.45"/><circle cx="569.2" cy="1008.4" r="1.45"/><circle cx="557" cy="1008.4" r="1.45"/><circle cx="506.4" cy="1021" r="1.45"/><circle cx="607.6" cy="1021" r="1.45"/><circle cx="518.3" cy="1021" r="1.45"/><circle cx="595.7" cy="1021" r="1.45"/><circle cx="531.7" cy="1021" r="1.45"/><circle cx="582.3" cy="1021" r="1.45"/><circle cx="544.1" cy="1021" r="1.45"/><circle cx="569.9" cy="1021" r="1.45"/><circle cx="557" cy="1021" r="1.45"/><circle cx="508.6" cy="1036.6" r="1.45"/><circle cx="605.4" cy="1036.6" r="1.45"/><circle cx="520.4" cy="1035.2" r="1.45"/><circle cx="593.6" cy="1035.2" r="1.45"/><circle cx="532.6" cy="1034.5" r="1.45"/><circle cx="581.4" cy="1034.5" r="1.45"/><circle cx="544.8" cy="1033.6" r="1.45"/><circle cx="569.2" cy="1033.6" r="1.45"/><circle cx="557" cy="1033.6" r="1.45"/><circle cx="515.9" cy="1051" r="1.45"/><circle cx="598.1" cy="1051" r="1.45"/><circle cx="525.3" cy="1048.5" r="1.45"/><circle cx="588.7" cy="1048.5" r="1.45"/><circle cx="535.7" cy="1047.6" r="1.45"/><circle cx="578.3" cy="1047.6" r="1.45"/><circle cx="546.6" cy="1046.7" r="1.45"/><circle cx="567.4" cy="1046.7" r="1.45"/><circle cx="557" cy="1046.7" r="1.45"/><circle cx="527.1" cy="1062.3" r="1.45"/><circle cx="586.9" cy="1062.3" r="1.45"/><circle cx="541.2" cy="1060.1" r="1.45"/><circle cx="572.8" cy="1060.1" r="1.45"/><circle cx="557" cy="1059.2" r="1.45"/><circle cx="541.2" cy="1069.6" r="1.45"/><circle cx="572.8" cy="1069.6" r="1.45"/><circle cx="557" cy="1071.9" r="1.45"/></g><clipPath id="cpA4"><ellipse cx="686.1" cy="1021.4" rx="57.3" ry="57.3"/></clipPath><g clip-path="url(#cpA4)"><path d="M625.2,959.5l73.3,0l0,4.1l5.4,4.2l.5,2l-.8,2.1l-3.4,3.1l-23.4,7.7l-8.2,4.5l-4.1,5.3l-8.7,17.6l-1.7,7.2l-1.1,11.3l0,10.3l1.1,6.2l1.9,4.1l2.9,3.1l12.8,7.1l9.2,2.1l16.5,.2l10.4-2.9l10.3-5l5.8-5.6l4.5-8.2l1.5-5.2l.7-12.4l2.6-6.2l3.4-3.4l4.2-2.4l3.1-1l4.1,0l0,73.9l-123.8,0l0-123.8l1,0z" fill="#f2c0c4"/><path d="M715,980.1l5.1,.3l3.6,2.8l7.2,15.5l.8,3.1l-.8,4.1l-4.9,11.4l-2.9,19.6l-4.6,9.3l-3.5,3.7l-5.2,3.1l-7.2,2.6l-6.2,.8l-7.2-.4l-10.3-2.1l-8.3-3.1l-6.2-3.4l-3.1-3.3l-2.1-5.2l-.8-7.2l.3-9.3l.9-7.2l1.6-6.2l7.6-16.5l3.9-3.6l7.2-2.8l8.3-1.7l15.4-1.6l11.4-2.7z" fill="#c4bcff"/><path d="M625.2,959.5l66.2,0l0,4.1l3.4,5.2l-.6,2.1l-4.1,3.1l-19.2,9.2l-4.4,3.3l-3,4l-8.6,15.4l-3,9.3l-1.8,19.6l.4,8.3l1.3,5.1l2.3,4l3.1,2.9l14.5,8.4l7.2,1.6l18.5-.6l10.4-3.2l12.4-5.9l6.1-5.7l5.5-9.7l1.3-5.2l.2-11.3l1.5-4.2l2.6-3.1l3.4-2.1l3.1-1.1l4.1,0l0,70.3l-123.8,0l0-123.8l1,0z" fill="#e47880"/><path d="M686.1,987.3l19.6-.9l8.2,1.2l2.9,1.8l2.3,2.7l4.6,9.7l.5,7.2l-2.8,21.7l-2.3,8.1l-2.8,5.3l-3.4,3.8l-4.1,2.7l-5.2,1.9l-5.1,1l-6.2-.3l-15.5-4.2l-6.6-2.8l-3.7-2.5l-2.3-2.7l-1.8-4.2l-1.1-9.2l.8-11.4l2.1-8.2l4.4-11.3l2.8-4.2l3.4-2.4l4.8-1.7l6.5-1.1z" fill="#8474f6"/><path d="M625.2,959.5l59.5,0l0,4.1l2.3,3.1l-.2,3.1l-3.4,4.2l-4.5,3l-10.3,5.1l-4.2,3.4l-13.2,22.5l-2.9,13.4l-1.1,17.5l1.5,10.3l3.7,6.2l17.2,11.3l5.2,2l19.6-.8l10.3-2.8l16.5-7.1l6.2-4.7l4.9-7.1l3.5-7.3l.7-4.1l-.2-9.3l1.1-4.1l2.3-2.9l3.1-1.9l5.2-.3l0,67l-123.8,0l0-123.8l1,0z" fill="#d81838"/><path d="M695.4,989.4l10.3,.8l3.7,1.3l3.1,2.1l2.5,3l2.7,5.2l2,9.3l-.8,16.5l-1.5,6.2l-2.6,6.2l-2.8,4.1l-3.7,3.1l-4.7,2.1l-5.1,.9l-5.2-.3l-5.1-1.3l-12.4-4.7l-5.2-2.7l-2.5-2.3l-1.9-3.1l-1.7-8.2l.2-8.3l1.4-8.2l3.5-11.4l3-5.1l3.2-2.4l4.1-1.4l15.5-1.4z" fill="#4a1aff"/><path d="M625.2,959.5l50.5,0l0,4.1l4.3,2.1l1.6,2.1l-.5,3.1l-2.6,3.1l-12,6.3l-4.1,3.4l-14.1,24.3l-3.1,14.4l-1.1,16.5l1.4,12.4l1.4,3.6l2.1,2.8l11.3,7.1l8.3,6.2l4.1,1.9l8.2,.2l13.5-1.6l6.1-1.6l23.8-10l6.2-4.4l6.3-9.3l3.1-6.2l.8-4.2l-.7-8.2l.8-4.3l2-2.6l5.2-.4l0,63l-123.8,0l0-123.8l1,0z" fill="#e00010"/><path d="M690.2,992.5l10.3,.3l4.2,1.1l3,1.7l4.9,6.2l3.2,9.3l.6,11.3l-2.5,10.3l-5.1,8.7l-3.1,2.5l-4.1,1.7l-4.2,.4l-4.1-.7l-17.5-6.8l-4.8-3.7l-2.7-6.2l-.5-6.2l.6-7.2l2.3-10.3l2.3-6.2l2.6-3.1l3.3-1.7l11.3-1.4z" fill="#3a00f0"/><path d="M625.2,959.5l17.9,0l.2,5.2l1.5,3.1l3.1,2.8l3.1,1.1l4.2-.6l4.7-4.4l3.9-1l8.9,.6l2.1,.9l1.4,1.6l-.4,2.4l-3,2.8l-10.4,3.6l-2.3,1.5l-6,13.3l-6,8.4l-2.5,5.1l-2.4,9.3l-2.3,14.5l-.5,9.2l.5,21.7l-.2,2.1l-1,.8l-15.5,.9l0-104.9l1,0zM742.8,1050.2l5.2-.1l0,33.2l-61.9,0l0-4.1l5.2-.5l6.1-2.1l10.6-6.7l6.1-3.1l18.6-5.2l2.9-2.2l5.2-7.5l2-1.7zM641.7,1064.6l8.3,.7l7.2,2.6l4.7,4l4.6,7.2l5.3,.1l0,4.1l-14.4,0l0-4.1l-8.4,0l-5.9,0l0,4.1l-14.8,0l0-4.1l12.4-.1l1-14.5z" fill="#a80000"/><path d="M691.3,995.6l8.2,.5l5.5,2.6l4.1,5.2l3.2,9.2l.6,8.3l-2,7.9l-5.2,7.4l-5.2,3l-6.1-.5l-16.6-6.5l-3.6-3l-2.1-5.2l-.3-5.2l.6-6.2l1.8-8.2l1.8-4.1l1.8-2.2l3.1-1.6l10.4-1.4z" fill="#2c00c8"/><path d="M625.2,992.8l3.1,0l0,3.2l-4.1,0l0-3.2l1,0zM641.7,993.4l1.2,.2l-4.2,23.8l-4.2,17.1l-2,4l-4.2-6.4l-4.1,0l0-25l4.1,0l1.2-9.4l.9-.9l11.3-3.4zM718.1,1069.7l8.1,.2l11.5,4.4l10.3-.8l0,9.8l-33.2,0l0-4.1l-3.9-2.1l-.8-2.1l2.5-3.1l5.5-2.2z" fill="#700000"/><path d="M689.2,999.6l6.2-.3l5.1,1.4l3.8,3.2l2.7,5.1l1.6,7.2l-.5,6.2l-3.3,6.2l-4.3,2.9l-6.1-.1l-10.5-3.8l-4-2.5l-2.3-3.7l-.6-8.3l2.3-8.2l3.7-3.6l6.2-1.7z" fill="#1c0088"/><path d="M690.2,1004.7l4.2-.5l3,.7l2.1,1.3l2.2,2.8l1.1,4.1l-.1,4.2l-1.4,3.1l-2.5,2l-3.4,.7l-4.1-.9l-4.2-2.3l-2.2-2.6l-1.1-4.2l.9-4.1l2.4-2.8l3.1-1.5z" fill="#0a0040"/></g><ellipse cx="686.1" cy="1021.4" rx="57.3" ry="57.3" fill="none" stroke="#555" stroke-width="0.8"/><path d="M680.5,964.7C680.9,958.1 682.9,954.9 686.1,954.9S691.3,958.1 691.7,964.7" fill="none" stroke="#555" stroke-width="0.8"/><g fill="none" stroke="#555" stroke-width="0.55"><circle cx="686.1" cy="970" r="1.45"/><circle cx="670.3" cy="972.7" r="1.45"/><circle cx="701.9" cy="972.7" r="1.45"/><circle cx="656.2" cy="980.1" r="1.45"/><circle cx="716.4" cy="980.1" r="1.45"/><circle cx="670.3" cy="982.7" r="1.45"/><circle cx="686.1" cy="983.1" r="1.45"/><circle cx="701.9" cy="982.7" r="1.45"/><circle cx="644.5" cy="991.3" r="1.45"/><circle cx="727.7" cy="991.3" r="1.45"/><circle cx="654.4" cy="993.5" r="1.45"/><circle cx="717.8" cy="993.5" r="1.45"/><circle cx="664.8" cy="994.9" r="1.45"/><circle cx="707.4" cy="994.9" r="1.45"/><circle cx="675.7" cy="995.6" r="1.45"/><circle cx="696.5" cy="995.6" r="1.45"/><circle cx="686.1" cy="995.6" r="1.45"/><circle cx="637.3" cy="1005.8" r="1.45"/><circle cx="734.9" cy="1005.8" r="1.45"/><circle cx="649.5" cy="1007.4" r="1.45"/><circle cx="722.7" cy="1007.4" r="1.45"/><circle cx="661.9" cy="1008" r="1.45"/><circle cx="710.3" cy="1008" r="1.45"/><circle cx="673.9" cy="1008.8" r="1.45"/><circle cx="698.3" cy="1008.8" r="1.45"/><circle cx="686.1" cy="1008.8" r="1.45"/><circle cx="635.5" cy="1021.4" r="1.45"/><circle cx="736.7" cy="1021.4" r="1.45"/><circle cx="647.4" cy="1021.4" r="1.45"/><circle cx="724.8" cy="1021.4" r="1.45"/><circle cx="660.8" cy="1021.4" r="1.45"/><circle cx="711.4" cy="1021.4" r="1.45"/><circle cx="673.2" cy="1021.4" r="1.45"/><circle cx="699" cy="1021.4" r="1.45"/><circle cx="686.1" cy="1021.4" r="1.45"/><circle cx="637.7" cy="1037" r="1.45"/><circle cx="734.5" cy="1037" r="1.45"/><circle cx="649.5" cy="1035.6" r="1.45"/><circle cx="722.7" cy="1035.6" r="1.45"/><circle cx="661.7" cy="1034.9" r="1.45"/><circle cx="710.5" cy="1034.9" r="1.45"/><circle cx="673.9" cy="1034" r="1.45"/><circle cx="698.3" cy="1034" r="1.45"/><circle cx="686.1" cy="1034" r="1.45"/><circle cx="645" cy="1051.4" r="1.45"/><circle cx="727.2" cy="1051.4" r="1.45"/><circle cx="654.4" cy="1048.9" r="1.45"/><circle cx="717.8" cy="1048.9" r="1.45"/><circle cx="664.8" cy="1048" r="1.45"/><circle cx="707.4" cy="1048" r="1.45"/><circle cx="675.7" cy="1047.1" r="1.45"/><circle cx="696.5" cy="1047.1" r="1.45"/><circle cx="686.1" cy="1047.1" r="1.45"/><circle cx="656.2" cy="1062.7" r="1.45"/><circle cx="716" cy="1062.7" r="1.45"/><circle cx="670.3" cy="1060.5" r="1.45"/><circle cx="701.9" cy="1060.5" r="1.45"/><circle cx="686.1" cy="1059.6" r="1.45"/><circle cx="670.3" cy="1070" r="1.45"/><circle cx="701.9" cy="1070" r="1.45"/><circle cx="686.1" cy="1072.3" r="1.45"/></g><clipPath id="cpA5"><ellipse cx="924.4" cy="1026.0" rx="54.3" ry="54.3"/></clipPath><g clip-path="url(#cpA5)"><path d="M866.7,967.4l116.3,0l0,54.1l-18.5-1.6l-14.2-5.6l-8.3-1.9l-11.7-.9l-14.7,.3l-8.9,1.5l-12.6,4.3l-14.7,3.4l-5.8,3.8l-3.9,6.9l-3.9,0l0-64.3l.9,0z" fill="#f2c0c4"/><path d="M923.4,1016.2l10.8,.1l4.9,1l4.3,1.9l4.8,3.9l10.4,13.3l4.6,3.3l8.1,.8l4.4-.8l3.4-1.8l3.9,0l0,46.7l-117.2,0l0-35l4.8-.5l5.9-6l2.9-1.9l3-.7l8.8,0l4.9-1.5l2.9-2.4l13.7-15.8l4.9-3l5.8-1.6z" fill="#c4bcff"/><path d="M866.7,967.4l116.3,0l0,48.2l-12.7-.9l-15.6-3.8l-7.8-1.1l-40.1-1.4l-12.7,1.6l-9.8,2.2l-8.8,3.9l-5.8,5.3l-3.9,0l0-54l.9,0z" fill="#e47880"/><path d="M922.4,1018.9l5.9-.7l5.9,.5l4.9,1.6l4.1,2.8l3,3.9l3.6,7.8l1.8,4.9l1.1,7.2l1,1.5l14.7-3.2l14.6,0l0,39.4l-117.2,0l0-27.6l5.8-.5l11.7-7.5l10.8-3.1l3.9-1.7l2.9-2.7l13.7-17.8l3.9-3.1l3.9-1.7z" fill="#8474f6"/><path d="M866.7,967.4l116.3,0l0,41.1l-10.7,.1l-23.5-2.1l-24.4,.1l-14.7-2.1l-6.8-.2l-21.5,1.9l-5.9,2l-5.8,4.2l-3.9,0l0-45l.9,0z" fill="#d81838"/><path d="M925.4,1021l4.9-.2l4.9,1l3.9,2.1l2.6,3.1l1.5,3.9l.5,3.9l-.7,11.7l.4,6.9l1.5,4.5l3,2.8l3.9,.8l3.9-.9l2.9-2.2l4.9-6.2l2.6-1.8l3.3-1l5.7,.1l2.1,1.2l1.9,2.5l3.9,0l0,31.4l-117.2,0l0-17.9l4.8-.1l4.9-1.5l3.9-2.5l9.5-8.3l13.6-5.8l2.4-2.7l5-10l7.1-9.8l3.5-3.1l4.9-1.9zM972.2,1072.9l-.8,1l.5,1l1.9,0l.4-1.5l-2-.5z" fill="#4a1aff"/><path d="M866.7,967.4l116.3,0l0,31.5l-4.8,.1l-8.8,2.4l-6.9,.9l-34.2,1.6l-6.8-.5l-15.7-3.3l-29.3-1.8l-10.7,.6l0-31.5l.9,0z" fill="#e00010"/><path d="M926.4,1024l5.8,.3l3.9,2.4l1.6,4.2l-1,3.9l-2.5,3.2l-4.9,3l-7.8,1.4l-3.9-.4l-1.5-1.3l-.3-2l2.7-7.8l3.6-4.9l4.3-2zM902.9,1059.2l6.8,1.1l6.9,3.3l3.9,3.7l6.8,10.2l3,1.5l7.7,1.7l0,3.9l-54.3,0l0-3.9l4.8-5.8l5.6-11.6l3.8-3.1l5-1zM949.8,1071.7l2.9,0l2,1.2l.6,2l-.8,1.9l-3.7,1.5l-3.9-.7l-.7-1.8l.7-1.8l2.9-2.3z" fill="#3a00f0"/><path d="M866.7,967.4l116.3,0l0,22.7l-7.8,.4l-12.7,5.8l-7.8,2.1l-24.4,2.4l-7.9-.5l-12.7-3.9l-13.7-2.7l-17.5-4.7l-8.8-3.7l-3.9,0l0-17.9l.9,0z" fill="#a80000"/><path d="M908.8,1071.9l2.9,1l1,1.7l-.4,2.2l-1.6,1l-2.9-.4l-1.5-1.6l.5-2.9l2-1z" fill="#2c00c8"/><path d="M866.7,967.4l116.3,0l0,10.5l-5.8,0l-4.9,1.6l-12.4,10.3l-7.2,3.6l-20.5,3.3l-6.8,.2l-5-1.2l-17.1-6.8l-12.1-7.2l-13.7-4.8l-7.8-5.6l-3.9,0l0-3.9l.9,0z" fill="#700000"/><path d="M898,967.4l53.6,0l0,3.9l3.2,3.9l.4,3.9l-2.5,5l-5.6,3.8l-14.9,3.1l-7.8-.1l-12.3-5l-5.8-3.9l-9.1-10.7l0-3.9l.8,0z" fill="#3a0000"/></g><ellipse cx="924.4" cy="1026.0" rx="54.3" ry="54.3" fill="none" stroke="#555" stroke-width="0.8"/><path d="M918.8,972.3C919.2,965.7 921.2,962.5 924.4,962.5S929.6,965.7 930.0,972.3" fill="none" stroke="#555" stroke-width="0.8"/><g fill="none" stroke="#555" stroke-width="0.55"><circle cx="924.4" cy="977.3" r="1.45"/><circle cx="909.4" cy="979.9" r="1.45"/><circle cx="939.4" cy="979.9" r="1.45"/><circle cx="896.1" cy="986.9" r="1.45"/><circle cx="953.1" cy="986.9" r="1.45"/><circle cx="909.4" cy="989.3" r="1.45"/><circle cx="924.4" cy="989.7" r="1.45"/><circle cx="939.4" cy="989.3" r="1.45"/><circle cx="885" cy="997.4" r="1.45"/><circle cx="963.8" cy="997.4" r="1.45"/><circle cx="894.4" cy="999.6" r="1.45"/><circle cx="954.4" cy="999.6" r="1.45"/><circle cx="904.2" cy="1000.9" r="1.45"/><circle cx="944.6" cy="1000.9" r="1.45"/><circle cx="914.6" cy="1001.5" r="1.45"/><circle cx="934.2" cy="1001.5" r="1.45"/><circle cx="924.4" cy="1001.5" r="1.45"/><circle cx="878.1" cy="1011.2" r="1.45"/><circle cx="970.7" cy="1011.2" r="1.45"/><circle cx="889.7" cy="1012.7" r="1.45"/><circle cx="959.1" cy="1012.7" r="1.45"/><circle cx="901.5" cy="1013.3" r="1.45"/><circle cx="947.3" cy="1013.3" r="1.45"/><circle cx="912.8" cy="1014" r="1.45"/><circle cx="936" cy="1014" r="1.45"/><circle cx="924.4" cy="1014" r="1.45"/><circle cx="876.4" cy="1026" r="1.45"/><circle cx="972.4" cy="1026" r="1.45"/><circle cx="887.7" cy="1026" r="1.45"/><circle cx="961.1" cy="1026" r="1.45"/><circle cx="900.4" cy="1026" r="1.45"/><circle cx="948.4" cy="1026" r="1.45"/><circle cx="912.2" cy="1026" r="1.45"/><circle cx="936.6" cy="1026" r="1.45"/><circle cx="924.4" cy="1026" r="1.45"/><circle cx="878.6" cy="1040.8" r="1.45"/><circle cx="970.2" cy="1040.8" r="1.45"/><circle cx="889.7" cy="1039.5" r="1.45"/><circle cx="959.1" cy="1039.5" r="1.45"/><circle cx="901.2" cy="1038.8" r="1.45"/><circle cx="947.6" cy="1038.8" r="1.45"/><circle cx="912.8" cy="1038" r="1.45"/><circle cx="936" cy="1038" r="1.45"/><circle cx="924.4" cy="1038" r="1.45"/><circle cx="885.4" cy="1054.5" r="1.45"/><circle cx="963.4" cy="1054.5" r="1.45"/><circle cx="894.4" cy="1052" r="1.45"/><circle cx="954.4" cy="1052" r="1.45"/><circle cx="904.2" cy="1051.2" r="1.45"/><circle cx="944.6" cy="1051.2" r="1.45"/><circle cx="914.6" cy="1050.3" r="1.45"/><circle cx="934.2" cy="1050.3" r="1.45"/><circle cx="924.4" cy="1050.3" r="1.45"/><circle cx="896.1" cy="1065.2" r="1.45"/><circle cx="952.7" cy="1065.2" r="1.45"/><circle cx="909.4" cy="1063" r="1.45"/><circle cx="939.4" cy="1063" r="1.45"/><circle cx="924.4" cy="1062.2" r="1.45"/><circle cx="909.4" cy="1072.1" r="1.45"/><circle cx="939.4" cy="1072.1" r="1.45"/><circle cx="924.4" cy="1074.2" r="1.45"/></g><clipPath id="cpA6"><ellipse cx="1050.5" cy="1025.3" rx="54.5" ry="54.5"/></clipPath><g clip-path="url(#cpA6)"><path d="M1038.7,966.4l70.7,0l0,56.6l-7.9,.1l-5.8,2.2l-2.7,2.9l-3,7.9l-2,2.9l-8.1,7l-3.9,1.2l-2-.7l-1.9-2l-6.4-13.3l-4.4-4.6l-6.9-2.6l-15.9-2.6l-3.7-1.8l-1.1-2.1l.1-2l3.9-10.4l1.8-11.2l.2-10.8l-1.2-12.7l.2-4z" fill="#f2c0c4"/><path d="M992.6,966.4l37.7,0l0,4l2.4,6.8l1.1,5.9l0,10.8l-1.1,4.9l-1.8,3.7l-7.9,8.2l-2.1,3.8l-.6,5.9l1.3,8.8l1.4,2.7l2,1l11.8-2.7l5.9-.5l6.8,.7l4.9,2.2l3,3.4l1.7,4l3.8,19.6l1.5,3l1.8,.8l2-.2l15.7-5.3l5.8-3.1l14.8-9.9l4.9-.4l0,39.7l-117.8,0l0-117.8l1,0z" fill="#c4bcff"/><path d="M1041.7,966.4l67.7,0l0,53l-7.9-.1l-5.9,1.2l-5.8,2.8l-6.9,5.2l-4.9,1.5l-4-1l-9.8-6.3l-13.8-4.3l-4.8-2.5l-2-2.4l-1.1-4.9l.1-23.5l-.9-18.7z" fill="#e47880"/><path d="M992.6,966.4l30.6,0l.5,4.9l3.8,4.9l2,4l1.6,8.8l-1.2,8.5l-2.9,4.8l-8.1,7.3l-2.1,4.9l.3,18l1,4l1.9,2.5l2.1,1.1l2.9-.1l8.8-5.3l5.9-1.8l6.9,.1l5.2,2.1l3.2,3.9l2.1,6.9l.7,6.9l-.7,10.8l.4,3.9l1.8,2.9l3,1.4l3.9-.7l9.8-6.2l14.4-5.3l11.1-6l3-.9l4.9-.1l0,31.6l-117.8,0l0-117.8l1,0z" fill="#8474f6"/><path d="M1044.6,966.4l64.8,0l0,49.5l-7.9,0l-5.9,.9l-13.7,5.1l-3.9,.8l-4-.7l-15.4-5.5l-6.1-3.1l-3.5-3.8l-2.2-6.9l-2.5-32.3l.3-4z" fill="#d81838"/><path d="M992.6,966.4l17,0l0,4l-.9,.9l-11.5,2l-1.6,11.1l-4,0l0-18l1,0zM1014.2,977.9l4.9-.1l4.9,2.8l2.8,4.5l.9,4.9l-.2,3.9l-1.5,4l-3,3.3l-7.7,5.5l-2.3,4.9l-.1,24.5l1,3.9l1.9,3l4.3,2.8l4.9,.8l3.9-1.6l5.5-6l3.3-2l6.2-.9l5.6,2l3,4.1l1.1,6.6l-.5,5.9l-2.4,9.8l0,4.9l1.1,3l1.6,1.8l4.9,2.3l5,.4l3.9-.8l9.8-7.2l5.9-2.4l20.6-4l5.9-.2l0,21.9l-117.8,0l0-86.2l4,0l1.4,1.8l1.5,.2l5-2.2l2.9-4.1l4.9-13l2.9-2.8z" fill="#4a1aff"/><path d="M1047.6,966.4l61.8,0l0,45.3l-9.8,.5l-17.7,4.2l-4.9,.5l-11.8-2.5l-7.8-3.7l-4.3-5l-2.6-7.7l-3.2-26.7l.3-4.9z" fill="#e00010"/><path d="M1018.1,989l2-.5l1,.5l1.2,2.9l-1.2,3.4l-3,1.5l-1.9-.9l-.5-2l.8-2.9l1.6-2zM1003.4,1009.6l2,.7l1,1.3l1.6,5.9l.6,7.8l-.9,12.8l1.1,5.8l3.4,4.9l7.3,5.9l1.1,2l0,2l-2.5,3.1l-9.8,5.1l-3.1,2.5l-1.6,3l-1.2,5.9l-1,1.4l-5.8,.5l0,4l-4,0l0-18l4,0l.9-.7l1.5-2.9l.7-3.9l-1.4-20.6l1.1-21.6l1.6-4.9l1.4-1.5l2-.5zM1041.7,1041.9l2.9,.1l2.1,1.9l.4,3l-1.5,2.3l-2.9-.2l-2.5-2.1l-.4-3l1.9-2zM1082.9,1072.2l5.9,.2l4.5,2.9l1.2,3l-.8,1.1l-2.3,.8l0,4l-13.6,0l0-4l-1.5-.9l.1-2l2.5-3.2l4-1.9zM1010.3,1080.2l12.9,0l0,4l-13.6,0l0-4l.7,0zM1037.7,1080l5-.5l7.8,.7l0,4l-13.6,0l0-4l.8-.2zM1105.4,1080.2l4,0l0,4l-4,0l0-4z" fill="#3a00f0"/><path d="M1051.5,966.4l57.9,0l0,31.7l-4.9,.5l-3.7,5.1l-2.2,2.1l-4.9,2.5l-6.9,2l-11.8,1.3l-5.9-.8l-4.9-1.9l-3.1-2.2l-2.5-3l-3.9-8.8l-1.8-7.9l-2.3-15.7l-.1-4.9l1,0z" fill="#a80000"/><path d="M1055.4,966.4l54,0l0,22.5l-4.9,.1l-4,1.7l-3.4,3.2l-5.4,7.2l-5.5,3.6l-8.2,1.7l-7.9-1.3l-2.9-1.6l-3-2.9l-5.1-9.6l-3.4-13.8l-.8-6.8l0-4l.5,0z" fill="#700000"/><path d="M1064.2,966.4l13.6,0l0,4l2.1,.7l2.2-.7l0-4l9.2,0l0,4l5.8,4.9l.4,1.9l-4.8,5.1l-5.9,12.3l-3.9,3.9l-4,1.3l-4.9-.7l-3.2-2.2l-2.9-4l-3.5-7.8l-1.6-5.9l-.1-4.9l1.4-3.9l.1-4z" fill="#3a0000"/></g><ellipse cx="1050.5" cy="1025.3" rx="54.5" ry="54.5" fill="none" stroke="#555" stroke-width="0.8"/><path d="M1044.9,971.4C1045.3,964.8 1047.3,961.6 1050.5,961.6S1055.7,964.8 1056.1,971.4" fill="none" stroke="#555" stroke-width="0.8"/><g fill="none" stroke="#555" stroke-width="0.55"><circle cx="1050.5" cy="976.4" r="1.45"/><circle cx="1035.5" cy="979" r="1.45"/><circle cx="1065.5" cy="979" r="1.45"/><circle cx="1022.1" cy="986.1" r="1.45"/><circle cx="1079.3" cy="986.1" r="1.45"/><circle cx="1035.5" cy="988.5" r="1.45"/><circle cx="1050.5" cy="988.9" r="1.45"/><circle cx="1065.5" cy="988.5" r="1.45"/><circle cx="1010.9" cy="996.6" r="1.45"/><circle cx="1090.1" cy="996.6" r="1.45"/><circle cx="1020.4" cy="998.8" r="1.45"/><circle cx="1080.6" cy="998.8" r="1.45"/><circle cx="1030.3" cy="1000.1" r="1.45"/><circle cx="1070.7" cy="1000.1" r="1.45"/><circle cx="1040.6" cy="1000.7" r="1.45"/><circle cx="1060.4" cy="1000.7" r="1.45"/><circle cx="1050.5" cy="1000.7" r="1.45"/><circle cx="1004.1" cy="1010.4" r="1.45"/><circle cx="1096.9" cy="1010.4" r="1.45"/><circle cx="1015.7" cy="1012" r="1.45"/><circle cx="1085.3" cy="1012" r="1.45"/><circle cx="1027.5" cy="1012.6" r="1.45"/><circle cx="1073.5" cy="1012.6" r="1.45"/><circle cx="1038.9" cy="1013.3" r="1.45"/><circle cx="1062.1" cy="1013.3" r="1.45"/><circle cx="1050.5" cy="1013.3" r="1.45"/><circle cx="1002.3" cy="1025.3" r="1.45"/><circle cx="1098.7" cy="1025.3" r="1.45"/><circle cx="1013.7" cy="1025.3" r="1.45"/><circle cx="1087.3" cy="1025.3" r="1.45"/><circle cx="1026.4" cy="1025.3" r="1.45"/><circle cx="1074.6" cy="1025.3" r="1.45"/><circle cx="1038.3" cy="1025.3" r="1.45"/><circle cx="1062.7" cy="1025.3" r="1.45"/><circle cx="1050.5" cy="1025.3" r="1.45"/><circle cx="1004.5" cy="1040.1" r="1.45"/><circle cx="1096.5" cy="1040.1" r="1.45"/><circle cx="1015.7" cy="1038.8" r="1.45"/><circle cx="1085.3" cy="1038.8" r="1.45"/><circle cx="1027.3" cy="1038.2" r="1.45"/><circle cx="1073.7" cy="1038.2" r="1.45"/><circle cx="1038.9" cy="1037.3" r="1.45"/><circle cx="1062.1" cy="1037.3" r="1.45"/><circle cx="1050.5" cy="1037.3" r="1.45"/><circle cx="1011.4" cy="1053.9" r="1.45"/><circle cx="1089.6" cy="1053.9" r="1.45"/><circle cx="1020.4" cy="1051.4" r="1.45"/><circle cx="1080.6" cy="1051.4" r="1.45"/><circle cx="1030.3" cy="1050.6" r="1.45"/><circle cx="1070.7" cy="1050.6" r="1.45"/><circle cx="1040.6" cy="1049.7" r="1.45"/><circle cx="1060.4" cy="1049.7" r="1.45"/><circle cx="1050.5" cy="1049.7" r="1.45"/><circle cx="1022.1" cy="1064.6" r="1.45"/><circle cx="1078.9" cy="1064.6" r="1.45"/><circle cx="1035.5" cy="1062.4" r="1.45"/><circle cx="1065.5" cy="1062.4" r="1.45"/><circle cx="1050.5" cy="1061.6" r="1.45"/><circle cx="1035.5" cy="1071.5" r="1.45"/><circle cx="1065.5" cy="1071.5" r="1.45"/><circle cx="1050.5" cy="1073.7" r="1.45"/></g><clipPath id="cpB1"><ellipse cx="169.6" cy="2332.6" rx="55.0" ry="58.8"/></clipPath><g clip-path="url(#cpB1)"><path d="M159.7,2283.8l4-.2l14.8,1.2l5.9,1.5l25,13.5l4.4,4.2l5.3,7.8l3,2.4l2.9,1.2l4,0l0,80.7l-118.8,0l0-78.2l6.9,0l7.9-3.4l5-4.5l8.7-11.3l11.9-6.3l6.1-6.8l3-1.8z" fill="#c4bcff"/><path d="M167.6,2298.7l7-.8l8.9,.5l8.9,1.5l6.9,2.6l5.5,4.7l6.4,11.1l9.3,7.9l4.5,6.4l4,0l0,63.5l-118.8,0l0-60.9l4,0l1-1l4.9-8l10.9-10.1l7.9-10.1l3-2.7l4.9-1.8l10.9-.6l9.9-2.2z" fill="#8474f6"/><path d="M165.6,2306l8-.7l8.9,.3l6.9,1.2l5,2.3l3.5,3.4l6.9,10.6l8.9,9.5l3.9,9.5l1.5,2l4.9,3l5,.2l0,48.8l-118.8,0l0-48.8l4,0l2.9-2l8.7-14.8l17.1-20.7l4.9-2.2l17.8-1.6z" fill="#4a1aff"/><path d="M161.7,2311.4l11.9-.9l7.9,.4l5.6,1.6l4.3,3.1l3.9,6.4l4.3,11.7l-2.8,15.8l-.1,11.7l1.6,1.2l12.9-.4l6.1,1.3l2.8,2l1.6,2.2l1.6,4.3l.2,3.1l-25.2,3l-1-.8l-.7-2.2l-1.3-10.4l-1.9-.5l-3,.4l-4,1.1l-3.2,2l-1.3,2.1l-.3,3.2l1.3,3.2l2.5,2.8l7.9,3.5l.9,1.1l.5,5.3l-1.3,1.2l-10,2l0,4.2l-50.8,0l0-4.2l-2.6-1.7l-.5-1.5l-1.6-21.2l.6-6.3l4.6-24.4l8.6-15.8l4.1-5.3l5-2.7l10.9-1.6zM111.2,2376.7l3.2,.4l3.7,11.8l10.3,3l0,4.2l-18.2,0l0-19.4l1,0zM225,2377l4,.1l-4-.1zM197.3,2391.7l13.5,.2l0,4.2l-13.7,0l.2-4.4zM225,2391.9l4,0l0,4.2l-4,0l0-4.2z" fill="#3a00f0"/><path d="M162.7,2316.7l14.8-.4l4,.8l3.1,1.7l2.4,3.2l1.3,4.2l.3,14.9l-1.2,5.3l-3,4.6l-3.9,2.5l-8.9,3.5l-4,3.2l-2.2,5.2l-.9,12.7l-1.3,5.3l-3.5,4.4l-2,.9l-2.9,.2l-6-3l-4.2-5.7l-1.6-6.3l.3-9.5l3-26.5l3-13.8l1.9-3.1l2.6-2.2l3.9-1.4l5-.7z" fill="#2c00c8"/></g><ellipse cx="169.6" cy="2332.6" rx="55.0" ry="58.8" fill="none" stroke="#555" stroke-width="0.8"/><path d="M164.0,2274.4C164.4,2267.8 166.4,2264.6 169.6,2264.6S174.8,2267.8 175.2,2274.4" fill="none" stroke="#555" stroke-width="0.8"/><g fill="none" stroke="#000" stroke-width="0.95"><circle cx="169.6" cy="2279.9" r="1.5"/><circle cx="154.4" cy="2282.7" r="1.5"/><circle cx="184.8" cy="2282.7" r="1.5"/><circle cx="140.9" cy="2290.3" r="1.5"/><circle cx="198.7" cy="2290.3" r="1.5"/><circle cx="154.4" cy="2292.9" r="1.5"/><circle cx="169.6" cy="2293.3" r="1.5"/><circle cx="184.8" cy="2292.9" r="1.5"/><circle cx="129.7" cy="2301.7" r="1.5"/><circle cx="209.5" cy="2301.7" r="1.5"/><circle cx="139.2" cy="2304" r="1.5"/><circle cx="200" cy="2304" r="1.5"/><circle cx="149.2" cy="2305.4" r="1.5"/><circle cx="190" cy="2305.4" r="1.5"/><circle cx="159.6" cy="2306.1" r="1.5"/><circle cx="179.6" cy="2306.1" r="1.5"/><circle cx="169.6" cy="2306.1" r="1.5"/><circle cx="122.7" cy="2316.6" r="1.5"/><circle cx="216.5" cy="2316.6" r="1.5"/><circle cx="134.4" cy="2318.2" r="1.5"/><circle cx="204.8" cy="2318.2" r="1.5"/><circle cx="146.4" cy="2318.9" r="1.5"/><circle cx="192.8" cy="2318.9" r="1.5"/><circle cx="157.9" cy="2319.6" r="1.5"/><circle cx="181.3" cy="2319.6" r="1.5"/><circle cx="169.6" cy="2319.6" r="1.5"/><circle cx="121" cy="2332.6" r="1.5"/><circle cx="218.2" cy="2332.6" r="1.5"/><circle cx="132.4" cy="2332.6" r="1.5"/><circle cx="206.8" cy="2332.6" r="1.5"/><circle cx="145.3" cy="2332.6" r="1.5"/><circle cx="193.9" cy="2332.6" r="1.5"/><circle cx="157.2" cy="2332.6" r="1.5"/><circle cx="182" cy="2332.6" r="1.5"/><circle cx="169.6" cy="2332.6" r="1.5"/><circle cx="123.2" cy="2348.6" r="1.5"/><circle cx="216" cy="2348.6" r="1.5"/><circle cx="134.4" cy="2347.2" r="1.5"/><circle cx="204.8" cy="2347.2" r="1.5"/><circle cx="146.1" cy="2346.5" r="1.5"/><circle cx="193.1" cy="2346.5" r="1.5"/><circle cx="157.9" cy="2345.6" r="1.5"/><circle cx="181.3" cy="2345.6" r="1.5"/><circle cx="169.6" cy="2345.6" r="1.5"/><circle cx="130.1" cy="2363.4" r="1.5"/><circle cx="209.1" cy="2363.4" r="1.5"/><circle cx="139.2" cy="2360.8" r="1.5"/><circle cx="200" cy="2360.8" r="1.5"/><circle cx="149.2" cy="2359.9" r="1.5"/><circle cx="190" cy="2359.9" r="1.5"/><circle cx="159.6" cy="2359" r="1.5"/><circle cx="179.6" cy="2359" r="1.5"/><circle cx="169.6" cy="2359" r="1.5"/><circle cx="140.9" cy="2375" r="1.5"/><circle cx="198.3" cy="2375" r="1.5"/><circle cx="154.4" cy="2372.7" r="1.5"/><circle cx="184.8" cy="2372.7" r="1.5"/><circle cx="169.6" cy="2371.8" r="1.5"/><circle cx="154.4" cy="2382.5" r="1.5"/><circle cx="184.8" cy="2382.5" r="1.5"/><circle cx="169.6" cy="2384.8" r="1.5"/></g><clipPath id="cpB2"><ellipse cx="299.0" cy="2335.0" rx="58.0" ry="58.2"/></clipPath><g clip-path="url(#cpB2)"><path d="M237.4,2272.1l124.2,0l0,125.8l-125.2,0l0-125.8l1,0z" fill="#c4bcff"/><path d="M237.4,2272.1l3.1,0l0,4.2l-4.1,0l0-4.2l1,0zM256.2,2272.1l105.4,0l0,125.8l-125.2,0l0-106.6l5.5-.3l15.6-9.4l1.1-2.1l-3.1-3.2l0-4.2l.7,0z" fill="#8474f6"/><path d="M278.1,2272.1l83.5,0l0,125.8l-125.2,0l0-92l6.2,0l2.1-.7l13.6-10.6l16.7-9.9l3.3-4.2l0-2.1l-1-2.1l0-4.2l.8,0z" fill="#4a1aff"/><path d="M299,2272.1l14.5,0l0,4.2l2.2,0l1.3,0l0-4.2l11,0l0,4.2l10.1,6.3l17.3,8.2l6.2,.6l0,106.5l-125.2,0l0-77.4l4.1,0l3.2-1.8l4.3-3.6l8.6-10.5l5.9-5.5l18.5-11.2l10.5-9.5l7.5-2.1l0-4.2z" fill="#3a00f0"/><path d="M299,2281.6l8.4-.8l9.3,1.6l6.3,2.6l15.7,8.7l7.5,5.7l5.6,6.3l2.8,5.2l2.9,9.5l4.1,0l0,77.5l-125.2,0l0-48.4l4.1,0l.9-11.4l2.3-8.7l9.4-10.4l8.1-11.2l4.4-4.7l6.3-4.5l13.1-7.6l9.8-7.6l4.2-1.8z" fill="#2c00c8"/><path d="M301.1,2286.7l5.2-.6l6.3,1.1l17.7,9l9.9,7.4l8.9,11l3.6,8.9l1.9,12.5l-.3,26.2l-1.6,11.6l-3.1,7.3l-4.8,6.3l-6.1,3.9l-10.7,2.4l0,4.2l-58,0l0-4.2l-8.6-2.3l-4.2-3l-3.7-5.2l-3.6-7.3l-1.9-6.3l-.8-6.3l-1.2-21l.6-6.3l2.8-5.2l8.9-9.3l7.3-10.6l4.7-5.2l5.7-4.2l25.1-14.8z" fill="#1c0088"/><path d="M302.1,2295.2l4.2-.6l5.2,1.1l16.7,7.8l5.8,5.3l8.8,12.2l2.9,6.7l1.2,7.3l-.1,21l-1,7.3l-3,6.5l-5.6,7.1l-5.8,5.2l-6.3,3.1l-8.4,1.7l-11.4,.6l-17.8-.1l-9.4-1.4l-5.2-1.8l-4.5-3.1l-3.9-4.4l-4.1-7.1l-2.9-8.4l-3.5-17.8l.1-5.3l2.1-4l7.3-7.7l8.4-12.7l5.3-5.9l6.4-4.2l18.5-8.4z" fill="#0a0040"/></g><ellipse cx="299.0" cy="2335.0" rx="58.0" ry="58.2" fill="none" stroke="#555" stroke-width="0.8"/><path d="M293.4,2277.4C293.8,2270.8 295.8,2267.6 299.0,2267.6S304.2,2270.8 304.6,2277.4" fill="none" stroke="#555" stroke-width="0.8"/><g fill="none" stroke="#000" stroke-width="0.95"><circle cx="299" cy="2282.8" r="1.5"/><circle cx="283" cy="2285.6" r="1.5"/><circle cx="315" cy="2285.6" r="1.5"/><circle cx="268.8" cy="2293.1" r="1.5"/><circle cx="329.7" cy="2293.1" r="1.5"/><circle cx="283" cy="2295.7" r="1.5"/><circle cx="299" cy="2296.1" r="1.5"/><circle cx="315" cy="2295.7" r="1.5"/><circle cx="256.9" cy="2304.4" r="1.5"/><circle cx="341.1" cy="2304.4" r="1.5"/><circle cx="267" cy="2306.7" r="1.5"/><circle cx="331" cy="2306.7" r="1.5"/><circle cx="277.5" cy="2308.1" r="1.5"/><circle cx="320.5" cy="2308.1" r="1.5"/><circle cx="288.5" cy="2308.7" r="1.5"/><circle cx="309.5" cy="2308.7" r="1.5"/><circle cx="299" cy="2308.7" r="1.5"/><circle cx="249.6" cy="2319.1" r="1.5"/><circle cx="348.4" cy="2319.1" r="1.5"/><circle cx="261.9" cy="2320.8" r="1.5"/><circle cx="336.1" cy="2320.8" r="1.5"/><circle cx="274.5" cy="2321.4" r="1.5"/><circle cx="323.5" cy="2321.4" r="1.5"/><circle cx="286.7" cy="2322.2" r="1.5"/><circle cx="311.3" cy="2322.2" r="1.5"/><circle cx="299" cy="2322.2" r="1.5"/><circle cx="247.8" cy="2335" r="1.5"/><circle cx="350.2" cy="2335" r="1.5"/><circle cx="259.8" cy="2335" r="1.5"/><circle cx="338.2" cy="2335" r="1.5"/><circle cx="273.3" cy="2335" r="1.5"/><circle cx="324.7" cy="2335" r="1.5"/><circle cx="286" cy="2335" r="1.5"/><circle cx="312" cy="2335" r="1.5"/><circle cx="299" cy="2335" r="1.5"/><circle cx="250" cy="2350.8" r="1.5"/><circle cx="348" cy="2350.8" r="1.5"/><circle cx="261.9" cy="2349.4" r="1.5"/><circle cx="336.1" cy="2349.4" r="1.5"/><circle cx="274.3" cy="2348.8" r="1.5"/><circle cx="323.7" cy="2348.8" r="1.5"/><circle cx="286.7" cy="2347.8" r="1.5"/><circle cx="311.3" cy="2347.8" r="1.5"/><circle cx="299" cy="2347.8" r="1.5"/><circle cx="257.4" cy="2365.5" r="1.5"/><circle cx="340.6" cy="2365.5" r="1.5"/><circle cx="267" cy="2362.9" r="1.5"/><circle cx="331" cy="2362.9" r="1.5"/><circle cx="277.5" cy="2362" r="1.5"/><circle cx="320.5" cy="2362" r="1.5"/><circle cx="288.5" cy="2361.1" r="1.5"/><circle cx="309.5" cy="2361.1" r="1.5"/><circle cx="299" cy="2361.1" r="1.5"/><circle cx="268.8" cy="2377" r="1.5"/><circle cx="329.2" cy="2377" r="1.5"/><circle cx="283" cy="2374.7" r="1.5"/><circle cx="315" cy="2374.7" r="1.5"/><circle cx="299" cy="2373.8" r="1.5"/><circle cx="283" cy="2384.4" r="1.5"/><circle cx="315" cy="2384.4" r="1.5"/><circle cx="299" cy="2386.7" r="1.5"/></g><clipPath id="cpB3"><ellipse cx="553.9" cy="2333.8" rx="57.5" ry="57.6"/></clipPath><g clip-path="url(#cpB3)"><path d="M526,2271.6l90,0l0,38.7l-5.2-.3l-30-11.2l-8.3-.6l-11.4,1.2l-4.1-.7l-2.1-1.3l-5.1-5.8l-3.1-2.5l-5.2-2.3l-9.6-2.8l-4-2l-2.7-4.2l0-6.2l.8,0z" fill="#f2c0c4"/><path d="M527,2302.3l4.1-.6l4.2,.9l10.8,7.4l4.7,1.9l5.2,.8l12.4-.2l6.2,.6l11.4,3.8l10.6,2.4l4.9,2.5l1.8,3.7l-.9,4.2l-1.9,2l-9.9,6.2l-6.7,10.5l-5.2,1.9l-14.5,1.2l-5.1,2l-3.7,3.1l-1.3,3.1l-.2,3.1l2.2,15.6l1.6,6.2l2.4,3.5l4.1,1.6l6.3-.1l3.1-2.1l7.2-9.8l9.9-6.6l4.6-7.6l2.8-2.7l7.5-2.1l10.4,.9l0,36.4l-124.2,0l0-65.7l4.1,0l2.9-5.8l2.3-2.8l12.4-8.1l9.3-8.8l4.2-2.5zM602.5,2377.3l-2.3,1.1l-1.9,2.1l-1.2,4.1l.4,3.1l3,2.1l8.3,0l1.5-1l.8-3.2l-1.1-6.2l-2.3-2.1l-5.2,0z" fill="#c4bcff"/><path d="M548.7,2271.6l67.3,0l0,27l-8.3,.7l-4.1-.6l-24.9-9.5l-14.5-7.6l-14.5-4.8l-1.2-1.1l.2-4.1z" fill="#e47880"/><path d="M527,2312.9l5.2-.5l8.2,3.9l4.2,1l18.6,.5l6.9,1.5l2.7,2.1l1.8,4.1l-.4,5.2l-2.1,6.2l-2.8,3.1l-4,2.3l-6.2,2.1l-5.2,.6l-4.1-.6l-4.2-1.7l-8.3-7l-3.1-1.6l-4.1,.1l-12.4,2.8l-5.2-.2l-3.1-1.3l-1.6-1.7l-.4-2.1l2.3-5.2l12.1-10.2l5.2-3.4z" fill="#8474f6"/><path d="M568.4,2271.6l47.6,0l0,11l-4.1,0l-13.5,2.4l-12.4-1.3l-6.2-2.1l-11.5-5.9l.1-4.1z" fill="#d81838"/><path d="M554.9,2324.4l5.8,1.1l1.8,2.1l.4,2.1l-.7,3.1l-1.5,2l-2.7,1.9l-3.1,.8l-2.8-.6l-2.3-1.5l-1.7-2.6l-.3-2.1l.3-2.1l1.4-2.1l2.3-1.4l3.1-.7z" fill="#4a1aff"/><path d="M582.9,2271.6l14.1,0l0,4.1l-4.8,1.3l-7.3-.4l-2.2-.9l.2-4.1z" fill="#e00010"/><path d="M616,2348.2 611.9,2348.2 608.8,2351.8 604.6,2353.3 598.4,2353.4 594.4,2351.4 594.1,2347.3 596.5,2343.1 606.7,2337 608.8,2334.8 610.3,2328.6 610.1,2321.4 608.8,2317.9 605.6,2315 587,2308.5 576.7,2306.6 554.9,2307.3 549.8,2305 542.5,2298.2 538.4,2295.6 533.2,2294.1 527,2293.6 522.8,2294.2 519.7,2295.8 512.5,2306.4 506.3,2311.2 500.1,2312.7 498,2312.1 495.9,2310.1 491.8,2310.1M573.6,2357.5 583.9,2358 586,2359.7 586.2,2362.8 583,2368 570.5,2379.9 567.4,2381 564.9,2379.4 563.2,2375.8 562.6,2371.1 563.2,2365.9 566.3,2360.6 569.4,2358.6 573.6,2357.5" fill="none" stroke="#d4d4d4" stroke-width="0.6"/></g><ellipse cx="553.9" cy="2333.8" rx="57.5" ry="57.6" fill="none" stroke="#555" stroke-width="0.8"/><path d="M548.3,2276.8C548.7,2270.2 550.7,2267.0 553.9,2267.0S559.1,2270.2 559.5,2276.8" fill="none" stroke="#555" stroke-width="0.8"/><g fill="none" stroke="#000" stroke-width="0.95"><circle cx="553.9" cy="2282.2" r="1.5"/><circle cx="538" cy="2284.9" r="1.5"/><circle cx="569.8" cy="2284.9" r="1.5"/><circle cx="523.9" cy="2292.3" r="1.5"/><circle cx="584.3" cy="2292.3" r="1.5"/><circle cx="538" cy="2294.9" r="1.5"/><circle cx="553.9" cy="2295.3" r="1.5"/><circle cx="569.8" cy="2294.9" r="1.5"/><circle cx="512.2" cy="2303.5" r="1.5"/><circle cx="595.6" cy="2303.5" r="1.5"/><circle cx="522.1" cy="2305.8" r="1.5"/><circle cx="585.7" cy="2305.8" r="1.5"/><circle cx="532.5" cy="2307.1" r="1.5"/><circle cx="575.3" cy="2307.1" r="1.5"/><circle cx="543.5" cy="2307.8" r="1.5"/><circle cx="564.3" cy="2307.8" r="1.5"/><circle cx="553.9" cy="2307.8" r="1.5"/><circle cx="504.9" cy="2318.1" r="1.5"/><circle cx="602.9" cy="2318.1" r="1.5"/><circle cx="517.1" cy="2319.7" r="1.5"/><circle cx="590.7" cy="2319.7" r="1.5"/><circle cx="529.6" cy="2320.4" r="1.5"/><circle cx="578.2" cy="2320.4" r="1.5"/><circle cx="541.7" cy="2321.1" r="1.5"/><circle cx="566.1" cy="2321.1" r="1.5"/><circle cx="553.9" cy="2321.1" r="1.5"/><circle cx="503.1" cy="2333.8" r="1.5"/><circle cx="604.7" cy="2333.8" r="1.5"/><circle cx="515" cy="2333.8" r="1.5"/><circle cx="592.8" cy="2333.8" r="1.5"/><circle cx="528.5" cy="2333.8" r="1.5"/><circle cx="579.3" cy="2333.8" r="1.5"/><circle cx="541" cy="2333.8" r="1.5"/><circle cx="566.8" cy="2333.8" r="1.5"/><circle cx="553.9" cy="2333.8" r="1.5"/><circle cx="505.4" cy="2349.5" r="1.5"/><circle cx="602.4" cy="2349.5" r="1.5"/><circle cx="517.1" cy="2348.1" r="1.5"/><circle cx="590.7" cy="2348.1" r="1.5"/><circle cx="529.4" cy="2347.4" r="1.5"/><circle cx="578.4" cy="2347.4" r="1.5"/><circle cx="541.7" cy="2346.5" r="1.5"/><circle cx="566.1" cy="2346.5" r="1.5"/><circle cx="553.9" cy="2346.5" r="1.5"/><circle cx="512.6" cy="2364" r="1.5"/><circle cx="595.2" cy="2364" r="1.5"/><circle cx="522.1" cy="2361.4" r="1.5"/><circle cx="585.7" cy="2361.4" r="1.5"/><circle cx="532.5" cy="2360.5" r="1.5"/><circle cx="575.3" cy="2360.5" r="1.5"/><circle cx="543.5" cy="2359.6" r="1.5"/><circle cx="564.3" cy="2359.6" r="1.5"/><circle cx="553.9" cy="2359.6" r="1.5"/><circle cx="523.9" cy="2375.3" r="1.5"/><circle cx="583.9" cy="2375.3" r="1.5"/><circle cx="538" cy="2373.1" r="1.5"/><circle cx="569.8" cy="2373.1" r="1.5"/><circle cx="553.9" cy="2372.2" r="1.5"/><circle cx="538" cy="2382.6" r="1.5"/><circle cx="569.8" cy="2382.6" r="1.5"/><circle cx="553.9" cy="2384.9" r="1.5"/></g><clipPath id="cpB4"><ellipse cx="687.5" cy="2327.4" rx="59.0" ry="60.5"/></clipPath><g clip-path="url(#cpB4)"><path d="M624.8,2262.1l3.2,0l0,4.3l1.1,2.2l2.1,11.4l1.1,2.4l2.1,1.4l2.1-.7l2.1-2l4.2-7.1l1.4-4.3l-.9-3.3l0-4.3l14.7,0l0,4.3l3,3.5l1,4.1l-1,8.8l-3.3,7.6l-5.2,5.3l-11.9,6.7l-4,3.2l-4.8,6.6l-1.6,7.9l-1.1,.9l-1.1-.9l-4.2,0l0-2.2l4.2,0l.7-3.6l-.7-2l-4.2,0l0-50.2l1,0z" fill="#f2c0c4"/><path d="M680.1,2262.1l71.1,0l0,76.4l-4.2,0l-1.1,.8l-13.4,17.5l-3.4,3.3l-17.3,8.7l-26.6,19.6l0,4.3l-8.3,0l0-4.3l-3.7-2.2l-1.9-2.2l-5.3-15.2l-11.5-12l-1.7-4.4l-.6-4.3l2.6-18.5l-2-12l.4-4.4l2.2-4.3l11.1-13.1l10.7-19.6l2.5-6.5l.4-7.6z" fill="#c4bcff"/><path d="M687.5,2262.1l29.5,0l0,4.3l10.1,6.6l7.8,8.7l3.8,6.5l1.6,6.5l.1,6.6l-2.7,27.2l-2.5,7.6l-7.1,13.1l-3.7,5.4l-5,4.4l-14.9,8.2l-6.4,2.1l-4.2-.1l-3.2-1l-9.9-8.1l-11.4-3.4l-4.2-2.1l-3.2-3.2l-1.6-5.5l.9-15.2l-2.1-13.1l.3-4.4l2.2-4.3l7.4-9.8l7.8-12.4l10.8-13.7l.7-3.3l-.9-3.3l0-4.3z" fill="#8474f6"/><path d="M701.3,2279.4l7.4,0l5.3,1.2l4.3,2.3l4.2,4.2l3.6,5.5l2.6,6.5l1.1,6.5l.5,10.9l-.4,7.6l-1.5,6.6l-10.7,19.6l-2.6,3.2l-4.1,3.3l-4.4,2.2l-4.2,.8l-4.7-1.9l-6-7l-3.5-2.8l-3.9-1.3l-9.5-1.1l-4.3-2.3l-2.3-5.1l-3.1-21.8l.4-3.3l1.9-4.3l10.5-15.9l4.3-5.1l4.2-3.7l4.3-2.4l5.3-1.7l5.3-.7z" fill="#4a1aff"/><path d="M692.8,2287.9l9.6-.5l4.2,1l4.3,2.2l3.4,3l3.3,4.4l2.8,5.4l1.7,5.5l1,10.9l-.8,5.4l-1.5,4.4l-3.3,5.4l-4.5,5.5l-4.3,4l-3.1,1.6l-4.3-.3l-9.6-4.6l-13.8-4.7l-3.7-4.7l-2.5-8.8l-.6-8.7l3.7-8.7l8.6-12l4.1-3.3l5.3-2.4z" fill="#3a00f0"/><path d="M692.8,2294.5l7.4-.3l6.1,2.7l5.6,6.4l3.3,7.8l.8,7.6l-1.8,7.6l-4.4,6.2l-6.4,3.6l-7.4-.3l-11.7-3.9l-4.2-3.9l-2.6-6l-.5-7.7l2.9-7.6l6.5-8.7l6.4-3.5z" fill="#2c00c8"/><path d="M694.9,2302.2l4.3,.5l3.2,1.9l3.3,4.3l1.9,5.4l-.1,5.5l-1.8,4.3l-3.3,3.2l-3.2,1.2l-5.3-.2l-5.1-2l-3.2-3.3l-1.6-4.3l.2-5.5l2.2-5l4.3-4.4l4.2-1.6z" fill="#1c0088"/><path d="M672.7,2262.1 666.3,2286.5 651.4,2305 645.4,2318.7 656.7,2368.9 663.9,2381.8 662.7,2392.7M699.1,2392.7 705.6,2381.6 723.6,2369.6 742.3,2360.1 751.2,2354M634.4,2374.2 631.4,2381.8 636.5,2385.3 638.6,2384 637.6,2375.2 634.4,2374.2" fill="none" stroke="#d4d4d4" stroke-width="0.6"/></g><ellipse cx="687.5" cy="2327.4" rx="59.0" ry="60.5" fill="none" stroke="#555" stroke-width="0.8"/><path d="M681.9,2267.5C682.3,2260.9 684.3,2257.7 687.5,2257.7S692.7,2260.9 693.1,2267.5" fill="none" stroke="#555" stroke-width="0.8"/><g fill="none" stroke="#000" stroke-width="0.95"><circle cx="687.5" cy="2273.2" r="1.5"/><circle cx="671.2" cy="2276" r="1.5"/><circle cx="703.8" cy="2276" r="1.5"/><circle cx="656.8" cy="2283.8" r="1.5"/><circle cx="718.7" cy="2283.8" r="1.5"/><circle cx="671.2" cy="2286.5" r="1.5"/><circle cx="687.5" cy="2287" r="1.5"/><circle cx="703.8" cy="2286.5" r="1.5"/><circle cx="644.7" cy="2295.6" r="1.5"/><circle cx="730.3" cy="2295.6" r="1.5"/><circle cx="654.9" cy="2298" r="1.5"/><circle cx="720.1" cy="2298" r="1.5"/><circle cx="665.6" cy="2299.4" r="1.5"/><circle cx="709.4" cy="2299.4" r="1.5"/><circle cx="676.8" cy="2300.1" r="1.5"/><circle cx="698.2" cy="2300.1" r="1.5"/><circle cx="687.5" cy="2300.1" r="1.5"/><circle cx="637.2" cy="2310.9" r="1.5"/><circle cx="737.8" cy="2310.9" r="1.5"/><circle cx="649.8" cy="2312.6" r="1.5"/><circle cx="725.2" cy="2312.6" r="1.5"/><circle cx="662.6" cy="2313.3" r="1.5"/><circle cx="712.4" cy="2313.3" r="1.5"/><circle cx="674.9" cy="2314.1" r="1.5"/><circle cx="700.1" cy="2314.1" r="1.5"/><circle cx="687.5" cy="2314.1" r="1.5"/><circle cx="635.4" cy="2327.4" r="1.5"/><circle cx="739.6" cy="2327.4" r="1.5"/><circle cx="647.6" cy="2327.4" r="1.5"/><circle cx="727.4" cy="2327.4" r="1.5"/><circle cx="661.4" cy="2327.4" r="1.5"/><circle cx="713.6" cy="2327.4" r="1.5"/><circle cx="674.2" cy="2327.4" r="1.5"/><circle cx="700.8" cy="2327.4" r="1.5"/><circle cx="687.5" cy="2327.4" r="1.5"/><circle cx="637.7" cy="2343.8" r="1.5"/><circle cx="737.3" cy="2343.8" r="1.5"/><circle cx="649.8" cy="2342.4" r="1.5"/><circle cx="725.2" cy="2342.4" r="1.5"/><circle cx="662.3" cy="2341.7" r="1.5"/><circle cx="712.7" cy="2341.7" r="1.5"/><circle cx="674.9" cy="2340.7" r="1.5"/><circle cx="700.1" cy="2340.7" r="1.5"/><circle cx="687.5" cy="2340.7" r="1.5"/><circle cx="645.1" cy="2359.1" r="1.5"/><circle cx="729.9" cy="2359.1" r="1.5"/><circle cx="654.9" cy="2356.4" r="1.5"/><circle cx="720.1" cy="2356.4" r="1.5"/><circle cx="665.6" cy="2355.5" r="1.5"/><circle cx="709.4" cy="2355.5" r="1.5"/><circle cx="676.8" cy="2354.5" r="1.5"/><circle cx="698.2" cy="2354.5" r="1.5"/><circle cx="687.5" cy="2354.5" r="1.5"/><circle cx="656.8" cy="2371" r="1.5"/><circle cx="718.2" cy="2371" r="1.5"/><circle cx="671.2" cy="2368.6" r="1.5"/><circle cx="703.8" cy="2368.6" r="1.5"/><circle cx="687.5" cy="2367.7" r="1.5"/><circle cx="671.2" cy="2378.7" r="1.5"/><circle cx="703.8" cy="2378.7" r="1.5"/><circle cx="687.5" cy="2381.1" r="1.5"/></g><clipPath id="cpB5"><ellipse cx="921.2" cy="2330.5" rx="59.3" ry="59.3"/></clipPath><g clip-path="url(#cpB5)"><path d="M912.7,2266.5l72.5,0l0,53.2l-18.1,1.4l-24.6,0l-4.2-1.7l-10.7-6.7l-14.9-4.8l-2.4-3l-.8-5.4l.7-8.5l2.6-13.9l-.1-10.6z" fill="#f2c0c4"/><path d="M858.2,2266.5l38.1,0l0,4.2l2.8,6.4l.3,6.4l-1.4,8.6l-5.6,16l-4.2,19.2l.3,7.5l2.8,5l3.2,1.9l3.2-.4l5.7-8.7l3-2.1l4.1-1.5l6.4-.5l5.4,2.9l8.5,9.8l3,6.4l.5,4.2l-.7,5.4l-4.8,11.7l.7,3.2l3.4,2.6l3.2,.3l31-3l7.5-1.7l6.4-2.8l4.2,0l0,27l-128,0l0-128l1,0z" fill="#c4bcff"/><path d="M922.3,2266.5l62.9,0l0,34.4l-5.3,.2l-14.9,8.4l-5.4,1.7l-6.4,.8l-6.4-.1l-6.4-1.2l-17.1-6.4l-4.4-3.7l-1.5-5.3l.6-5.4l3.2-12.8l0-10.6l1.1,0z" fill="#e47880"/><path d="M858.2,2266.5l3.2,0l0,4.2l2.1,2.2l-.4,8.5l-1.7,4.6l-4.2,0l0-19.5l1,0zM877.4,2266.5l0,4.2l0-4.2zM879.6,2271.7l6.4,1.4l3.8,1.9l2.4,3.2l.8,4.3l-1.7,7.1l-5.9,8.9l-2.1,4.2l-5.5,21.4l-1.6,14.9l.5,6.4l1.4,4.3l3,4.3l8.1,6.6l7.4,8.3l11.8,7.6l8.5,9.6l5.4,2.5l13.7,1.7l0,4.2l-78.8,0l0-72.8l4.2,0l1.1-2.1l6.4-19l7-11.7l1.5-6.4l.9-9.6l.2-.8l1.1-.4z" fill="#8474f6"/><path d="M928.7,2266.5l56.5,0l0,14.3l-4.2,0l-14.4,9.1l-9.4,8.6l-5,3.1l-7.5,1.6l-8.6-.8l-6.8-2.9l-2.1-2.1l-1.5-3.2l-.1-6.4l2.2-13.9l.2-7.4l.7,0z" fill="#d81838"/><path d="M936.1,2266.5l24.8,0l0,4.2l-8.6,6.4l-6.6,11.8l-2.1,2.1l-3.2,1.5l-4.3-.9l-1.5-1.7l-1.1-3.2l.1-6.4l2.4-9.6l.1-4.2z" fill="#e00010"/><path d="M985.2,2352.8 970.9,2359.3 955.4,2364.9 945.2,2358.3 931.9,2330.3 915.9,2318.2 900.5,2314.5 903.6,2293.1 904,2266.5" fill="none" stroke="#d4d4d4" stroke-width="0.6"/></g><ellipse cx="921.2" cy="2330.5" rx="59.3" ry="59.3" fill="none" stroke="#555" stroke-width="0.8"/><path d="M915.6,2271.8C916.0,2265.2 918.0,2262.0 921.2,2262.0S926.4,2265.2 926.8,2271.8" fill="none" stroke="#555" stroke-width="0.8"/><g fill="none" stroke="#000" stroke-width="0.95"><circle cx="921.2" cy="2277.3" r="1.5"/><circle cx="904.8" cy="2280.2" r="1.5"/><circle cx="937.6" cy="2280.2" r="1.5"/><circle cx="890.3" cy="2287.8" r="1.5"/><circle cx="952.6" cy="2287.8" r="1.5"/><circle cx="904.8" cy="2290.4" r="1.5"/><circle cx="921.2" cy="2290.9" r="1.5"/><circle cx="937.6" cy="2290.4" r="1.5"/><circle cx="878.2" cy="2299.3" r="1.5"/><circle cx="964.2" cy="2299.3" r="1.5"/><circle cx="888.4" cy="2301.6" r="1.5"/><circle cx="954" cy="2301.6" r="1.5"/><circle cx="899.2" cy="2303" r="1.5"/><circle cx="943.2" cy="2303" r="1.5"/><circle cx="910.5" cy="2303.7" r="1.5"/><circle cx="931.9" cy="2303.7" r="1.5"/><circle cx="921.2" cy="2303.7" r="1.5"/><circle cx="870.7" cy="2314.3" r="1.5"/><circle cx="971.7" cy="2314.3" r="1.5"/><circle cx="883.3" cy="2316" r="1.5"/><circle cx="959.1" cy="2316" r="1.5"/><circle cx="896.1" cy="2316.7" r="1.5"/><circle cx="946.3" cy="2316.7" r="1.5"/><circle cx="908.6" cy="2317.4" r="1.5"/><circle cx="933.8" cy="2317.4" r="1.5"/><circle cx="921.2" cy="2317.4" r="1.5"/><circle cx="868.8" cy="2330.5" r="1.5"/><circle cx="973.6" cy="2330.5" r="1.5"/><circle cx="881.1" cy="2330.5" r="1.5"/><circle cx="961.3" cy="2330.5" r="1.5"/><circle cx="895" cy="2330.5" r="1.5"/><circle cx="947.4" cy="2330.5" r="1.5"/><circle cx="907.9" cy="2330.5" r="1.5"/><circle cx="934.5" cy="2330.5" r="1.5"/><circle cx="921.2" cy="2330.5" r="1.5"/><circle cx="871.1" cy="2346.6" r="1.5"/><circle cx="971.3" cy="2346.6" r="1.5"/><circle cx="883.3" cy="2345.2" r="1.5"/><circle cx="959.1" cy="2345.2" r="1.5"/><circle cx="895.9" cy="2344.5" r="1.5"/><circle cx="946.5" cy="2344.5" r="1.5"/><circle cx="908.6" cy="2343.6" r="1.5"/><circle cx="933.8" cy="2343.6" r="1.5"/><circle cx="921.2" cy="2343.6" r="1.5"/><circle cx="878.6" cy="2361.6" r="1.5"/><circle cx="963.8" cy="2361.6" r="1.5"/><circle cx="888.4" cy="2358.9" r="1.5"/><circle cx="954" cy="2358.9" r="1.5"/><circle cx="899.2" cy="2358" r="1.5"/><circle cx="943.2" cy="2358" r="1.5"/><circle cx="910.5" cy="2357.1" r="1.5"/><circle cx="931.9" cy="2357.1" r="1.5"/><circle cx="921.2" cy="2357.1" r="1.5"/><circle cx="890.3" cy="2373.3" r="1.5"/><circle cx="952.1" cy="2373.3" r="1.5"/><circle cx="904.8" cy="2370.9" r="1.5"/><circle cx="937.6" cy="2370.9" r="1.5"/><circle cx="921.2" cy="2370" r="1.5"/><circle cx="904.8" cy="2380.8" r="1.5"/><circle cx="937.6" cy="2380.8" r="1.5"/><circle cx="921.2" cy="2383.1" r="1.5"/></g><clipPath id="cpB6"><ellipse cx="1055.6" cy="2328.0" rx="59.1" ry="59.1"/></clipPath><g clip-path="url(#cpB6)"><path d="M992.8,2264.2l126.6,0l0,40.2l-20.2,2.3l-30.8-4.9l-11.7-.1l-13.9,1.6l-3.2-1.6l-5.3-7.6l-3.2-3.2l-3.2-2l-3.2-.8l-2.1,.2l-2.3,1.4l-5,9.6l-3.3,3.2l-5.3,1.9l-4.3-.5l-3.2-2.5l-3.2-7.5l-4.2,0l0-29.7l1,0z" fill="#f2c0c4"/><path d="M1060.9,2312.9l6.4-.2l5.3,1.2l13.9,7.5l6.3,2.4l14.9,1.7l7.5,2.5l4.2,0l0,63.8l-127.6,0l0-49l10.6-1l14.9-.1l5.3-1.1l3.2-2.2l5.5-8.3l4.2-4.2l15.8-9.7l9.6-3.3z" fill="#c4bcff"/><path d="M1026.9,2264.2l92.5,0l0,29.3l-4.2,0l-8.5,2.2l-8.5,.8l-35.2-.7l-12.7-1.7l-4.3-2l-3-2.4l-13.8-14.9l-3-5.3l-.2-5.3l.9,0z" fill="#e47880"/><path d="M1059.9,2318.2l6.3-.4l6.2,1.7l5.5,3.8l3.8,4.7l.9,3.2l-.7,4.2l-5.8,9.6l-1.5,4.3l.1,2.1l2.2,2.6l4.2,1.6l4.3,.4l22.3-.9l3.3,.6l4.2,1.8l4.2,0l0,34.3l-127.6,0l0-26.1l4.2,0l3.2-.9l7.5-5.6l3.2-1.4l18-.4l6.4-1.4l4.3-2l2.1-2.5l.6-2.2l-1-12.8l1.8-6.4l2.4-3.2l5.2-4.2l4.8-2.7l5.4-1.8z" fill="#8474f6"/><path d="M1041.8,2264.2l77.6,0l0,19.5l-9.5,.1l-13.9,4l-9.5,1.5l-21.3,.5l-8.5-1l-6.9-3.4l-5.3-6.3l-3.5-8.5l-.2-6.4l1,0z" fill="#d81838"/><path d="M1058.8,2324.5l5.3-.7l4.1,1l2.8,2.1l1.1,3.2l-1,3.2l-3.8,3.8l-5.3,2.6l-4.3,.6l-3.2-.9l-2.1-1.8l-1.2-2.2l-.3-3.1l2.1-4.3l5.8-3.5zM1033.3,2368.4l15.9,1l19.2,5l3.2-.3l12.7-4.6l5.3-.4l5.4,.8l5.4,2.8l6.3,7l2.1,1.3l2.1,0l4.3-3.4l4.2,0l0,14.2l-108.1,0l0-4.2l4.5-9.6l3.1-4.3l5.8-3.7l8.6-1.6zM992.8,2381.8l3.2,0l.9,1.5l.3,2.1l-1.2,2.2l0,4.2l-4.2,0l0-10l1,0z" fill="#4a1aff"/><path d="M1059.9,2264.2l43.5,0l0,4.2l-1.4,3.2l-3.6,4.3l-4.3,3.2l-4.5,1.9l-8.5,1.4l-18.1-.8l-5.5-1.5l-2.5-2.1l-1-2.1l.5-3.3l5.1-4.2l.3-4.2z" fill="#e00010"/><path d="M1119.4,2316.5 1057.7,2308 1021.8,2322.7 1003.5,2333.4 991.8,2332.2" fill="none" stroke="#d4d4d4" stroke-width="0.6"/></g><ellipse cx="1055.6" cy="2328.0" rx="59.1" ry="59.1" fill="none" stroke="#555" stroke-width="0.8"/><path d="M1050.0,2269.5C1050.4,2262.9 1052.4,2259.7 1055.6,2259.7S1060.8,2262.9 1061.2,2269.5" fill="none" stroke="#555" stroke-width="0.8"/><g fill="none" stroke="#000" stroke-width="0.95"><circle cx="1055.6" cy="2275" r="1.5"/><circle cx="1039.3" cy="2277.8" r="1.5"/><circle cx="1071.9" cy="2277.8" r="1.5"/><circle cx="1024.8" cy="2285.4" r="1.5"/><circle cx="1086.9" cy="2285.4" r="1.5"/><circle cx="1039.3" cy="2288.1" r="1.5"/><circle cx="1055.6" cy="2288.5" r="1.5"/><circle cx="1071.9" cy="2288.1" r="1.5"/><circle cx="1012.7" cy="2296.9" r="1.5"/><circle cx="1098.5" cy="2296.9" r="1.5"/><circle cx="1022.9" cy="2299.2" r="1.5"/><circle cx="1088.3" cy="2299.2" r="1.5"/><circle cx="1033.7" cy="2300.6" r="1.5"/><circle cx="1077.5" cy="2300.6" r="1.5"/><circle cx="1044.9" cy="2301.3" r="1.5"/><circle cx="1066.3" cy="2301.3" r="1.5"/><circle cx="1055.6" cy="2301.3" r="1.5"/><circle cx="1005.2" cy="2311.9" r="1.5"/><circle cx="1106" cy="2311.9" r="1.5"/><circle cx="1017.8" cy="2313.6" r="1.5"/><circle cx="1093.4" cy="2313.6" r="1.5"/><circle cx="1030.6" cy="2314.2" r="1.5"/><circle cx="1080.6" cy="2314.2" r="1.5"/><circle cx="1043" cy="2315" r="1.5"/><circle cx="1068.2" cy="2315" r="1.5"/><circle cx="1055.6" cy="2315" r="1.5"/><circle cx="1003.4" cy="2328" r="1.5"/><circle cx="1107.8" cy="2328" r="1.5"/><circle cx="1015.7" cy="2328" r="1.5"/><circle cx="1095.5" cy="2328" r="1.5"/><circle cx="1029.5" cy="2328" r="1.5"/><circle cx="1081.7" cy="2328" r="1.5"/><circle cx="1042.3" cy="2328" r="1.5"/><circle cx="1068.9" cy="2328" r="1.5"/><circle cx="1055.6" cy="2328" r="1.5"/><circle cx="1005.7" cy="2344.1" r="1.5"/><circle cx="1105.5" cy="2344.1" r="1.5"/><circle cx="1017.8" cy="2342.7" r="1.5"/><circle cx="1093.4" cy="2342.7" r="1.5"/><circle cx="1030.4" cy="2342" r="1.5"/><circle cx="1080.8" cy="2342" r="1.5"/><circle cx="1043" cy="2341" r="1.5"/><circle cx="1068.2" cy="2341" r="1.5"/><circle cx="1055.6" cy="2341" r="1.5"/><circle cx="1013.2" cy="2359" r="1.5"/><circle cx="1098" cy="2359" r="1.5"/><circle cx="1022.9" cy="2356.3" r="1.5"/><circle cx="1088.3" cy="2356.3" r="1.5"/><circle cx="1033.7" cy="2355.4" r="1.5"/><circle cx="1077.5" cy="2355.4" r="1.5"/><circle cx="1044.9" cy="2354.5" r="1.5"/><circle cx="1066.3" cy="2354.5" r="1.5"/><circle cx="1055.6" cy="2354.5" r="1.5"/><circle cx="1024.8" cy="2370.6" r="1.5"/><circle cx="1086.4" cy="2370.6" r="1.5"/><circle cx="1039.3" cy="2368.3" r="1.5"/><circle cx="1071.9" cy="2368.3" r="1.5"/><circle cx="1055.6" cy="2367.4" r="1.5"/><circle cx="1039.3" cy="2378.1" r="1.5"/><circle cx="1071.9" cy="2378.1" r="1.5"/><circle cx="1055.6" cy="2380.5" r="1.5"/></g>
</svg></body></html>
